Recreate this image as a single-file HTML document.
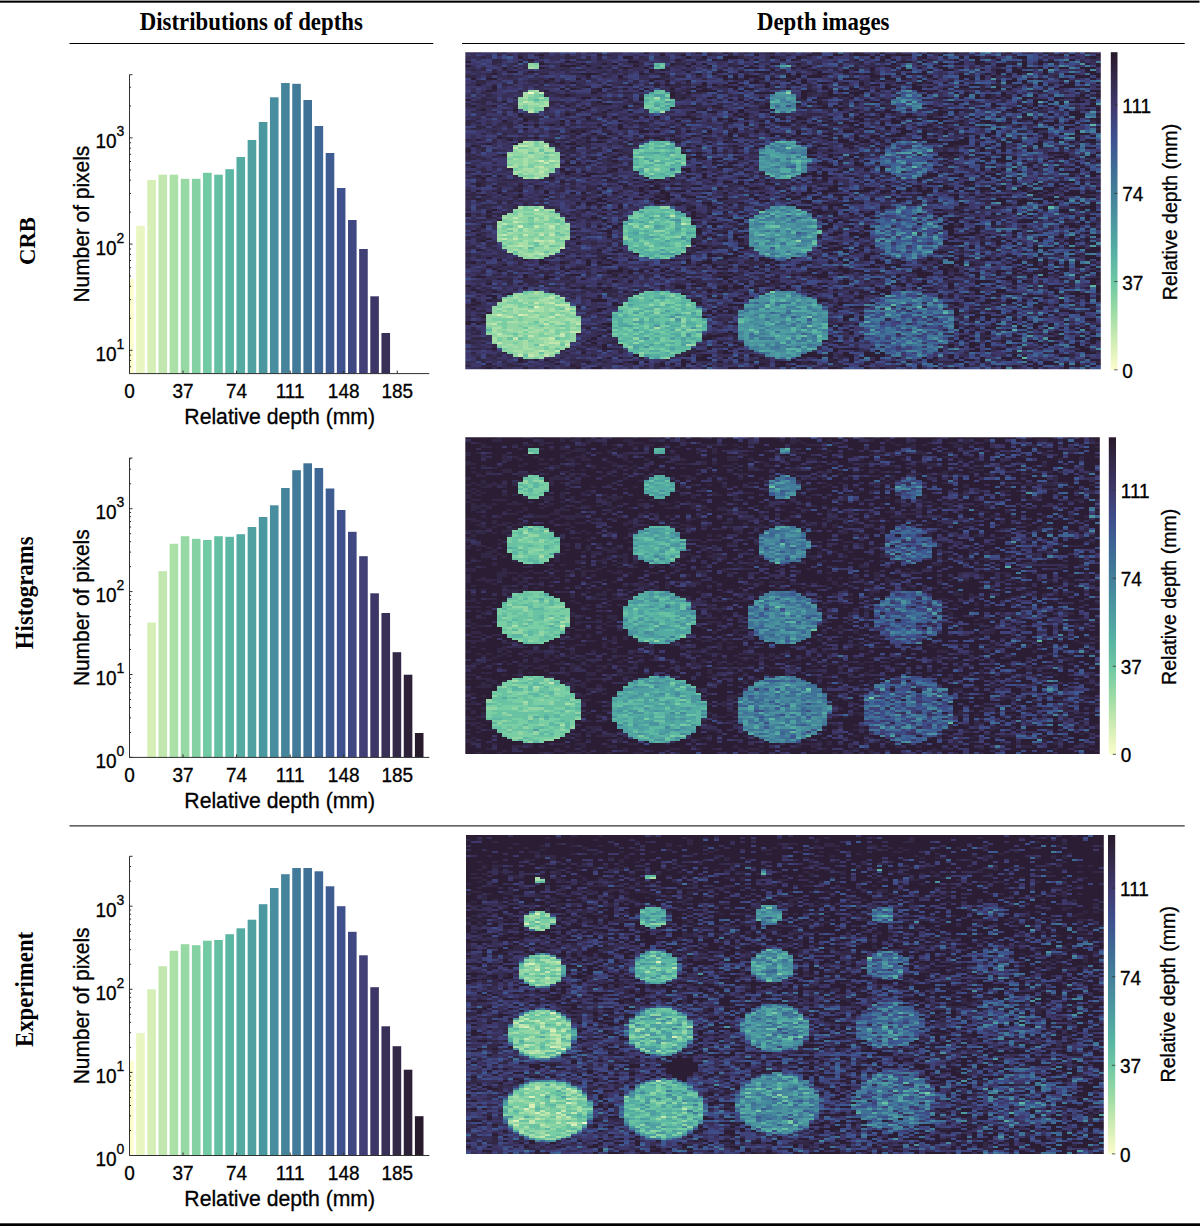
<!DOCTYPE html>
<html><head><meta charset="utf-8"><title>Depth figure</title>
<style>html,body{margin:0;padding:0;background:#fff}svg{display:block}text{fill:#000}.s{font-family:"Liberation Sans",sans-serif;stroke:#000;stroke-width:.3px}.b{font-family:"Liberation Serif",serif;font-weight:bold}</style></head>
<body>
<svg width="1200" height="1226" viewBox="0 0 1200 1226">
<rect width="1200" height="1226" fill="#fff"/>
<rect x="0" y="0.6" width="1199.5" height="2.1" fill="#000"/>
<rect x="0" y="1223.3" width="1200" height="2.7" fill="#000"/>
<rect x="69.5" y="43" width="363.8" height="1" fill="#000"/>
<rect x="462" y="43" width="722.7" height="1" fill="#000"/>
<rect x="69.5" y="825.4" width="1115.2" height="1" fill="#000"/>
<text class="b" transform="translate(251.30,30.20) scale(1,1.07)" text-anchor="middle" font-size="22.8">Distributions of depths</text>
<text class="b" transform="translate(823.20,30.20) scale(1,1.07)" text-anchor="middle" font-size="22.8">Depth images</text>
<text class="b" transform="translate(35.10,241.00) rotate(-90) scale(1,1.02)" text-anchor="middle" font-size="22.8">CRB</text>
<text class="b" transform="translate(33.30,592.80) rotate(-90) scale(1,1.07)" text-anchor="middle" font-size="22.8">Histograms</text>
<text class="b" transform="translate(33.30,989.40) rotate(-90) scale(1,1.07)" text-anchor="middle" font-size="22.8">Experiment</text>
<rect x="129.50" y="278.70" width="4.10" height="94.90" fill="#fdfdcc"/>
<rect x="136.15" y="225.80" width="8.60" height="147.80" fill="#e9f6c1"/>
<rect x="147.30" y="180.00" width="8.60" height="193.60" fill="#d5efb7"/>
<rect x="158.45" y="174.70" width="8.60" height="198.90" fill="#c1e7af"/>
<rect x="169.60" y="174.70" width="8.60" height="198.90" fill="#abe0a9"/>
<rect x="180.75" y="178.80" width="8.60" height="194.80" fill="#97d9a5"/>
<rect x="191.90" y="178.80" width="8.60" height="194.80" fill="#84d1a4"/>
<rect x="203.05" y="172.80" width="8.60" height="200.80" fill="#71caa3"/>
<rect x="214.20" y="174.70" width="8.60" height="198.90" fill="#65c0a3"/>
<rect x="225.35" y="169.20" width="8.60" height="204.40" fill="#5bb6a3"/>
<rect x="236.50" y="157.00" width="8.60" height="216.60" fill="#54aba2"/>
<rect x="247.65" y="140.00" width="8.60" height="233.60" fill="#4fa1a1"/>
<rect x="258.80" y="122.00" width="8.60" height="251.60" fill="#4b97a0"/>
<rect x="269.95" y="97.30" width="8.60" height="276.30" fill="#488e9e"/>
<rect x="281.10" y="83.00" width="8.60" height="290.60" fill="#45849b"/>
<rect x="292.25" y="83.80" width="8.60" height="289.80" fill="#427a99"/>
<rect x="303.40" y="100.00" width="8.60" height="273.60" fill="#3f7197"/>
<rect x="314.55" y="126.00" width="8.60" height="247.60" fill="#3e6795"/>
<rect x="325.70" y="153.00" width="8.60" height="220.60" fill="#3e5c92"/>
<rect x="336.85" y="188.00" width="8.60" height="185.60" fill="#3e518e"/>
<rect x="348.00" y="220.00" width="8.60" height="153.60" fill="#3f4882"/>
<rect x="359.15" y="249.00" width="8.60" height="124.60" fill="#403f76"/>
<rect x="370.30" y="296.30" width="8.60" height="77.30" fill="#3d3767"/>
<rect x="381.45" y="333.00" width="8.60" height="40.60" fill="#393057"/>
<path d="M129.5 74.7V373.6H429.3" fill="none" stroke="#303030" stroke-width="1"/>
<text class="s" transform="translate(129.50,398.20) scale(1,1.08)" text-anchor="middle" font-size="19">0</text>
<text class="s" transform="translate(183.05,398.20) scale(1,1.08)" text-anchor="middle" font-size="19">37</text>
<text class="s" transform="translate(236.60,398.20) scale(1,1.08)" text-anchor="middle" font-size="19">74</text>
<text class="s" transform="translate(290.15,398.20) scale(1,1.08)" text-anchor="middle" font-size="19">111</text>
<text class="s" transform="translate(343.70,398.20) scale(1,1.08)" text-anchor="middle" font-size="19">148</text>
<text class="s" transform="translate(397.25,398.20) scale(1,1.08)" text-anchor="middle" font-size="19">185</text>
<path d="M129.50 373.6v-3M183.05 373.6v-3M236.60 373.6v-3M290.15 373.6v-3M343.70 373.6v-3M397.25 373.6v-3M129.5 74.7h3M129.5 366.75h1.6M129.5 360.59h1.6M129.5 355.16h1.6M129.5 350.30h3M129.5 318.33h1.6M129.5 299.63h1.6M129.5 286.36h1.6M129.5 276.07h1.6M129.5 267.66h1.6M129.5 260.55h1.6M129.5 254.39h1.6M129.5 248.96h1.6M129.5 244.10h3M129.5 212.13h1.6M129.5 193.43h1.6M129.5 180.16h1.6M129.5 169.87h1.6M129.5 161.46h1.6M129.5 154.35h1.6M129.5 148.19h1.6M129.5 142.76h1.6M129.5 137.90h3M129.5 105.93h1.6M129.5 87.23h1.6" fill="none" stroke="#303030" stroke-width="1"/>
<text class="s" transform="translate(116.60,360.80) scale(1,1.08)" text-anchor="end" font-size="19">10</text>
<text class="s" transform="translate(116.60,348.70) scale(1,1.08)" font-size="14">1</text>
<text class="s" transform="translate(116.60,254.60) scale(1,1.08)" text-anchor="end" font-size="19">10</text>
<text class="s" transform="translate(116.60,242.50) scale(1,1.08)" font-size="14">2</text>
<text class="s" transform="translate(116.60,148.40) scale(1,1.08)" text-anchor="end" font-size="19">10</text>
<text class="s" transform="translate(116.60,136.30) scale(1,1.08)" font-size="14">3</text>
<text class="s" transform="translate(279.70,423.90) scale(1,1.08)" text-anchor="middle" font-size="21.2">Relative depth (mm)</text>
<text class="s" transform="translate(88.90,224.15) rotate(-90) scale(1,1.08)" text-anchor="middle" font-size="20.9">Number of pixels</text>
<rect x="147.30" y="622.50" width="8.60" height="134.90" fill="#d5efb7"/>
<rect x="158.45" y="571.20" width="8.60" height="186.20" fill="#c1e7af"/>
<rect x="169.60" y="543.80" width="8.60" height="213.60" fill="#abe0a9"/>
<rect x="180.75" y="536.20" width="8.60" height="221.20" fill="#97d9a5"/>
<rect x="191.90" y="538.80" width="8.60" height="218.60" fill="#84d1a4"/>
<rect x="203.05" y="540.00" width="8.60" height="217.40" fill="#71caa3"/>
<rect x="214.20" y="536.20" width="8.60" height="221.20" fill="#65c0a3"/>
<rect x="225.35" y="536.80" width="8.60" height="220.60" fill="#5bb6a3"/>
<rect x="236.50" y="534.20" width="8.60" height="223.20" fill="#54aba2"/>
<rect x="247.65" y="527.00" width="8.60" height="230.40" fill="#4fa1a1"/>
<rect x="258.80" y="517.00" width="8.60" height="240.40" fill="#4b97a0"/>
<rect x="269.95" y="505.30" width="8.60" height="252.10" fill="#488e9e"/>
<rect x="281.10" y="488.00" width="8.60" height="269.40" fill="#45849b"/>
<rect x="292.25" y="470.20" width="8.60" height="287.20" fill="#427a99"/>
<rect x="303.40" y="463.30" width="8.60" height="294.10" fill="#3f7197"/>
<rect x="314.55" y="468.00" width="8.60" height="289.40" fill="#3e6795"/>
<rect x="325.70" y="488.50" width="8.60" height="268.90" fill="#3e5c92"/>
<rect x="336.85" y="510.00" width="8.60" height="247.40" fill="#3e518e"/>
<rect x="348.00" y="531.80" width="8.60" height="225.60" fill="#3f4882"/>
<rect x="359.15" y="556.20" width="8.60" height="201.20" fill="#403f76"/>
<rect x="370.30" y="593.30" width="8.60" height="164.10" fill="#3d3767"/>
<rect x="381.45" y="613.00" width="8.60" height="144.40" fill="#393057"/>
<rect x="392.60" y="652.20" width="8.60" height="105.20" fill="#342848"/>
<rect x="403.75" y="674.70" width="8.60" height="82.70" fill="#2d213a"/>
<rect x="414.90" y="733.00" width="8.60" height="24.40" fill="#271a2c"/>
<path d="M129.5 458V757.4H429.3" fill="none" stroke="#303030" stroke-width="1"/>
<text class="s" transform="translate(129.50,782.00) scale(1,1.08)" text-anchor="middle" font-size="19">0</text>
<text class="s" transform="translate(183.05,782.00) scale(1,1.08)" text-anchor="middle" font-size="19">37</text>
<text class="s" transform="translate(236.60,782.00) scale(1,1.08)" text-anchor="middle" font-size="19">74</text>
<text class="s" transform="translate(290.15,782.00) scale(1,1.08)" text-anchor="middle" font-size="19">111</text>
<text class="s" transform="translate(343.70,782.00) scale(1,1.08)" text-anchor="middle" font-size="19">148</text>
<text class="s" transform="translate(397.25,782.00) scale(1,1.08)" text-anchor="middle" font-size="19">185</text>
<path d="M129.50 757.4v-3M183.05 757.4v-3M236.60 757.4v-3M290.15 757.4v-3M343.70 757.4v-3M397.25 757.4v-3M129.5 458h3M129.5 757.40h3M129.5 732.44h1.6M129.5 717.85h1.6M129.5 707.49h1.6M129.5 699.46h1.6M129.5 692.89h1.6M129.5 687.34h1.6M129.5 682.53h1.6M129.5 678.29h1.6M129.5 674.50h3M129.5 649.54h1.6M129.5 634.95h1.6M129.5 624.59h1.6M129.5 616.56h1.6M129.5 609.99h1.6M129.5 604.44h1.6M129.5 599.63h1.6M129.5 595.39h1.6M129.5 591.60h3M129.5 566.64h1.6M129.5 552.05h1.6M129.5 541.69h1.6M129.5 533.66h1.6M129.5 527.09h1.6M129.5 521.54h1.6M129.5 516.73h1.6M129.5 512.49h1.6M129.5 508.70h3M129.5 483.74h1.6M129.5 469.15h1.6M129.5 458.79h1.6" fill="none" stroke="#303030" stroke-width="1"/>
<text class="s" transform="translate(116.60,767.90) scale(1,1.08)" text-anchor="end" font-size="19">10</text>
<text class="s" transform="translate(116.60,755.80) scale(1,1.08)" font-size="14">0</text>
<text class="s" transform="translate(116.60,685.00) scale(1,1.08)" text-anchor="end" font-size="19">10</text>
<text class="s" transform="translate(116.60,672.90) scale(1,1.08)" font-size="14">1</text>
<text class="s" transform="translate(116.60,602.10) scale(1,1.08)" text-anchor="end" font-size="19">10</text>
<text class="s" transform="translate(116.60,590.00) scale(1,1.08)" font-size="14">2</text>
<text class="s" transform="translate(116.60,519.20) scale(1,1.08)" text-anchor="end" font-size="19">10</text>
<text class="s" transform="translate(116.60,507.10) scale(1,1.08)" font-size="14">3</text>
<text class="s" transform="translate(279.70,807.70) scale(1,1.08)" text-anchor="middle" font-size="21.2">Relative depth (mm)</text>
<text class="s" transform="translate(88.90,607.70) rotate(-90) scale(1,1.08)" text-anchor="middle" font-size="20.9">Number of pixels</text>
<rect x="129.50" y="1060.80" width="4.10" height="94.70" fill="#fdfdcc"/>
<rect x="136.15" y="1033.00" width="8.60" height="122.50" fill="#e9f6c1"/>
<rect x="147.30" y="989.20" width="8.60" height="166.30" fill="#d5efb7"/>
<rect x="158.45" y="966.20" width="8.60" height="189.30" fill="#c1e7af"/>
<rect x="169.60" y="950.80" width="8.60" height="204.70" fill="#abe0a9"/>
<rect x="180.75" y="944.20" width="8.60" height="211.30" fill="#97d9a5"/>
<rect x="191.90" y="945.20" width="8.60" height="210.30" fill="#84d1a4"/>
<rect x="203.05" y="940.70" width="8.60" height="214.80" fill="#71caa3"/>
<rect x="214.20" y="940.00" width="8.60" height="215.50" fill="#65c0a3"/>
<rect x="225.35" y="934.20" width="8.60" height="221.30" fill="#5bb6a3"/>
<rect x="236.50" y="928.30" width="8.60" height="227.20" fill="#54aba2"/>
<rect x="247.65" y="919.70" width="8.60" height="235.80" fill="#4fa1a1"/>
<rect x="258.80" y="904.20" width="8.60" height="251.30" fill="#4b97a0"/>
<rect x="269.95" y="888.00" width="8.60" height="267.50" fill="#488e9e"/>
<rect x="281.10" y="874.20" width="8.60" height="281.30" fill="#45849b"/>
<rect x="292.25" y="868.00" width="8.60" height="287.50" fill="#427a99"/>
<rect x="303.40" y="868.00" width="8.60" height="287.50" fill="#3f7197"/>
<rect x="314.55" y="871.30" width="8.60" height="284.20" fill="#3e6795"/>
<rect x="325.70" y="886.30" width="8.60" height="269.20" fill="#3e5c92"/>
<rect x="336.85" y="906.20" width="8.60" height="249.30" fill="#3e518e"/>
<rect x="348.00" y="931.80" width="8.60" height="223.70" fill="#3f4882"/>
<rect x="359.15" y="955.30" width="8.60" height="200.20" fill="#403f76"/>
<rect x="370.30" y="987.20" width="8.60" height="168.30" fill="#3d3767"/>
<rect x="381.45" y="1026.30" width="8.60" height="129.20" fill="#393057"/>
<rect x="392.60" y="1046.20" width="8.60" height="109.30" fill="#342848"/>
<rect x="403.75" y="1069.70" width="8.60" height="85.80" fill="#2d213a"/>
<rect x="414.90" y="1116.20" width="8.60" height="39.30" fill="#271a2c"/>
<path d="M129.5 856.3V1155.5H429.3" fill="none" stroke="#303030" stroke-width="1"/>
<text class="s" transform="translate(129.50,1180.10) scale(1,1.08)" text-anchor="middle" font-size="19">0</text>
<text class="s" transform="translate(183.05,1180.10) scale(1,1.08)" text-anchor="middle" font-size="19">37</text>
<text class="s" transform="translate(236.60,1180.10) scale(1,1.08)" text-anchor="middle" font-size="19">74</text>
<text class="s" transform="translate(290.15,1180.10) scale(1,1.08)" text-anchor="middle" font-size="19">111</text>
<text class="s" transform="translate(343.70,1180.10) scale(1,1.08)" text-anchor="middle" font-size="19">148</text>
<text class="s" transform="translate(397.25,1180.10) scale(1,1.08)" text-anchor="middle" font-size="19">185</text>
<path d="M129.50 1155.5v-3M183.05 1155.5v-3M236.60 1155.5v-3M290.15 1155.5v-3M343.70 1155.5v-3M397.25 1155.5v-3M129.5 856.3h3M129.5 1155.50h3M129.5 1130.48h1.6M129.5 1115.85h1.6M129.5 1105.47h1.6M129.5 1097.42h1.6M129.5 1090.84h1.6M129.5 1085.27h1.6M129.5 1080.45h1.6M129.5 1076.20h1.6M129.5 1072.40h3M129.5 1047.38h1.6M129.5 1032.75h1.6M129.5 1022.37h1.6M129.5 1014.32h1.6M129.5 1007.74h1.6M129.5 1002.17h1.6M129.5 997.35h1.6M129.5 993.10h1.6M129.5 989.30h3M129.5 964.28h1.6M129.5 949.65h1.6M129.5 939.27h1.6M129.5 931.22h1.6M129.5 924.64h1.6M129.5 919.07h1.6M129.5 914.25h1.6M129.5 910.00h1.6M129.5 906.20h3M129.5 881.18h1.6M129.5 866.55h1.6" fill="none" stroke="#303030" stroke-width="1"/>
<text class="s" transform="translate(116.60,1166.00) scale(1,1.08)" text-anchor="end" font-size="19">10</text>
<text class="s" transform="translate(116.60,1153.90) scale(1,1.08)" font-size="14">0</text>
<text class="s" transform="translate(116.60,1082.90) scale(1,1.08)" text-anchor="end" font-size="19">10</text>
<text class="s" transform="translate(116.60,1070.80) scale(1,1.08)" font-size="14">1</text>
<text class="s" transform="translate(116.60,999.80) scale(1,1.08)" text-anchor="end" font-size="19">10</text>
<text class="s" transform="translate(116.60,987.70) scale(1,1.08)" font-size="14">2</text>
<text class="s" transform="translate(116.60,916.70) scale(1,1.08)" text-anchor="end" font-size="19">10</text>
<text class="s" transform="translate(116.60,904.60) scale(1,1.08)" font-size="14">3</text>
<text class="s" transform="translate(279.70,1205.80) scale(1,1.08)" text-anchor="middle" font-size="21.2">Relative depth (mm)</text>
<text class="s" transform="translate(88.90,1005.90) rotate(-90) scale(1,1.08)" text-anchor="middle" font-size="20.9">Number of pixels</text>
<defs><filter id="soft" x="-2%" y="-2%" width="104%" height="104%" color-interpolation-filters="sRGB"><feGaussianBlur stdDeviation="0.25 0.55"/></filter></defs>
<clipPath id="cp1"><rect x="465.3" y="52.2" width="635.5" height="317.0"/></clipPath>
<g clip-path="url(#cp1)"><g filter="url(#soft)"><g transform="translate(465.3,52.2) scale(5.25207,2.11333) translate(0,.5)" shape-rendering="crispEdges" fill="none" stroke-width="1">
<rect x="-1" y="-1.5" width="123" height="152" fill="#382f56"/>
<path stroke="#f1f9c6" d="M12 19h1"/>
<path stroke="#daf0b9" d="M14 51h1m-2 23h1m-4 8h1m2 38h1m-8 4h1m3 0h1"/>
<path stroke="#c2e8b0" d="M14 19h1m-4 4h1m0 5h1m-2 14h1m-2 2h2m3 0h1m-7 1h1m6 6h1m-2 1h1m-8 2h1m5 0h1m-1 2h1m-2 3h1m25 18h1m-31 1h1m-1 2h1m-3 1h1m33 0h1m-29 1h1m2 0h1m-10 4h1m3 0h1m2 0h1m1 0h1m-10 2h1m1 0h1m3 1h2m1 0h1m-7 2h1m7 1h1m-5 3h1m1 21h1m-4 2h1m2 0h1m0 1h3m-1 2h1m-8 1h1m-2 2h1m5 0h1m-10 1h1m7 0h1m-12 3h1m9 0h1m5 0h1m-2 4h2m-16 1h1m11 0h1m-7 1h1m5 0h1m-10 1h1m6 0h1m-11 2h1m9 0h2m-4 1h1m4 0h1m-6 3h1m2 0h1m-8 2h1m1 0h1m2 0h1"/>
<path stroke="#a8dfa8" d="M12 7h1m0 11h1m-3 1h1m-1 1h1m-1 1h1m2 0h1m21 0h1m-25 2h1m2 0h1m-6 1h1m1 0h2m1 0h1m-2 1h2m-4 2h1m24 1h1m-26 14h1m1 0h1m-3 1h1m-1 1h1m0 1h1m1 0h1m-6 1h2m1 0h1m1 0h2m-6 1h1m2 0h1m-7 1h1m3 0h1m3 0h1m-5 1h1m-4 1h1m1 0h1m-1 1h1m1 0h1m3 0h1m-7 1h1m-3 1h1m1 0h1m5 0h1m-9 1h1m3 0h1m3 0h1m-7 1h2m1 0h2m-7 1h2m1 0h1m-4 1h1m1 0h1m1 0h2m-1 1h2m-5 1h1m-2 14h1m3 0h1m0 1h2m-7 2h1m2 0h2m-5 1h1m4 0h1m-9 1h1m5 0h1m1 0h1m1 0h1m-5 1h1m1 0h1m-10 1h1m3 0h1m4 1h1m1 0h1m1 0h1m-14 1h1m27 0h1m-27 1h2m1 0h1m4 0h1m2 0h1m-11 1h1m1 0h1m-4 1h1m5 0h1m1 0h1m-11 1h1m2 1h1m9 0h1m-14 1h1m6 0h1m4 0h2m-9 1h1m3 0h1m-6 1h2m2 0h1m1 0h1m-9 1h2m1 0h2m2 0h1m26 0h1m-32 1h1m3 0h1m-7 1h1m7 0h1m-10 1h1m1 0h1m2 0h1m-3 1h3m2 0h1m-5 1h1m0 1h1m-1 16h1m-4 1h1m2 0h1m-5 1h1m6 0h1m-8 1h1m5 0h1m2 0h1m-12 1h1m2 0h1m3 0h2m-5 1h1m3 0h1m-8 1h1m-2 1h3m4 0h1m4 0h1m-14 1h1m2 0h3m1 0h2m1 0h1m3 0h1m-14 1h1m1 0h1m3 0h2m1 0h1m1 0h2m-11 1h1m10 0h1m-16 1h1m1 0h1m5 0h1m4 0h1m-12 1h1m4 0h2m0 1h2m3 0h2m-15 1h1m1 0h2m1 0h1m2 0h1m1 0h2m2 0h2m-18 1h1m12 0h2m-14 2h2m5 0h1m2 0h1m2 0h1m1 0h1m15 0h1m-32 1h1m2 0h1m2 0h1m1 0h2m1 0h1m-12 1h1m4 0h1m1 0h2m2 0h1m-2 1h1m-10 1h3m1 0h1m6 0h1m-13 1h1m8 0h2m-11 1h1m5 0h1m3 0h3m1 0h1m-9 1h1m3 0h1m3 0h1m-12 1h1m2 0h1m3 0h1m1 0h1m24 0h1m-36 1h1m1 0h1m1 0h1m4 0h1m-6 1h2m-4 1h2m2 0h1m1 0h1m-6 1h1m1 0h2m1 0h2m-4 1h1m0 1h1"/>
<path stroke="#91d6a4" d="M12 5h1m-1 1h2m-1 1h1m-2 11h1m0 1h1m47 0h1m-50 1h1m-3 1h1m-1 1h2m26 0h1m-29 1h1m3 0h1m-4 1h1m2 0h1m-5 1h1m1 0h2m-4 1h1m1 0h1m1 1h1m-5 16h2m2 0h2m22 0h1m-30 1h1m4 0h1m-3 1h1m1 0h1m-6 1h1m2 0h1m-5 1h3m2 0h1m3 0h1m-9 1h3m1 0h3m1 0h1m21 0h1m-32 1h1m2 0h1m1 0h2m1 0h2m15 0h1m-24 1h1m1 0h2m2 0h2m-10 1h3m1 0h1m2 0h1m20 0h1m-29 1h3m1 0h1m1 0h1m2 0h1m23 0h1m-32 1h1m2 0h2m1 0h1m-6 1h1m3 0h2m-7 1h1m2 0h1m20 0h1m1 0h1m-26 1h1m1 0h1m1 0h2m-5 1h1m2 0h1m19 0h1m-23 1h1m-2 1h1m-1 14h1m24 0h2m-30 1h2m-1 1h6m-8 1h1m6 0h2m-10 1h3m1 0h2m1 0h1m1 0h2m18 0h1m-29 1h1m1 0h2m-4 1h4m2 0h1m3 0h1m-8 1h1m1 0h2m20 0h1m-30 1h1m1 0h2m6 0h1m14 0h1m10 0h1m-34 1h1m4 0h2m2 0h2m12 0h1m-27 1h1m5 0h2m1 0h1m2 0h1m-13 1h2m4 0h1m2 0h4m17 0h2m-32 1h1m2 0h5m1 0h1m2 0h2m-12 1h2m2 0h1m6 0h1m-14 1h1m4 0h1m1 0h1m1 0h4m11 0h1m9 0h1m-33 1h1m1 0h3m2 0h2m13 0h1m-25 1h1m1 0h2m2 0h1m50 0h1m-57 1h1m1 0h1m5 0h1m1 0h2m15 0h1m-17 1h1m16 0h1m-29 1h3m3 0h2m1 0h2m-10 1h1m1 0h2m1 0h4m-6 1h1m2 0h1m1 0h1m-7 1h1m4 0h1m-6 1h2m2 0h2m-5 1h2m1 16h1m-6 1h1m2 0h1m1 0h1m-5 1h5m2 0h1m21 0h1m-32 1h1m1 0h2m2 0h1m18 0h1m-26 1h1m2 0h3m2 0h2m-12 1h2m6 0h1m3 0h1m18 0h1m-32 1h2m1 0h1m2 0h2m1 0h2m18 0h1m1 0h1m4 0h1m-38 1h1m5 0h1m3 0h2m1 0h1m-14 1h1m1 0h1m4 0h1m2 0h1m16 0h1m3 0h1m-32 1h1m2 0h1m1 0h2m3 0h1m1 0h1m-13 1h2m1 0h1m1 0h3m1 0h2m1 0h1m1 0h1m16 0h1m5 0h1m-39 1h1m3 0h1m3 0h1m1 0h2m4 0h1m-17 1h3m2 0h1m1 0h1m3 0h1m2 0h2m-16 1h1m4 0h1m1 0h3m2 0h3m2 0h1m10 0h1m6 0h1m1 0h1m-38 1h2m4 0h1m1 0h1m5 0h1m22 0h1m-34 1h4m2 0h1m5 0h1m-17 1h3m1 0h2m1 0h3m1 0h2m3 0h1m20 0h1m2 0h1m-37 1h3m2 0h2m1 0h2m3 0h1m-16 1h2m1 0h2m1 0h1m7 0h2m18 0h1m1 0h2m-38 1h1m1 0h2m4 0h2m2 0h2m-16 1h2m1 0h1m2 0h4m2 0h1m3 0h1m-16 1h1m7 0h1m2 0h1m3 0h1m-14 1h1m4 0h2m6 0h1m11 0h1m-26 1h4m2 0h2m3 0h1m1 0h1m12 0h1m-29 1h1m1 0h2m1 0h1m1 0h3m17 0h1m-27 1h2m1 0h2m1 0h1m3 0h1m26 0h1m-36 1h1m1 0h1m1 0h3m2 0h3m11 0h1m-24 1h3m2 0h2m1 0h1m1 0h1m-12 1h2m2 0h2m3 0h1m-8 1h1m1 0h1m21 0h1m-25 1h1m4 0h1m1 0h1m-5 1h1m25 0h1"/>
<path stroke="#7acea4" d="M13 5h1m23 1h1m-25 14h1m24 0h1m-27 1h2m1 0h1m-4 1h1m1 0h2m20 0h1m-24 1h1m21 0h1m-25 2h1m22 0h2m-25 1h1m1 0h2m19 0h1m1 0h1m-26 1h1m1 0h1m-1 15h1m-1 1h1m21 0h1m-23 1h1m19 0h1m3 0h1m-28 1h2m4 0h1m18 0h1m4 0h1m20 0h1m-29 1h1m3 0h1m-22 1h1m15 0h1m-24 2h2m21 0h1m-25 1h1m5 0h2m22 0h1m-5 1h1m5 0h1m-28 1h1m2 0h1m17 0h2m2 0h2m-32 1h1m3 0h1m2 0h1m20 0h1m1 0h1m-29 1h1m1 0h1m19 0h1m-24 1h1m6 0h1m17 1h1m5 0h1m-31 1h1m-1 1h3m26 0h1m-26 1h1m-4 14h1m1 0h1m-3 1h2m1 0h1m-6 1h1m28 0h1m-30 1h1m1 0h2m4 0h1m14 0h1m6 0h1m-27 1h1m18 0h2m-20 1h1m1 0h1m1 0h1m12 0h2m8 0h1m-35 1h1m4 0h1m3 0h1m19 0h1m4 0h2m-36 1h2m3 0h1m2 0h2m1 0h1m19 0h2m1 0h1m-32 1h2m1 0h2m3 0h1m13 0h1m6 0h1m-33 1h1m3 0h2m4 0h1m17 0h1m3 0h1m-33 1h1m2 0h1m3 0h1m2 0h1m15 0h1m4 0h1m2 0h1m-32 1h1m2 0h2m4 0h1m10 0h1m-24 1h1m25 0h1m4 0h1m2 0h1m-32 1h1m2 0h1m1 0h1m1 0h1m17 0h1m1 0h1m3 0h1m-35 1h2m1 0h1m1 0h1m1 0h1m23 0h2m-26 1h1m2 0h1m13 0h1m4 0h1m1 0h1m-32 1h1m2 0h1m6 0h2m14 0h1m-26 1h1m3 0h1m27 0h1m-27 1h1m2 0h1m14 0h1m7 0h1m-31 1h1m26 0h1m-26 1h1m22 0h1m-24 1h1m4 0h1m21 0h1m1 0h1m-33 1h1m3 1h1m19 0h1m-20 1h1m23 0h1m-27 16h1m45 0h1m-48 1h1m3 0h1m17 0h1m3 0h1m1 0h1m-25 1h1m16 0h1m-26 1h1m4 0h2m26 0h1m-32 1h1m8 0h1m17 0h1m1 0h1m-31 1h3m1 0h1m4 0h1m1 0h1m10 0h1m7 0h2m-30 1h2m2 0h1m25 0h1m-35 1h1m3 0h1m6 0h1m2 0h1m9 0h1m8 0h1m-32 1h1m8 0h1m13 0h1m8 0h1m-35 1h1m13 0h1m10 0h1m2 0h1m1 0h1m7 0h1m-38 1h1m5 0h1m2 0h1m1 0h1m12 0h1m1 0h1m7 0h1m-33 1h1m6 0h1m2 0h1m9 0h1m2 0h1m-23 1h1m3 0h1m2 0h1m2 0h2m18 0h1m24 0h1m-61 1h4m1 0h1m23 0h1m8 0h1m-37 1h1m7 0h1m3 0h1m-14 1h2m4 0h2m2 0h1m2 0h1m12 0h1m-26 1h1m2 0h1m6 0h1m1 0h1m1 0h1m12 0h1m2 0h2m26 0h1m-62 1h1m2 0h1m11 0h1m10 0h1m1 0h1m1 0h1m-20 1h1m1 0h3m8 0h1m2 0h1m3 0h1m8 0h1m-41 1h1m2 0h1m3 0h1m5 0h1m15 0h1m3 0h1m3 0h1m-34 1h1m5 0h1m2 0h1m1 0h1m8 0h1m1 0h1m1 0h1m8 0h1m2 0h1m-36 1h1m1 0h1m2 0h2m3 0h1m14 0h1m6 0h1m2 0h1m-39 1h1m4 0h1m6 0h2m17 0h1m-32 1h1m5 0h1m24 0h1m1 0h1m-31 1h1m8 0h1m10 0h1m6 0h1m-7 1h1m7 0h1m-33 1h1m8 0h1m-9 1h1m7 0h1m19 0h1m1 0h1m0 1h1m-31 1h1m8 0h1m21 0h1m-7 1h1m-23 1h1m1 0h1m23 0h1"/>
<path stroke="#69c3a3" d="M37 5h1m-2 2h1m0 11h1m-2 1h2m-24 1h1m19 1h2m-1 1h1m3 0h1m-3 1h1m-4 1h2m2 0h1m-2 1h1m-3 1h1m0 1h2m-25 1h1m21 0h1m1 14h1m-3 2h2m-23 2h1m17 0h1m1 0h3m1 0h1m1 0h1m-29 1h1m2 0h1m24 0h1m-5 1h1m3 0h2m-27 1h1m18 0h4m1 0h3m-9 1h1m2 0h2m3 0h1m-9 1h1m7 0h1m21 0h1m-31 1h1m-1 1h1m3 0h1m3 0h1m-9 1h1m1 0h3m-3 1h1m1 0h2m-3 1h2m0 1h1m-5 1h1m26 0h1m-27 1h3m-5 15h4m2 0h1m-24 1h1m15 0h1m1 0h1m1 0h2m1 0h1m16 0h1m-24 1h1m1 1h1m2 0h1m-27 1h1m21 0h1m4 0h1m-23 1h1m15 0h1m4 0h1m-22 1h1m19 0h1m4 0h1m-31 1h1m20 0h1m1 0h1m1 0h1m-30 1h1m21 0h1m7 0h1m19 0h2m-30 1h1m3 0h2m3 0h1m3 0h1m-36 1h1m26 0h1m2 0h1m2 0h1m25 0h1m-51 1h1m12 0h1m5 0h1m30 0h1m-50 1h1m11 0h1m5 0h1m3 0h1m2 0h1m12 0h1m-20 1h1m4 0h1m-10 1h1m-3 1h1m2 0h1m2 0h1m3 0h1m-29 1h1m18 0h1m2 0h1m3 0h1m26 0h1m-60 1h1m5 0h1m2 0h1m17 0h1m6 0h1m-11 1h1m3 0h2m1 0h3m-9 1h1m1 0h1m1 0h1m1 0h1m1 0h2m-33 1h1m5 0h1m16 0h1m4 0h1m-2 2h2m-3 1h1m1 0h1m-27 16h1m22 0h2m1 0h1m-22 1h1m21 0h1m-4 1h1m2 0h1m2 0h1m-25 1h1m14 0h1m2 0h1m-3 1h1m5 0h2m-6 1h2m5 0h2m-14 1h1m2 0h2m1 0h1m20 0h1m-46 1h1m16 0h1m2 0h1m1 0h1m7 0h2m13 0h1m-40 1h1m10 0h2m2 0h1m3 0h2m3 0h1m-13 1h1m4 0h1m1 0h1m2 0h1m2 0h1m-16 1h1m1 0h1m8 0h1m4 0h1m-14 1h1m1 0h1m1 0h4m5 0h1m-12 1h2m2 0h1m3 0h1m-12 1h2m4 0h3m5 0h1m-32 1h1m14 0h1m1 0h2m5 0h1m6 0h2m6 0h1m-22 1h1m2 0h1m2 0h1m3 0h1m2 0h1m-31 1h1m3 0h1m9 0h1m4 0h1m-23 1h1m25 0h1m2 0h3m-13 1h1m5 0h1m1 0h1m15 0h1m-26 1h1m1 0h1m4 0h1m2 0h1m2 0h1m12 0h1m-47 1h1m19 0h1m5 0h1m1 0h2m-11 1h1m1 0h2m4 0h1m2 0h1m3 0h1m20 0h1m2 0h1m-60 1h1m1 0h1m6 0h1m11 0h1m5 0h1m2 0h1m-8 1h1m6 0h1m1 0h1m1 0h2m-14 1h1m9 0h1m2 0h1m-31 1h1m4 0h1m15 0h1m4 0h2m-11 1h1m4 0h1m-19 1h1m13 0h1m1 0h2m1 0h1m5 0h1m-9 1h1m2 0h1m2 0h1m-27 1h1m19 0h3m3 0h1m-30 1h1"/>
<path stroke="#5cb7a3" d="M36 5h1m24 1h1m-25 1h1m-2 11h1m-2 2h1m-23 2h1m23 0h1m-4 1h1m1 0h1m21 0h1m-22 1h1m1 1h1m-2 1h1m-4 1h1m83 7h1m-85 8h2m1 0h1m21 0h1m-27 1h1m1 0h1m2 0h1m-6 1h1m-1 1h1m4 1h1m-7 1h1m3 0h1m-6 1h1m1 0h2m1 0h1m0 1h1m-4 1h1m3 0h1m-8 1h1m4 0h3m22 0h1m-31 1h1m30 0h1m-30 1h1m5 0h1m-3 1h3m44 0h1m-54 1h1m7 0h1m22 0h1m-29 1h1m2 0h2m-7 1h2m1 0h1m2 0h1m17 0h1m-22 1h2m20 0h1m-24 15h2m74 0h1m-75 1h2m24 0h1m-29 1h1m-2 1h3m1 0h1m19 0h1m2 0h1m1 0h1m-33 1h1m8 0h1m-8 1h1m2 0h2m2 0h1m1 0h1m-11 1h1m1 0h2m1 0h1m16 0h1m11 0h1m-37 1h1m1 0h1m1 0h1m1 0h1m-1 1h1m1 0h1m-8 1h1m1 0h1m7 0h2m14 0h1m8 0h1m-36 1h2m4 0h1m4 0h1m18 0h1m-31 1h1m1 0h1m5 0h1m2 0h2m-10 1h2m1 0h1m2 0h1m21 0h1m22 0h1m-55 1h1m1 0h1m4 0h2m2 0h1m16 0h1m-28 1h2m9 0h1m21 0h1m-31 1h1m1 0h1m1 0h1m2 0h1m-8 1h2m2 0h2m25 0h1m-36 1h1m1 0h1m2 0h1m1 0h1m2 0h2m-12 1h1m1 0h1m2 0h2m1 0h1m19 0h1m-48 1h1m20 0h1m5 1h1m24 0h2m-33 1h1m1 0h1m4 0h1m-7 1h1m1 0h1m3 0h1m16 0h1m3 0h1m-24 1h2m79 14h1m-82 3h1m-5 1h3m3 0h1m-33 1h1m24 0h2m1 0h1m3 0h1m20 0h1m-31 1h1m2 0h1m3 0h2m-8 1h1m1 0h1m2 0h1m3 0h2m15 0h1m1 0h1m-30 1h4m5 0h1m-9 1h1m6 0h1m1 0h1m1 0h1m22 0h1m14 0h1m-51 1h1m1 0h1m1 0h1m1 0h2m1 0h2m44 0h1m-48 1h1m3 0h1m36 0h1m-49 1h1m6 0h1m1 0h2m19 0h1m-34 1h1m4 0h1m3 0h1m1 0h1m50 0h1m-50 1h1m-14 1h1m1 0h2m2 0h1m6 0h1m-15 1h1m13 0h1m9 0h1m8 0h1m-28 1h1m1 0h1m2 0h1m3 0h1m-16 1h1m6 0h1m3 0h2m4 0h1m12 0h1m9 0h1m-37 1h1m2 0h1m6 0h2m-15 1h1m1 0h1m1 0h1m5 0h1m4 0h2m16 0h1m5 0h1m-65 1h1m24 0h1m3 0h2m2 0h1m7 0h1m16 0h1m1 0h1m1 0h1m-39 1h1m1 0h1m1 0h1m2 0h1m2 0h1m1 0h1m2 0h1m22 0h1m-36 1h1m2 0h1m8 0h1m-15 1h1m3 0h1m1 0h1m1 0h2m20 0h1m-30 1h2m8 0h1m1 0h1m1 0h1m16 0h1m-32 1h1m1 0h1m1 0h3m30 0h1m-37 1h1m1 0h3m1 0h2m21 0h1m-30 1h1m4 0h1m-4 1h1m2 0h3m1 0h3m-5 1h1m1 0h2m19 0h2m2 0h1m-35 1h3m5 0h1m1 0h1m21 0h1m-32 1h1m4 0h1m-1 1h3m-5 1h1m70 0h1"/>
<path stroke="#54aba2" d="M36 6h1m24 12h1m-28 2h1m2 1h2m22 0h1m-28 1h1m24 0h1m-21 1h1m19 0h1m-24 1h1m2 0h1m-3 2h1m24 1h1m-4 1h1m-1 14h1m2 0h1m-26 1h1m0 1h2m22 0h1m-27 1h3m-5 2h2m2 0h1m-6 1h1m4 0h1m19 0h1m0 1h1m2 0h1m1 0h1m-33 1h1m31 1h1m-29 1h2m2 0h1m-9 1h1m2 0h1m3 0h1m18 0h1m4 0h1m-30 1h1m28 0h1m-4 1h2m-2 1h2m-25 1h1m25 0h1m-29 1h1m2 0h1m21 0h1m-1 1h2m-28 14h1m5 2h1m18 0h1m4 0h1m-28 1h1m3 0h1m-8 1h1m2 0h1m3 0h1m15 0h1m1 0h1m-4 1h1m7 1h1m-9 1h1m1 0h1m-25 1h1m5 0h1m-4 1h1m2 0h1m2 0h1m21 0h1m-30 1h1m17 0h1m-23 1h1m1 0h1m5 0h1m21 0h1m-32 1h1m7 0h1m3 0h1m11 0h1m1 0h1m8 0h1m-35 1h1m1 0h1m20 0h1m-25 1h1m2 0h1m1 0h1m-5 1h1m1 0h1m5 0h1m19 0h1m-31 1h1m1 0h1m22 0h1m1 0h1m2 0h1m1 0h1m-33 1h1m6 0h1m18 0h1m4 0h2m-25 1h1m19 0h1m-27 1h1m1 0h1m6 0h1m17 0h1m2 0h2m-33 1h1m1 0h1m21 0h1m-22 1h1m1 0h1m1 0h1m25 0h1m-32 1h1m1 0h1m-2 1h2m23 0h1m-24 17h1m20 1h1m-21 1h1m20 0h1m-23 1h1m4 0h1m-11 1h1m3 0h1m27 0h1m-23 1h1m16 0h1m3 0h1m-25 1h1m21 0h1m-25 1h1m23 0h1m2 0h2m-31 1h2m5 0h1m2 0h1m11 0h1m1 0h1m-26 1h1m25 0h1m3 0h2m-30 1h1m1 0h1m28 0h1m-39 1h1m1 0h1m3 0h1m4 0h1m1 0h1m1 0h1m12 0h1m-29 1h1m1 0h1m5 0h1m1 0h1m4 0h1m12 0h1m7 0h1m-36 1h1m3 0h1m1 0h1m17 0h1m9 0h1m2 0h1m-38 1h1m5 0h1m2 0h1m1 0h1m1 0h1m14 0h1m1 0h1m16 0h1m-48 1h2m2 0h1m2 0h1m5 0h2m13 0h1m-29 1h1m9 0h2m4 0h1m22 0h1m-41 1h1m6 0h1m2 0h1m2 1h1m62 0h1m-71 1h1m23 0h1m3 0h1m4 0h1m-35 1h1m2 0h1m2 0h2m17 0h1m-27 1h1m7 0h1m22 0h1m-31 1h1m2 0h1m6 0h1m19 0h1m3 0h1m-39 1h1m11 0h1m2 0h1m9 0h1m10 0h1m-27 1h1m1 0h1m-10 1h2m3 0h1m18 0h1m-18 1h1m24 0h1m-33 1h1m30 0h1m2 0h1m-32 1h2m19 0h1m-19 1h1m22 0h1m-27 1h2m24 1h1"/>
<path stroke="#4e9fa1" d="M60 6h1m-26 13h1m2 0h1m20 0h2m-25 1h2m24 1h1m-2 1h1m21 1h1m1 0h1m23 0h1m-26 1h1m35 0h1m-85 1h1m1 0h1m19 1h1m-21 1h1m-3 1h1m24 0h1m-1 14h1m-4 1h1m2 0h1m1 1h1m-31 1h1m5 0h1m17 1h2m29 0h1m-53 1h1m2 0h1m16 0h4m23 0h2m1 0h1m-28 1h2m1 0h2m-8 1h1m1 0h1m1 0h1m-27 1h1m5 0h1m19 0h1m2 0h1m-29 1h1m20 0h1m3 0h1m4 0h1m-9 1h1m1 0h1m2 0h1m20 0h1m-25 1h1m-4 1h2m-25 1h1m-1 1h1m24 1h1m3 0h1m-1 1h1m-4 1h1m0 14h1m-28 2h1m28 0h1m19 0h1m-43 1h1m19 0h1m3 0h1m-10 1h1m7 0h1m-29 1h1m2 0h1m26 0h1m-35 1h1m7 0h1m21 0h1m3 0h1m-35 1h1m1 0h1m6 0h1m16 0h1m2 0h1m-31 1h1m26 0h2m2 0h1m26 0h1m-53 1h1m3 1h1m15 0h3m1 0h1m2 0h1m23 0h1m-33 1h1m4 0h1m3 0h1m-33 1h1m9 0h1m15 0h1m1 0h1m-4 1h1m7 0h1m-31 1h1m5 0h1m15 0h1m6 0h1m19 0h1m4 0h1m-31 1h1m1 0h1m-24 1h1m3 0h1m13 0h1m2 1h1m-4 1h2m3 0h1m3 0h1m20 0h1m32 0h1m-63 1h1m6 0h2m-29 1h1m21 0h2m2 0h1m-4 1h1m1 0h1m25 0h1m-51 1h1m21 0h1m21 1h1m-47 1h1m78 8h1m-55 9h1m-6 1h1m23 0h1m-44 1h1m19 0h5m51 0h1m-60 1h1m4 0h1m5 0h2m22 0h1m-24 1h1m16 0h1m-53 1h1m21 0h2m3 0h1m2 0h2m2 0h1m-7 1h1m6 0h2m-4 1h1m-36 1h1m8 0h1m15 0h1m1 0h3m1 0h1m4 0h1m25 0h1m-60 1h1m10 0h1m10 0h1m10 0h1m2 0h1m-17 1h1m5 0h2m2 0h1m3 0h1m13 0h1m-37 1h1m8 0h1m7 0h1m-17 1h1m8 0h1m9 0h1m-33 1h2m19 0h1m8 0h1m1 0h1m-27 1h1m13 0h1m8 0h1m4 0h2m-38 1h2m22 0h1m2 0h1m5 0h1m2 0h1m-15 1h1m1 0h1m1 0h1m10 0h1m-36 1h1m6 0h1m12 0h2m1 0h1m1 0h1m1 0h2m16 0h1m8 0h1m-43 1h1m8 0h1m6 0h2m3 0h1m19 0h1m-33 1h1m1 0h1m3 0h1m6 0h2m-15 1h1m4 0h1m1 0h2m-23 1h1m1 0h1m11 0h1m1 0h1m3 0h2m7 0h1m-14 1h3m2 0h1m1 0h1m27 0h1m-49 1h1m19 0h1m1 0h1m-30 1h1m5 0h1m12 0h1m3 0h1m2 0h1m-30 1h1m6 1h1m17 1h2m2 0h1m43 0h1m-47 1h1m2 0h1m-29 1h1m24 0h1m2 0h1m-27 1h1"/>
<path stroke="#4a939f" d="M117 5h1m-34 1h1m26 2h1m-5 2h1m-8 2h1m-17 6h1m-26 2h3m22 0h1m-27 1h1m3 1h1m20 0h1m-46 1h1m23 0h1m51 0h1m-55 1h2m-4 1h1m1 0h1m-2 2h3m57 1h1m-13 1h1m9 8h1m-3 3h1m-31 2h1m-24 1h1m-6 1h1m1 0h1m-3 1h1m4 0h1m1 0h1m17 2h1m-22 1h1m18 0h1m-20 1h1m-6 1h1m1 0h1m3 0h1m-6 1h1m3 0h1m20 0h1m-27 1h1m1 0h1m5 0h1m-9 1h2m2 1h1m3 0h1m-9 1h1m1 0h2m-3 1h1m5 0h1m18 0h1m-24 1h1m25 1h1m-3 1h1m23 8h1m-7 4h1m-15 1h1m-30 1h1m24 0h1m-25 1h1m1 0h2m19 0h1m3 0h1m-30 1h2m1 0h1m1 1h1m-3 1h1m-2 1h1m1 0h1m23 0h1m-46 1h1m14 0h1m7 0h1m-10 1h1m8 0h2m1 0h1m-13 1h1m7 0h1m-7 1h1m3 0h3m1 0h1m24 0h1m-35 1h1m3 0h1m-6 1h1m3 0h1m4 0h1m1 0h1m-12 1h1m1 0h1m2 0h1m23 0h1m6 0h1m-33 1h1m1 0h1m5 0h1m15 0h1m2 0h1m-31 1h1m2 0h1m1 0h1m1 0h1m3 0h1m-26 1h1m12 0h3m22 0h1m9 0h1m-36 1h1m4 0h1m1 0h1m16 0h1m1 0h1m-27 1h1m8 0h1m1 0h1m-11 1h1m4 0h1m1 0h1m-7 1h1m3 0h2m24 0h1m-31 1h2m3 0h2m-7 1h1m2 0h1m3 0h1m23 0h1m-51 1h1m1 0h1m16 0h1m0 1h1m2 0h1m1 0h2m-3 1h1m23 0h1m29 1h1m-21 2h1m13 5h1m-1 5h1m-52 4h3m2 1h1m-8 1h1m5 0h2m1 0h1m-11 1h3m3 0h1m2 0h1m20 0h1m-22 1h1m-10 1h1m8 0h1m25 0h1m-38 1h2m3 0h1m19 0h1m1 0h1m9 0h1m-32 1h2m6 0h1m-16 1h1m2 0h1m-3 1h1m1 0h1m4 0h1m6 0h1m-28 1h1m12 0h2m9 0h1m3 0h1m-30 1h1m15 0h1m1 0h3m8 0h1m7 0h1m10 0h1m-48 1h1m15 0h1m1 0h3m6 0h1m-13 1h2m4 0h1m4 0h2m-15 1h2m1 0h1m6 0h1m-28 1h1m15 0h2m1 0h1m2 0h1m1 0h1m43 0h1m-62 1h1m9 0h1m1 0h1m2 0h2m1 0h1m1 0h1m47 0h1m-54 1h1m2 0h1m1 0h1m-10 1h1m2 0h1m6 0h1m-23 1h1m17 0h1m2 0h1m4 0h1m8 0h1m-36 1h1m9 0h1m3 0h2m4 0h1m5 0h1m38 0h1m-74 1h1m54 0h1m20 0h1m-58 1h1m4 0h2m-7 1h4m1 0h1m4 0h1m2 0h1m17 0h1m-30 1h1m6 0h1m-29 1h1m21 0h1m33 0h1m-34 1h1m0 2h1m1 0h1m-3 1h1m1 0h1m-2 1h1"/>
<path stroke="#46889c" d="M113 6h1m5 2h1m-6 5h1m-13 1h1m-3 2h1m-39 4h1m-4 1h2m21 0h1m-25 1h1m25 0h1m-25 1h1m20 0h1m-24 1h2m25 1h2m-27 1h3m23 0h1m18 4h1m12 0h1m-10 4h1m4 4h1m-12 1h1m2 1h1m7 0h1m-2 2h1m-54 1h1m0 1h1m23 0h1m20 0h1m-47 1h1m2 0h1m-8 1h1m4 0h1m1 0h1m21 0h1m-26 1h1m57 0h1m-62 1h1m14 0h1m14 0h1m-31 1h1m26 0h1m-28 1h1m6 0h2m-8 1h1m1 1h1m25 0h2m-28 1h1m49 0h1m-53 1h1m23 0h1m21 0h1m-48 1h1m4 0h1m1 0h1m15 0h1m1 0h2m-26 1h2m4 0h1m21 0h1m-26 1h1m-3 1h1m55 2h1m-14 2h1m1 2h1m7 4h1m2 2h1m-57 3h1m1 0h2m23 0h1m28 1h1m-53 1h1m22 0h1m-28 1h1m45 0h1m6 0h1m-57 1h1m5 0h1m1 0h1m-10 1h1m6 0h1m-5 1h3m20 0h1m-27 1h1m3 0h1m5 0h1m-7 1h2m2 0h2m1 0h1m-13 1h2m7 0h1m-2 1h1m2 0h2m-11 1h1m9 0h1m11 0h1m-18 1h1m3 0h1m13 0h1m2 0h1m-29 1h1m6 0h2m24 0h1m27 0h1m-62 1h1m4 0h1m1 0h1m19 0h1m-19 1h4m16 0h1m2 1h1m21 0h1m-51 1h1m5 0h1m25 0h1m29 0h1m-67 1h1m9 0h1m1 0h1m22 0h1m19 0h1m5 0h1m-61 1h1m27 1h1m2 0h1m-29 1h1m3 1h1m18 0h1m3 0h1m-28 1h1m2 0h1m23 0h1m11 1h1m11 1h1m8 1h1m-3 9h1m-58 5h4m20 0h1m2 1h1m-28 1h2m20 0h1m-18 1h1m21 0h1m17 0h1m-43 1h1m18 0h1m-26 1h1m31 0h1m-33 1h1m6 0h1m3 0h1m8 0h1m11 0h1m-34 1h1m5 1h2m3 0h1m20 0h1m-21 1h2m8 0h1m3 0h1m-26 1h2m4 0h3m18 0h1m23 0h1m1 0h1m-53 1h1m3 0h1m1 0h1m3 0h1m14 0h1m2 0h1m-32 1h1m12 0h1m22 0h1m-36 1h1m6 0h1m5 0h1m23 0h1m-39 1h1m3 0h1m32 0h1m-37 1h1m8 0h1m23 0h1m-30 1h1m4 0h1m2 0h1m9 0h1m14 0h1m-33 1h1m4 0h1m17 0h1m1 0h1m-21 1h1m1 0h1m49 0h1m-66 1h1m3 0h1m11 0h1m9 0h1m3 0h1m4 0h1m14 0h1m-51 1h1m4 0h1m3 0h1m14 0h1m6 0h1m6 0h1m10 0h1m-37 1h1m-14 1h1m12 0h1m18 1h1m1 0h1m-30 1h1m7 0h1m1 0h1m13 0h1m3 0h1m-33 1h1m9 0h2m2 0h1m15 0h1m22 0h1m-53 1h1m2 0h1m2 0h1m1 0h1m3 0h1m-12 1h2m3 0h1m3 0h1m28 0h1m26 0h1m-62 1h2m1 0h1m1 0h2m18 0h2m-23 1h1m-7 1h1m3 0h1m1 0h1m22 0h1m3 0h1m8 2h1m3 4h1"/>
<path stroke="#427c9a" d="M99 0h1m14 3h1m-26 1h1m30 0h1m-16 1h1m12 1h1m-35 1h1m30 0h1m-19 1h1m17 1h1m-23 5h1m-24 3h1m36 0h1m-25 1h1m-26 2h1m30 0h1m3 0h1m13 0h1m-48 2h1m31 0h1m-30 1h1m42 0h1m-45 1h1m23 0h1m-25 1h1m-4 1h1m23 0h1m1 0h1m-1 1h1m13 1h1m19 2h1m-36 2h1m14 2h1m0 2h1m18 1h1m-5 1h1m-25 1h1m28 0h1m-38 3h1m-25 1h1m-2 1h1m27 0h1m24 0h1m-53 1h1m21 0h1m5 0h1m-29 1h2m1 0h1m1 0h1m21 0h1m-26 1h1m1 0h2m20 1h1m32 0h1m-37 1h1m-24 1h1m33 0h1m-35 1h1m20 0h1m2 0h1m29 0h1m-53 1h1m23 0h1m19 0h1m-45 1h1m2 0h1m47 0h1m-74 2h1m47 0h1m15 0h1m-42 1h1m-3 1h1m25 0h1m18 0h1m-3 1h1m14 0h1m-34 1h1m19 0h1m3 2h1m-4 1h1m-27 6h1m36 1h1m-24 1h1m22 0h1m-18 1h1m6 0h1m10 0h1m1 0h1m-13 2h1m-52 1h2m1 0h1m24 0h1m-25 1h1m23 0h1m1 0h1m-32 1h1m22 0h1m27 0h1m-43 1h1m17 0h1m4 0h1m-32 1h2m1 0h1m3 0h1m-9 1h2m32 0h1m-30 1h2m25 0h1m24 0h1m-59 1h1m9 0h1m9 0h1m7 0h1m15 0h1m-22 1h1m1 0h1m3 0h1m-21 1h1m7 0h1m8 0h1m-21 1h1m18 0h1m20 0h1m5 0h1m-30 1h1m-15 1h1m15 0h1m-25 1h1m6 0h1m23 0h1m19 0h1m11 0h1m-63 1h1m4 0h1m15 0h1m2 0h1m25 0h1m-50 1h1m5 0h2m-11 1h1m1 0h1m26 0h1m-2 1h1m4 0h1m-16 1h1m6 0h1m8 0h1m-32 1h1m28 0h2m28 0h1m-61 1h1m22 0h1m-22 1h1m4 0h1m17 0h1m4 0h1m31 0h1m-61 2h1m53 1h1m-23 1h2m-21 1h1m39 1h1m-8 5h1m-25 2h1m-2 1h1m35 3h1m-33 1h1m28 0h1m-52 1h1m20 0h1m-27 1h1m4 0h1m24 0h1m15 0h1m-20 1h1m4 0h1m-10 1h1m1 0h2m2 0h1m-33 1h1m8 0h1m1 0h1m16 0h1m3 0h1m-1 1h1m15 0h1m12 0h1m-60 1h1m4 0h2m2 0h1m13 0h1m4 0h2m-33 1h2m2 0h1m5 0h1m1 0h1m16 0h1m1 0h1m1 0h1m3 0h1m8 0h1m-34 1h1m9 0h1m2 0h1m40 0h1m-69 1h1m6 0h1m20 0h1m6 0h1m1 0h1m2 0h1m-38 1h1m9 0h1m11 0h1m8 0h1m-27 1h1m2 0h1m2 0h1m12 0h1m1 0h1m10 0h1m2 0h1m-19 1h2m3 0h1m-23 1h1m4 0h1m2 0h1m15 0h1m12 0h1m4 0h1m-44 1h2m14 0h1m26 0h1m-47 1h1m4 0h1m14 0h1m14 0h1m-35 1h1m8 0h1m13 0h1m11 0h1m-37 1h1m11 0h1m16 0h1m1 0h1m-25 1h1m17 0h1m10 0h1m17 0h1m-55 1h1m5 0h1m2 0h1m20 0h1m26 0h1m-26 1h1m28 0h1m-64 1h1m2 0h1m4 0h1m3 0h1m14 0h1m1 0h1m1 0h1m2 0h1m-28 1h1m2 0h1m1 0h1m15 0h1m8 0h1m14 0h1m-48 1h1m1 0h1m29 0h1m-35 1h1m1 0h2m5 0h1m11 0h1m7 0h1m27 0h1m-60 1h1m2 0h1m6 0h1m22 0h1m-35 1h1m3 0h2m29 0h1m-35 1h1m12 1h1m13 0h1m3 0h1m-5 1h1m-7 1h1m7 0h1m21 2h1m6 1h1m1 0h1"/>
<path stroke="#407297" d="M92 1h1m8 0h1m16 0h1m-20 2h1m16 1h1m-33 1h1m26 0h1m2 1h1m-55 1h1m48 1h1m-22 1h1m7 0h1m21 1h1m-59 1h1m45 0h1m-21 2h1m21 0h1m7 0h1m3 0h1m-13 1h1m-39 1h1m47 0h1m-17 2h1m7 1h1m-29 1h1m2 0h1m0 1h1m9 0h1m15 0h1m-8 1h1m-24 1h1m2 0h1m-25 1h1m20 0h1m29 0h1m-36 1h1m3 0h1m3 0h1m26 0h1m-48 1h1m7 0h1m22 1h1m18 0h1m-56 2h1m22 0h1m17 0h1m7 1h1m5 1h1m-17 1h1m1 0h1m-14 1h1m-6 1h1m13 1h1m2 1h1m1 0h1m8 1h1m7 0h1m-59 1h1m32 0h1m17 0h1m-57 3h1m41 0h1m3 1h1m-16 1h1m22 1h1m6 0h1m-58 1h1m20 0h1m26 0h1m1 0h1m6 0h1m-73 1h1m12 0h1m40 0h1m8 0h1m5 0h1m-31 1h1m11 0h1m20 0h1m-38 1h1m27 0h1m-45 1h1m16 0h1m14 0h1m9 0h1m-61 1h1m16 0h1m15 0h1m23 0h1m13 0h1m-57 1h1m10 2h1m7 0h1m1 0h1m12 0h1m22 0h1m-57 1h1m23 0h1m1 0h1m31 0h1m-62 1h1m24 0h1m1 0h1m5 0h1m6 0h2m5 0h1m-29 1h1m5 0h1m-4 1h1m5 0h1m18 1h1m6 0h2m-29 1h1m3 0h1m15 0h1m-11 1h1m-9 1h1m19 2h1m-1 2h1m-35 2h1m40 3h1m-29 1h1m3 1h1m16 1h1m-10 1h1m6 0h1m5 0h1m-6 1h1m-28 1h2m35 0h1m-61 1h1m7 0h1m16 0h1m-25 1h1m28 1h2m20 0h2m6 0h1m-33 1h1m1 0h1m-7 1h1m1 0h1m2 0h1m2 0h1m18 0h1m-53 1h1m28 0h1m25 0h1m-25 1h2m-10 1h1m2 0h1m18 0h4m14 0h1m-63 1h1m1 0h1m22 0h1m-19 1h1m22 0h1m27 0h1m3 0h1m-57 1h1m25 0h1m12 0h1m-17 1h1m24 0h1m-54 1h1m21 0h1m3 0h1m5 0h1m-2 1h2m-31 1h1m18 0h2m2 0h1m28 0h1m-50 1h1m14 0h1m1 0h1m1 0h1m4 0h1m6 0h1m-13 1h2m-4 1h1m1 0h1m18 0h1m7 0h1m-49 1h1m9 0h1m11 0h1m1 0h1m23 0h1m-52 1h1m38 0h1m8 0h1m3 0h1m3 0h2m2 0h1m-55 1h1m22 0h1m-23 1h1m18 0h1m-13 1h1m18 0h1m14 1h1m10 0h1m-19 1h1m20 1h1m-39 1h1m34 0h1m-39 1h1m38 2h1m-48 1h1m26 0h1m-13 5h1m15 0h1m-49 1h1m52 0h1m10 1h1m-56 1h1m42 0h1m-7 2h1m7 0h1m-25 1h1m34 0h1m-63 1h1m1 0h1m1 0h1m-3 1h1m17 0h1m1 0h1m5 0h1m3 0h1m16 1h1m-52 1h1m22 0h1m37 0h1m-64 1h1m7 0h1m16 0h1m1 0h1m4 0h1m1 0h1m1 0h1m2 0h1m1 0h1m17 0h1m-32 1h1m8 0h1m-31 1h1m20 0h1m6 0h1m-37 1h1m27 0h1m10 0h1m11 0h1m-47 1h1m21 0h1m4 0h1m23 0h1m5 0h1m1 0h1m-54 1h1m14 0h1m7 0h2m-26 1h1m2 0h1m24 0h1m1 0h1m21 0h1m-53 1h1m12 0h1m2 0h1m3 0h3m21 0h1m3 0h1m-47 1h1m13 0h1m22 0h1m-22 1h2m6 0h2m3 0h1m16 0h1m-52 1h1m15 0h1m1 0h1m2 0h1m9 0h1m-37 1h1m23 0h1m1 0h1m3 0h2m-32 1h2m10 0h1m12 0h1m4 0h1m4 0h2m29 0h1m-65 1h1m1 0h1m5 0h1m41 0h1m-44 1h1m47 0h1m-29 1h1m2 0h1m16 0h1m-39 1h1m13 0h1m5 0h1m1 0h2m24 0h1m-55 1h1m1 0h1m18 0h1m8 0h1m29 0h1m-41 1h1m7 0h1m4 0h1m-14 1h1m6 0h1m1 0h1m18 0h1m-51 1h1m6 0h1m16 1h1m5 0h1m29 0h1m-58 1h1m7 0h1m14 2h1m28 0h1m-29 1h1m2 0h1m1 1h1m2 0h1m24 1h1"/>
<path stroke="#3e6694" d="M71 0h1m26 0h1m-13 1h1m4 0h1m6 0h1m15 0h1m-12 1h1m-8 1h1m5 0h1m10 0h1m-28 1h1m4 0h1m-32 1h1m26 0h1m-29 1h1m13 0h1m18 0h1m14 0h1m-36 1h1m2 1h1m19 0h1m-11 1h1m25 0h1m-17 1h1m6 0h1m10 0h1m-43 1h1m36 0h1m4 0h1m-35 1h1m2 0h1m24 1h1m1 0h1m9 0h1m-23 1h1m-39 2h1m23 0h1m9 0h1m17 1h1m5 0h1m-58 1h1m57 0h1m-27 1h1m4 0h1m-22 1h1m36 0h1m-31 1h1m12 0h1m22 0h1m-39 1h1m4 0h1m-11 2h1m18 0h1m15 0h1m2 0h1m-56 1h1m24 0h1m20 0h1m7 0h1m-35 1h1m2 0h1m19 0h1m-21 1h1m-25 1h1m29 0h1m-16 1h1m22 0h1m3 0h1m17 0h2m-71 1h1m45 0h1m3 0h1m-14 1h1m15 0h1m10 0h1m-47 1h1m33 0h1m11 0h1m4 0h1m-48 1h1m18 0h1m13 0h1m-51 1h1m38 0h1m4 0h1m10 1h2m2 0h1m-44 1h1m42 0h1m-47 1h1m9 0h1m8 0h1m17 0h1m13 0h1m-31 1h1m14 0h1m1 0h2m13 0h1m-49 1h1m-56 1h1m52 0h1m49 0h1m-39 2h1m1 0h1m18 0h1m-73 1h1m49 0h1m1 0h1m2 0h1m26 0h1m6 0h1m-44 1h1m12 0h1m24 0h1m-31 1h1m19 0h1m11 0h1m-42 1h1m3 0h1m6 0h1m-26 1h1m18 0h1m25 0h1m8 0h1m-61 1h1m31 0h1m31 0h1m-21 1h1m-21 1h1m4 0h1m4 0h1m12 0h1m3 0h1m1 0h1m-31 1h1m18 0h1m1 0h1m-24 1h1m1 0h1m1 1h2m2 0h1m17 0h1m1 0h1m-45 1h1m19 0h1m-9 1h1m7 0h1m24 0h1m3 0h1m2 0h1m6 1h1m-39 1h3m6 0h1m9 0h1m8 0h1m-29 1h1m28 1h1m-20 1h1m3 0h1m-10 1h1m30 1h1m-29 1h1m8 0h1m7 0h1m11 0h1m-73 1h1m14 0h1m20 0h1m12 0h1m12 0h1m-83 1h1m32 0h1m40 0h1m-49 2h1m34 0h1m15 1h1m11 0h1m-59 1h1m2 0h1m24 0h1m13 0h1m7 0h1m10 0h1m-73 1h1m42 0h1m4 0h1m-12 1h1m29 0h1m1 0h1m-35 1h1m-44 1h1m42 0h1m-28 1h1m27 0h1m19 0h1m7 0h1m6 0h1m-13 1h1m-60 1h1m37 0h1m15 0h1m-33 1h1m8 0h1m13 0h1m-42 1h1m11 0h1m20 0h1m5 0h1m-29 1h1m15 0h2m-1 1h1m10 0h1m27 0h1m-39 1h1m3 0h1m2 0h1m22 0h1m-44 1h1m9 0h1m1 0h1m10 0h1m19 0h1m-33 1h1m7 0h1m3 0h1m26 0h1m-34 1h1m1 0h1m7 0h1m17 0h1m1 0h1m4 0h1m-40 1h1m27 1h1m5 0h1m-32 1h1m4 0h1m16 0h1m-60 1h1m39 0h1m-6 1h1m5 0h1m31 0h1m-25 1h1m9 0h1m5 1h1m-33 1h1m23 0h1m-19 1h1m21 0h1m-16 1h1m-30 1h1m7 0h2m6 0h2m3 0h1m1 0h1m21 0h1m2 0h1m-58 1h1m26 0h1m2 0h1m5 0h1m1 0h1m3 0h1m11 0h1m-61 1h1m11 0h1m21 0h1m28 0h1m-32 1h1m3 0h1m10 1h1m19 0h1m-46 1h1m40 0h1m-39 1h1m34 1h1m-25 1h1m13 1h1m4 0h1m10 0h1m4 0h1m-20 1h1m13 0h1m-54 1h1m10 0h1m8 0h1m24 0h1m10 0h1m-42 1h1m9 0h1m11 0h1m-25 1h1m39 0h1m-42 1h1m33 1h1m11 1h1m-11 1h1m-33 1h1m7 0h1m9 0h1m2 0h1m10 0h1m-84 1h1m22 0h1m-3 1h1m16 0h1m18 0h1m-29 1h1m23 0h1m3 0h1m3 0h2m-2 1h1m2 0h1m-36 1h1m4 0h1m17 0h1m1 0h2m26 0h1m-27 1h1m8 0h1m13 0h1m7 0h1m6 0h1m-77 1h1m23 0h1m13 0h2m4 0h2m1 0h1m25 1h1m-32 1h1m1 0h1m1 0h1m-33 1h1m2 0h1m16 0h1m5 0h1m2 1h1m-17 1h1m10 0h1m6 0h1m18 0h1m11 0h1m-48 1h1m14 0h1m20 0h1m-33 1h1m5 0h1m8 0h1m15 0h1m-31 1h1m4 0h1m2 0h2m1 0h1m5 0h1m5 0h1m10 0h1m5 0h1m-49 1h1m14 0h1m-9 1h1m3 0h1m2 0h1m22 0h1m-29 1h1m-10 1h1m12 0h2m15 0h1m2 0h1m3 0h1m8 0h1m-53 1h1m14 0h1m1 0h1m6 0h1m17 0h1m13 0h1m-43 1h1m2 0h1m9 0h2m4 0h1m-22 1h1m2 0h1m6 0h1m3 0h1m17 0h1m-38 1h1m6 0h1m1 0h1m6 0h1m9 0h1m11 0h1m-22 1h3m3 0h1m-49 1h1m34 0h1m2 0h1m-22 1h1m14 0h1m4 0h1m2 0h1m18 0h1m8 0h1m-37 1h1m7 0h1m1 0h1m-8 1h1m1 0h1m5 0h1m20 0h2m-56 1h1m21 0h1m1 0h1m7 0h1m7 0h1m2 0h1m5 1h1m2 0h1m1 0h1m-31 1h1m20 0h1m12 0h1m-54 1h1m14 0h1m41 0h1m-64 1h1m44 0h1m4 0h1m11 0h1m-49 1h1m18 0h1m5 0h1m6 0h1m-14 1h1m29 0h1m-73 1h1m18 0h1"/>
<path stroke="#3e5891" d="M26 0h1m69 0h1m15 0h1m2 0h1m1 0h1m-13 1h1m1 0h1m-100 1h1m26 0h1m12 0h1m25 0h1m17 0h2m13 0h1m-62 1h1m11 0h1m16 0h1m22 0h1m4 0h1m1 0h1m6 0h1m-102 1h1m43 0h1m15 0h1m9 0h1m10 0h1m8 0h1m13 0h1m-106 1h1m58 0h2m-24 1h1m19 0h1m15 0h1m4 0h1m2 0h1m11 0h1m6 0h2m-30 1h1m5 0h1m27 0h1m-70 1h1m6 0h1m1 0h1m24 0h1m12 0h1m8 0h1m3 0h1m4 0h1m-69 1h1m1 0h1m28 0h1m40 0h1m-78 1h1m39 0h1m1 0h1m-36 1h1m3 0h1m21 0h1m11 0h1m1 0h1m5 0h2m16 0h1m4 0h1m-45 1h1m15 0h1m9 0h1m4 0h1m2 0h2m4 0h1m-69 1h1m38 0h1m10 0h1m8 0h1m-73 1h1m4 0h1m17 0h1m30 0h1m13 0h2m4 0h2m4 1h1m5 0h1m-43 1h1m21 0h2m10 0h1m-73 1h1m27 0h1m7 0h1m19 0h1m13 0h1m-64 1h1m11 0h1m41 0h1m-26 1h1m11 0h1m16 0h1m5 0h1m4 0h1m-60 1h1m29 0h1m1 0h1m-2 1h2m1 0h2m15 0h1m-40 1h1m4 0h1m26 0h2m5 0h1m-78 1h1m82 0h1m9 0h1m-78 1h1m29 0h1m4 0h1m3 0h1m4 0h1m3 0h1m7 0h1m2 0h1m-72 1h1m66 0h1m10 0h1m4 0h1m-23 1h1m21 0h1m-45 1h1m12 0h1m5 0h1m7 0h1m15 0h1m-65 1h1m35 0h1m1 0h1m4 0h1m18 0h1m-76 1h1m55 0h1m10 0h1m-89 1h1m42 0h1m49 0h1m2 0h1m-87 1h1m26 0h1m6 0h1m6 0h1m33 0h1m-40 1h1m27 0h1m-4 1h1m9 0h1m8 0h1m10 0h1m-75 1h1m25 0h1m13 0h1m35 0h1m-60 1h1m17 0h1m23 0h1m9 0h1m-65 1h1m16 0h1m34 0h1m5 0h2m-68 1h1m5 0h1m3 0h1m26 0h1m24 0h1m9 0h1m-48 1h1m8 0h1m6 0h1m20 0h1m6 0h1m3 0h1m-62 1h1m49 0h1m11 0h1m-28 1h1m12 0h1m4 0h1m-45 1h1m29 0h1m15 0h1m-68 1h1m2 0h1m56 0h2m10 0h1m-64 1h1m42 0h1m9 0h1m3 0h1m8 0h1m-61 1h1m9 0h2m22 0h1m-36 1h1m28 0h1m5 0h1m23 0h1m-71 1h1m35 0h1m4 0h1m22 0h1m-20 1h1m10 0h2m9 0h1m-67 1h1m6 0h1m26 0h1m11 0h1m-16 1h1m11 0h1m1 0h1m12 0h1m-53 1h1m16 0h1m12 0h1m2 0h3m1 0h1m10 0h1m7 0h1m-40 1h2m2 0h1m6 0h2m5 0h2m1 0h1m8 0h1m12 0h1m1 0h1m-47 1h1m10 0h1m4 0h1m6 0h1m7 0h1m2 0h2m2 0h1m-25 1h1m3 0h1m6 0h1m-46 1h1m16 0h1m15 0h1m9 0h1m4 0h1m25 0h1m-32 1h1m31 0h1m-49 1h1m12 0h1m17 0h1m7 0h1m-31 1h1m3 0h1m18 0h1m12 0h1m-42 1h1m2 0h1m17 0h1m1 0h1m-43 1h1m5 0h1m20 0h1m7 0h2m6 0h1m1 0h1m6 0h1m5 0h1m-95 1h1m32 0h1m21 0h1m24 0h1m1 0h1m1 0h1m10 1h1m-58 1h1m23 0h1m27 0h1m4 0h1m-43 1h1m4 0h1m4 0h1m12 0h1m-60 1h1m25 0h1m9 0h1m7 0h1m17 0h1m16 0h1m-29 1h1m2 0h1m1 0h1m25 0h1m-75 1h1m28 1h1m-25 1h1m13 0h1m3 0h1m16 0h1m7 0h1m-30 1h1m8 0h1m1 0h1m1 0h1m11 0h1m18 0h1m-76 1h1m9 0h1m21 0h2m4 0h1m8 0h1m10 0h1m10 0h1m-89 1h1m32 0h1m6 0h1m36 0h1m4 0h1m-71 1h1m2 0h1m41 0h1m8 0h1m9 0h1m15 0h1m-35 1h1m3 0h1m7 0h1m19 0h1m-34 1h1m1 0h1m9 0h1m24 0h1m2 0h1m-63 1h1m27 0h1m5 0h1m12 0h1m13 0h1m-32 1h2m2 0h1m23 0h1m-58 1h1m9 0h1m5 0h1m14 0h1m8 0h1m18 0h1m4 0h1m-90 1h1m25 0h1m26 0h1m3 0h1m2 0h1m8 0h1m17 0h1m1 0h1m-14 1h1m9 0h1m4 0h1m-65 1h1m21 0h1m2 0h1m1 0h1m1 0h1m1 0h1m9 0h1m4 0h1m1 0h1m-34 1h1m4 0h1m5 0h1m1 0h1m15 0h1m3 0h1m10 0h1m-67 1h1m36 0h1m34 0h1m-24 1h1m3 0h1m9 0h1m-58 1h2m23 0h1m5 0h1m19 0h1m-54 1h1m12 0h1m13 0h1m6 0h1m20 0h1m4 0h2m-64 1h1m29 0h1m4 0h2m5 0h1m18 0h2m-86 1h1m24 0h1m23 0h1m4 0h1m20 0h1m16 0h1m-31 1h1m-6 1h3m3 0h1m13 0h1m7 0h2m-63 1h1m28 0h1m3 0h1m2 0h1m3 0h1m9 0h1m10 0h1m-44 1h1m11 0h1m5 0h1m11 0h1m4 0h1m1 0h1m5 0h1m-89 1h1m35 0h1m22 0h1m3 0h1m20 0h1m-56 1h1m32 0h1m11 0h1m7 0h1m7 0h2m-28 1h1m12 0h1m12 0h1m1 0h1m-65 1h1m17 0h1m14 0h1m4 0h1m18 0h1m12 0h1m-53 1h1m14 0h1m5 0h1m8 0h1m15 0h1m-82 1h1m5 0h1m5 0h1m12 0h1m44 0h1m-71 1h2m24 0h2m13 0h1m-34 1h1m31 0h1m6 0h1m32 0h1m-57 1h1m2 0h1m7 0h1m38 0h1m-53 1h1m25 0h1m7 0h1m8 0h2m2 0h2m11 0h1m-52 1h1m19 0h1m11 0h1m5 0h1m4 0h1m-63 1h1m30 0h1m21 0h1m-33 1h1m-45 1h1m2 0h1m50 0h1m19 0h1m-20 1h3m-16 1h1m15 0h1m-1 1h1m7 0h1m6 0h1m5 0h1m3 0h1m-90 1h1m72 0h1m3 0h1m4 0h2m-86 1h1m19 0h1m28 0h1m8 0h1m24 0h1m3 0h1m-26 1h1m-45 1h1m81 0h2m1 0h1m1 0h1m-66 1h1m27 0h1m3 0h1m3 0h1m3 0h1m5 0h1m7 0h1m10 0h1m-41 1h1m1 0h1m3 0h1m-42 1h1m37 0h1m29 0h1m-33 1h1m1 0h1m2 0h1m16 0h1m2 0h1m8 0h1m-38 1h1m10 0h1m25 0h1m-36 1h1m4 0h2m4 0h1m5 0h1m7 0h1m2 0h1m11 0h1m-48 1h2m13 0h1m9 0h1m9 0h1m6 0h1m-93 1h1m24 0h1m53 0h1m2 0h1m9 0h1m-70 1h1m56 0h1m15 0h1m-36 1h1m-11 1h1m8 0h1m2 0h1m2 0h1m9 0h1m3 0h1m2 0h1m14 0h1m-45 1h1m29 0h1m2 0h1m1 0h1m3 0h1m-54 1h1m7 0h1m14 0h1m19 0h1m1 0h1m7 0h1m-70 1h1m18 0h1m10 0h1m4 0h1m1 0h1m2 0h1m3 0h2m11 0h1m-24 1h1m8 0h1m4 0h1m11 0h1m10 0h1m-42 1h2m2 0h1m10 0h1m6 0h1m-19 1h1m5 0h1m2 0h1m29 0h1m-44 1h1m2 0h1m18 0h1m15 0h1m-46 1h1m22 0h1m12 0h2m13 0h1m-42 1h1m9 0h1m1 0h1m22 0h1m-18 1h1m-27 1h1m31 0h1m2 0h1m-30 1h1m4 0h1m1 0h1m29 0h1m-69 1h1m30 0h1m1 0h1m3 0h1m1 0h1m13 0h1m3 0h1m11 0h1m1 0h1m-40 1h1m3 0h1m21 0h1m-55 1h1m29 0h1m1 0h1m11 0h1m-52 1h1m41 0h1m29 0h1m-39 1h1m7 0h1m13 0h1m3 0h1m-1 1h1m-23 1h1m2 0h1m7 0h1m15 0h2m4 0h1m2 0h1m-67 1h1m23 0h1m9 0h1m-24 1h1m16 0h1m5 0h2m-40 1h1m20 0h1m6 0h1m32 0h1m5 0h1m-41 1h1m12 0h1m7 0h1m13 0h1m5 0h1m-36 1h1m1 0h1m7 0h1m9 0h1m1 0h1m16 0h1m-68 1h1m32 0h1m12 0h1m11 0h2m-52 1h1m1 0h1m10 0h1m23 0h1m1 0h1m15 0h1m3 0h1"/>
<path stroke="#3e4c88" d="M18 0h1m1 0h1m24 0h1m17 0h1m4 0h1m16 0h1m15 0h1m2 0h1m-100 1h1m36 0h1m2 0h1m8 0h1m14 0h1m9 0h1m5 0h1m2 0h1m8 0h1m2 0h1m5 0h1m1 0h1m1 0h1m-106 1h1m1 0h1m59 0h1m17 0h1m4 0h1m4 0h1m12 0h1m-74 1h1m25 0h1m2 0h1m6 0h2m5 0h1m11 0h1m3 0h1m9 0h1m2 0h2m1 0h1m-88 1h1m26 0h1m1 0h1m12 0h1m36 0h1m4 0h1m-105 1h1m30 0h1m3 0h1m39 0h1m1 0h1m7 0h1m24 0h1m1 0h1m-109 1h1m45 0h1m16 0h1m28 0h1m5 0h1m2 0h1m-88 1h1m39 0h1m23 0h1m24 0h1m-107 1h1m40 0h1m7 0h1m7 0h1m23 0h2m2 0h1m16 0h1m-57 1h1m25 0h1m2 0h1m6 0h1m5 0h1m5 0h1m-19 1h1m2 0h1m13 0h1m10 0h1m-91 1h1m23 0h1m14 0h1m11 0h1m4 0h1m16 0h1m5 0h1m16 0h1m-112 1h1m15 0h1m37 0h1m37 0h1m22 0h1m-96 1h1m3 0h1m39 0h1m26 0h1m4 0h1m17 0h1m-110 1h1m30 0h1m20 0h2m8 0h1m6 0h1m12 0h1m1 0h1m2 0h1m14 0h1m5 0h1m1 0h1m-104 1h1m38 0h1m12 0h1m6 0h1m15 0h1m17 0h1m-77 1h1m21 0h1m7 0h1m8 0h1m7 0h1m4 0h1m21 0h1m2 0h1m-58 1h1m28 0h1m1 0h1m3 0h1m21 0h1m5 0h2m1 0h1m-85 1h1m13 0h1m28 0h1m7 0h1m7 0h2m10 0h1m-60 1h2m4 0h1m1 0h1m15 0h1m5 0h1m6 0h1m10 0h1m3 0h1m1 0h1m15 0h1m-116 1h1m25 0h1m1 0h1m2 0h1m15 0h1m30 0h1m1 0h1m6 0h1m17 0h1m3 0h1m-63 1h1m5 0h1m2 0h1m8 0h1m7 0h1m2 0h1m15 0h1m1 0h1m15 0h1m-57 1h2m12 0h1m1 0h1m2 0h1m16 0h1m2 0h1m12 0h1m3 0h1m8 0h1m-78 1h1m5 0h1m36 0h3m15 0h1m2 0h1m-57 1h1m1 0h1m10 0h1m4 0h2m12 0h1m10 0h1m6 0h1m-41 1h1m7 0h1m8 0h1m3 0h1m16 0h1m-48 1h1m23 0h1m10 0h1m6 0h1m6 0h1m4 0h1m6 0h1m-83 1h1m14 0h1m17 0h1m2 0h1m10 0h1m2 0h1m20 0h1m12 0h1m-110 1h1m3 0h1m6 0h1m27 0h1m16 0h1m21 0h1m12 0h1m2 0h1m5 0h1m1 0h1m-108 1h1m47 0h1m6 0h1m20 0h1m20 0h1m6 0h1m6 0h1m1 0h1m-77 1h1m17 0h1m4 0h1m9 0h1m8 0h1m10 0h1m1 0h1m3 0h1m4 0h1m7 0h1m2 0h1m-109 1h1m32 0h1m8 0h1m22 0h1m1 0h1m23 0h1m1 0h1m15 0h1m-89 1h1m15 0h1m14 0h1m1 0h1m27 0h1m3 0h1m10 0h1m1 0h1m5 0h1m6 0h1m-91 1h1m29 0h1m20 0h1m28 0h1m-82 1h1m16 0h2m6 0h2m21 0h1m5 0h1m5 0h1m13 0h1m13 0h1m5 0h1m-82 1h1m6 0h1m10 0h1m32 0h1m12 0h1m2 0h1m1 0h1m9 0h1m-104 1h1m36 0h1m7 0h2m17 0h1m4 0h1m11 0h1m5 0h1m15 0h1m-109 1h1m7 0h1m12 0h1m64 0h1m2 0h1m13 0h1m-108 1h1m19 0h1m15 0h2m23 0h1m4 0h1m19 0h1m11 0h1m2 0h1m-94 1h1m18 0h1m25 0h1m15 0h1m3 0h1m5 0h1m10 0h1m1 0h1m5 0h1m9 0h1m3 0h1m-34 1h1m8 0h1m7 0h1m5 0h1m2 0h1m1 0h1m4 0h2m-116 1h1m30 0h1m15 0h1m10 0h1m10 0h1m18 0h1m3 0h1m10 0h1m6 0h2m4 0h1m-64 1h2m4 0h1m2 0h1m29 0h1m10 0h1m-75 1h1m7 0h1m14 0h1m21 0h1m3 0h1m1 0h1m11 0h1m1 0h1m8 0h1m10 0h1m-74 1h2m24 0h1m15 0h1m10 0h1m2 0h1m3 0h1m13 0h1m-99 1h1m26 0h1m7 0h1m18 0h1m4 0h1m5 0h1m13 0h1m19 0h1m-117 1h1m22 0h1m18 0h1m6 0h1m21 0h1m18 0h1m6 0h1m1 0h1m8 0h1m3 0h1m1 0h1m-116 1h1m2 0h1m67 0h1m20 0h1m7 0h1m2 0h1m-82 1h1m22 0h1m35 0h1m20 0h1m1 0h1m-58 1h1m20 0h1m9 0h1m3 0h1m-65 1h1m7 0h1m16 0h1m3 0h1m17 0h1m7 0h2m9 0h2m26 0h1m-30 1h1m18 0h1m8 0h1m-115 1h1m19 0h1m23 0h1m25 0h1m13 0h1m4 0h1m24 0h1m2 0h1m-76 1h1m5 0h1m21 0h1m5 0h1m3 0h1m15 0h2m3 0h1m9 0h1m3 0h1m2 0h2m-97 1h1m23 0h1m39 0h1m8 0h1m14 0h1m4 0h1m-68 1h1m35 0h2m10 0h1m13 0h1m7 0h1m-53 1h1m9 0h2m1 0h1m8 0h1m3 0h3m10 0h1m1 0h1m-69 1h1m10 0h2m16 0h1m38 0h1m-104 1h1m49 0h1m27 0h2m10 0h1m8 0h1m-62 1h1m23 0h1m5 0h1m7 0h1m32 0h1m1 0h1m-116 1h1m24 0h1m7 0h1m7 0h1m10 0h1m8 0h1m1 0h1m9 0h1m2 0h1m2 0h2m28 0h1m1 0h1m-98 1h1m1 0h1m12 0h1m20 0h1m13 0h1m11 0h1m4 0h1m1 0h2m4 0h1m7 0h2m-74 1h1m44 0h1m4 0h1m24 0h1m11 0h1m-65 1h1m14 0h1m16 0h1m6 0h1m5 0h1m10 0h1m5 0h1m5 0h1m-47 1h1m1 0h1m-67 1h1m3 0h1m60 0h1m8 0h1m-61 1h1m4 0h1m18 0h1m13 0h1m7 0h1m9 0h1m19 0h1m2 0h1m5 0h1m-52 1h1m10 0h1m2 0h1m35 0h1m-90 1h1m27 0h2m13 0h1m8 0h1m3 0h1m2 0h2m5 0h1m1 0h1m5 0h1m15 0h1m-92 1h1m30 0h1m7 0h1m24 0h1m7 0h1m3 0h2m23 0h1m-38 1h1m4 0h1m33 0h1m-106 1h1m20 0h1m19 0h1m2 0h1m1 0h1m1 0h1m25 0h1m7 0h1m14 0h1m4 0h1m-81 1h1m15 0h1m4 0h1m2 0h2m15 0h1m1 0h1m10 0h1m19 0h1m3 0h2m-114 1h1m25 0h1m48 0h1m7 0h1m5 0h1m1 0h1m-40 1h1m26 0h2m5 0h1m7 0h1m6 0h1m2 0h1m14 0h1m-93 1h1m19 0h1m3 0h1m18 0h1m11 0h1m21 0h1m-58 1h1m5 0h1m16 0h1m11 0h1m4 0h1m21 0h1m8 0h2m-68 1h1m21 0h1m8 0h1m1 0h1m17 0h1m1 0h1m7 0h1m-87 1h1m19 0h1m5 0h1m21 0h1m3 0h1m1 0h1m13 0h1m8 0h1m1 0h1m11 0h1m-92 1h1m20 0h2m2 0h1m15 0h1m3 0h1m2 0h2m2 0h1m3 0h1m-40 1h1m21 0h1m3 0h1m15 0h1m10 0h1m4 0h1m12 0h1m-117 1h1m51 0h1m29 0h1m6 0h1m1 0h1m6 0h1m5 0h1m2 0h1m-81 1h1m20 0h1m21 0h1m11 0h1m2 0h2m12 0h1m4 0h1m3 0h1m-105 1h1m21 0h1m24 0h1m18 0h1m12 0h2m3 0h1m11 0h1m-51 1h1m23 0h1m10 0h1m2 0h2m26 0h2m-73 1h1m35 0h1m6 0h1m2 0h1m24 0h1m-89 1h1m21 0h1m17 0h1m8 0h1m1 0h1m1 0h1m23 0h1m-83 1h2m3 0h1m56 0h1m4 0h1m5 0h1m-29 1h1m13 0h1m2 0h1m2 0h1m2 0h1m19 0h1m4 0h1m-72 1h1m58 0h1m-55 1h1m21 0h1m1 0h1m11 0h2m29 0h1m-96 1h1m27 0h1m23 0h1m6 0h1m11 0h1m9 0h1m3 0h1m5 0h1m-91 1h1m27 0h2m15 0h1m3 0h1m14 0h2m8 0h1m-50 1h2m26 0h1m4 0h1m24 0h1m4 0h1m2 0h2m-115 1h1m45 0h1m22 0h1m10 0h1m15 0h1m4 0h1m1 0h1m12 0h1m-65 1h1m45 0h1m4 0h2m-63 1h1m1 0h1m6 0h1m3 0h1m14 0h1m33 0h1m-79 1h1m15 0h1m3 0h1m21 0h1m4 0h1m4 0h1m6 0h1m6 0h1m15 0h1m2 0h1m1 0h1m-79 1h1m7 0h1m2 0h1m17 0h1m4 0h1m-35 1h1m40 0h1m7 0h1m13 0h1m1 0h1m-78 1h1m26 0h1m9 0h1m3 0h1m3 0h1m4 0h1m9 0h1m20 0h1m9 0h1m3 0h1m-93 1h2m35 0h1m48 0h1m-82 1h1m6 0h1m1 0h1m15 0h1m17 0h1m3 0h1m3 0h1m3 0h1m23 0h1m-108 1h1m36 0h1m9 0h1m28 0h1m31 0h1m4 0h1m-109 1h1m7 0h1m1 0h1m23 0h1m25 0h1m10 0h1m-67 1h1m38 0h1m-18 1h1m5 0h1m27 0h1m12 0h1m5 0h1m11 0h2m5 0h1m4 0h1m1 0h1m-116 1h1m16 0h1m21 0h1m5 0h1m2 0h1m21 0h2m1 0h1m8 0h1m6 0h2m19 0h1m-73 1h1m26 0h2m23 0h1m17 0h1m1 0h1m7 0h1m-114 1h1m1 0h1m28 0h1m9 0h1m5 0h1m12 0h1m45 0h1m4 0h1m-64 1h1m8 0h1m5 0h1m1 0h2m7 0h1m1 0h1m2 0h1m2 0h1m3 0h1m13 0h1m-101 1h1m23 0h1m14 0h1m2 0h1m8 0h1m6 0h1m5 0h1m1 0h1m22 0h1m11 0h1m6 0h1m2 0h1m-105 1h1m1 0h1m21 0h1m22 0h1m3 0h1m39 0h1m9 0h1m-75 1h1m3 0h1m37 0h1m9 0h1m15 0h1m3 0h1m-58 1h2m15 0h1m10 0h1m1 0h1m4 0h1m9 0h1m-100 1h1m25 0h1m15 0h1m12 0h1m13 0h1m18 0h1m9 0h1m3 0h1m1 0h1m10 0h1m3 0h1m-71 1h1m16 0h1m11 0h1m2 0h1m27 0h1m-64 1h1m32 0h1m11 0h2m12 0h1m3 0h1m1 0h1m-64 1h1m4 0h1m41 0h1m21 0h1m-98 1h1m53 0h1m5 0h1m36 0h1m-23 1h1m7 0h1m3 0h1m2 0h1m-43 1h1m7 0h1m4 0h1m6 0h2m4 0h2m1 0h1m3 0h1m3 0h1m6 0h1m2 0h1m-45 1h2m29 0h2m2 0h1m-31 1h1m33 0h1m-33 1h2m3 0h2m4 0h1m1 0h1m4 0h1m19 0h1m-93 1h1m52 0h2m5 0h1m13 0h1m17 0h2m-91 1h1m46 0h1m23 0h1m1 0h1m9 0h1m6 0h1m-71 1h1m2 0h1m24 0h1m9 0h1m13 0h1m4 0h1m-23 1h1m14 0h1m7 0h1m1 0h1m8 0h1m-71 1h1m3 0h1m22 0h1m5 0h1m8 0h1m23 0h1m-89 1h1m46 0h1m10 0h1m3 0h3m2 0h1m2 0h1m7 0h3m7 0h1m3 0h1m3 0h1m-72 1h1m28 0h1m3 0h2m11 0h1m18 0h1m-70 1h1m25 0h1m4 0h1m9 0h1m10 0h1m6 0h1m10 0h1m1 0h1m-25 1h1m6 0h1m1 0h2m1 0h1m-80 1h1m43 0h1m6 0h1m2 0h1m4 0h1m1 0h1m13 0h1m6 0h2m4 0h1m4 0h1m-99 1h1m49 0h1m15 0h1m3 0h1m1 0h1m3 0h1m2 0h1m17 0h1m-46 1h1m1 0h1m5 0h1m6 0h1m3 0h1m1 0h1m-49 1h1m53 0h1m4 0h1m1 0h1m5 0h1m1 0h1m-89 1h1m45 0h1m15 0h1m8 0h1m1 0h3m7 0h1m1 0h1m4 0h1m-65 1h1m14 0h1m12 0h1m29 0h1m-106 1h1m42 0h1m19 0h1m10 0h2m23 0h1m7 0h1m-89 1h1m1 0h1m39 0h1m1 0h1m7 0h1m2 0h1m1 0h1m19 0h1m10 0h1m-88 1h1m4 0h1m35 0h1m5 0h2m12 0h1m2 0h1m6 0h1m-45 1h1m30 0h1m11 0h1m1 0h1m4 0h1m3 0h1m3 0h1m-87 1h1m2 0h1m14 0h1m2 0h1m46 0h1m2 0h2m9 0h1m4 0h2m2 0h1m-108 1h1m29 0h2m2 0h1m7 0h1m14 0h2m4 0h1m9 0h1m4 0h1m6 0h1m18 0h1m-112 1h1m15 0h1m14 0h1m17 0h1m16 0h1m9 0h2m22 0h2m14 0h1m-116 1h1m49 0h1m8 0h1m22 0h1m7 0h1m4 0h1m10 0h1m-82 1h1m13 0h1m2 0h1m17 0h2m19 0h1m8 0h2m18 0h1m6 0h1m-49 1h1m1 0h2m6 0h1m2 0h1m4 0h1m5 0h1m10 0h1m12 0h1"/>
<path stroke="#40427a" d="M16 0h1m2 0h1m2 0h1m7 0h1m1 0h1m9 0h1m8 0h1m7 0h1m9 0h1m17 0h1m17 0h1m-104 1h1m4 0h1m4 0h1m11 0h1m10 0h1m3 0h1m9 0h1m3 0h1m14 0h1m50 0h1m-108 1h1m9 0h1m3 0h1m2 0h1m9 0h1m22 0h1m13 0h1m1 0h1m3 0h1m19 0h1m6 0h1m4 0h1m-114 1h1m1 0h2m3 0h1m6 0h1m2 0h1m1 0h1m8 0h2m11 0h2m8 0h1m3 0h1m12 0h1m7 0h1m2 0h1m1 0h1m2 0h1m30 0h1m-115 1h1m1 0h1m3 0h1m4 0h1m1 0h1m1 0h1m10 0h1m10 0h1m5 0h1m15 0h1m14 0h1m16 0h1m19 0h1m-85 1h1m5 0h1m10 0h2m4 0h1m12 0h1m2 0h1m3 0h1m10 0h1m16 0h1m6 0h1m2 0h1m3 0h1m1 0h1m-115 1h1m1 0h1m4 0h1m6 0h1m13 0h1m25 0h1m1 0h1m3 0h1m5 0h2m2 0h1m22 0h1m1 0h1m6 0h1m7 0h1m2 0h1m3 0h1m-115 1h1m22 0h1m6 0h1m8 0h1m2 0h1m2 0h1m1 0h1m13 0h1m12 0h1m12 0h1m2 0h1m2 0h2m2 0h2m8 0h1m-100 1h1m35 0h2m4 0h1m1 0h1m1 0h1m9 0h1m9 0h1m10 0h1m5 0h1m2 0h1m-90 1h1m11 0h1m11 0h1m8 0h1m7 0h1m9 0h2m1 0h1m3 0h1m5 0h1m8 0h1m15 0h1m3 0h1m9 0h2m-108 1h1m1 0h2m2 0h1m12 0h1m5 0h1m9 0h1m3 0h1m2 0h1m2 0h1m2 0h1m2 0h1m3 0h1m7 0h2m20 0h1m11 0h1m-100 1h1m6 0h1m2 0h2m2 0h2m3 0h1m6 0h2m2 0h2m15 0h1m6 0h1m4 0h1m16 0h1m7 0h1m14 0h2m1 0h1m11 0h1m-120 1h1m9 0h1m9 0h1m4 0h1m6 0h1m7 0h3m5 0h1m14 0h1m1 0h3m23 0h1m1 0h1m9 0h1m-97 1h2m22 0h1m1 0h1m10 0h5m1 0h1m2 0h1m3 0h1m1 0h1m2 0h1m5 0h1m3 0h2m15 0h1m7 0h2m6 0h1m4 0h3m5 0h1m-93 1h1m16 0h1m2 0h1m2 0h1m2 0h1m5 0h1m4 0h1m2 0h1m7 0h1m4 0h1m9 0h1m10 0h1m13 0h1m4 0h1m-114 1h1m13 0h1m3 0h2m1 0h1m5 0h1m21 0h1m4 0h1m3 0h1m14 0h1m11 0h1m1 0h1m1 0h1m16 0h1m4 0h1m-112 1h1m11 0h1m5 0h1m4 0h1m4 0h2m7 0h1m2 0h1m13 0h1m2 0h1m3 0h1m4 0h1m16 0h1m9 0h1m3 0h1m7 0h2m-111 1h1m7 0h1m1 0h1m4 0h1m1 0h1m3 0h1m2 0h1m6 0h1m16 0h1m5 0h1m18 0h1m12 0h2m18 0h1m-109 1h1m6 0h3m10 0h4m2 0h1m2 0h1m20 0h1m2 0h1m4 0h2m2 0h2m3 0h1m2 0h1m9 0h1m9 0h1m15 0h1m4 0h2m1 0h2m-65 1h1m35 0h1m11 0h1m5 0h1m5 0h1m7 0h1m-75 1h2m2 0h1m4 0h1m37 0h1m5 0h1m5 0h1m4 0h1m4 0h2m2 0h1m-113 1h1m25 0h1m18 0h1m3 0h1m9 0h1m4 0h1m15 0h1m-81 1h1m1 0h1m9 0h1m1 0h1m2 0h3m6 0h1m11 0h1m2 0h1m1 0h1m3 0h1m21 0h1m2 0h1m14 0h1m1 0h1m5 0h1m-94 1h1m17 0h1m1 0h2m10 0h2m6 0h1m1 0h1m15 0h1m6 0h1m10 0h1m10 0h1m2 0h1m4 0h1m-97 1h1m15 0h1m21 0h1m1 0h1m40 0h1m3 0h1m10 0h1m11 0h1m1 0h2m-113 1h1m11 0h1m2 0h1m27 0h1m4 0h1m28 0h1m6 0h1m3 0h1m2 0h1m12 0h1m-104 1h1m43 0h1m22 0h1m9 0h1m8 0h1m9 0h1m4 0h1m2 0h1m7 0h1m-115 1h1m4 0h1m6 0h2m1 0h1m3 0h1m8 0h1m5 0h2m22 0h1m2 0h1m9 0h1m23 0h1m4 0h1m1 0h1m-100 1h1m5 0h1m17 0h2m6 0h1m3 0h1m25 0h1m23 0h1m3 0h1m15 0h1m2 0h2m-111 1h1m5 0h1m2 0h1m3 0h3m4 0h1m6 0h1m9 0h1m2 0h1m20 0h1m1 0h1m14 0h2m9 0h1m6 0h1m3 0h1m1 0h1m-108 1h1m16 0h1m12 0h1m13 0h1m18 0h2m2 0h1m2 0h1m7 0h1m18 0h1m3 0h1m-95 1h1m3 0h1m3 0h1m52 0h1m4 0h1m2 0h1m13 0h1m14 0h1m8 0h1m-99 1h1m1 0h1m6 0h1m3 0h1m1 0h1m6 0h1m2 0h1m2 0h1m6 0h1m5 0h1m4 0h1m7 0h1m18 0h1m4 0h1m13 0h1m2 0h1m-101 1h1m6 0h1m6 0h1m7 0h2m10 0h1m5 0h1m21 0h1m3 0h1m4 0h1m1 0h1m18 0h1m2 0h1m3 0h1m-104 1h1m8 0h1m17 0h1m20 0h1m3 0h1m13 0h1m4 0h1m2 0h1m25 0h1m1 0h1m2 0h1m1 0h1m-118 1h2m2 0h1m4 0h4m1 0h2m5 0h1m10 0h1m17 0h1m1 0h2m30 0h1m9 0h1m-88 1h1m9 0h2m15 0h1m1 0h1m4 0h1m1 0h1m10 0h1m3 0h1m6 0h1m15 0h1m12 0h1m2 0h1m5 0h2m10 0h1m-116 1h2m11 0h1m10 0h2m12 0h1m20 0h1m2 0h1m2 0h1m5 0h1m9 0h1m13 0h1m6 0h1m4 0h1m6 0h2m-94 1h1m6 0h1m1 0h2m2 0h1m1 0h1m11 0h1m6 0h1m5 0h1m2 0h1m4 0h2m6 0h1m5 0h1m4 0h1m8 0h1m20 0h1m-116 1h2m2 0h2m2 0h1m2 0h1m2 0h1m11 0h2m13 0h1m1 0h1m6 0h1m13 0h1m17 0h1m19 0h1m2 0h1m-92 1h1m9 0h1m28 0h2m7 0h1m16 0h1m12 0h1m10 0h1m-84 1h1m27 0h2m3 0h1m19 0h1m2 0h1m10 0h1m7 0h1m8 0h1m8 0h1m-109 1h1m9 0h1m7 0h1m2 0h1m3 0h1m6 0h1m1 0h2m1 0h1m1 0h1m3 0h1m1 0h1m15 0h1m9 0h1m5 0h1m11 0h1m7 0h1m1 0h1m1 0h1m-62 1h1m3 0h1m3 0h1m7 0h1m2 0h1m16 0h1m25 0h2m-110 1h2m1 0h1m34 0h1m32 0h1m14 0h1m5 0h2m3 0h1m17 0h1m1 0h1m-117 1h2m16 0h1m1 0h1m1 0h1m1 0h1m39 0h1m25 0h1m9 0h1m-60 1h1m2 0h1m32 0h1m13 0h1m18 0h1m4 0h1m-119 1h1m5 0h1m14 0h1m2 0h1m20 0h1m6 0h1m35 0h1m7 0h1m3 0h1m3 0h1m13 0h1m-117 1h1m14 0h1m1 0h1m3 0h1m20 0h1m5 0h1m27 0h1m2 0h2m25 0h1m-88 1h1m3 0h1m3 0h1m16 0h1m19 0h1m12 0h1m6 0h1m6 0h1m3 0h1m6 0h1m3 0h2m9 0h1m-116 1h1m19 0h1m5 0h1m11 0h1m7 0h1m17 0h1m1 0h1m6 0h1m2 0h1m7 0h1m1 0h1m2 0h1m1 0h1m9 0h1m-89 1h1m1 0h1m2 0h2m18 0h1m4 0h1m5 0h2m13 0h1m5 0h1m5 0h1m7 0h1m4 0h2m1 0h1m6 0h1m11 0h2m-115 1h2m20 0h1m4 0h1m12 0h1m9 0h1m12 0h1m6 0h1m19 0h2m11 0h1m2 0h2m-87 1h1m5 0h1m20 0h2m36 0h1m12 0h1m5 0h1m-68 1h1m23 0h1m17 0h1m13 0h1m5 0h1m4 0h1m-103 1h1m12 0h1m1 0h1m1 0h1m26 0h1m2 0h1m11 0h2m1 0h3m22 0h1m5 0h1m5 0h1m9 0h1m1 0h1m-116 1h1m14 0h1m3 0h1m19 0h1m7 0h1m2 0h1m2 0h1m13 0h1m14 0h1m32 0h2m-118 1h1m2 0h1m37 0h2m3 0h1m22 0h2m1 0h2m12 0h1m2 0h1m1 0h1m5 0h1m4 0h1m7 0h2m-105 1h1m15 0h1m1 0h2m1 0h2m13 0h1m1 0h1m2 0h2m2 0h1m17 0h1m24 0h1m10 0h2m3 0h1m-105 1h1m9 0h1m1 0h1m7 0h1m1 0h1m1 0h1m7 0h2m6 0h2m5 0h1m8 0h2m6 0h1m5 0h1m10 0h1m1 0h1m18 0h1m-111 1h1m3 0h1m14 0h1m2 0h1m20 0h1m7 0h1m21 0h1m5 0h1m3 0h1m3 0h1m12 0h1m6 0h1m1 0h1m4 0h1m-114 1h1m20 0h1m6 0h1m14 0h1m18 0h1m5 0h1m3 0h1m1 0h1m13 0h1m3 0h1m6 0h1m4 0h3m10 0h1m-114 1h1m10 0h1m2 0h1m11 0h1m8 0h1m3 0h1m3 0h1m4 0h1m2 0h1m21 0h1m6 0h1m6 0h2m3 0h1m5 0h1m-103 1h1m2 0h1m7 0h1m22 0h1m9 0h1m16 0h1m3 0h1m6 0h1m3 0h1m4 0h1m6 0h1m3 0h1m4 0h1m5 0h1m5 0h1m3 0h1m-112 1h2m20 0h1m1 0h1m12 0h1m2 0h2m7 0h1m5 0h1m4 0h1m3 0h1m21 0h1m3 0h1m1 0h1m7 0h1m11 0h2m2 0h1m-101 1h2m5 0h1m4 0h1m4 0h1m5 0h1m10 0h1m8 0h1m1 0h1m1 0h1m11 0h1m18 0h1m16 0h1m-112 1h1m12 0h1m2 0h1m3 0h1m3 0h1m4 0h1m50 0h1m1 0h1m3 0h1m4 0h2m5 0h2m14 0h1m-93 1h1m1 0h1m11 0h2m5 0h1m5 0h1m20 0h1m7 0h1m7 0h1m1 0h1m12 0h1m-103 1h1m15 0h1m10 0h1m10 0h1m7 0h1m1 0h1m23 0h1m4 0h1m11 0h1m4 0h1m5 0h1m2 0h1m-75 1h1m9 0h1m5 0h1m16 0h1m5 0h1m1 0h1m2 0h1m22 0h1m19 0h1m-118 1h1m2 0h1m28 0h1m3 0h1m3 0h1m11 0h1m8 0h2m4 0h1m7 0h1m19 0h1m13 0h1m1 0h1m7 0h1m-118 1h1m1 0h1m1 0h1m10 0h1m12 0h1m1 0h1m33 0h1m8 0h2m5 0h1m9 0h1m4 0h1m5 0h1m6 0h1m1 0h1m-113 1h1m16 0h1m3 0h1m9 0h1m11 0h1m10 0h1m7 0h3m17 0h1m4 0h1m3 0h2m6 0h1m16 0h1m-112 1h1m11 0h1m2 0h2m1 0h1m1 0h1m3 0h1m2 0h1m14 0h1m4 0h2m13 0h1m5 0h1m3 0h1m10 0h1m1 0h1m5 0h1m5 0h1m3 0h1m-107 1h1m1 0h1m3 0h1m11 0h2m33 0h1m9 0h2m5 0h1m1 0h1m14 0h1m-86 1h1m19 0h1m7 0h1m15 0h1m25 0h2m24 0h1m2 0h2m5 0h1m2 0h1m3 0h1m-93 1h1m2 0h1m23 0h1m22 0h1m3 0h1m13 0h1m2 0h1m3 0h1m11 0h1m1 0h1m-89 1h1m4 0h1m15 0h1m32 0h1m1 0h1m7 0h1m3 0h1m17 0h1m8 0h1m-121 1h1m1 0h2m62 0h1m14 0h1m21 0h1m-56 1h1m25 0h1m8 0h1m5 0h1m7 0h1m1 0h1m10 0h1m2 0h1m5 0h1m-116 1h1m14 0h1m8 0h1m56 0h1m6 0h1m-92 1h1m24 0h1m18 0h1m21 0h1m9 0h1m17 0h1m-92 1h1m15 0h1m3 0h1m19 0h1m29 0h1m20 0h2m15 0h1m-91 1h1m24 0h1m32 0h1m8 0h1m3 0h2m10 0h1m6 0h1m1 0h2m-116 1h1m4 0h1m14 0h1m1 0h2m4 0h1m17 0h1m22 0h1m6 0h1m2 0h1m1 0h1m5 0h1m3 0h1m6 0h1m12 0h1m1 0h1m6 0h1m-116 1h1m19 0h1m42 0h1m3 0h1m39 0h1m1 0h1m5 0h1m-121 1h1m71 0h1m15 0h1m2 0h1m9 0h1m1 0h1m3 0h1m3 0h2m4 0h1m-98 1h1m31 0h1m16 0h1m7 0h2m16 0h1m3 0h1m8 0h1m5 0h1m-93 1h1m2 0h1m24 0h1m18 0h1m34 0h3m-57 1h1m16 0h1m2 0h1m2 0h1m2 0h1m8 0h1m6 0h2m13 0h1m-105 1h1m2 0h1m21 0h1m22 0h1m45 0h1m5 0h1m3 0h1m1 0h1m4 0h1m1 0h1m-115 1h1m25 0h1m14 0h1m7 0h1m38 0h2m3 0h1m4 0h1m-98 1h1m15 0h1m7 0h1m48 0h1m7 0h1m10 0h1m2 0h1m3 0h1m-102 1h1m5 0h1m19 0h1m38 0h1m7 0h1m4 0h1m9 0h1m3 0h1m1 0h1m1 0h1m-72 1h1m17 0h1m3 0h2m15 0h1m7 0h1m2 0h1m5 0h1m20 0h1m6 0h1m2 0h1m2 0h1m-100 1h2m8 0h1m1 0h1m15 0h1m8 0h1m11 0h1m28 0h1m5 0h2m-83 1h1m2 0h2m30 0h1m17 0h1m4 0h1m1 0h1m5 0h1m4 0h1m3 0h1m1 0h1m3 0h1m5 0h1m12 0h1m-104 1h1m12 0h1m1 0h1m1 0h1m9 0h1m8 0h1m1 0h1m8 0h1m5 0h1m6 0h1m3 0h1m25 0h1m7 0h1m-114 1h1m2 0h1m1 0h1m8 0h2m3 0h1m7 0h2m4 0h1m7 0h1m11 0h1m6 0h3m2 0h2m14 0h1m1 0h1m16 0h1m1 0h1m7 0h1m1 0h1m4 0h1m-116 1h2m2 0h1m12 0h1m9 0h2m29 0h1m37 0h1m-89 1h1m22 0h4m6 0h1m13 0h1m2 0h1m8 0h1m1 0h1m1 0h2m6 0h1m1 0h2m6 0h1m-92 1h1m11 0h1m4 0h1m6 0h1m4 0h1m9 0h1m4 0h1m1 0h1m2 0h1m8 0h1m5 0h2m19 0h1m12 0h1m9 0h2m6 0h1m-107 1h1m2 0h1m1 0h1m18 0h1m23 0h4m10 0h1m1 0h3m16 0h1m3 0h1m3 0h1m-104 1h1m7 0h1m25 0h1m7 0h1m3 0h2m2 0h1m6 0h1m3 0h1m1 0h1m18 0h1m7 0h1m5 0h1m10 0h1m7 0h1m-112 1h1m2 0h1m3 0h1m20 0h1m9 0h1m11 0h3m24 0h1m7 0h2m4 0h1m3 0h1m11 0h1m3 0h2m-113 1h1m13 0h1m17 0h1m9 0h1m10 0h2m39 0h2m19 0h1m-110 1h1m10 0h1m3 0h1m7 0h1m10 0h1m9 0h1m2 0h1m2 0h1m2 0h1m9 0h1m1 0h2m11 0h1m2 0h1m4 0h1m17 0h1m-114 1h1m22 0h1m8 0h1m1 0h1m1 0h1m3 0h1m4 0h1m8 0h1m29 0h1m7 0h2m4 0h2m5 0h1m1 0h2m5 0h1m1 0h1m-109 1h2m40 0h1m2 0h1m2 0h1m4 0h1m4 0h1m2 0h1m12 0h1m18 0h1m9 0h1m4 0h1m-100 1h1m9 0h1m5 0h1m2 0h1m4 0h1m11 0h1m9 0h1m1 0h1m7 0h1m9 0h1m11 0h1m3 0h1m2 0h1m2 0h1m5 0h2m-91 1h1m2 0h1m1 0h1m3 0h1m13 0h2m12 0h1m12 0h1m4 0h1m6 0h1m2 0h1m4 0h1m1 0h1m3 0h1m2 0h1m11 0h1m1 0h1m-111 1h1m5 0h2m1 0h1m2 0h1m11 0h1m4 0h1m6 0h1m14 0h1m17 0h1m1 0h1m3 0h1m18 0h2m3 0h1m-96 1h1m10 0h1m16 0h1m1 0h1m15 0h1m19 0h1m7 0h1m2 0h1m2 0h1m2 0h2m10 0h2m3 0h1m-101 1h1m4 0h1m13 0h1m15 0h1m10 0h1m35 0h1m-88 1h1m44 0h2m12 0h1m3 0h1m5 0h1m12 0h2m2 0h1m16 0h2m1 0h1m-111 1h1m4 0h1m42 0h1m1 0h1m2 0h1m13 0h1m15 0h2m7 0h1m1 0h1m1 0h1m7 0h1m8 0h1m-111 1h1m1 0h1m12 0h1m1 0h1m4 0h2m17 0h1m23 0h1m23 0h1m4 0h1m-99 1h1m20 0h1m6 0h1m18 0h1m2 0h1m23 0h1m19 0h1m3 0h1m3 0h1m4 0h1m7 0h1m1 0h1m-114 1h1m15 0h2m5 0h1m23 0h2m15 0h1m20 0h1m21 0h1m8 0h1m-94 1h1m18 0h1m22 0h1m5 0h1m2 0h1m4 0h1m11 0h1m-19 1h1m35 0h1m6 0h1m-99 1h1m62 0h1m18 0h1m5 0h1m-83 1h1m16 0h1m1 0h1m1 0h1m32 0h1m24 0h1m1 0h3m-91 1h2m3 0h1m42 0h1m2 0h1m4 0h1m1 0h1m38 0h2m-74 1h1m24 0h1m2 0h1m15 0h1m1 0h1m2 0h1m4 0h2m11 0h1m5 0h1m-73 1h1m3 0h1m17 0h1m4 0h1m8 0h1m2 0h1m-86 1h1m20 0h2m27 0h1m19 0h1m15 0h1m5 0h1m1 0h1m6 0h1m4 0h1m3 0h1m8 0h1m-42 1h1m1 0h1m8 0h1m9 0h1m10 0h3m2 0h1m-116 1h1m20 0h1m1 0h1m22 0h1m33 0h1m3 0h1m10 0h1m2 0h1m3 0h1m6 0h1m-109 1h1m78 0h1m27 0h1m3 0h2m-69 1h1m3 0h1m18 0h1m2 0h1m16 0h2m18 0h1m9 0h1m-98 1h1m3 0h1m19 0h1m1 0h1m1 0h2m21 0h1m2 0h1m13 0h1m8 0h1m11 0h1m1 0h1m-91 1h1m27 0h1m22 0h1m13 0h1m6 0h1m12 0h1m9 0h1m-50 1h1m4 0h2m11 0h1m1 0h1m28 0h1m-116 1h1m70 0h1m1 0h1m6 0h1m12 0h1m18 0h1m-66 1h1m22 0h1m4 0h1m1 0h1m20 0h1m13 0h1m-69 1h1m4 0h1m17 0h1m18 0h1m6 0h1m15 0h1m-109 1h1m16 0h1m27 0h1m18 0h1m8 0h1m1 0h1m15 0h1m10 0h1m10 0h1m-118 1h1m19 0h1m48 0h2m4 0h3m30 0h1m-109 1h1m70 0h2m2 0h2m7 0h1m10 0h1m2 0h1m10 0h1m-87 1h1m6 0h1m13 0h1m2 0h1m4 0h2m14 0h1m14 0h2m9 0h2m2 0h1m5 0h1m5 0h2m-112 1h1m2 0h1m42 0h2m3 0h1m35 0h1m3 0h1m2 0h1m11 0h1m1 0h2m5 0h1m-95 1h1m29 0h1m3 0h1m19 0h1m9 0h1m5 0h1m1 0h1m4 0h1m17 0h1m-114 1h1m27 0h1m11 0h1m3 0h1m40 0h1m4 0h1m5 0h1m9 0h1m9 0h1m-117 1h1m17 0h1m1 0h1m8 0h1m1 0h1m6 0h2m7 0h1m2 0h1m20 0h1m8 0h1m4 0h1m11 0h1m9 0h1m6 0h1m-118 1h1m13 0h1m14 0h1m1 0h1m3 0h1m13 0h1m3 0h1m9 0h1m16 0h1m2 0h1m1 0h1m18 0h1m6 0h1m3 0h1m-110 1h1m5 0h1m22 0h1m2 0h2m3 0h1m23 0h1m3 0h1m3 0h1m10 0h1m10 0h1m6 0h1m8 0h1m-103 1h1m7 0h1m2 0h1m10 0h1m4 0h1m1 0h1m5 0h1m11 0h1m8 0h1m4 0h2m7 0h1m14 0h1m6 0h3m1 0h1m-85 1h2m4 0h1m2 0h1m10 0h1m9 0h1m4 0h1m7 0h1m6 0h2m2 0h1m9 0h1m3 0h1m14 0h1m-85 1h1m5 0h1m1 0h1m1 0h1m5 0h1m8 0h1m8 0h1m11 0h1m14 0h1m4 0h1m5 0h2m5 0h1m7 0h1m2 0h1m3 0h1"/>
<path stroke="#3e386a" d="M3 0h3m2 0h2m3 0h1m3 0h1m9 0h1m3 0h1m1 0h1m1 0h1m2 0h1m9 0h1m5 0h1m6 0h1m2 0h2m6 0h1m3 0h3m1 0h2m1 0h2m7 0h1m7 0h1m7 0h2m3 0h1m-114 1h1m2 0h1m5 0h1m6 0h1m1 0h1m1 0h1m1 0h2m5 0h3m1 0h2m1 0h1m1 0h1m4 0h2m6 0h1m4 0h1m2 0h2m1 0h2m8 0h1m4 0h1m17 0h1m3 0h1m3 0h1m12 0h2m-112 1h1m2 0h1m3 0h1m10 0h1m7 0h1m7 0h1m5 0h2m7 0h2m4 0h1m4 0h1m3 0h3m2 0h1m5 0h1m6 0h2m11 0h1m9 0h1m3 0h1m1 0h1m-109 1h2m3 0h1m9 0h1m2 0h2m7 0h1m2 0h1m10 0h2m2 0h1m4 0h1m5 0h2m1 0h1m1 0h1m13 0h1m2 0h1m3 0h1m3 0h1m4 0h1m17 0h1m-118 1h1m1 0h1m3 0h1m1 0h1m6 0h1m1 0h1m2 0h2m1 0h1m9 0h1m1 0h2m6 0h1m1 0h2m5 0h2m3 0h3m1 0h2m4 0h2m7 0h1m10 0h1m6 0h1m3 0h2m7 0h1m9 0h1m-119 1h3m1 0h1m2 0h1m11 0h1m22 0h1m1 0h1m4 0h1m4 0h1m1 0h2m15 0h1m2 0h1m2 0h1m5 0h1m3 0h1m2 0h1m2 0h2m-94 1h1m1 0h1m8 0h2m6 0h1m3 0h1m1 0h1m2 0h1m2 0h1m3 0h1m4 0h1m1 0h1m2 0h2m5 0h1m10 0h1m8 0h1m9 0h2m6 0h2m5 0h1m8 0h1m7 0h1m-116 1h1m1 0h1m1 0h1m3 0h1m5 0h1m3 0h1m1 0h1m16 0h1m1 0h1m6 0h1m7 0h1m14 0h1m6 0h1m1 0h1m6 0h1m1 0h1m7 0h1m22 0h1m-115 1h1m2 0h1m1 0h2m10 0h1m3 0h1m1 0h1m1 0h1m2 0h1m4 0h2m3 0h1m1 0h1m4 0h1m11 0h1m7 0h1m4 0h1m1 0h1m1 0h1m6 0h1m5 0h1m14 0h1m4 0h2m2 0h1m2 0h1m-121 1h1m2 0h2m2 0h1m8 0h1m1 0h1m1 0h2m2 0h1m7 0h1m4 0h3m1 0h1m3 0h1m23 0h2m2 0h1m6 0h1m3 0h1m4 0h1m1 0h1m1 0h1m1 0h1m1 0h1m10 0h2m7 0h1m2 0h1m-120 1h1m6 0h1m7 0h3m10 0h1m1 0h1m8 0h2m3 0h1m2 0h1m5 0h1m10 0h1m22 0h2m10 0h1m16 0h1m-115 1h1m7 0h1m2 0h1m2 0h1m7 0h1m2 0h1m1 0h1m8 0h1m3 0h1m1 0h1m1 0h1m22 0h1m4 0h2m5 0h1m2 0h1m13 0h1m9 0h1m-108 1h1m3 0h1m4 0h1m5 0h1m4 0h1m3 0h3m2 0h1m11 0h2m1 0h2m6 0h1m13 0h1m6 0h1m9 0h1m4 0h1m8 0h1m12 0h1m2 0h1m1 0h1m2 0h1m-121 1h2m3 0h1m4 0h1m6 0h1m2 0h1m4 0h2m1 0h1m5 0h1m1 0h2m1 0h2m22 0h1m1 0h1m3 0h1m1 0h1m2 0h1m8 0h1m1 0h1m2 0h1m1 0h2m8 0h1m-101 1h1m3 0h3m3 0h2m11 0h2m8 0h1m3 0h1m3 0h1m2 0h1m2 0h2m10 0h1m13 0h1m4 0h1m17 0h1m10 0h1m-104 1h1m4 0h2m2 0h1m2 0h3m4 0h1m8 0h1m13 0h1m4 0h1m1 0h1m2 0h1m12 0h1m3 0h1m7 0h1m1 0h1m3 0h2m3 0h1m1 0h1m4 0h1m2 0h1m3 0h1m6 0h1m6 0h1m-121 1h4m4 0h1m1 0h1m1 0h1m12 0h1m2 0h1m1 0h2m5 0h1m3 0h1m10 0h1m11 0h1m1 0h1m2 0h2m6 0h1m12 0h1m28 0h1m-120 1h1m2 0h1m2 0h1m1 0h2m5 0h2m5 0h1m4 0h1m3 0h1m3 0h1m4 0h1m6 0h1m9 0h1m4 0h1m4 0h1m9 0h1m26 0h2m8 0h1m4 0h2m-119 1h1m3 0h1m4 0h1m4 0h3m11 0h3m18 0h1m4 0h1m11 0h1m10 0h1m2 0h1m8 0h1m4 0h1m2 0h1m2 0h1m1 0h1m-105 1h1m1 0h1m2 0h3m10 0h1m2 0h3m3 0h1m5 0h2m6 0h1m8 0h1m2 0h1m8 0h2m7 0h1m6 0h1m1 0h1m5 0h1m2 0h1m1 0h1m11 0h1m4 0h1m6 0h1m-113 1h1m2 0h1m2 0h1m16 0h1m1 0h1m14 0h2m10 0h1m1 0h1m5 0h1m16 0h1m10 0h1m9 0h1m-102 1h1m1 0h1m5 0h1m7 0h2m1 0h2m3 0h1m19 0h2m4 0h1m2 0h1m22 0h1m3 0h1m28 0h2m-110 1h1m7 0h1m6 0h2m1 0h1m1 0h1m8 0h1m11 0h1m3 0h1m4 0h1m16 0h1m4 0h1m3 0h1m18 0h1m2 0h1m3 0h1m1 0h1m8 0h2m2 0h1m-119 1h1m3 0h1m14 0h1m2 0h2m9 0h1m8 0h1m1 0h2m1 0h1m4 0h1m1 0h1m9 0h2m3 0h2m8 0h1m9 0h1m9 0h2m17 0h1m-118 1h1m2 0h2m11 0h1m3 0h2m17 0h3m3 0h1m28 0h1m13 0h2m13 0h1m2 0h1m1 0h1m6 0h1m-94 1h1m4 0h1m21 0h1m1 0h2m1 0h1m8 0h1m1 0h1m4 0h1m3 0h1m17 0h1m8 0h1m1 0h1m7 0h1m4 0h1m-112 1h1m1 0h1m7 0h1m2 0h1m2 0h1m1 0h1m2 0h1m5 0h1m12 0h1m3 0h1m24 0h1m19 0h1m3 0h1m17 0h2m-119 1h2m4 0h1m9 0h1m2 0h1m6 0h1m3 0h1m1 0h1m8 0h3m6 0h2m1 0h1m3 0h1m15 0h1m5 0h1m18 0h1m12 0h1m7 0h1m-120 1h1m10 0h1m4 0h1m1 0h1m3 0h1m1 0h1m4 0h2m10 0h1m6 0h1m2 0h1m2 0h2m10 0h3m2 0h2m2 0h1m10 0h1m25 0h1m7 0h1m-121 1h1m3 0h3m2 0h1m17 0h1m3 0h1m5 0h1m1 0h3m4 0h1m3 0h1m4 0h1m1 0h1m5 0h1m6 0h1m3 0h1m1 0h1m3 0h1m2 0h1m10 0h2m3 0h1m-93 1h1m1 0h1m7 0h1m1 0h1m1 0h1m2 0h2m1 0h1m2 0h1m4 0h1m1 0h1m6 0h3m1 0h1m5 0h1m2 0h1m32 0h1m21 0h1m-113 1h1m2 0h2m2 0h1m7 0h3m4 0h1m3 0h1m2 0h3m1 0h3m1 0h1m2 0h1m4 0h1m5 0h1m9 0h2m2 0h1m14 0h1m3 0h1m9 0h1m9 0h1m6 0h1m3 0h1m2 0h1m-117 1h2m1 0h2m2 0h1m4 0h3m16 0h1m2 0h1m1 0h2m5 0h1m3 0h1m2 0h2m16 0h1m7 0h1m4 0h1m12 0h1m3 0h1m15 0h1m-114 1h1m1 0h1m3 0h1m1 0h2m6 0h1m3 0h2m4 0h1m8 0h1m8 0h1m3 0h2m2 0h1m9 0h2m8 0h1m12 0h1m-88 1h1m1 0h1m1 0h1m22 0h1m1 0h1m1 0h1m2 0h1m4 0h1m4 0h1m4 0h1m4 0h1m11 0h1m19 0h1m1 0h1m2 0h1m10 0h1m2 0h1m6 0h1m-107 1h1m8 0h1m1 0h1m1 0h1m1 0h1m1 0h1m2 0h1m2 0h2m11 0h3m2 0h1m2 0h1m3 0h1m4 0h2m2 0h1m5 0h1m1 0h1m3 0h1m1 0h2m1 0h2m2 0h1m9 0h2m19 0h2m1 0h1m-110 1h1m1 0h2m2 0h1m8 0h1m1 0h2m9 0h1m9 0h1m22 0h1m3 0h1m2 0h1m7 0h1m4 0h1m1 0h1m18 0h1m3 0h2m-116 1h2m8 0h1m2 0h1m12 0h2m2 0h1m4 0h1m3 0h1m5 0h2m3 0h1m5 0h1m1 0h1m7 0h1m5 0h1m7 0h1m2 0h1m11 0h1m-98 1h3m1 0h1m10 0h1m1 0h1m5 0h1m1 0h1m8 0h1m1 0h1m4 0h1m2 0h1m2 0h1m3 0h1m2 0h1m30 0h1m8 0h1m2 0h1m13 0h1m-112 1h1m1 0h2m6 0h1m8 0h1m1 0h2m4 0h1m12 0h3m3 0h1m8 0h2m4 0h1m11 0h1m2 0h1m13 0h1m1 0h1m7 0h1m7 0h1m2 0h2m4 0h1m-118 1h1m1 0h1m1 0h2m15 0h1m2 0h1m6 0h1m1 0h1m4 0h1m2 0h1m1 0h2m3 0h1m3 0h1m6 0h1m12 0h2m2 0h1m5 0h1m5 0h1m1 0h1m10 0h1m15 0h1m-112 1h1m5 0h1m1 0h1m5 0h1m6 0h3m1 0h1m6 0h1m3 0h3m3 0h1m5 0h3m7 0h2m1 0h1m15 0h1m13 0h1m2 0h1m-99 1h3m1 0h1m1 0h1m8 0h1m49 0h1m1 0h1m4 0h1m2 0h2m-79 1h1m5 0h2m16 0h3m17 0h2m1 0h1m2 0h2m3 0h1m15 0h1m3 0h1m13 0h1m9 0h1m4 0h1m11 0h1m-117 1h1m7 0h1m10 0h1m5 0h2m1 0h2m10 0h1m2 0h1m3 0h1m4 0h2m16 0h1m9 0h1m1 0h2m19 0h1m-103 1h1m4 0h2m11 0h1m9 0h1m2 0h1m13 0h1m2 0h1m17 0h1m2 0h2m4 0h1m1 0h1m5 0h1m12 0h1m-97 1h1m6 0h1m8 0h1m3 0h2m3 0h1m16 0h1m6 0h1m1 0h1m2 0h1m15 0h2m9 0h1m9 0h1m12 0h1m2 0h2m1 0h1m8 0h1m-117 1h2m20 0h1m1 0h1m38 0h1m2 0h4m11 0h1m2 0h1m13 0h1m1 0h1m10 0h1m1 0h1m-116 1h1m1 0h2m16 0h2m18 0h1m3 0h2m1 0h1m2 0h1m13 0h3m30 0h1m4 0h1m3 0h1m1 0h1m5 0h1m-113 1h1m24 0h1m18 0h1m4 0h1m1 0h1m14 0h1m7 0h1m4 0h1m23 0h1m3 0h1m4 0h1m-111 1h2m20 0h1m1 0h1m22 0h1m19 0h1m26 0h1m7 0h1m1 0h1m2 0h1m3 0h1m-117 1h2m2 0h3m14 0h1m19 0h1m2 0h2m3 0h1m22 0h1m18 0h2m13 0h1m4 0h1m6 0h1m-114 1h2m10 0h1m3 0h1m23 0h1m2 0h1m2 0h1m2 0h1m35 0h1m12 0h1m-103 1h6m21 0h1m13 0h1m1 0h2m8 0h1m16 0h2m3 0h1m6 0h1m2 0h1m7 0h1m18 0h1m-113 1h1m1 0h1m13 0h1m1 0h1m4 0h2m1 0h1m13 0h2m2 0h1m5 0h1m1 0h1m11 0h2m12 0h1m20 0h1m3 0h1m14 0h1m-121 1h2m2 0h1m12 0h1m8 0h1m2 0h1m13 0h1m10 0h1m20 0h1m1 0h1m11 0h1m4 0h1m12 0h1m6 0h1m-110 1h1m2 0h1m16 0h1m3 0h3m13 0h2m1 0h1m25 0h2m21 0h2m3 0h1m1 0h1m2 0h1m2 0h1m1 0h1m-111 1h2m2 0h2m8 0h2m4 0h1m4 0h1m3 0h2m11 0h1m1 0h1m6 0h1m13 0h1m4 0h1m3 0h1m1 0h1m16 0h2m12 0h1m8 0h1m-119 1h1m17 0h1m6 0h1m5 0h1m1 0h1m7 0h1m9 0h1m11 0h1m1 0h1m9 0h1m15 0h1m21 0h2m1 0h1m3 0h1m-117 1h1m12 0h1m4 0h2m9 0h1m4 0h1m5 0h1m2 0h1m2 0h1m3 0h1m3 0h1m10 0h3m4 0h1m13 0h1m6 0h1m9 0h2m8 0h4m-116 1h1m7 0h1m3 0h1m6 0h1m10 0h1m2 0h1m6 0h1m2 0h1m1 0h1m1 0h1m3 0h1m12 0h1m15 0h1m4 0h1m3 0h2m2 0h1m7 0h1m1 0h1m2 0h1m4 0h1m-117 1h1m10 0h2m1 0h1m6 0h1m1 0h1m1 0h1m6 0h1m10 0h1m2 0h1m1 0h1m4 0h1m4 0h1m2 0h1m9 0h1m7 0h1m1 0h1m12 0h1m2 0h1m21 0h1m-120 1h1m8 0h1m1 0h1m1 0h2m6 0h1m2 0h2m1 0h2m5 0h1m2 0h2m4 0h1m11 0h1m5 0h1m2 0h1m3 0h2m3 0h2m2 0h1m2 0h1m5 0h2m27 0h1m-116 1h1m14 0h3m3 0h2m3 0h1m2 0h1m2 0h2m4 0h1m7 0h3m5 0h1m2 0h1m18 0h1m1 0h1m8 0h1m15 0h1m14 0h1m1 0h1m-120 1h2m2 0h1m1 0h2m2 0h2m2 0h1m3 0h1m2 0h1m5 0h2m9 0h1m5 0h2m10 0h1m3 0h1m6 0h1m3 0h1m6 0h1m33 0h1m-113 1h1m1 0h1m8 0h1m1 0h1m1 0h1m4 0h1m6 0h1m1 0h1m4 0h1m11 0h1m1 0h1m1 0h1m3 0h1m2 0h2m3 0h1m53 0h1m-116 1h1m2 0h1m3 0h1m1 0h2m1 0h1m3 0h1m11 0h1m4 0h1m3 0h1m1 0h4m2 0h1m2 0h1m6 0h2m2 0h1m1 0h1m7 0h3m7 0h1m2 0h1m1 0h1m3 0h1m1 0h1m6 0h1m3 0h1m1 0h1m6 0h1m-107 1h1m4 0h1m1 0h1m1 0h1m2 0h1m2 0h1m8 0h3m1 0h1m8 0h1m7 0h1m4 0h1m1 0h1m1 0h1m2 0h1m1 0h1m1 0h1m8 0h1m5 0h1m7 0h1m3 0h1m2 0h2m12 0h1m1 0h1m-109 1h1m1 0h1m4 0h1m11 0h1m6 0h5m11 0h1m9 0h2m1 0h1m12 0h1m4 0h1m4 0h1m4 0h1m3 0h1m10 0h1m3 0h1m6 0h2m4 0h1m-113 1h1m1 0h2m1 0h1m7 0h1m1 0h1m2 0h1m1 0h1m1 0h1m3 0h1m4 0h2m15 0h1m12 0h1m18 0h2m5 0h2m2 0h1m-84 1h4m7 0h1m1 0h1m1 0h2m6 0h1m2 0h1m9 0h1m1 0h2m2 0h2m11 0h1m16 0h1m2 0h1m1 0h1m10 0h1m8 0h1m5 0h1m-119 1h1m2 0h1m4 0h2m6 0h1m2 0h1m1 0h1m2 0h2m3 0h1m1 0h1m2 0h1m7 0h2m2 0h1m12 0h1m1 0h2m2 0h1m11 0h1m17 0h1m11 0h1m-107 1h1m7 0h1m5 0h2m1 0h1m8 0h1m4 0h1m3 0h2m10 0h1m7 0h1m15 0h3m1 0h1m8 0h1m3 0h1m5 0h3m2 0h1m8 0h1m-106 1h1m13 0h1m8 0h1m11 0h2m2 0h2m4 0h2m5 0h1m8 0h1m3 0h1m4 0h1m12 0h1m7 0h1m7 0h1m15 0h1m-103 1h1m6 0h1m1 0h1m3 0h1m8 0h2m2 0h2m1 0h1m1 0h1m18 0h1m6 0h4m21 0h2m4 0h1m1 0h1m-109 1h3m2 0h2m10 0h3m6 0h1m15 0h1m2 0h1m8 0h2m32 0h3m10 0h1m8 0h1m-108 1h1m15 0h1m2 0h2m6 0h2m10 0h1m7 0h1m4 0h1m16 0h1m2 0h1m11 0h1m15 0h1m12 0h1m-116 1h1m3 0h1m12 0h1m3 0h2m4 0h1m23 0h1m19 0h1m4 0h1m2 0h1m6 0h1m8 0h1m1 0h1m9 0h1m3 0h2m-108 1h1m12 0h2m6 0h1m1 0h1m16 0h2m19 0h2m1 0h1m27 0h1m5 0h1m1 0h1m7 0h1m-110 1h1m16 0h1m20 0h3m29 0h1m15 0h1m2 0h1m3 0h1m1 0h1m3 0h1m-102 1h1m16 0h1m1 0h1m1 0h2m1 0h1m1 0h1m17 0h1m2 0h2m43 0h1m8 0h1m5 0h2m-110 1h1m18 0h2m1 0h1m3 0h1m20 0h1m20 0h3m1 0h1m1 0h1m19 0h1m8 0h2m1 0h2m3 0h1m-93 1h2m26 0h2m20 0h1m31 0h1m3 0h1m6 0h1m2 0h1m2 0h1m-120 1h1m21 0h1m1 0h1m20 0h1m1 0h1m4 0h1m15 0h1m3 0h1m1 0h1m32 0h1m1 0h1m2 0h1m-111 1h2m16 0h1m2 0h1m47 0h2m22 0h1m9 0h1m1 0h2m8 0h1m-118 1h1m22 0h1m1 0h1m1 0h2m16 0h2m21 0h1m23 0h2m4 0h2m2 0h1m-103 1h1m2 0h2m15 0h1m23 0h1m3 0h1m21 0h1m26 0h1m19 0h1m-115 1h2m16 0h1m3 0h1m2 0h1m16 0h1m6 0h1m14 0h1m1 0h1m1 0h1m7 0h1m1 0h1m8 0h2m9 0h2m2 0h1m-106 1h1m3 0h1m18 0h1m1 0h1m20 0h1m24 0h2m1 0h1m1 0h1m15 0h1m2 0h1m2 0h1m3 0h1m6 0h1m1 0h1m7 0h1m-121 1h2m2 0h1m14 0h1m5 0h3m1 0h1m17 0h1m21 0h1m1 0h2m2 0h1m3 0h1m14 0h2m1 0h1m8 0h1m6 0h1m-113 1h1m18 0h1m24 0h1m1 0h2m18 0h1m9 0h1m3 0h1m6 0h1m7 0h1m3 0h1m10 0h1m-109 1h1m1 0h2m14 0h1m1 0h1m1 0h2m3 0h1m39 0h1m2 0h1m10 0h1m33 0h1m-113 1h1m17 0h1m4 0h2m35 0h1m11 0h1m11 0h1m1 0h1m12 0h1m7 0h1m-110 1h1m15 0h1m1 0h2m2 0h1m1 0h1m1 0h1m16 0h1m6 0h1m12 0h1m5 0h1m3 0h2m23 0h1m2 0h1m-106 1h1m1 0h1m2 0h1m25 0h1m13 0h2m5 0h2m1 0h1m11 0h1m10 0h1m5 0h1m13 0h1m1 0h1m4 0h1m1 0h1m-105 1h3m14 0h1m2 0h1m4 0h1m1 0h1m18 0h1m5 0h1m19 0h1m13 0h1m1 0h1m1 0h1m-86 1h2m6 0h1m2 0h1m1 0h2m6 0h1m1 0h2m11 0h1m8 0h1m11 0h1m3 0h1m4 0h2m1 0h1m10 0h1m24 0h1m-113 1h1m3 0h1m2 0h1m10 0h1m9 0h1m10 0h2m21 0h1m3 0h1m4 0h2m4 0h1m4 0h1m3 0h1m2 0h1m9 0h1m15 0h1m-116 1h1m1 0h2m8 0h1m1 0h1m2 0h1m5 0h1m3 0h1m21 0h1m1 0h1m13 0h1m12 0h1m15 0h2m20 0h1m-109 1h1m1 0h1m1 0h1m6 0h1m1 0h1m1 0h1m4 0h1m3 0h1m1 0h1m3 0h2m2 0h1m8 0h1m8 0h1m1 0h1m3 0h2m2 0h1m4 0h1m7 0h1m18 0h1m7 0h1m8 0h1m-118 1h1m4 0h1m2 0h1m1 0h1m1 0h1m1 0h1m1 0h2m7 0h3m19 0h1m2 0h1m24 0h1m9 0h1m1 0h1m10 0h2m1 0h1m-104 1h1m1 0h1m6 0h1m5 0h2m5 0h1m8 0h3m2 0h1m1 0h2m1 0h2m14 0h1m3 0h1m2 0h1m3 0h1m2 0h1m1 0h1m4 0h1m5 0h1m8 0h1m2 0h1m3 0h1m2 0h1m1 0h1m-107 1h2m2 0h1m6 0h1m2 0h1m1 0h1m7 0h1m1 0h1m1 0h1m17 0h1m3 0h2m4 0h1m11 0h1m20 0h1m8 0h1m1 0h2m3 0h1m9 0h2m1 0h1m-118 1h2m2 0h1m7 0h1m4 0h1m1 0h1m1 0h1m1 0h2m10 0h1m1 0h1m1 0h1m2 0h1m4 0h1m4 0h1m1 0h1m8 0h1m16 0h1m6 0h1m5 0h1m2 0h1m2 0h1m2 0h1m2 0h1m-107 1h1m4 0h1m4 0h1m1 0h1m7 0h3m1 0h1m10 0h1m1 0h1m6 0h2m1 0h1m5 0h1m5 0h1m1 0h1m8 0h1m3 0h1m7 0h2m18 0h1m2 0h1m-105 1h1m1 0h1m3 0h1m2 0h1m5 0h1m9 0h1m2 0h1m3 0h1m4 0h2m5 0h1m14 0h1m11 0h2m4 0h1m2 0h1m2 0h1m10 0h1m12 0h1m-109 1h1m5 0h1m2 0h1m3 0h2m2 0h1m4 0h1m1 0h1m6 0h1m5 0h1m5 0h1m1 0h2m4 0h1m3 0h1m9 0h1m3 0h1m20 0h1m2 0h1m10 0h1m6 0h1m6 0h1m-117 1h1m6 0h1m6 0h1m4 0h1m1 0h1m1 0h1m1 0h2m1 0h1m7 0h1m1 0h1m6 0h1m2 0h1m2 0h1m6 0h1m2 0h1m2 0h1m16 0h1m3 0h2m3 0h1m4 0h1m13 0h2m-113 1h1m4 0h2m7 0h1m6 0h4m2 0h1m2 0h1m1 0h1m2 0h2m2 0h1m9 0h1m10 0h2m6 0h2m5 0h1m1 0h1m7 0h2m24 0h1m-112 1h2m1 0h1m5 0h1m1 0h1m5 0h1m6 0h1m4 0h1m2 0h1m5 0h1m4 0h1m3 0h1m13 0h1m7 0h1m5 0h1m2 0h1m12 0h1m2 0h1m7 0h1m5 0h1m8 0h1m-115 1h2m4 0h3m8 0h1m3 0h1m6 0h1m1 0h1m1 0h1m2 0h1m3 0h1m7 0h1m3 0h1m11 0h1m23 0h1m5 0h1m9 0h1m10 0h2m-117 1h1m5 0h1m1 0h1m3 0h1m1 0h1m19 0h1m16 0h1m4 0h1m3 0h1m4 0h1m2 0h1m3 0h1m4 0h1m2 0h3m6 0h1m11 0h1m8 0h1m-107 1h1m1 0h1m6 0h1m1 0h4m10 0h1m20 0h2m15 0h1m7 0h1m4 0h1m3 0h1m8 0h1m3 0h1m4 0h1m13 0h1m-118 1h1m5 0h1m1 0h1m13 0h1m9 0h1m6 0h1m10 0h1m5 0h1m5 0h1m2 0h1m2 0h1m2 0h1m1 0h1m21 0h1m2 0h1m4 0h3m3 0h1m6 0h1m-117 1h2m3 0h1m10 0h1m1 0h1m3 0h3m4 0h1m12 0h3m1 0h2m3 0h1m12 0h1m1 0h1m1 0h1m23 0h1m25 0h1m-117 1h1m14 0h1m2 0h1m1 0h2m4 0h1m13 0h1m1 0h1m4 0h1m15 0h2m3 0h3m3 0h1m11 0h1m6 0h1m14 0h1m-110 1h2m48 0h2m16 0h1m2 0h1m2 0h1m14 0h1m7 0h1m1 0h1m1 0h1m2 0h1m5 0h1m-110 1h1m16 0h1m2 0h1m3 0h1m2 0h1m14 0h1m2 0h2m3 0h1m16 0h1m1 0h1m3 0h1m1 0h1m14 0h1m3 0h1m12 0h1m1 0h1m-113 1h1m4 0h1m17 0h1m1 0h2m2 0h1m15 0h1m29 0h1m24 0h1m11 0h1m1 0h1m1 0h1m1 0h1m-115 1h2m17 0h1m24 0h1m35 0h1m11 0h1m2 0h1m-75 1h2m19 0h1m2 0h1m1 0h1m17 0h1m1 0h2m20 0h1m6 0h1m10 0h1m-110 1h1m1 0h1m18 0h1m3 0h1m18 0h1m4 0h1m21 0h1m3 0h1m14 0h1m7 0h1m2 0h1m16 0h1m-117 1h1m21 0h2m47 0h1m19 0h1m2 0h1m6 0h1m10 0h1m-116 1h1m1 0h1m21 0h1m45 0h1m2 0h1m11 0h1m12 0h2m5 0h1m1 0h1m4 0h2m-114 1h1m19 0h1m2 0h1m20 0h1m2 0h3m19 0h1m4 0h1m18 0h1m10 0h1m8 0h1m3 0h1m-8 1h2m5 0h2m-118 1h1m23 0h1m58 0h1m19 0h1m6 0h1m2 0h1m-94 1h2m1 0h2m19 0h1m1 0h1m2 0h1m19 0h1m2 0h1m7 0h1m5 0h1m16 0h1m14 0h1m-98 1h1m22 0h1m1 0h1m30 0h1m14 0h1m18 0h1m1 0h1m-116 1h2m1 0h1m45 0h1m1 0h1m20 0h1m1 0h1m15 0h1m6 0h2m3 0h1m4 0h1m9 0h1m-118 1h1m1 0h2m23 0h1m19 0h1m1 0h1m1 0h1m22 0h2m-73 1h1m21 0h1m21 0h1m23 0h1m2 0h2m8 0h1m11 0h1m3 0h1m7 0h1m6 0h1m-113 1h1m18 0h1m23 0h1m1 0h2m19 0h1m23 0h1m4 0h1m2 0h1m7 0h1m10 0h1m-121 1h1m2 0h1m19 0h1m3 0h1m17 0h1m24 0h1m23 0h2m14 0h1m3 0h1m1 0h1m-116 1h2m18 0h2m50 0h1m8 0h1m3 0h1m6 0h1m17 0h1m-112 1h1m24 0h1m22 0h2m45 0h1m9 0h1m1 0h1m1 0h1m-107 1h1m18 0h1m49 0h1m3 0h1m36 0h1m2 0h1m-97 1h1m2 0h1m1 0h1m18 0h2m1 0h1m2 0h1m21 0h1m1 0h2m4 0h1m6 0h1m5 0h1m4 0h1m2 0h1m16 0h1m1 0h1m-118 1h1m17 0h1m25 0h2m2 0h1m55 0h1m11 0h2m-120 1h1m2 0h1m17 0h1m4 0h3m14 0h2m24 0h1m2 0h1m8 0h1m4 0h1m3 0h1m1 0h1m3 0h1m4 0h1m1 0h1m7 0h1m7 0h1m-101 1h1m3 0h1m20 0h1m2 0h1m2 0h1m24 0h1m5 0h1m8 0h1m4 0h1m11 0h1m3 0h1m1 0h1m4 0h1m-119 1h2m1 0h1m1 0h1m12 0h1m1 0h1m6 0h1m21 0h1m17 0h1m2 0h3m24 0h1m2 0h1m12 0h1m-115 1h1m1 0h4m14 0h1m2 0h1m4 0h1m1 0h1m14 0h3m4 0h1m1 0h1m16 0h1m11 0h1m5 0h1m4 0h1m5 0h3m3 0h1m6 0h1m-114 1h1m6 0h1m9 0h1m7 0h3m1 0h2m43 0h1m8 0h1m5 0h1m11 0h1m10 0h1m3 0h1m1 0h1m1 0h1m-121 1h2m4 0h2m1 0h1m5 0h1m1 0h1m1 0h1m2 0h1m1 0h1m15 0h1m7 0h1m6 0h1m2 0h1m6 0h1m4 0h1m19 0h2m3 0h1m3 0h1m8 0h2m9 0h2m-120 1h1m6 0h1m9 0h1m5 0h1m3 0h1m1 0h1m5 0h2m12 0h1m7 0h1m1 0h1m3 0h2m8 0h1m4 0h1m1 0h1m8 0h3m4 0h1m7 0h1m1 0h1m2 0h1m5 0h1m-113 1h1m3 0h1m4 0h1m3 0h1m1 0h1m8 0h2m6 0h1m3 0h1m6 0h1m1 0h1m8 0h1m37 0h1m2 0h1m1 0h1m6 0h1m10 0h1m-119 1h2m2 0h2m3 0h1m2 0h2m10 0h1m8 0h2m6 0h1m1 0h1m6 0h2m2 0h1m5 0h1m12 0h2m1 0h3m37 0h1m-117 1h2m3 0h1m5 0h1m2 0h1m1 0h1m1 0h1m13 0h1m1 0h1m4 0h1m6 0h1m1 0h2m3 0h1m10 0h1m10 0h1m2 0h1m19 0h1m12 0h1m-113 1h1m8 0h2m3 0h1m2 0h1m5 0h1m2 0h1m2 0h1m5 0h1m1 0h1m5 0h2m3 0h2m7 0h1m48 0h1m4 0h1"/>
<path stroke="#322745" d="M7 0h1m7 0h1m21 0h1m8 0h1m3 0h1m2 0h1m1 0h1m1 0h1m12 0h1m4 0h1m6 0h1m6 0h1m5 0h1m1 0h1m9 0h1m3 0h1m-106 1h1m1 0h1m1 0h1m2 0h1m5 0h1m7 0h1m18 0h1m3 0h1m10 0h1m4 0h2m5 0h1m7 0h1m20 0h1m1 0h1m6 0h2m-110 1h1m10 0h1m4 0h2m2 0h1m1 0h1m7 0h1m18 0h1m6 0h1m4 0h1m14 0h1m6 0h1m4 0h1m7 0h1m18 0h1m1 0h1m-116 1h2m4 0h1m9 0h3m1 0h1m5 0h1m2 0h1m9 0h2m2 0h1m14 0h1m19 0h1m2 0h1m1 0h1m17 0h1m2 0h1m1 0h1m-107 1h2m5 0h1m1 0h1m5 0h1m19 0h1m29 0h1m1 0h1m2 0h1m2 0h2m2 0h1m7 0h1m12 0h2m5 0h1m1 0h1m1 0h1m2 0h1m-113 1h1m3 0h1m5 0h1m2 0h1m2 0h1m10 0h2m6 0h2m8 0h1m16 0h1m3 0h1m3 0h1m1 0h1m20 0h1m4 0h1m8 0h1m-92 1h1m13 0h1m3 0h1m10 0h2m2 0h1m2 0h1m5 0h1m7 0h1m2 0h1m1 0h1m1 0h1m2 0h2m15 0h1m-96 1h1m5 0h1m1 0h1m3 0h1m3 0h1m7 0h1m1 0h1m1 0h1m6 0h1m7 0h1m2 0h1m7 0h1m10 0h1m1 0h1m3 0h1m18 0h1m2 0h1m11 0h1m-108 1h1m1 0h1m1 0h1m1 0h1m8 0h1m1 0h1m2 0h2m5 0h1m1 0h1m7 0h1m2 0h1m6 0h1m11 0h1m4 0h1m4 0h1m29 0h1m-96 1h1m7 0h1m5 0h1m6 0h1m1 0h1m4 0h1m15 0h1m9 0h2m10 0h1m5 0h1m4 0h1m-79 1h1m6 0h1m2 0h2m4 0h2m3 0h1m4 0h1m3 0h1m1 0h1m14 0h1m1 0h1m3 0h1m8 0h1m2 0h1m2 0h2m1 0h1m9 0h1m-86 1h2m2 0h1m3 0h1m17 0h1m10 0h2m1 0h2m2 0h1m3 0h1m9 0h1m3 0h1m33 0h1m6 0h1m8 0h1m-99 1h1m8 0h1m5 0h2m4 0h1m1 0h1m7 0h1m4 0h1m1 0h1m2 0h1m4 0h2m2 0h1m5 0h1m6 0h2m5 0h1m25 0h1m-109 1h2m5 0h1m2 0h2m2 0h1m1 0h1m13 0h1m19 0h1m22 0h1m5 0h1m10 0h1m22 0h1m-114 1h2m5 0h1m3 0h1m1 0h1m1 0h1m7 0h1m1 0h1m4 0h1m3 0h1m1 0h1m1 0h1m1 0h1m13 0h1m12 0h1m1 0h1m13 0h1m1 0h1m13 0h1m-97 1h1m1 0h2m5 0h1m6 0h1m7 0h2m3 0h1m4 0h4m18 0h2m2 0h1m5 0h2m16 0h1m8 0h1m2 0h1m2 0h1m-92 1h1m5 0h1m2 0h1m13 0h1m2 0h2m4 0h1m2 0h2m15 0h1m7 0h1m2 0h1m15 0h1m5 0h1m11 0h1m5 0h2m-97 1h1m2 0h1m3 0h1m3 0h1m9 0h1m3 0h1m11 0h2m5 0h1m3 0h1m8 0h2m13 0h4m1 0h1m1 0h1m9 0h1m-106 1h1m4 0h1m8 0h1m4 0h1m2 0h1m11 0h1m1 0h2m23 0h1m7 0h1m13 0h1m9 0h1m8 0h2m-108 1h1m1 0h1m12 0h1m9 0h1m3 0h2m8 0h1m2 0h2m3 0h2m15 0h2m1 0h1m12 0h1m14 0h1m7 0h1m4 0h1m4 0h1m2 0h1m2 0h1m-117 1h1m10 0h1m1 0h2m1 0h1m12 0h1m6 0h3m7 0h1m1 0h1m12 0h1m2 0h1m2 0h1m22 0h1m5 0h1m2 0h1m7 0h1m7 0h1m-117 1h1m5 0h1m18 0h1m10 0h2m2 0h1m3 0h1m4 0h1m16 0h1m1 0h1m9 0h1m8 0h1m1 0h1m5 0h1m1 0h1m13 0h2m1 0h1m2 0h1m-118 1h3m20 0h1m1 0h2m1 0h1m8 0h1m2 0h1m4 0h1m5 0h1m8 0h2m2 0h1m4 0h1m7 0h1m6 0h2m13 0h1m-102 1h3m1 0h1m10 0h3m2 0h1m2 0h1m6 0h1m14 0h1m21 0h1m2 0h2m7 0h1m10 0h1m1 0h1m8 0h1m2 0h1m13 0h1m-120 1h1m2 0h1m4 0h1m7 0h1m1 0h1m1 0h1m3 0h2m7 0h1m10 0h1m3 0h1m6 0h1m10 0h1m1 0h1m5 0h1m22 0h2m6 0h2m-107 1h1m3 0h1m4 0h1m12 0h1m1 0h1m8 0h1m7 0h2m1 0h1m3 0h1m7 0h1m6 0h1m8 0h1m3 0h1m3 0h2m34 0h1m3 0h1m-118 1h1m5 0h1m5 0h1m5 0h1m9 0h2m7 0h2m2 0h2m1 0h1m17 0h2m2 0h2m1 0h1m8 0h1m18 0h1m-99 1h1m4 0h1m7 0h1m13 0h1m14 0h1m24 0h1m14 0h1m2 0h1m2 0h1m1 0h1m2 0h2m19 0h1m-116 1h1m3 0h1m3 0h1m9 0h1m1 0h1m17 0h1m2 0h1m26 0h1m4 0h1m1 0h2m1 0h1m9 0h1m5 0h2m5 0h1m2 0h1m3 0h2m-108 1h1m3 0h1m12 0h1m3 0h3m6 0h1m8 0h1m17 0h2m3 0h3m13 0h1m6 0h2m3 0h1m-90 1h1m5 0h5m1 0h1m5 0h1m8 0h1m7 0h2m2 0h1m9 0h1m1 0h1m4 0h1m3 0h2m12 0h1m3 0h1m3 0h1m7 0h1m11 0h2m1 0h1m10 0h1m-119 1h1m9 0h2m14 0h1m3 0h1m3 0h1m2 0h1m9 0h1m7 0h2m9 0h1m9 0h1m16 0h1m14 0h1m1 0h1m-113 1h2m11 0h1m9 0h2m10 0h1m1 0h1m5 0h1m2 0h1m1 0h1m23 0h1m4 0h1m1 0h1m23 0h1m2 0h1m2 0h1m9 0h1m-120 1h1m1 0h1m4 0h2m1 0h1m7 0h1m11 0h1m1 0h1m1 0h1m8 0h1m5 0h2m10 0h2m6 0h2m22 0h2m2 0h2m3 0h1m14 0h1m-118 1h1m3 0h1m1 0h1m1 0h1m6 0h1m4 0h1m10 0h1m1 0h2m4 0h1m9 0h1m7 0h1m5 0h1m5 0h1m1 0h1m11 0h1m1 0h1m4 0h2m10 0h1m4 0h1m-106 1h2m1 0h1m2 0h1m4 0h1m5 0h1m14 0h1m3 0h1m3 0h1m6 0h1m4 0h1m1 0h1m5 0h1m4 0h2m4 0h1m9 0h1m4 0h1m2 0h1m7 0h1m4 0h2m-105 1h2m18 0h4m1 0h1m3 0h1m1 0h2m6 0h1m4 0h1m3 0h1m3 0h1m2 0h2m4 0h1m6 0h1m2 0h3m12 0h1m2 0h1m29 0h1m-116 1h1m3 0h1m6 0h2m3 0h1m4 0h2m12 0h1m9 0h1m18 0h2m4 0h1m2 0h1m9 0h2m3 0h1m11 0h2m-104 1h1m3 0h1m2 0h1m2 0h1m4 0h2m8 0h1m1 0h1m9 0h1m5 0h1m1 0h1m3 0h2m6 0h1m13 0h2m3 0h1m13 0h1m2 0h1m12 0h1m-104 1h1m10 0h1m2 0h1m2 0h1m1 0h2m5 0h1m1 0h1m2 0h2m5 0h1m8 0h1m9 0h1m1 0h1m3 0h2m12 0h1m10 0h1m10 0h1m10 0h1m-110 1h2m1 0h3m7 0h1m1 0h1m4 0h1m7 0h1m1 0h1m2 0h1m5 0h1m2 0h3m1 0h3m6 0h1m6 0h1m1 0h1m3 0h1m2 0h1m24 0h1m5 0h1m-110 1h1m4 0h1m4 0h1m4 0h2m1 0h2m1 0h1m1 0h1m6 0h1m1 0h1m7 0h2m4 0h2m2 0h1m7 0h1m16 0h1m3 0h1m2 0h1m4 0h1m13 0h1m2 0h2m-101 1h1m9 0h1m4 0h1m3 0h1m1 0h1m2 0h1m15 0h1m4 0h1m2 0h1m1 0h2m8 0h1m7 0h1m7 0h1m9 0h1m5 0h1m3 0h1m10 0h1m5 0h1m-116 1h1m18 0h1m4 0h1m1 0h2m11 0h1m11 0h1m11 0h2m4 0h1m46 0h1m-118 1h1m14 0h1m5 0h1m6 0h3m17 0h1m22 0h1m1 0h2m16 0h1m3 0h1m6 0h1m8 0h1m-114 1h1m1 0h2m14 0h1m4 0h1m1 0h1m25 0h1m25 0h1m11 0h1m1 0h1m1 0h1m1 0h1m11 0h1m1 0h1m3 0h1m-111 1h1m1 0h1m13 0h2m3 0h2m3 0h1m17 0h1m1 0h1m1 0h1m14 0h1m24 0h1m8 0h1m3 0h1m8 0h1m-114 1h1m17 0h1m1 0h1m2 0h1m3 0h1m2 0h1m12 0h1m1 0h1m3 0h1m2 0h1m1 0h2m12 0h1m6 0h1m2 0h1m15 0h1m1 0h1m17 0h1m-114 1h1m4 0h1m12 0h1m11 0h1m12 0h1m25 0h1m2 0h1m4 0h1m7 0h1m4 0h1m9 0h1m9 0h1m1 0h1m3 0h1m-118 1h1m1 0h1m2 0h1m17 0h2m6 0h1m10 0h1m2 0h1m6 0h1m22 0h1m16 0h1m3 0h1m2 0h1m15 0h1m-116 1h2m1 0h1m23 0h1m16 0h1m10 0h1m16 0h1m19 0h1m2 0h1m-77 1h1m5 0h1m1 0h1m19 0h1m1 0h1m1 0h1m16 0h1m5 0h1m13 0h1m10 0h1m15 0h1m-111 1h1m22 0h2m1 0h1m39 0h1m3 0h1m14 0h1m11 0h1m4 0h1m5 0h1m5 0h1m-120 1h1m18 0h1m1 0h2m2 0h1m1 0h1m3 0h1m15 0h1m2 0h1m14 0h1m1 0h1m3 0h1m21 0h1m4 0h1m7 0h1m2 0h1m7 0h1m-113 1h1m23 0h2m20 0h1m3 0h1m19 0h1m1 0h1m12 0h1m7 0h1m8 0h1m2 0h1m1 0h1m1 0h1m-112 1h1m4 0h1m18 0h1m2 0h1m13 0h1m3 0h1m3 0h1m14 0h1m24 0h1m-93 1h2m1 0h2m13 0h1m9 0h1m3 0h1m11 0h1m2 0h1m3 0h1m2 0h1m15 0h1m2 0h1m5 0h1m3 0h1m8 0h1m-68 1h2m14 0h1m6 0h1m28 0h1m37 0h1m-115 1h1m7 0h1m10 0h1m7 0h1m3 0h1m10 0h1m10 0h1m17 0h1m4 0h2m2 0h1m5 0h1m14 0h1m2 0h1m3 0h1m-110 1h1m1 0h1m24 0h1m1 0h1m12 0h1m13 0h1m22 0h1m2 0h1m3 0h1m1 0h1m6 0h1m2 0h1m4 0h1m9 0h1m-111 1h1m3 0h3m4 0h3m1 0h1m4 0h1m4 0h1m8 0h1m1 0h1m1 0h1m2 0h1m15 0h2m8 0h1m7 0h1m18 0h1m6 0h1m14 0h2m-119 1h2m15 0h2m6 0h2m8 0h1m3 0h1m5 0h1m7 0h1m1 0h1m6 0h1m1 0h3m14 0h1m2 0h1m1 0h1m3 0h1m8 0h2m8 0h1m5 0h1m-117 1h1m1 0h1m2 0h2m2 0h1m1 0h1m5 0h1m1 0h1m1 0h1m7 0h1m1 0h1m2 0h2m9 0h1m2 0h1m1 0h1m8 0h1m5 0h1m3 0h1m4 0h1m3 0h1m2 0h1m1 0h1m9 0h1m1 0h1m17 0h1m-112 1h1m10 0h1m8 0h1m3 0h1m6 0h1m2 0h1m3 0h1m8 0h1m8 0h1m8 0h2m2 0h1m10 0h1m11 0h1m19 0h1m-110 1h1m2 0h2m2 0h1m4 0h1m1 0h1m2 0h2m5 0h2m24 0h1m3 0h1m29 0h1m6 0h1m9 0h1m4 0h1m1 0h1m-115 1h1m4 0h2m1 0h2m7 0h2m4 0h1m1 0h1m3 0h1m9 0h1m4 0h2m4 0h1m1 0h1m14 0h1m3 0h1m27 0h1m2 0h1m10 0h1m5 0h1m-119 1h1m50 0h2m6 0h1m14 0h1m4 0h1m7 0h1m9 0h1m12 0h1m8 0h1m-121 1h3m13 0h1m5 0h2m2 0h1m9 0h2m11 0h1m9 0h1m1 0h1m6 0h1m5 0h1m3 0h1m4 0h3m14 0h1m1 0h1m5 0h1m9 0h1m-118 1h1m2 0h1m4 0h1m4 0h1m4 0h1m1 0h2m14 0h1m3 0h1m4 0h1m2 0h1m4 0h1m7 0h1m8 0h1m13 0h1m11 0h1m11 0h2m2 0h1m3 0h1m-118 1h2m1 0h1m5 0h1m6 0h1m7 0h1m4 0h1m3 0h1m10 0h1m18 0h1m4 0h1m11 0h1m3 0h2m8 0h1m8 0h3m-104 1h2m2 0h1m1 0h1m1 0h1m3 0h1m23 0h1m9 0h1m12 0h1m8 0h1m3 0h1m2 0h1m5 0h1m14 0h2m16 0h1m-111 1h1m1 0h1m2 0h1m28 0h1m8 0h1m14 0h1m4 0h3m2 0h1m11 0h1m1 0h2m9 0h1m17 0h1m-115 1h3m3 0h1m1 0h1m1 0h1m1 0h1m5 0h1m4 0h1m4 0h1m7 0h1m2 0h1m5 0h1m3 0h2m7 0h1m5 0h1m16 0h2m25 0h1m-110 1h2m5 0h1m6 0h1m3 0h1m4 0h1m16 0h1m3 0h1m2 0h1m2 0h1m2 0h1m15 0h1m8 0h1m12 0h2m6 0h1m7 0h1m6 0h1m-117 1h1m3 0h1m17 0h1m23 0h1m4 0h2m3 0h1m12 0h1m9 0h1m14 0h1m2 0h1m-91 1h1m12 0h1m1 0h1m18 0h1m4 0h1m4 0h1m13 0h2m2 0h1m21 0h1m3 0h1m11 0h1m11 0h1m-118 1h1m1 0h4m10 0h1m2 0h1m3 0h1m2 0h2m14 0h1m4 0h1m3 0h1m12 0h1m1 0h2m23 0h1m15 0h1m8 0h1m-117 1h1m3 0h1m14 0h1m2 0h1m17 0h1m2 0h1m3 0h1m4 0h1m18 0h2m20 0h1m4 0h2m3 0h1m-102 1h2m16 0h1m2 0h1m4 0h1m40 0h1m1 0h1m1 0h1m2 0h1m10 0h1m10 0h1m19 0h1m-119 1h2m15 0h1m3 0h2m4 0h1m42 0h1m28 0h1m1 0h1m1 0h1m2 0h2m1 0h1m4 0h1m3 0h1m-120 1h1m24 0h1m17 0h1m4 0h1m24 0h1m27 0h1m-100 1h3m17 0h1m26 0h2m1 0h1m62 0h1m-94 1h1m21 0h1m5 0h3m18 0h1m20 0h1m4 0h1m1 0h3m16 0h1m-118 1h1m18 0h1m5 0h2m20 0h2m20 0h1m24 0h1m1 0h1m8 0h1m3 0h1m8 0h1m-119 1h1m22 0h1m22 0h2m21 0h1m3 0h1m19 0h1m14 0h1m-108 1h1m16 0h1m27 0h1m68 0h1m-95 1h1m3 0h1m16 0h1m22 0h1m36 0h1m-105 1h2m1 0h1m69 0h1m2 0h1m32 0h1m8 0h1m-119 1h1m1 0h2m25 0h1m13 0h1m1 0h1m3 0h1m21 0h1m22 0h1m3 0h1m2 0h1m15 0h1m-116 1h1m25 0h1m14 0h2m1 0h1m1 0h1m49 0h1m1 0h1m4 0h1m-102 1h2m18 0h1m2 0h1m1 0h1m22 0h1m20 0h1m2 0h1m25 0h1m10 0h1m4 0h1m-118 1h1m2 0h1m14 0h1m7 0h1m1 0h1m16 0h1m1 0h2m21 0h1m26 0h2m1 0h1m15 0h1m-118 1h2m3 0h1m20 0h1m1 0h1m13 0h2m4 0h2m4 0h1m14 0h1m5 0h1m33 0h1m4 0h1m-112 1h1m14 0h1m24 0h1m6 0h1m2 0h1m17 0h1m18 0h1m1 0h1m1 0h1m-75 1h1m2 0h1m1 0h1m3 0h1m12 0h2m6 0h1m17 0h1m8 0h1m16 0h1m1 0h1m4 0h1m9 0h1m8 0h1m-121 1h1m18 0h1m1 0h1m2 0h2m15 0h1m6 0h1m2 0h1m18 0h1m2 0h1m2 0h1m1 0h1m11 0h1m12 0h1m13 0h1m-118 1h1m1 0h1m2 0h1m11 0h1m7 0h2m1 0h1m1 0h1m9 0h1m7 0h1m17 0h1m5 0h1m6 0h1m13 0h1m12 0h1m5 0h1m-111 1h1m6 0h1m5 0h2m7 0h2m24 0h1m17 0h1m27 0h1m7 0h1m1 0h1m-98 1h1m16 0h1m5 0h1m7 0h1m7 0h2m4 0h1m6 0h1m7 0h1m5 0h1m5 0h1m4 0h1m2 0h2m9 0h1m2 0h1m-104 1h1m2 0h1m6 0h1m8 0h1m17 0h1m6 0h1m6 0h1m1 0h3m8 0h1m17 0h1m13 0h1m10 0h1m11 0h1m-110 1h1m3 0h1m1 0h1m8 0h1m8 0h1m7 0h1m5 0h2m4 0h1m1 0h1m7 0h1m32 0h2m21 0h1m-121 1h1m5 0h1m4 0h1m6 0h1m2 0h2m6 0h1m33 0h1m16 0h1m2 0h2m3 0h1m2 0h1m22 0h1m-107 1h1m13 0h2m6 0h1m2 0h2m2 0h1m2 0h1m4 0h1m20 0h1m2 0h1m3 0h1m14 0h1m3 0h1m4 0h1m-95 1h1m3 0h1m2 0h2m2 0h1m1 0h1m15 0h1m6 0h1m16 0h1m3 0h1m4 0h1m2 0h1m2 0h1m1 0h1m13 0h1m4 0h1m6 0h1m4 0h1m3 0h2m3 0h1m2 0h1m-114 1h1m4 0h1m4 0h4m6 0h1m2 0h1m1 0h2m3 0h1m4 0h2m1 0h1m7 0h1m2 0h1m11 0h1m8 0h1m1 0h1m1 0h1m1 0h1m4 0h2m7 0h1m13 0h1m9 0h1m-116 1h1m2 0h2m1 0h2m5 0h1m3 0h1m3 0h1m10 0h2m6 0h3m2 0h3m5 0h2m2 0h1m3 0h1m1 0h1m9 0h1m1 0h1m5 0h1m20 0h2m5 0h1m5 0h1m-117 1h1m17 0h1m7 0h2m5 0h1m4 0h1m1 0h1m5 0h1m5 0h1m2 0h1m1 0h1m7 0h1m13 0h1m3 0h1m10 0h1m4 0h1m11 0h1m3 0h1m3 0h1m-114 1h2m1 0h3m1 0h1m3 0h2m6 0h1m9 0h1m7 0h1m9 0h1m7 0h1m4 0h1m4 0h1m4 0h1m6 0h1m19 0h1m9 0h1m-111 1h1m3 0h1m2 0h3m6 0h1m23 0h1m3 0h1m3 0h2m1 0h2m2 0h1m11 0h1m4 0h1m5 0h1m1 0h1m7 0h2m6 0h1m6 0h1m1 0h1m5 0h1m4 0h1m-113 1h1m3 0h1m1 0h1m4 0h1m19 0h2m3 0h1m6 0h1m4 0h1m1 0h2m2 0h1m8 0h1m13 0h1m23 0h1m4 0h2m-114 1h1m10 0h1m1 0h3m1 0h1m2 0h1m22 0h1m2 0h1m8 0h1m1 0h1m20 0h1m22 0h1m11 0h1m-115 1h1m1 0h1m17 0h1m1 0h1m2 0h1m5 0h1m1 0h1m2 0h1m12 0h1m4 0h1m10 0h1m5 0h1m24 0h1m12 0h1m-109 1h1m1 0h2m3 0h1m3 0h1m9 0h2m2 0h2m4 0h1m3 0h1m5 0h1m1 0h1m1 0h1m3 0h1m3 0h1m1 0h1m4 0h1m11 0h2m4 0h1m-78 1h1m2 0h1m9 0h1m2 0h1m2 0h1m1 0h1m1 0h3m15 0h1m4 0h2m2 0h1m13 0h2m19 0h1m25 0h2m-109 1h1m10 0h1m1 0h1m6 0h1m14 0h1m13 0h1m16 0h1m1 0h2m13 0h1m1 0h1m8 0h1m3 0h1m-104 1h1m16 0h1m7 0h2m1 0h2m16 0h1m3 0h1m21 0h1m25 0h1m5 0h1m3 0h1m-91 1h1m1 0h2m1 0h1m18 0h1m1 0h2m19 0h1m3 0h1m18 0h1m1 0h1m1 0h1m16 0h1m3 0h1m1 0h1m-113 1h2m37 0h1m24 0h1m1 0h1m1 0h1m27 0h1m14 0h1m-116 1h1m44 0h2m21 0h1m3 0h1m17 0h1m10 0h1m2 0h1m-106 1h1m1 0h1m41 0h1m49 0h1m5 0h1m3 0h1m4 0h1m6 0h1m-117 1h1m22 0h1m24 0h1m3 0h1m23 0h1m10 0h1m4 0h1m1 0h1m1 0h1m1 0h2m5 0h1m2 0h1m-59 1h1m18 0h1m4 0h2m15 0h1m6 0h1m7 0h1m4 0h1m1 0h1m5 0h1m-118 1h2m20 0h1m26 0h1m44 0h1m2 0h1m18 0h1m-96 1h1m21 0h1m2 0h2m1 0h1m42 0h1m2 0h1m18 0h1m-115 1h2m21 0h2m-27 1h1m21 0h1m71 0h1m9 0h1m5 0h1m2 0h1m-66 1h1m1 0h1m29 0h1m13 0h1m-93 1h1m46 0h1m19 0h1m26 0h1m22 0h1m-71 1h2m19 0h1m1 0h1m20 0h1m-72 1h1m1 0h2m74 0h1m14 0h2m-116 1h1m46 0h1m48 0h1m20 0h1m-118 1h1m25 0h1m42 0h1m20 0h1m9 0h1m5 0h1m1 0h1m-108 1h1m22 0h2m78 0h2m12 0h1m-119 1h2m18 0h1m4 0h1m19 0h1m1 0h1m1 0h1m20 0h1m20 0h1m3 0h1m1 0h1m5 0h1m2 0h1m1 0h1m5 0h1m-89 1h1m17 0h1m3 0h1m1 0h1m46 0h1m13 0h1m-112 1h3m43 0h1m3 0h1m20 0h1m19 0h1m5 0h1m3 0h2m9 0h1m-114 1h1m27 0h1m19 0h2m19 0h1m30 0h2m12 0h1m3 0h1m-119 1h2m1 0h1m18 0h1m4 0h2m23 0h1m44 0h1m4 0h1m-98 1h1m16 0h3m19 0h1m23 0h1m2 0h2m36 0h1m-105 1h1m17 0h1m1 0h1m21 0h3m27 0h1m23 0h1m1 0h1m-103 1h2m1 0h1m16 0h2m5 0h2m13 0h1m27 0h1m18 0h1m9 0h1m6 0h1m1 0h1m5 0h1m-98 1h1m3 0h1m3 0h1m2 0h1m12 0h2m1 0h1m2 0h1m5 0h1m19 0h1m1 0h1m27 0h1m14 0h2m-120 1h1m5 0h1m11 0h1m9 0h1m11 0h3m4 0h1m46 0h1m7 0h3m4 0h1m-107 1h1m1 0h1m17 0h1m15 0h2m2 0h1m7 0h1m2 0h1m12 0h1m2 0h1m25 0h1m8 0h1m8 0h1m-114 1h1m2 0h1m12 0h1m12 0h1m32 0h1m6 0h1m32 0h1m-103 1h2m7 0h1m5 0h1m2 0h3m15 0h1m16 0h3m11 0h1m19 0h1m19 0h1m2 0h1m-110 1h1m3 0h1m3 0h1m4 0h1m4 0h2m3 0h1m3 0h1m6 0h1m12 0h1m1 0h1m3 0h2m6 0h1m1 0h1m3 0h1m5 0h1m13 0h3m23 0h1m3 0h1m-113 1h1m11 0h2m1 0h1m4 0h1m7 0h1m8 0h1m4 0h1m6 0h1m1 0h1m4 0h2m4 0h2m25 0h1m1 0h1m6 0h1m11 0h1m-119 1h1m2 0h3m2 0h3m10 0h1m3 0h1m8 0h1m1 0h1m11 0h1m7 0h2m3 0h1m6 0h1m2 0h1m10 0h1m22 0h1m2 0h1m6 0h1m1 0h1m-115 1h1m15 0h2m12 0h1m2 0h1m5 0h1m2 0h1m6 0h3m6 0h1m1 0h1m2 0h1m4 0h1m32 0h1m5 0h1m7 0h1"/>
<path stroke="#2b1e34" d="M34 0h1m9 0h1m4 0h1m8 0h1m7 0h2m6 0h1m4 0h1m8 0h1m2 0h1m1 0h1m9 0h1m6 0h1m7 0h1m-105 1h1m10 0h1m11 0h1m3 0h1m13 0h1m9 0h1m4 0h2m2 0h3m1 0h1m1 0h1m1 0h3m2 0h1m2 0h1m22 0h1m1 0h1m4 0h1m-111 1h1m19 0h2m10 0h1m2 0h1m3 0h3m6 0h1m4 0h1m5 0h1m7 0h1m2 0h1m6 0h1m6 0h1m1 0h2m2 0h1m4 0h2m12 0h1m-108 1h1m27 0h1m6 0h1m1 0h1m3 0h1m1 0h1m4 0h1m1 0h1m11 0h1m4 0h1m1 0h1m11 0h1m3 0h1m3 0h1m13 0h1m-116 1h1m9 0h1m8 0h1m11 0h2m50 0h2m2 0h1m6 0h1m2 0h2m7 0h1m2 0h1m1 0h1m-98 1h1m7 0h1m3 0h1m1 0h1m10 0h1m3 0h1m1 0h1m9 0h1m2 0h2m3 0h1m17 0h1m4 0h1m3 0h2m1 0h2m2 0h1m1 0h1m1 0h2m1 0h1m1 0h1m2 0h1m8 0h1m1 0h1m-121 1h1m17 0h3m2 0h1m8 0h1m9 0h1m3 0h1m5 0h1m12 0h1m14 0h1m8 0h1m11 0h2m3 0h1m13 0h1m-114 1h1m6 0h1m10 0h1m4 0h1m3 0h1m18 0h3m6 0h1m1 0h1m8 0h1m3 0h1m3 0h1m1 0h1m2 0h1m3 0h2m2 0h1m9 0h1m1 0h2m1 0h1m1 0h1m1 0h2m2 0h3m-85 1h1m1 0h1m20 0h1m7 0h1m5 0h1m1 0h1m2 0h1m5 0h2m3 0h1m2 0h2m5 0h1m2 0h2m1 0h2m4 0h1m7 0h1m-111 1h2m2 0h1m22 0h1m6 0h1m5 0h1m3 0h1m2 0h3m9 0h1m4 0h1m14 0h1m13 0h2m1 0h4m2 0h1m7 0h2m-115 1h1m16 0h3m8 0h1m3 0h1m6 0h1m2 0h1m13 0h1m1 0h1m3 0h2m5 0h1m1 0h2m4 0h1m1 0h1m1 0h2m6 0h1m4 0h1m1 0h1m1 0h1m1 0h1m4 0h1m3 0h2m3 0h2m-98 1h1m5 0h1m19 0h1m1 0h1m1 0h3m5 0h1m1 0h1m1 0h3m9 0h2m1 0h1m2 0h1m4 0h1m5 0h2m2 0h1m1 0h1m15 0h3m1 0h1m-120 1h1m2 0h2m10 0h1m4 0h1m14 0h1m12 0h1m1 0h1m1 0h1m2 0h1m1 0h2m2 0h1m9 0h3m5 0h2m1 0h1m2 0h1m2 0h1m4 0h1m1 0h1m1 0h1m5 0h1m2 0h1m1 0h1m3 0h2m4 0h1m-105 1h1m19 0h1m2 0h1m3 0h1m12 0h1m5 0h1m2 0h1m5 0h1m6 0h1m1 0h1m7 0h1m13 0h1m1 0h2m1 0h1m-89 1h1m1 0h1m24 0h1m4 0h2m2 0h2m1 0h1m4 0h1m1 0h1m2 0h2m3 0h1m2 0h1m6 0h2m2 0h1m1 0h1m2 0h1m2 0h1m8 0h1m2 0h1m2 0h1m3 0h1m1 0h1m1 0h1m2 0h1m-119 1h1m28 0h1m4 0h1m1 0h1m6 0h1m1 0h1m1 0h1m2 0h1m4 0h1m1 0h1m3 0h1m11 0h1m1 0h2m1 0h1m4 0h1m10 0h2m2 0h1m4 0h1m1 0h1m1 0h1m1 0h1m2 0h2m-111 1h1m17 0h1m2 0h2m16 0h1m5 0h2m5 0h1m10 0h1m11 0h2m3 0h2m1 0h1m5 0h2m5 0h1m2 0h1m8 0h3m2 0h1m1 0h1m-116 1h1m12 0h1m1 0h1m4 0h1m4 0h1m3 0h1m4 0h1m3 0h1m1 0h1m5 0h1m1 0h2m6 0h1m6 0h1m4 0h2m5 0h1m1 0h1m2 0h2m4 0h1m5 0h1m1 0h1m1 0h1m1 0h1m8 0h1m-109 1h1m10 0h1m9 0h1m7 0h1m10 0h4m4 0h1m11 0h2m3 0h1m1 0h2m2 0h2m1 0h1m7 0h2m1 0h1m10 0h1m8 0h1m6 0h1m2 0h2m-97 1h1m14 0h1m2 0h1m12 0h4m5 0h1m4 0h1m3 0h3m12 0h1m4 0h1m1 0h1m6 0h1m15 0h1m-100 1h1m19 0h1m24 0h1m4 0h2m1 0h1m1 0h1m2 0h1m9 0h1m7 0h1m1 0h1m1 0h1m2 0h1m2 0h1m2 0h1m8 0h1m2 0h1m-99 1h2m1 0h1m4 0h1m2 0h1m7 0h1m4 0h1m9 0h1m7 0h1m2 0h2m4 0h1m17 0h1m2 0h1m2 0h1m1 0h1m1 0h1m1 0h1m2 0h2m4 0h2m2 0h1m1 0h1m-119 1h1m32 0h1m16 0h1m1 0h1m13 0h1m9 0h1m2 0h1m26 0h1m1 0h3m1 0h1m3 0h1m2 0h1m-113 1h1m17 0h1m27 0h1m1 0h1m11 0h1m6 0h1m2 0h2m13 0h1m1 0h1m1 0h1m11 0h1m2 0h1m1 0h1m1 0h3m-92 1h2m4 0h1m24 0h1m5 0h1m1 0h1m1 0h1m3 0h1m21 0h1m6 0h1m7 0h1m1 0h1m2 0h1m5 0h1m-119 1h1m3 0h1m13 0h1m10 0h1m12 0h1m3 0h1m9 0h1m10 0h1m1 0h1m8 0h1m7 0h2m6 0h1m4 0h2m4 0h1m1 0h1m2 0h1m6 0h2m-97 1h1m6 0h1m8 0h1m8 0h1m4 0h1m2 0h2m6 0h1m2 0h2m2 0h1m17 0h2m7 0h1m5 0h2m1 0h1m1 0h1m2 0h1m7 0h1m-118 1h1m5 0h1m11 0h2m4 0h1m17 0h1m6 0h1m5 0h1m12 0h1m2 0h1m2 0h1m2 0h1m12 0h2m8 0h2m3 0h1m5 0h1m3 0h1m1 0h1m-95 1h1m4 0h1m11 0h1m2 0h2m2 0h1m1 0h1m3 0h2m15 0h1m4 0h1m1 0h2m8 0h2m1 0h1m10 0h1m10 0h2m-107 1h1m8 0h1m31 0h1m1 0h1m4 0h1m13 0h1m2 0h1m3 0h1m4 0h1m5 0h1m15 0h1m4 0h1m3 0h3m2 0h1m-98 1h1m2 0h1m1 0h1m3 0h1m1 0h1m1 0h1m4 0h2m9 0h1m6 0h1m3 0h1m5 0h1m2 0h1m1 0h1m1 0h2m1 0h1m3 0h3m2 0h1m3 0h1m3 0h1m1 0h1m2 0h1m12 0h1m1 0h2m-107 1h1m11 0h1m19 0h2m3 0h1m1 0h1m2 0h1m6 0h1m2 0h2m9 0h2m5 0h1m1 0h1m4 0h4m5 0h1m5 0h1m2 0h2m1 0h1m6 0h1m2 0h2m-114 1h1m3 0h1m6 0h1m1 0h1m8 0h1m10 0h1m9 0h2m4 0h1m1 0h1m3 0h1m3 0h1m2 0h1m5 0h1m5 0h2m2 0h2m3 0h1m3 0h1m3 0h2m5 0h1m2 0h1m3 0h1m2 0h1m4 0h1m-88 1h1m19 0h1m5 0h2m3 0h1m3 0h1m3 0h3m4 0h1m1 0h2m6 0h1m1 0h2m6 0h3m1 0h1m4 0h1m1 0h3m1 0h2m2 0h1m1 0h1m-110 1h1m1 0h1m2 0h1m1 0h1m6 0h1m3 0h1m11 0h1m11 0h1m2 0h1m3 0h2m3 0h2m3 0h1m2 0h1m1 0h1m3 0h1m8 0h1m5 0h1m1 0h1m4 0h1m3 0h1m5 0h1m4 0h1m-91 1h1m2 0h1m7 0h1m27 0h1m8 0h2m4 0h1m5 0h2m10 0h1m13 0h1m1 0h2m4 0h1m-110 1h1m17 0h1m9 0h1m11 0h1m15 0h2m7 0h2m2 0h1m1 0h2m5 0h1m2 0h1m2 0h1m5 0h1m6 0h3m3 0h1m-95 1h1m1 0h1m10 0h2m1 0h1m5 0h1m3 0h1m4 0h1m3 0h1m1 0h1m5 0h1m8 0h2m9 0h2m2 0h1m3 0h1m8 0h1m7 0h1m7 0h1m3 0h1m-100 1h1m2 0h1m2 0h1m17 0h1m4 0h1m7 0h2m3 0h1m4 0h2m12 0h2m2 0h2m3 0h1m3 0h1m3 0h2m9 0h1m2 0h1m2 0h3m-80 1h1m3 0h1m6 0h1m1 0h1m5 0h1m1 0h1m1 0h1m1 0h1m1 0h1m4 0h1m2 0h1m2 0h2m1 0h3m4 0h1m1 0h1m7 0h1m1 0h1m2 0h1m4 0h1m2 0h1m4 0h1m3 0h1m-114 1h1m6 0h1m9 0h1m1 0h2m2 0h1m4 0h1m1 0h1m5 0h1m2 0h1m15 0h1m3 0h1m2 0h1m5 0h1m2 0h1m9 0h1m7 0h1m1 0h1m2 0h1m9 0h1m1 0h1m3 0h1m-115 1h1m5 0h1m24 0h1m3 0h1m1 0h1m23 0h1m5 0h1m1 0h2m1 0h1m1 0h1m1 0h1m2 0h1m3 0h2m1 0h2m4 0h2m2 0h1m4 0h1m8 0h2m2 0h1m1 0h2m-110 1h1m5 0h1m6 0h1m1 0h1m5 0h1m8 0h1m8 0h1m1 0h1m19 0h2m2 0h2m2 0h1m8 0h3m1 0h4m6 0h1m1 0h2m3 0h1m5 0h1m1 0h1m1 0h1m-116 1h1m4 0h1m7 0h1m1 0h2m25 0h1m17 0h1m8 0h2m2 0h1m2 0h1m11 0h4m1 0h1m2 0h1m1 0h1m5 0h2m-109 1h1m19 0h1m22 0h1m6 0h1m4 0h1m10 0h2m3 0h1m5 0h1m12 0h2m6 0h1m2 0h1m6 0h1m6 0h1m-97 1h1m20 0h2m4 0h1m4 0h1m2 0h1m10 0h1m6 0h1m5 0h1m16 0h1m1 0h1m2 0h2m12 0h1m2 0h2m-120 1h1m27 0h1m36 0h1m3 0h1m28 0h1m3 0h1m4 0h1m-67 1h2m1 0h1m2 0h1m3 0h1m13 0h2m12 0h1m10 0h4m6 0h1m10 0h3m6 0h1m-114 1h1m18 0h1m2 0h1m39 0h1m1 0h1m2 0h2m14 0h1m1 0h1m4 0h2m3 0h1m11 0h1m4 0h1m-102 1h1m9 0h1m14 0h2m6 0h1m13 0h2m2 0h1m3 0h1m15 0h1m1 0h1m1 0h1m1 0h1m6 0h1m1 0h1m7 0h3m3 0h2m-100 1h1m3 0h1m17 0h1m2 0h1m1 0h2m3 0h1m17 0h1m3 0h1m23 0h2m1 0h2m1 0h1m6 0h1m2 0h1m1 0h1m-89 1h1m42 0h1m4 0h1m14 0h1m9 0h3m2 0h1m3 0h1m7 0h1m1 0h1m-102 1h1m1 0h1m1 0h1m23 0h2m1 0h2m2 0h1m12 0h2m5 0h1m3 0h1m13 0h1m4 0h2m9 0h1m3 0h1m3 0h1m-99 1h1m1 0h1m23 0h1m23 0h2m4 0h2m15 0h1m8 0h1m3 0h1m2 0h1m8 0h1m-116 1h1m46 0h3m2 0h1m15 0h2m8 0h1m9 0h1m5 0h1m17 0h1m1 0h1m1 0h1m-100 1h1m9 0h1m12 0h2m2 0h1m26 0h1m3 0h1m2 0h1m18 0h1m1 0h1m1 0h1m1 0h1m3 0h1m3 0h1m3 0h1m1 0h1m-100 1h2m1 0h1m4 0h1m14 0h1m10 0h1m12 0h1m1 0h1m2 0h1m18 0h1m10 0h1m3 0h1m7 0h4m2 0h1m-101 1h1m3 0h2m20 0h1m4 0h1m5 0h1m7 0h3m1 0h1m11 0h1m7 0h2m4 0h1m2 0h1m1 0h2m18 0h2m-119 1h1m1 0h1m1 0h1m15 0h2m18 0h1m2 0h1m1 0h1m16 0h1m1 0h4m3 0h1m14 0h2m2 0h3m3 0h1m1 0h2m13 0h1m1 0h1m1 0h1m-117 1h1m12 0h1m9 0h1m7 0h1m4 0h1m5 0h1m6 0h2m14 0h1m5 0h1m2 0h1m9 0h1m13 0h1m2 0h1m-78 1h1m4 0h1m3 0h1m10 0h1m7 0h1m1 0h1m5 0h1m2 0h1m1 0h1m17 0h1m6 0h1m5 0h1m17 0h1m-100 1h1m15 0h2m2 0h1m10 0h2m1 0h1m1 0h1m15 0h1m3 0h1m1 0h1m3 0h1m14 0h2m7 0h1m3 0h1m4 0h3m-114 1h1m26 0h1m22 0h1m4 0h2m3 0h1m25 0h3m4 0h1m8 0h1m4 0h1m2 0h1m4 0h1m1 0h1m-118 1h1m2 0h1m4 0h1m2 0h1m11 0h1m4 0h1m5 0h1m2 0h2m2 0h2m8 0h1m7 0h1m5 0h1m2 0h2m8 0h1m4 0h2m4 0h1m4 0h1m3 0h1m1 0h1m3 0h1m1 0h1m3 0h2m2 0h1m-91 1h1m6 0h1m1 0h2m11 0h1m5 0h2m3 0h1m5 0h1m3 0h2m5 0h2m3 0h1m2 0h1m1 0h1m1 0h1m2 0h2m1 0h1m3 0h2m1 0h2m2 0h2m3 0h2m8 0h1m-119 1h1m7 0h1m4 0h1m17 0h1m3 0h1m2 0h2m1 0h1m2 0h1m14 0h1m3 0h1m2 0h3m2 0h4m2 0h2m1 0h1m1 0h1m1 0h3m1 0h1m2 0h1m1 0h2m1 0h1m1 0h1m3 0h1m1 0h1m1 0h2m1 0h1m3 0h2m1 0h1m-113 1h1m8 0h1m4 0h1m1 0h1m2 0h1m2 0h1m5 0h1m2 0h2m10 0h1m6 0h1m5 0h1m1 0h3m1 0h1m10 0h1m2 0h1m4 0h1m19 0h2m1 0h1m3 0h3m1 0h2m-117 1h1m3 0h1m2 0h1m22 0h1m4 0h1m2 0h1m3 0h1m8 0h1m2 0h1m6 0h1m5 0h3m13 0h2m4 0h2m2 0h1m2 0h1m1 0h1m1 0h1m5 0h1m2 0h1m1 0h4m-108 1h1m4 0h1m10 0h1m3 0h1m5 0h1m1 0h2m2 0h2m11 0h1m5 0h1m1 0h1m2 0h2m13 0h1m7 0h1m3 0h1m4 0h1m9 0h1m2 0h1m6 0h2m-118 1h1m19 0h1m2 0h1m6 0h1m2 0h1m1 0h2m9 0h2m5 0h1m4 0h1m1 0h1m3 0h1m4 0h1m1 0h1m3 0h1m4 0h2m9 0h1m7 0h2m3 0h1m3 0h4m-89 1h2m9 0h1m19 0h2m6 0h2m16 0h1m3 0h1m2 0h1m10 0h3m2 0h5m1 0h1m2 0h1m-94 1h1m1 0h2m2 0h1m8 0h2m3 0h1m3 0h2m5 0h1m12 0h1m2 0h1m3 0h2m1 0h1m9 0h1m8 0h1m7 0h1m2 0h2m2 0h1m2 0h1m6 0h1m-97 1h1m1 0h1m3 0h1m10 0h1m5 0h1m3 0h1m11 0h1m3 0h1m2 0h3m22 0h2m6 0h2m1 0h1m6 0h1m2 0h2m2 0h1m-91 1h1m13 0h1m3 0h1m15 0h3m3 0h1m2 0h1m6 0h1m18 0h1m1 0h1m9 0h1m6 0h3m-115 1h1m11 0h1m5 0h1m2 0h1m1 0h1m13 0h1m23 0h2m21 0h2m2 0h1m10 0h1m5 0h1m2 0h2m2 0h1m1 0h1m-116 1h1m38 0h1m5 0h1m17 0h2m1 0h1m1 0h1m2 0h1m1 0h1m16 0h1m1 0h1m7 0h1m3 0h1m4 0h2m5 0h1m-121 1h1m25 0h1m16 0h1m2 0h1m5 0h1m14 0h1m2 0h1m2 0h1m2 0h2m8 0h1m2 0h3m8 0h1m1 0h1m3 0h1m8 0h1m-116 1h1m3 0h1m14 0h1m23 0h1m4 0h1m17 0h1m3 0h1m5 0h1m13 0h1m16 0h1m10 0h2m-96 1h1m18 0h2m5 0h1m2 0h1m23 0h1m14 0h3m2 0h1m1 0h1m16 0h1m1 0h1m-113 1h1m13 0h1m5 0h1m20 0h1m3 0h2m15 0h1m1 0h2m20 0h2m12 0h2m6 0h1m3 0h1m-76 1h1m8 0h1m15 0h1m1 0h1m1 0h2m17 0h1m1 0h1m2 0h2m2 0h1m4 0h3m4 0h1m4 0h1m-91 1h1m1 0h1m13 0h1m2 0h3m20 0h1m16 0h1m3 0h1m1 0h1m1 0h1m5 0h1m13 0h2m1 0h1m1 0h1m-117 1h1m21 0h1m2 0h1m18 0h1m20 0h2m3 0h1m2 0h1m14 0h2m1 0h1m2 0h1m8 0h1m6 0h1m1 0h2m-97 1h1m23 0h1m7 0h1m15 0h1m7 0h2m13 0h2m4 0h1m20 0h1m-118 1h1m24 0h2m16 0h1m2 0h1m44 0h1m4 0h1m6 0h2m9 0h1m-89 1h1m16 0h1m4 0h1m3 0h1m16 0h2m1 0h2m1 0h1m15 0h1m3 0h2m4 0h1m1 0h1m2 0h2m9 0h1m-117 1h1m43 0h1m4 0h2m16 0h2m2 0h4m15 0h5m2 0h1m13 0h1m2 0h1m2 0h2m-100 1h1m5 0h1m17 0h1m1 0h1m3 0h1m15 0h1m7 0h1m17 0h1m4 0h1m2 0h1m2 0h1m5 0h1m1 0h2m1 0h1m4 0h1m-117 1h1m15 0h1m30 0h2m21 0h1m17 0h1m2 0h1m4 0h1m1 0h1m6 0h1m5 0h1m2 0h1m-116 1h1m45 0h1m2 0h1m38 0h1m9 0h1m1 0h1m5 0h1m2 0h1m1 0h3m1 0h1m-98 1h1m21 0h1m25 0h2m20 0h4m3 0h1m2 0h1m2 0h1m10 0h1m3 0h1m-76 1h2m6 0h2m14 0h1m3 0h1m2 0h1m1 0h1m18 0h1m9 0h1m1 0h1m3 0h1m1 0h1m-70 1h1m1 0h1m5 0h1m13 0h1m2 0h2m2 0h1m2 0h1m16 0h1m1 0h1m2 0h2m3 0h1m3 0h1m1 0h2m3 0h3m1 0h2m-119 1h1m22 0h1m3 0h1m14 0h1m7 0h1m15 0h3m1 0h1m2 0h1m24 0h1m7 0h1m1 0h1m7 0h3m-93 1h1m22 0h1m20 0h1m1 0h1m14 0h3m14 0h1m8 0h1m2 0h2m-88 1h1m9 0h1m3 0h1m5 0h1m12 0h1m3 0h1m7 0h1m14 0h1m5 0h1m10 0h1m3 0h1m-96 1h1m8 0h1m18 0h2m1 0h3m24 0h1m17 0h1m8 0h2m4 0h1m5 0h2m1 0h2m-116 1h1m16 0h1m4 0h1m22 0h1m4 0h1m1 0h1m5 0h1m3 0h1m4 0h1m4 0h1m3 0h1m7 0h1m2 0h2m1 0h2m3 0h1m1 0h1m6 0h1m9 0h3m-115 1h1m4 0h1m2 0h1m8 0h1m3 0h1m3 0h1m7 0h1m2 0h1m3 0h1m9 0h3m12 0h1m1 0h1m2 0h1m1 0h1m3 0h1m5 0h1m3 0h1m1 0h1m3 0h2m1 0h1m3 0h1m1 0h2m1 0h1m7 0h1m1 0h1m-120 1h1m12 0h2m2 0h1m4 0h1m1 0h1m2 0h1m13 0h1m2 0h2m3 0h1m6 0h1m1 0h1m5 0h1m3 0h1m2 0h1m5 0h2m3 0h1m3 0h1m2 0h1m2 0h2m9 0h2m2 0h1m1 0h1m1 0h1m1 0h1m1 0h1m-110 1h1m15 0h1m2 0h2m13 0h1m2 0h1m2 0h1m10 0h1m4 0h1m13 0h1m2 0h3m6 0h1m1 0h2m1 0h1m1 0h1m3 0h1m2 0h1m2 0h1m1 0h1m1 0h1m1 0h1m1 0h1m1 0h3m-115 1h1m31 0h1m10 0h1m2 0h1m1 0h2m2 0h1m2 0h1m1 0h1m9 0h1m4 0h3m3 0h1m7 0h1m1 0h1m12 0h1m1 0h3m6 0h2m1 0h1m-115 1h1m7 0h1m4 0h1m1 0h2m7 0h1m8 0h1m4 0h1m4 0h2m3 0h1m1 0h1m2 0h1m6 0h1m1 0h1m3 0h2m7 0h1m5 0h1m3 0h2m1 0h1m10 0h1m1 0h1m3 0h1m1 0h3m5 0h1m-115 1h1m12 0h1m7 0h3m1 0h1m1 0h1m1 0h1m1 0h1m16 0h1m11 0h1m3 0h1m1 0h1m1 0h2m9 0h2m4 0h1m1 0h1m1 0h1m5 0h2m2 0h1m4 0h2m2 0h1m4 0h1m-95 1h1m1 0h1m3 0h1m14 0h1m1 0h1m1 0h1m6 0h1m7 0h1m2 0h1m3 0h1m3 0h1m1 0h1m7 0h3m2 0h1m4 0h2m3 0h1m2 0h1m1 0h1m1 0h3m1 0h1m5 0h1m1 0h1m-110 1h1m8 0h2m6 0h1m8 0h1m2 0h1m10 0h1m10 0h1m1 0h1m1 0h3m2 0h1m10 0h1m3 0h3m2 0h1m1 0h2m2 0h1m3 0h1m5 0h1m2 0h1m2 0h1m2 0h1m3 0h1m-119 1h2m7 0h1m3 0h2m13 0h1m7 0h1m9 0h3m8 0h1m7 0h2m13 0h1m3 0h2m4 0h1m4 0h1m5 0h1m3 0h1m1 0h2m-105 1h1m8 0h1m6 0h1m19 0h1m6 0h1m7 0h1m11 0h1m8 0h1m2 0h1m9 0h1m10 0h2m9 0h1m2 0h1m1 0h3m-93 1h1m2 0h1m11 0h1m6 0h1m7 0h1m13 0h1m14 0h1m9 0h3m4 0h1m1 0h1m12 0h1m-116 1h1m5 0h1m14 0h1m19 0h1m7 0h1m3 0h1m2 0h1m2 0h1m3 0h2m3 0h1m8 0h3m2 0h2m4 0h1m4 0h1m3 0h1m2 0h1m14 0h1m-120 1h1m36 0h1m2 0h2m1 0h2m4 0h1m1 0h2m2 0h2m4 0h1m3 0h1m8 0h1m2 0h1m5 0h1m2 0h1m5 0h1m5 0h1m1 0h1m10 0h3m6 0h1m-110 1h1m8 0h1m1 0h1m2 0h1m1 0h1m12 0h2m6 0h2m1 0h2m1 0h1m4 0h1m1 0h1m2 0h2m2 0h1m9 0h1m1 0h1m4 0h1m1 0h2m3 0h1m3 0h1m7 0h1m2 0h1m3 0h1m2 0h1m3 0h1m1 0h1m-120 1h1m24 0h1m8 0h1m10 0h1m2 0h1m8 0h1m1 0h1m5 0h2m2 0h1m7 0h2m3 0h1m12 0h2m3 0h2m8 0h2m7 0h1m-119 1h1m2 0h1m24 0h1m1 0h1m13 0h1m1 0h1m6 0h1m9 0h1m7 0h1m1 0h2m2 0h2m6 0h1m1 0h1m3 0h1m3 0h1m3 0h2m9 0h1m3 0h1m3 0h1m-113 1h1m32 0h1m11 0h1m12 0h1m3 0h1m6 0h2m1 0h1m14 0h1m1 0h2m1 0h1m2 0h2m7 0h1m2 0h4m-115 1h2m19 0h1m20 0h1m18 0h1m4 0h1m4 0h1m3 0h1m10 0h1m1 0h1m6 0h1m1 0h1m5 0h3m3 0h1m2 0h1m1 0h1m1 0h1m-116 1h1m42 0h1m2 0h1m2 0h1m19 0h2m19 0h1m1 0h1m12 0h1m7 0h1m1 0h1m-120 1h1m2 0h1m19 0h3m16 0h1m7 0h2m14 0h2m26 0h2m2 0h2m2 0h2m1 0h1m1 0h1m4 0h1m4 0h1m1 0h1m-119 1h1m25 0h1m15 0h1m26 0h2m4 0h1m14 0h2m4 0h2m3 0h1m5 0h1m3 0h1m1 0h1m-115 1h1m26 0h2m20 0h3m18 0h1m21 0h1m7 0h1m4 0h1m1 0h1m1 0h1m1 0h1m5 0h2m-99 1h1m48 0h1m2 0h3m21 0h1m11 0h1m8 0h1m-118 1h1m23 0h2m20 0h1m1 0h1m21 0h1m21 0h1m15 0h1m-85 1h1m20 0h1m1 0h1m1 0h1m19 0h1m22 0h1m3 0h1m2 0h2m2 0h1m8 0h3m3 0h1m-116 1h1m41 0h1m3 0h1m24 0h1m17 0h1m2 0h1m4 0h1m2 0h1m6 0h1m3 0h1m1 0h1m-71 1h1m25 0h1m19 0h1m3 0h3m3 0h1m6 0h1m1 0h1m4 0h1m2 0h1m-118 1h1m23 0h1m17 0h1m26 0h2m1 0h1m20 0h2m1 0h4m3 0h1m2 0h1m4 0h1m-43 1h1m2 0h1m20 0h1m2 0h1m4 0h1m1 0h1m11 0h2m-120 1h2m1 0h1m89 0h1m4 0h1m2 0h1m5 0h1m6 0h1m-115 1h1m1 0h1m23 0h2m23 0h1m19 0h1m2 0h1m25 0h1m3 0h1m3 0h2m1 0h1m-85 1h1m19 0h1m21 0h1m1 0h1m21 0h1m2 0h1m4 0h1m3 0h1m2 0h1m2 0h1m6 0h1m1 0h1m-98 1h1m2 0h1m43 0h1m2 0h1m19 0h1m1 0h1m3 0h2m4 0h2m1 0h1m1 0h1m2 0h1m1 0h1m1 0h1m-46 1h1m21 0h1m2 0h1m5 0h1m12 0h1m1 0h1m-92 1h1m22 0h1m22 0h1m20 0h1m1 0h1m2 0h1m12 0h2m-65 1h1m1 0h1m21 0h1m25 0h1m11 0h1m5 0h1m1 0h1m-95 1h1m20 0h3m20 0h1m5 0h1m18 0h2m8 0h2m7 0h1m4 0h1m-95 1h1m20 0h2m23 0h1m3 0h1m19 0h1m1 0h1m2 0h1m11 0h2m3 0h2m1 0h2m-98 1h1m44 0h1m5 0h1m18 0h1m1 0h1m6 0h1m1 0h2m1 0h2m10 0h1m-96 1h1m23 0h1m2 0h1m18 0h2m24 0h1m2 0h1m9 0h1m1 0h2m3 0h1m2 0h1m-94 1h1m2 0h1m19 0h1m2 0h1m39 0h1m3 0h2m1 0h1m3 0h1m1 0h1m5 0h1m3 0h2m1 0h1m-93 1h1m19 0h1m4 0h1m17 0h1m22 0h1m1 0h1m1 0h1m2 0h1m10 0h1m5 0h2m-113 1h1m13 0h1m6 0h2m18 0h1m3 0h1m19 0h1m1 0h3m22 0h1m3 0h2m3 0h1m10 0h2m-75 1h1m4 0h1m2 0h1m17 0h1m7 0h1m11 0h1m5 0h2m1 0h1m12 0h1m3 0h3m-97 1h1m26 0h2m14 0h2m2 0h1m2 0h1m3 0h2m1 0h1m32 0h1m5 0h2m-88 1h1m9 0h1m2 0h2m7 0h1m9 0h4m1 0h1m2 0h2m2 0h4m12 0h1m11 0h1m8 0h2m-88 1h1m1 0h1m3 0h1m10 0h2m3 0h1m1 0h1m4 0h1m6 0h1m3 0h1m1 0h1m3 0h1m1 0h1m2 0h1m3 0h1m4 0h1m1 0h1m2 0h1m1 0h1m3 0h1m3 0h2m1 0h1m12 0h1m-109 1h1m2 0h1m1 0h1m9 0h1m15 0h1m2 0h3m5 0h1m9 0h1m7 0h1m2 0h1m4 0h1m7 0h1m1 0h1m4 0h1m1 0h2m1 0h1m4 0h1m2 0h1m12 0h2m-111 1h1m12 0h1m7 0h2m1 0h1m6 0h2m5 0h1m5 0h1m4 0h5m1 0h1m3 0h1m3 0h1m3 0h1m3 0h1m2 0h1m3 0h1m4 0h2m3 0h1m8 0h1m2 0h2m-108 1h1m12 0h1m11 0h1m2 0h1m4 0h1m1 0h1m1 0h1m1 0h1m12 0h1m3 0h1m2 0h1m2 0h1m9 0h1m12 0h1m5 0h1m12 0h1m1 0h3m1 0h1m1 0h1m3 0h1m-101 1h1m16 0h1m3 0h1m4 0h1m8 0h1m3 0h2m1 0h1m9 0h1m2 0h1m7 0h1m2 0h1m8 0h1m4 0h1m1 0h1m1 0h1m2 0h1m1 0h1m4 0h1m1 0h1m2 0h1m-116 1h1m1 0h1m4 0h1m3 0h1m5 0h1m2 0h2m14 0h1m9 0h2m3 0h1m8 0h1m4 0h2m5 0h1m2 0h1m6 0h1m2 0h1m1 0h1m1 0h1m8 0h1m5 0h1m5 0h1"/>
</g></g></g>
<clipPath id="cp2"><rect x="465.3" y="437.3" width="634.5" height="316.6"/></clipPath>
<g clip-path="url(#cp2)"><g filter="url(#soft)"><g transform="translate(465.3,437.3) scale(5.24380,2.11067) translate(0,.5)" shape-rendering="crispEdges" fill="none" stroke-width="1">
<rect x="-1" y="-1.5" width="123" height="152" fill="#2b1e34"/>
<path stroke="#c2e8b0" d="M18 89h1m-3 27h1"/>
<path stroke="#a8dfa8" d="M15 44h1m-5 1h1m2 11h1m1 29h1m1 2h1m-10 2h1m-1 26h1m3 3h1m-3 7h1m7 1h1m-2 10h1"/>
<path stroke="#91d6a4" d="M12 7h1m-2 13h1m1 0h2m-4 1h1m0 21h1m-2 2h1m0 2h2m-3 1h1m-2 1h1m3 0h1m-3 1h1m1 0h1m-5 3h1m2 1h2m-3 1h1m-3 2h1m2 21h1m1 0h1m-8 2h1m0 1h3m4 0h3m-8 1h1m-1 1h1m-5 3h1m11 0h1m-8 1h1m2 0h1m3 0h1m-1 1h1m-9 1h1m4 0h1m-9 2h1m9 0h1m-9 1h1m-2 1h2m3 0h1m-4 1h1m2 0h1m-5 3h1m1 0h1m23 0h1m-25 18h1m2 0h1m-1 1h1m-2 1h1m-6 1h1m-3 1h1m2 0h2m1 1h1m3 0h1m-10 1h1m2 0h1m-2 1h1m6 0h1m-13 1h1m9 0h1m-12 2h1m9 0h1m5 0h1m-17 1h1m11 0h1m-6 1h1m4 0h1m3 0h1m-17 2h2m3 0h1m2 0h3m-4 1h1m3 0h1m3 0h1m-13 1h1m13 0h1m-14 1h1m3 1h1m-1 1h1m1 0h1m6 0h1m-15 1h1m-2 1h1m7 1h1m-4 1h1m8 0h1m-13 1h1m9 0h1m-9 1h1m2 0h1m-4 1h1m2 0h1m-5 2h2m6 0h1m-3 1h2m-5 1h1"/>
<path stroke="#7acea4" d="M12 18h1m0 1h1m-4 2h1m3 0h2m-4 1h1m2 0h1m-6 1h1m1 0h1m1 0h2m-5 1h1m1 0h3m-6 1h1m2 0h2m-5 1h2m1 0h1m0 1h1m-3 1h2m-4 15h2m1 0h1m-5 1h1m2 1h1m2 0h1m-7 1h1m-2 1h1m3 0h1m-5 1h1m2 0h2m2 0h1m1 0h1m-10 1h1m1 0h2m1 0h1m2 0h1m-4 1h3m-6 1h1m3 0h1m2 0h1m-6 1h3m2 0h1m-10 1h1m3 0h1m3 0h2m21 0h1m-32 1h1m1 0h1m2 0h1m1 0h2m-7 1h1m1 0h4m-7 1h1m1 0h1m4 0h1m-3 1h2m23 0h1m-30 1h1m3 0h2m-5 1h2m-1 14h3m-6 1h1m3 0h1m-4 1h1m1 0h3m-5 1h1m1 0h1m2 0h1m1 0h1m-10 1h2m1 0h2m4 0h1m-10 1h1m1 0h2m1 0h1m1 0h1m2 0h1m-6 1h2m2 0h2m-6 1h1m1 0h1m-10 1h1m1 0h3m4 0h3m1 0h1m12 0h1m-27 1h2m4 0h1m3 0h1m1 0h2m-14 1h1m1 0h1m1 0h1m1 0h1m2 0h5m-12 1h2m2 0h1m2 0h1m1 0h1m1 0h1m-12 1h1m6 0h1m2 0h1m-11 1h1m2 0h1m4 0h2m-12 1h2m1 0h1m3 0h3m-10 1h2m1 0h1m3 0h1m1 0h1m2 0h1m23 0h1m-37 1h2m4 0h3m2 0h1m18 0h1m-30 1h1m1 0h7m-8 1h1m2 0h1m2 0h1m3 0h1m-12 1h2m6 0h1m1 0h1m-5 1h1m2 0h1m-6 1h3m3 0h1m23 0h1m-33 1h2m1 0h2m-1 1h1m1 0h1m18 0h1m-21 1h1m-4 16h1m1 0h1m-5 1h1m1 0h1m4 0h1m-9 1h1m1 0h2m-5 1h2m3 0h1m2 0h1m23 0h1m-33 1h2m1 0h2m3 0h2m1 0h1m-13 1h1m7 0h1m1 0h3m22 0h1m-34 1h1m2 0h1m4 0h1m1 0h1m-14 1h1m3 0h2m1 0h2m3 0h3m-14 1h1m2 0h1m1 0h1m2 0h1m3 0h2m-12 1h2m2 0h1m4 0h2m-9 1h1m1 0h3m1 0h1m3 0h1m56 0h1m-70 1h3m2 0h1m1 0h3m23 0h1m-37 1h1m3 0h2m2 0h3m3 0h1m1 0h1m-16 1h1m6 0h3m24 0h1m-37 1h2m1 0h5m8 0h1m-15 1h3m2 0h1m5 0h2m-15 1h1m5 0h1m1 0h2m2 0h1m3 0h1m-17 1h2m11 0h1m1 0h1m-16 1h1m2 0h1m4 0h2m4 0h1m-15 1h1m16 0h1m-13 1h2m5 0h2m16 0h1m-30 1h2m1 0h1m1 0h2m2 0h3m3 0h1m-11 1h2m2 0h2m1 0h2m1 0h1m-16 1h6m1 0h2m1 0h1m4 0h1m20 0h1m-35 1h1m1 0h1m2 0h1m3 0h1m1 0h1m-5 1h2m1 0h1m1 0h1m-13 1h1m1 0h1m1 0h1m5 0h1m1 0h1m-13 1h3m1 0h2m2 0h1m1 0h2m-11 1h5m4 0h1m15 0h1m5 0h1m1 0h1m-29 1h4m-8 1h1m1 0h1m2 0h1m-1 1h1"/>
<path stroke="#69c3a3" d="M12 5h2m-1 1h1m-1 1h1m-1 11h1m-3 1h2m-1 1h1m22 0h1m2 0h1m-27 1h1m-2 1h1m2 0h1m19 0h1m23 1h1m-48 2h1m0 1h1m1 0h1m-4 1h3m-1 15h1m0 1h2m-6 1h1m2 0h1m-5 1h1m3 0h2m1 0h1m21 0h1m-29 1h2m2 0h3m-8 1h2m2 0h3m18 0h1m-26 1h1m3 0h1m2 0h1m17 0h2m3 0h1m1 0h1m-33 1h1m5 0h1m-8 1h5m3 0h2m19 0h2m21 0h1m-53 1h2m1 0h1m1 0h1m2 0h1m-6 1h1m4 0h1m19 0h1m2 0h1m-31 1h1m1 0h1m3 0h1m-2 1h1m2 0h1m20 0h3m-30 1h1m21 0h1m4 0h1m-27 1h2m1 0h1m24 0h1m-32 1h3m1 0h1m22 0h1m-26 1h1m2 1h1m-4 14h1m-2 1h3m1 0h1m-6 1h1m1 0h1m3 0h2m19 0h1m-29 1h2m3 0h1m2 0h1m20 0h1m-28 1h1m-2 1h1m2 0h1m1 0h1m2 0h1m21 0h1m-33 1h1m1 0h2m1 0h1m2 0h1m17 0h1m7 0h1m-35 1h2m5 0h1m26 0h1m17 0h1m-48 1h1m5 0h1m22 0h1m-34 1h3m2 0h3m1 0h1m-11 1h1m1 0h1m1 0h1m1 0h2m15 0h1m6 0h2m-33 1h1m3 0h2m1 0h1m19 0h1m4 0h2m-34 1h1m2 0h5m3 0h1m14 0h1m8 0h1m-36 1h2m2 0h1m2 0h2m3 0h1m-9 1h2m4 0h1m26 0h1m-36 1h1m1 0h1m1 0h1m1 0h1m2 0h1m1 0h1m12 0h1m4 0h1m-30 1h1m1 0h1m4 0h1m3 0h1m20 0h1m-25 1h1m24 0h1m-35 1h1m4 0h2m1 0h3m17 0h1m30 0h1m-56 1h1m1 0h1m2 0h1m-9 1h1m6 0h1m25 0h1m-34 1h1m5 0h1m1 0h1m15 0h1m-22 1h1m2 0h3m18 0h1m-25 1h1m2 0h1m-3 1h2m-2 16h1m1 0h1m-5 1h1m2 0h2m-3 1h3m1 0h2m-9 1h2m1 1h1m4 0h1m16 0h1m4 0h1m-32 1h1m10 0h1m15 0h1m7 0h1m-38 1h2m6 0h2m3 0h1m20 0h1m24 0h1m-60 1h2m7 0h1m-11 1h1m1 0h2m6 0h1m4 0h1m13 0h1m3 0h1m5 0h1m-39 1h2m2 0h2m2 0h1m1 0h1m2 0h2m20 0h1m-37 1h2m1 0h1m2 0h1m3 0h1m1 0h3m18 0h2m-35 1h3m3 0h2m5 0h1m2 0h1m11 0h1m1 0h1m1 0h1m2 0h1m-35 1h3m3 0h1m4 0h2m1 0h1m10 0h1m10 0h1m-38 1h1m1 0h4m1 0h1m4 0h2m11 0h1m6 0h1m-32 1h1m5 0h2m1 0h5m1 0h1m7 0h1m4 0h1m-25 1h1m4 0h2m3 0h1m17 0h1m-34 1h5m4 0h1m2 0h1m3 0h1m11 0h1m-28 1h1m1 0h9m1 0h1m1 0h1m15 0h1m3 0h1m-36 1h2m2 0h3m2 0h1m1 0h1m2 0h2m9 0h1m11 0h2m-39 1h7m2 0h1m1 0h1m1 0h3m15 0h2m-34 1h1m2 0h2m2 0h1m1 0h1m4 0h3m-12 1h1m3 0h1m3 0h1m1 0h1m16 0h2m4 0h1m-36 1h3m2 0h2m17 1h1m7 0h1m2 0h1m-38 1h2m1 0h1m1 0h1m2 0h1m1 0h1m1 0h1m-12 1h2m1 0h4m3 0h1m-11 1h1m1 0h1m3 0h1m1 0h1m1 0h1m1 0h1m13 0h1m-26 2h1m5 0h4m1 0h1m21 0h1m-33 1h1m3 0h1m21 0h1m3 0h1m-27 1h2m24 0h1m-28 1h1"/>
<path stroke="#5cb7a3" d="M36 5h2m23 0h1m-50 1h1m23 0h1m-23 13h1m21 0h1m-24 2h1m22 0h2m-28 1h1m2 0h1m24 0h1m-28 1h1m1 0h1m21 0h1m-26 1h1m1 0h1m21 0h1m4 0h1m-28 1h1m2 0h1m20 0h1m0 1h1m-3 1h1m-25 15h1m2 0h1m20 0h4m-1 1h1m-27 1h1m1 0h1m-5 1h1m23 0h1m1 1h1m-21 1h2m14 0h2m1 0h1m2 0h1m1 1h1m-24 1h1m18 0h2m3 1h1m-30 1h1m2 0h1m17 0h1m1 0h1m2 0h1m-30 1h1m5 0h1m16 0h1m8 0h1m-32 1h1m22 0h1m2 0h1m-28 1h1m1 0h1m21 0h2m-26 1h1m22 0h1m2 0h1m1 0h1m1 0h1m-6 1h1m3 0h1m-27 1h1m-1 1h2m22 0h1m2 0h1m-27 1h1m21 0h1m1 0h1m21 0h1m-24 14h1m-5 2h1m5 0h1m-28 1h1m21 0h1m4 0h1m2 0h1m-28 1h1m1 0h1m17 0h1m2 0h1m18 0h1m-50 1h1m8 0h1m21 0h1m2 0h1m-31 1h1m4 0h1m14 0h1m2 0h1m2 0h1m4 0h1m-31 1h1m-6 1h1m5 0h2m20 0h2m-7 1h1m1 0h1m1 0h1m-3 1h1m1 0h3m2 0h1m21 0h1m-55 1h1m6 0h1m1 0h1m1 0h1m11 0h1m1 0h1m2 0h1m1 0h1m2 0h1m1 0h1m-29 1h1m19 0h1m1 0h1m2 0h1m3 0h1m-35 1h1m21 0h2m1 0h1m1 0h2m1 0h2m-33 1h1m3 0h1m4 0h1m13 0h1m1 0h1m3 0h1m24 0h1m-28 1h1m-25 1h1m27 0h1m-23 1h1m17 0h1m-27 1h1m24 0h1m3 0h2m-28 1h1m5 0h1m-10 1h2m1 0h1m4 0h1m-9 1h2m4 0h1m24 0h1m-8 1h2m2 0h1m1 0h1m69 1h1m-99 1h1m23 16h1m3 1h1m-7 1h1m1 0h1m5 0h1m-31 1h1m1 0h1m3 0h1m15 0h1m-21 1h2m18 0h1m1 0h1m6 0h1m18 0h1m-53 1h1m2 0h1m2 0h1m14 0h1m-22 1h2m1 0h1m28 0h1m-28 1h1m1 0h1m14 0h1m4 0h1m22 0h1m-48 1h2m2 0h1m12 0h1m-17 1h1m20 0h1m3 0h1m-30 1h1m27 0h1m2 0h1m-22 1h1m11 0h2m9 0h1m-14 1h1m10 0h1m4 0h1m-42 1h1m16 0h1m6 0h2m1 0h3m7 0h2m-29 1h1m13 0h1m6 0h1m5 0h3m-25 1h1m1 0h1m10 0h2m11 0h1m-28 1h1m11 0h1m8 0h1m1 0h1m2 0h1m-14 1h1m2 0h1m2 0h1m6 0h1m-30 1h1m1 0h1m3 0h1m7 0h1m6 0h2m6 0h1m-28 1h1m11 0h3m8 0h1m3 0h1m-40 1h2m8 0h1m12 0h1m2 0h1m12 0h1m13 0h1m-47 1h1m5 0h1m11 0h2m12 0h1m-40 1h1m10 0h1m2 0h1m9 0h1m1 0h1m5 0h1m5 0h2m47 0h1m-82 1h1m4 0h2m1 0h1m14 0h1m-21 1h1m4 0h1m15 0h3m2 0h1m-9 1h1m2 0h1m-21 1h1m18 0h2m3 0h1m22 0h1m-49 1h1m1 0h1m18 0h2m2 0h2m-4 1h1m27 0h1m-55 1h1m21 0h1m-24 1h1m24 0h1m-23 1h1m22 0h1"/>
<path stroke="#54aba2" d="M37 6h1m-2 1h2m-2 11h2m-1 1h1m-4 2h1m3 0h1m-4 1h1m1 0h1m1 0h1m-4 1h3m-4 1h4m20 0h1m-25 1h1m2 0h1m-5 1h1m3 0h1m-1 1h1m-3 1h2m22 14h1m-49 1h1m21 0h1m4 0h1m19 0h1m-23 1h3m23 0h1m-7 1h1m-25 1h1m4 0h1m-2 1h1m2 0h1m-8 1h1m-2 1h4m3 0h2m-9 1h1m2 0h2m-3 1h1m1 0h1m25 0h1m-55 1h1m24 0h3m1 0h1m2 0h1m-7 1h2m2 0h1m1 0h1m-9 1h1m2 0h2m19 0h1m-41 1h1m23 0h1m-6 1h1m-2 1h2m2 0h1m-2 1h2m64 3h1m-70 12h1m2 0h1m-23 1h1m17 0h2m1 0h1m2 0h1m-7 1h2m2 0h1m-24 1h1m25 0h1m-10 1h1m7 0h1m-6 1h4m2 0h1m1 0h1m-11 1h1m2 0h1m3 0h1m-9 1h3m2 0h2m-8 1h1m2 0h2m3 0h2m-9 1h1m4 0h2m1 0h2m-10 1h1m-1 1h1m4 0h1m6 0h1m-13 1h1m5 0h2m-4 1h1m5 0h1m-4 1h2m1 0h1m19 0h1m-32 1h1m2 0h2m3 0h3m2 0h1m-28 1h1m14 0h2m2 0h1m6 0h1m-13 1h2m1 0h2m5 0h1m1 0h1m-10 1h1m3 0h1m3 0h1m-9 1h1m2 0h4m2 0h1m-11 1h1m4 0h4m-8 1h1m4 0h1m-3 1h1m25 0h1m-30 1h1m1 0h1m1 0h1m-1 1h1m-2 16h1m1 0h1m-1 1h1m-2 1h1m1 0h2m-10 1h1m8 0h1m-10 1h2m-2 1h1m6 0h2m-4 1h1m1 0h1m-9 1h1m1 0h1m2 0h1m1 0h1m3 0h3m-13 1h2m9 0h2m-14 1h1m4 0h1m3 0h1m2 0h1m47 0h1m-84 1h1m20 0h3m2 0h1m2 0h1m5 0h1m-14 1h1m8 0h2m-12 1h1m3 0h2m1 0h2m2 0h1m4 0h1m7 0h1m-17 1h1m2 0h1m3 0h1m-12 1h1m5 0h1m1 0h1m3 0h2m8 0h1m7 0h1m-35 1h1m2 0h1m3 0h3m2 0h1m2 0h2m9 0h1m-21 1h1m3 0h1m3 0h2m-16 1h1m6 0h1m2 0h1m3 0h2m12 0h1m5 0h1m5 0h1m-41 1h1m3 0h3m-22 1h1m1 0h1m16 0h1m1 0h1m6 0h2m2 0h1m-17 1h1m5 0h3m5 0h1m-16 1h2m3 0h1m6 0h1m2 0h1m21 0h1m-28 1h1m1 0h2m18 0h1m-31 1h1m2 0h1m3 0h2m1 0h1m3 0h1m16 0h1m-31 1h1m7 0h1m3 0h1m11 0h1m6 0h1m-32 1h1m2 0h1m1 0h1m-4 1h1m2 0h1m3 0h3m-12 1h1m6 0h1m15 0h1m4 0h1m-28 1h1m1 0h1m1 0h1m1 0h1m-7 1h1m3 0h1m2 0h1m23 0h1m-25 1h1m-3 1h1"/>
<path stroke="#4e9fa1" d="M60 6h1m-26 13h1m2 0h1m-5 1h1m1 0h2m-3 1h1m3 0h1m19 0h2m-25 1h1m-3 1h1m4 0h1m42 0h1m-49 2h1m4 0h1m-5 1h2m-1 1h1m24 1h1m-27 15h3m-3 1h2m-4 1h1m1 0h1m1 0h1m-6 1h1m1 0h2m1 0h1m1 0h1m-4 2h3m-1 1h1m-6 1h2m4 0h1m-3 1h1m3 0h1m18 0h1m4 0h1m-34 2h1m4 0h1m-4 2h1m1 0h1m22 0h1m-27 1h1m3 0h1m1 0h1m22 0h1m-4 1h1m-26 1h1m1 1h1m1 0h1m-4 14h1m-1 2h1m22 0h1m-27 1h1m1 0h3m24 0h1m-30 1h1m5 0h1m1 0h1m-10 1h1m1 0h1m21 0h1m2 0h1m6 0h1m-30 1h1m3 0h1m17 0h1m1 0h1m-31 1h1m3 0h1m4 0h2m15 0h1m3 0h1m-30 1h1m8 0h1m47 0h1m-56 1h1m1 0h1m2 0h1m4 0h1m20 0h1m-32 1h1m6 0h3m46 0h1m-56 1h1m28 0h1m-34 1h1m2 0h1m1 0h1m4 0h1m-3 1h1m3 0h1m14 0h1m9 0h1m-38 1h1m3 0h1m1 0h1m5 0h1m-12 1h1m2 1h1m3 0h1m2 0h1m-6 1h4m24 0h1m-34 1h2m7 0h1m1 0h1m14 0h1m2 0h1m-21 1h2m20 0h1m-30 1h2m1 0h1m-3 1h3m1 1h1m1 0h1m19 1h1m-25 1h1m1 0h1m23 0h1m-3 16h1m-27 1h4m-2 1h1m-3 1h1m3 0h1m2 0h1m14 0h2m-22 1h3m2 0h1m13 0h1m-19 1h1m2 0h1m1 0h1m16 0h2m-29 1h4m1 0h1m1 0h1m20 0h1m18 0h1m-51 1h1m3 0h2m3 0h2m21 0h1m2 0h2m-36 1h1m4 0h2m2 0h1m1 0h1m21 0h1m-33 1h1m1 0h1m3 0h1m-6 1h1m1 0h2m8 0h1m-17 1h1m1 0h1m3 0h1m-5 1h1m3 0h1m2 0h1m3 0h1m17 0h1m7 0h1m-34 1h2m2 0h1m5 0h1m17 0h1m-33 1h2m1 0h1m2 0h2m1 0h1m16 0h1m2 0h1m-31 1h2m8 0h1m1 0h1m18 0h1m8 0h1m-42 1h1m6 0h1m1 0h1m2 0h1m-12 1h2m14 0h1m17 0h1m-33 1h1m3 0h1m2 0h4m15 0h1m5 0h1m-31 1h1m1 0h1m2 0h2m3 0h1m10 0h1m6 0h1m2 0h1m-35 1h1m1 0h2m4 0h1m1 0h1m1 0h1m12 0h1m-24 1h1m1 0h2m2 0h2m1 0h1m11 0h1m8 0h1m-31 1h3m4 0h1m2 0h1m10 0h1m8 0h1m-10 1h1m1 0h1m10 0h1m-38 1h2m1 0h3m7 0h1m16 0h1m-47 1h1m16 0h1m2 0h1m3 0h2m2 0h3m19 0h1m3 0h1m-38 1h2m5 0h1m19 0h1m1 0h1m-28 1h1m1 0h1m7 0h1m-12 1h1m3 0h1m21 0h1m23 0h1m-47 1h1m1 0h1m3 0h1m-9 1h2m5 0h1m-6 1h1"/>
<path stroke="#4a939f" d="M61 6h1m-1 12h1m-1 2h1m-4 2h1m27 1h1m-50 2h1m21 0h1m1 1h2m44 0h1m-71 1h1m24 0h1m56 10h1m-61 5h1m1 0h1m1 1h1m-31 1h1m28 0h1m-27 1h1m2 0h2m18 1h1m1 0h2m-27 1h1m2 0h1m16 0h1m27 0h1m-53 1h1m24 0h1m5 0h2m0 1h1m38 0h1m-65 1h1m17 0h1m21 0h1m-49 1h1m6 0h2m-3 1h1m19 0h1m-18 1h1m17 0h1m-23 1h1m20 0h1m4 0h2m-2 1h1m17 0h1m2 0h1m-52 2h1m25 1h1m-25 16h1m1 0h2m0 1h1m19 0h1m-21 1h1m17 0h2m1 0h1m-28 1h1m1 0h1m5 0h1m13 0h1m6 0h1m20 0h1m-52 1h1m26 0h1m23 0h1m-29 1h2m2 0h1m3 0h1m2 0h1m-32 1h1m6 0h1m18 0h2m3 0h1m-30 1h1m21 0h1m3 0h1m-23 1h2m18 0h2m-9 1h1m3 0h1m1 0h1m3 0h1m-24 1h1m16 0h1m2 0h1m-20 1h1m15 0h1m1 0h3m3 0h1m-34 1h1m9 0h1m10 0h2m-24 1h1m2 0h1m4 0h1m18 0h1m4 0h1m-29 1h1m4 0h1m17 0h1m-30 1h1m2 0h1m3 0h1m19 0h2m3 0h5m-35 1h1m30 0h1m-28 1h1m19 0h1m-26 1h2m2 0h1m20 0h1m3 0h2m-27 1h1m23 0h1m4 0h1m-28 1h1m24 0h1m-24 2h1m17 0h1m-23 1h1m24 0h1m-2 17h1m1 0h1m-30 1h1m1 0h1m3 0h1m-7 1h1m4 0h1m17 0h1m4 0h1m-21 1h1m15 0h1m3 0h1m1 0h1m-30 1h2m27 0h1m-33 1h2m10 0h2m14 0h1m4 0h1m24 0h1m22 0h1m-72 1h1m14 0h1m-23 1h1m21 0h1m1 0h1m9 0h1m13 0h1m7 0h1m-61 1h1m2 0h1m3 0h1m3 0h1m2 0h2m22 0h1m10 0h1m-48 1h1m9 0h1m1 0h1m-8 1h1m6 0h2m8 0h1m3 0h1m1 0h1m3 0h1m12 0h1m-39 1h1m4 0h1m10 0h1m10 0h1m19 0h1m6 0h1m-48 1h1m14 0h1m-4 1h2m10 0h1m-36 1h1m7 0h1m9 0h2m8 0h1m-34 1h1m1 0h2m3 0h1m17 0h1m5 0h1m-29 1h2m18 0h1m5 0h2m1 0h1m4 0h1m-6 1h1m6 0h1m13 0h1m-55 1h1m23 0h2m8 0h1m3 0h1m1 0h1m-30 1h1m1 0h1m24 0h1m19 0h1m-32 1h1m2 0h1m5 0h1m2 0h1m-38 1h1m4 0h2m19 0h1m1 0h2m-28 1h1m2 0h2m6 0h1m23 0h1m-27 1h1m18 0h2m1 0h2m14 0h1m4 0h1m-46 1h1m13 0h1m3 0h1m7 0h1m-28 1h1m4 0h1m10 0h3m6 0h1m-31 1h1m3 0h1m20 0h1m4 0h1m24 0h2m-34 1h1m6 0h1m-28 2h2m19 0h1m2 0h1m1 0h1m46 0h1m-72 1h1m45 0h1"/>
<path stroke="#46889c" d="M60 5h1m-3 15h1m1 0h1m24 1h1m-25 2h1m1 0h1m-4 1h2m21 0h2m-27 1h1m2 18h1m-28 1h1m84 0h1m-59 1h1m1 0h1m-24 1h1m22 0h1m-5 1h1m1 0h1m-4 1h2m-19 1h1m14 0h3m3 0h1m-6 1h1m5 0h1m1 0h1m21 0h1m-29 1h1m-4 1h1m3 0h1m22 0h1m-28 1h1m6 0h1m21 1h1m-29 1h1m2 0h2m2 0h1m-29 1h1m21 0h1m4 0h1m-27 1h1m22 0h1m1 0h1m19 0h1m-48 1h1m22 0h1m25 0h1m-47 15h1m47 0h1m-47 2h1m15 0h1m43 0h1m-39 1h1m17 0h1m1 0h1m-47 1h1m22 0h2m3 0h1m-8 1h1m31 0h1m-52 1h1m40 0h1m10 0h1m-37 1h1m1 1h1m1 0h1m2 0h1m2 0h1m17 0h1m-27 1h1m2 0h1m23 0h1m-41 1h1m13 0h1m4 0h1m4 0h1m-13 1h1m28 0h1m-29 1h1m2 0h1m3 0h2m20 0h1m-56 1h1m25 0h1m2 0h2m2 0h1m2 0h1m-12 1h1m2 0h1m-4 1h1m1 0h2m1 0h1m1 0h1m1 0h1m-5 1h1m-7 1h1m3 0h2m5 1h1m19 0h1m-52 1h1m24 0h1m3 0h1m1 0h1m15 0h1m2 0h1m3 0h1m-58 1h1m30 0h1m2 0h1m47 0h1m-57 1h1m2 0h1m4 0h1m-8 1h1m1 0h1m2 0h1m-5 1h1m-1 1h1m26 0h1m30 4h1m-35 12h1m-51 1h1m23 0h2m21 1h1m30 0h1m-77 1h2m22 0h1m1 0h1m1 0h3m17 0h1m-21 1h2m-33 1h1m3 0h1m17 0h2m1 0h2m26 0h1m-32 1h1m35 0h2m-34 1h1m25 0h1m2 0h1m-51 1h1m2 0h1m13 0h1m3 0h1m1 0h2m26 0h1m-31 1h1m1 0h1m2 0h1m1 0h1m18 0h1m3 0h1m-36 1h1m1 0h1m4 0h3m-3 1h2m3 0h1m1 0h1m-7 1h1m1 0h2m1 0h1m-14 1h1m3 0h1m5 0h1m4 0h1m18 0h1m-23 1h4m9 0h1m-23 1h1m1 0h1m4 0h1m4 0h1m19 0h2m-45 1h1m13 0h1m8 0h1m21 0h1m-52 1h1m1 0h1m18 0h1m4 0h1m18 0h1m-40 1h1m12 0h1m6 0h1m19 0h1m6 0h1m19 0h1m-53 1h1m6 0h1m-15 1h1m3 0h1m2 0h1m3 0h1m2 0h1m-9 1h2m5 0h1m-2 1h3m-39 1h1m24 0h1m1 0h1m1 0h1m19 0h1m5 0h1m-47 1h1m15 0h1m10 0h2m14 0h1m1 0h1m-44 1h1m17 0h1m5 0h1m1 1h1m-26 1h1m23 0h2m-12 1h1m2 0h1m2 0h1m2 0h1m14 0h1m-40 1h1m17 0h1m0 1h1m-2 1h1m1 0h1m22 0h1"/>
<path stroke="#427c9a" d="M60 7h1m0 14h1m-3 1h1m1 0h2m-3 1h1m1 0h1m-1 1h1m19 0h1m-21 1h1m23 0h1m-28 1h1m1 1h1m24 0h1m-28 1h2m35 6h1m22 0h1m-60 9h1m1 0h1m-3 2h1m1 0h1m48 1h1m-55 1h2m1 0h1m1 0h1m-1 1h1m21 0h1m-26 1h1m1 0h1m19 0h2m-21 1h1m-7 1h2m22 0h1m6 0h2m-30 1h1m4 0h2m-6 1h2m-5 1h1m3 0h1m18 0h1m1 0h1m5 0h1m-33 1h1m1 0h1m-2 1h1m2 0h1m3 0h1m20 0h1m25 0h1m-49 2h1m21 1h1m19 5h1m-48 9h1m2 0h1m-5 1h2m4 0h1m-7 1h1m3 0h2m-7 1h1m8 0h1m21 0h1m-30 1h1m4 0h1m-2 1h1m17 0h1m3 0h1m-24 1h1m3 0h1m15 0h1m1 0h1m-46 1h1m24 0h1m-22 1h1m19 0h1m3 0h1m13 0h1m-26 1h1m7 0h1m1 0h2m11 0h1m9 0h1m-34 1h1m3 0h1m3 0h1m1 0h2m-8 1h1m19 0h1m10 0h1m-4 1h1m2 0h1m-33 1h1m6 0h1m-1 1h1m23 0h1m-25 1h1m-11 1h1m5 0h1m-2 1h1m5 0h1m21 0h1m25 0h1m-57 2h1m23 0h1m3 0h1m-26 1h1m1 0h1m19 0h1m-45 1h1m17 1h1m1 0h1m4 0h1m18 0h1m1 0h1m-48 1h1m19 0h1m3 0h2m40 0h1m1 2h1m12 5h1m0 4h1m-9 2h1m-54 4h1m1 0h1m-2 1h1m1 0h2m-8 1h1m6 0h1m-2 1h1m23 0h1m-29 1h2m18 0h2m-24 1h1m21 0h1m-17 1h1m4 0h1m-15 1h1m3 0h1m30 0h1m-36 1h1m2 0h1m7 0h1m-12 1h1m1 0h1m12 0h1m-12 1h2m4 0h2m1 0h1m-9 1h1m3 0h1m3 0h1m1 0h1m-16 1h1m2 0h2m2 0h1m21 0h1m1 0h1m4 0h1m-35 1h1m2 0h1m8 0h1m-4 1h1m12 0h1m-17 1h1m3 0h2m14 0h1m20 0h1m-51 1h2m4 0h1m3 0h1m3 0h2m1 0h1m12 0h1m1 0h1m28 0h1m-60 1h2m1 0h1m9 0h1m10 0h1m-27 1h3m26 0h1m-27 1h1m28 0h1m2 0h1m3 0h1m-38 1h1m4 0h1m2 0h1m5 0h1m13 0h1m6 0h1m-38 1h1m4 0h1m10 0h1m16 0h2m4 0h1m13 0h1m-52 1h1m8 0h2m3 0h1m-12 1h1m1 0h1m2 0h1m26 0h1m21 0h1m-59 1h1m2 0h1m1 0h1m8 0h1m23 0h1m-37 1h1m3 0h1m26 0h1m-29 1h1m5 0h1m-10 1h1m5 0h1m19 0h1m-23 1h1m-1 1h1m4 0h1m-7 1h1m23 0h1m-24 1h1m41 2h1"/>
<path stroke="#407297" d="M98 7h1m7 6h1m6 1h1m5 3h1m-60 1h1m49 0h1m-52 1h2m23 0h1m-23 1h1m29 0h1m-31 1h1m-3 1h1m22 0h1m-1 1h1m1 0h1m-28 1h1m4 0h1m53 2h1m-59 1h1m59 2h1m-1 4h1m-27 7h1m26 0h1m-59 2h1m-5 1h1m23 0h1m-25 1h1m1 0h2m22 0h1m1 0h1m-28 1h1m23 0h1m-27 1h1m2 0h1m3 0h1m-2 1h1m-3 1h1m1 1h2m-6 1h1m4 0h1m-7 1h1m2 0h1m1 0h1m18 0h1m-22 1h1m1 0h1m21 0h1m-29 1h2m3 0h1m18 0h1m2 0h1m27 0h1m-54 1h1m2 0h1m-1 1h1m23 0h1m-28 1h1m22 0h1m4 0h1m11 0h1m-40 2h3m53 6h1m-18 6h1m17 0h1m0 1h1m-60 2h2m22 0h1m-25 1h1m26 0h1m-27 1h1m3 0h1m22 0h1m-24 1h1m-4 1h1m18 0h1m3 0h1m4 0h1m-34 1h1m3 0h1m3 0h1m14 0h1m-18 1h1m17 0h1m-23 1h1m5 0h1m22 0h1m-34 1h2m9 0h1m17 0h1m-26 1h1m26 0h1m4 0h1m19 0h1m-25 1h2m-21 1h1m13 0h2m2 0h1m22 0h1m-55 1h1m2 0h1m9 0h1m11 0h1m23 0h1m-42 1h1m1 0h1m15 0h2m3 0h2m27 0h1m4 0h1m-66 1h1m1 0h2m2 0h1m17 0h1m-25 1h1m1 0h1m4 0h1m1 0h1m17 0h1m-28 1h1m4 0h1m22 0h1m1 0h1m-28 1h1m3 0h2m-8 1h1m3 0h1m3 0h2m15 0h1m2 0h1m4 0h1m-32 1h1m27 0h1m-31 1h3m2 0h1m20 0h1m-24 1h2m3 0h2m44 0h1m-28 1h1m-22 2h1m9 6h1m27 0h1m-63 10h1m24 0h1m21 0h1m-24 2h1m50 0h1m-55 1h1m28 0h1m5 0h1m-37 1h1m25 0h1m3 0h3m-29 1h1m1 0h4m12 0h1m31 0h1m-56 1h1m4 0h1m2 0h1m1 0h1m-13 1h1m1 0h1m3 0h1m5 0h1m23 0h1m22 0h1m-52 1h1m3 0h1m1 0h1m18 0h1m-32 1h2m1 0h1m2 0h1m1 0h1m1 0h1m-15 1h1m3 0h1m2 0h1m7 0h1m12 0h1m2 0h2m7 0h1m-41 1h1m2 0h1m21 0h2m2 0h1m2 0h1m6 0h1m-30 1h1m5 0h1m-17 1h1m3 0h1m4 0h1m2 0h1m1 0h1m14 0h1m2 0h1m5 0h1m-36 1h1m7 0h1m12 0h1m3 0h1m3 0h2m2 0h1m-32 1h1m9 0h1m8 0h1m2 0h1m-23 1h1m3 0h1m1 0h1m-11 1h1m10 0h1m15 0h1m8 0h1m-34 1h1m10 0h1m18 0h1m27 0h1m-58 1h3m3 0h1m13 0h2m7 0h1m2 0h2m-39 1h1m8 0h1m1 0h1m1 0h1m10 0h1m-23 1h1m6 0h1m1 0h1m18 0h1m9 0h1m-32 1h1m18 0h1m2 0h1m16 0h1m7 0h1m-49 1h1m4 0h1m2 0h1m8 0h1m1 0h1m6 0h1m26 0h1m-29 1h1m3 0h1m16 0h1m-53 1h1m1 0h1m3 0h2m15 0h2m1 0h1m1 0h1m4 0h1m-27 1h1m24 0h1m-30 1h1m4 0h1m-3 1h1m-5 1h2m2 0h2m23 0h1m-25 1h1m-1 1h2"/>
<path stroke="#3e6694" d="M115 1h1m-47 2h1m14 3h2m-25 1h1m52 0h1m-23 1h1m8 1h1m4 6h1m-20 3h1m20 0h1m-47 1h1m15 1h1m4 0h1m-26 1h1m4 1h1m49 0h1m-55 1h1m44 0h1m-44 2h1m20 0h1m-23 1h1m23 0h3m14 0h1m6 0h1m5 0h1m-55 1h1m47 0h1m9 0h1m-34 1h1m18 8h1m7 0h1m7 1h1m-37 3h1m26 0h1m-28 2h1m29 0h1m-30 1h1m-29 1h1m1 0h1m5 0h1m15 0h1m1 0h1m26 0h1m-53 1h1m5 0h1m17 0h1m1 0h2m28 0h1m-59 1h1m1 0h1m49 0h1m5 0h2m-33 1h1m3 0h2m-33 1h1m25 0h1m3 0h2m-32 2h1m4 0h1m21 0h1m2 0h1m2 0h1m-26 1h1m24 0h1m24 0h1m-51 2h1m18 2h1m-23 1h1m22 0h1m3 0h1m28 0h1m-60 1h1m22 0h1m1 0h1m-24 2h1m57 0h1m-12 2h1m-2 2h1m-2 3h1m14 0h1m-22 5h1m11 0h1m-18 1h1m-33 1h1m21 0h1m-25 1h2m19 0h1m-19 1h1m42 0h1m12 0h1m-57 1h1m14 0h1m2 0h1m1 0h3m2 0h1m-32 1h1m7 0h1m16 0h1m26 0h1m-49 1h1m1 0h1m23 0h1m-31 1h1m6 0h1m13 0h1m10 0h1m18 0h1m-52 1h1m7 0h1m17 0h1m30 0h1m-25 1h1m-37 1h1m2 0h1m22 0h1m3 0h1m0 1h1m10 0h1m8 0h1m-52 1h1m2 0h1m2 0h1m1 0h1m1 0h2m20 0h1m-5 1h3m-24 1h1m26 0h3m-25 1h1m12 0h1m4 0h2m1 0h1m-22 1h1m-11 1h1m21 0h1m2 0h1m11 0h1m-39 1h2m8 0h1m17 0h1m6 0h1m-33 1h1m2 0h2m1 1h1m18 0h1m5 0h1m-32 1h1m30 0h1m28 0h1m-63 1h1m4 0h1m25 0h1m28 0h1m-61 1h1m4 0h1m26 0h1m22 0h1m1 0h1m-30 2h1m13 2h1m13 0h1m1 0h1m3 0h1m-14 8h1m-6 4h1m-5 3h1m-37 1h1m3 0h1m18 0h1m2 0h1m-22 2h2m14 0h1m0 1h1m29 1h1m-51 1h2m3 0h1m14 0h1m2 0h1m25 0h1m-53 1h1m5 0h1m11 0h1m7 0h1m5 0h1m21 0h1m-53 1h1m14 0h2m1 0h1m1 0h2m2 0h1m5 0h1m8 0h2m6 0h1m-55 1h1m10 0h1m2 0h1m4 0h1m2 0h1m-23 1h1m1 0h1m7 0h1m14 0h1m25 0h1m-51 1h1m21 0h1m2 0h1m2 0h1m-30 1h1m22 0h1m2 0h1m4 0h1m2 0h1m24 0h1m-62 1h1m7 0h1m21 0h1m4 0h1m-33 1h1m8 0h1m18 0h1m8 0h1m-29 1h1m12 0h1m2 0h1m2 0h1m3 0h1m-12 1h1m34 0h1m-57 1h1m3 0h1m2 0h1m1 0h1m1 0h1m5 0h1m4 0h1m2 0h1m6 0h1m32 0h1m-45 1h1m5 0h1m2 0h1m-30 1h1m21 0h2m3 0h1m3 0h1m-32 1h1m31 0h1m1 0h1m20 0h1m-60 1h1m2 0h1m30 0h1m3 0h1m10 0h1m-39 1h1m18 0h1m32 0h1m-36 1h1m-19 1h1m18 0h1m6 0h1m1 0h1m24 0h1m2 0h1m-59 1h1m28 0h1m-34 1h1m3 0h1m3 0h1m22 0h1m-5 1h2m20 0h2m1 0h1m-27 1h2m3 0h1m-25 1h1m17 0h1m5 0h1m29 0h1m-10 1h1m-27 1h1m34 3h1"/>
<path stroke="#3e5891" d="M100 1h1m5 2h1m2 0h1m8 1h1m-54 1h1m42 0h1m-27 2h1m34 0h1m-16 1h1m1 0h1m-27 1h1m38 3h1m-53 2h1m4 0h1m49 0h1m-49 1h1m27 1h1m-8 2h1m-33 1h1m23 0h1m15 0h1m1 0h1m12 0h1m-58 1h1m24 0h1m24 0h2m-25 1h1m29 0h1m-32 1h2m27 0h1m-31 1h1m16 0h1m-16 1h1m-41 1h1m13 0h1m24 0h1m-28 1h1m21 0h1m32 0h1m-56 1h1m26 0h1m-13 1h1m9 0h1m11 0h1m-23 1h1m25 1h1m-20 1h1m20 0h2m10 3h1m2 2h1m-21 2h1m17 0h1m-15 2h1m-19 2h1m1 1h1m1 0h1m17 0h1m6 0h1m-17 1h1m2 0h1m-18 1h1m4 0h2m20 0h1m-29 1h1m2 0h1m1 0h1m27 0h1m4 0h1m-55 1h1m9 0h1m11 0h1m25 0h1m-53 1h1m44 0h1m-46 1h1m25 0h1m1 0h1m19 0h1m2 0h1m-31 1h1m2 0h1m3 0h1m23 0h1m-8 1h1m-49 1h1m4 0h1m21 0h1m25 0h1m-29 1h1m2 0h1m1 0h2m13 0h1m13 0h1m-57 1h1m22 0h1m2 0h2m29 0h1m-31 1h2m8 0h1m7 0h1m-20 1h1m9 0h1m22 0h1m-63 1h1m5 0h1m21 0h2m22 0h1m-16 2h1m9 0h1m-50 2h1m62 1h1m-45 1h1m19 4h1m11 0h1m3 1h1m3 4h1m-33 1h1m2 0h1m17 0h1m-42 1h1m12 0h1m8 0h1m-4 1h2m1 0h1m-26 1h1m50 0h1m-32 1h1m6 0h2m-6 2h1m1 0h2m19 0h1m-51 1h1m23 0h1m1 0h2m3 0h1m24 0h1m-27 1h1m29 0h1m-56 1h1m21 0h1m-27 1h1m21 0h1m5 0h1m12 0h1m-42 1h1m9 0h1m21 0h1m11 0h1m-46 1h1m18 0h1m6 0h1m4 0h1m-12 1h1m2 0h2m7 0h1m-25 1h1m17 0h1m4 0h1m13 0h1m8 0h1m-28 1h2m1 0h1m24 0h1m3 0h1m-30 1h1m1 0h1m14 0h1m-23 1h1m1 0h1m2 0h1m6 0h1m24 0h1m-37 1h2m1 0h1m12 0h1m-43 1h1m23 0h1m7 0h1m-6 1h1m1 0h2m-25 3h1m21 0h2m20 0h1m-48 2h1m18 0h1m34 0h1m-7 1h1m3 1h1m-10 1h1m13 0h1m-34 1h1m21 0h1m-44 1h1m50 0h1m3 0h1m-33 1h1m25 2h1m-10 1h1m0 1h1m-2 1h1m17 0h1m-27 1h1m9 0h1m13 0h1m-1 1h1m-35 1h1m-27 1h1m-6 1h1m28 0h1m4 0h2m7 0h1m-39 1h3m2 0h1m22 0h1m19 0h1m-36 1h1m9 0h1m7 0h2m19 0h1m-30 1h1m1 0h1m1 0h1m1 0h1m-7 1h1m8 0h1m-33 1h1m1 0h1m29 0h1m18 0h1m1 0h1m-34 1h1m2 0h1m2 0h1m32 0h2m-38 1h1m35 0h1m-63 1h1m25 0h1m6 0h1m-1 1h1m8 0h1m14 0h1m3 0h1m-29 1h2m-31 1h1m10 0h1m9 0h1m10 0h1m16 0h1m8 0h1m-58 1h1m18 0h1m3 0h1m28 0h1m-59 1h1m7 0h1m17 0h1m9 0h1m13 0h1m2 0h1m4 0h1m-53 1h1m26 0h1m3 0h1m0 1h1m3 0h1m15 0h2m-44 1h1m11 0h1m5 0h1m2 0h1m11 0h1m3 0h1m-23 1h1m5 0h1m-35 1h1m8 0h1m13 0h1m1 0h1m-5 1h1m2 0h2m8 0h1m6 0h1m1 0h1m-22 1h1m14 0h1m6 0h1m-25 1h1m2 0h1m2 0h1m6 0h1m19 0h1m-46 1h1m26 0h1m17 0h1m-53 1h1m56 0h1m-49 1h1m17 0h1m4 0h1m-12 1h1m9 0h1m-11 1h1m1 0h1m9 0h1m18 0h1m1 0h1m1 0h1m-52 1h1m22 0h1m2 0h1m-27 1h1m21 0h1m1 0h1m6 0h1m13 0h1m-25 1h2m1 0h1m-2 1h2m22 0h1m-35 2h1m35 2h1m-7 1h1"/>
<path stroke="#3e4c88" d="M51 0h1m14 0h1m4 0h1m34 0h1m6 0h1m-10 1h1m-1 1h1m8 0h1m4 0h1m-8 1h1m4 0h1m-33 2h1m12 0h1m10 1h1m9 0h1m-12 1h1m-28 1h1m7 2h1m1 0h1m16 0h1m-29 1h2m32 0h1m1 0h1m-62 1h1m44 1h1m1 1h1m10 0h1m-66 1h1m60 0h1m-7 1h1m-44 1h1m50 0h1m-31 1h1m-12 1h1m25 0h1m3 0h1m-14 1h1m-46 1h1m40 0h1m10 0h1m8 0h1m-23 2h1m8 0h1m23 0h1m6 0h1m-32 1h2m27 0h1m-49 1h1m38 0h2m-40 1h1m6 0h1m30 0h1m-27 1h1m9 0h1m-10 1h1m29 0h1m-30 1h1m20 0h1m-37 1h1m31 0h1m17 1h1m-9 2h1m-62 1h1m14 0h1m7 0h1m16 0h1m12 0h1m-34 1h1m-26 1h1m51 0h1m-5 1h1m16 0h1m-23 1h1m1 0h1m9 0h1m-29 1h1m5 0h1m29 0h1m-73 1h1m45 1h1m16 1h1m-36 1h1m22 0h1m21 0h1m3 0h1m4 0h1m-35 1h1m1 0h1m-7 2h1m2 0h1m-5 1h3m2 0h1m34 0h1m-40 1h1m6 0h1m7 0h1m12 0h1m-7 1h1m-19 1h1m11 0h1m20 0h1m-53 1h1m16 0h1m1 0h1m20 0h2m2 0h1m-29 1h1m5 0h1m12 0h1m18 0h1m-41 1h1m22 1h2m-20 1h1m4 0h1m25 0h1m-34 1h1m16 0h2m5 0h1m4 0h1m-52 1h1m46 0h1m-23 1h1m-26 1h1m18 0h1m2 0h2m-18 1h1m31 0h1m3 0h1m14 0h1m-31 1h1m7 0h1m-27 1h1m28 0h1m1 0h1m12 1h1m-42 1h1m7 0h1m30 0h1m4 0h1m1 0h1m-32 2h1m15 0h1m2 1h1m-31 1h1m21 0h1m-18 1h1m3 0h1m4 0h1m26 0h1m-40 2h1m-4 1h1m24 0h1m-30 2h1m12 0h1m1 0h1m28 0h1m-34 1h1m1 0h1m2 0h1m-40 1h1m58 0h1m3 0h1m-47 1h1m5 0h1m30 0h1m-14 1h1m4 0h1m4 0h1m9 0h1m-9 1h1m-27 1h1m27 0h1m3 0h1m4 0h1m-54 1h1m17 0h2m4 0h1m23 0h1m-39 1h1m8 0h1m6 0h1m2 0h1m17 0h1m1 0h1m-30 1h2m1 0h1m23 0h1m5 0h1m-40 1h1m3 0h1m1 0h1m8 0h1m-25 1h1m22 0h1m18 0h1m-31 1h1m5 0h2m6 0h1m12 0h1m6 0h1m-45 1h1m15 0h1m22 0h1m-29 1h3m3 0h1m5 0h1m21 0h1m-39 1h1m15 0h1m17 0h1m6 0h1m-7 1h1m-64 1h1m30 0h1m8 0h1m22 0h1m4 0h2m-23 1h1m-6 1h1m16 0h1m4 0h1m-30 1h1m2 0h3m21 0h1m-29 1h1m17 0h1m10 0h1m5 0h1m-35 1h1m7 0h1m5 0h2m-12 1h1m17 0h1m-28 1h1m14 0h1m0 1h2m11 1h1m7 0h1m-80 1h1m77 0h1m-34 1h1m37 1h1m-81 1h1m68 3h1m1 0h1m-63 1h1m69 0h1m-15 2h1m10 0h1m-17 1h1m-33 1h1m24 0h1m18 0h1m-25 1h1m-7 1h1m3 0h1m1 0h1m2 0h1m8 0h1m10 0h1m-22 1h2m19 0h1m-30 1h1m15 1h2m6 0h2m1 0h1m5 0h1m1 0h1m-27 1h1m19 0h1m3 0h1m4 0h1m-40 1h1m3 0h3m2 0h1m13 1h3m11 0h1m-37 1h1m3 0h1m2 0h1m6 0h1m2 0h1m9 0h1m1 0h1m1 0h1m-40 1h1m17 0h1m2 0h1m12 0h1m-25 1h1m3 0h1m2 0h4m1 0h1m22 0h1m-35 1h1m2 0h1m6 0h1m16 0h1m1 0h1m3 0h1m-38 1h1m9 0h1m30 0h1m-55 1h1m10 0h1m2 0h1m6 0h1m22 0h1m-24 1h1m4 0h2m8 0h1m7 0h2m4 0h1m-34 1h1m4 0h1m3 0h1m3 0h1m16 0h1m3 0h1m-62 1h2m8 0h1m13 0h1m1 0h1m6 0h1m3 0h1m12 0h1m14 0h1m-44 1h1m1 0h1m20 0h1m-41 1h1m15 0h1m2 0h1m19 0h1m2 0h1m4 0h2m-26 1h1m8 0h1m7 0h1m2 0h1m-16 1h1m3 0h1m2 0h1m12 0h1m2 0h1m6 0h1m-72 1h1m33 0h1m2 0h1m22 0h1m2 0h1m-54 1h1m19 0h1m6 0h1m2 0h2m2 0h1m11 0h1m-23 1h1m3 0h1m1 0h1m5 0h1m9 0h1m-14 1h1m7 0h2m2 1h1m7 0h1m-30 1h3m3 0h1m23 0h1m-29 1h1m24 0h1m5 0h1m-26 1h1m8 0h1m0 1h1m6 0h1m1 0h1m6 0h1m-26 1h1m10 0h2m11 0h1m-52 1h1m26 0h1m20 0h1m3 0h1m-82 1h1m53 0h1m-13 1h1m7 2h1m21 0h1m-63 1h1m35 0h1m6 0h1m14 0h1m14 0h1"/>
<path stroke="#40427a" d="M38 0h1m16 0h1m18 0h1m-8 1h1m-25 1h1m61 0h1m1 0h1m2 0h1m-35 1h1m27 1h1m-37 1h1m14 0h1m21 0h1m-28 1h1m4 0h1m6 0h1m13 0h2m-78 1h1m22 0h1m36 0h1m6 0h1m5 0h1m4 0h1m2 0h1m6 0h1m-72 1h1m10 0h1m5 0h1m35 0h1m6 0h1m1 0h1m-49 1h1m11 0h1m3 0h1m12 0h1m11 0h1m2 0h2m6 0h1m2 0h1m-56 1h1m24 0h1m2 0h1m12 0h1m16 1h1m-38 1h1m9 0h1m1 0h2m6 0h1m3 0h1m-68 1h1m21 0h1m11 0h1m31 0h1m5 0h1m6 0h1m3 0h1m-57 1h1m27 0h1m14 0h1m-34 1h1m26 0h1m3 0h1m6 0h1m1 0h1m-30 1h1m15 0h1m13 0h1m-14 1h1m11 0h1m-61 1h1m13 0h1m1 0h1m3 0h1m16 0h1m3 0h1m7 0h1m7 0h1m-19 1h1m6 0h1m3 0h1m15 0h1m-36 1h1m11 0h1m-33 1h1m54 0h1m-64 1h1m24 0h1m10 0h1m-52 1h1m12 0h1m31 0h1m18 0h1m1 0h1m-24 1h1m2 0h1m4 0h1m15 0h1m-37 1h1m6 0h1m3 0h1m21 0h1m-43 1h1m18 0h1m6 0h1m5 0h1m23 0h1m-96 1h1m58 0h1m7 0h1m6 0h1m2 0h1m-29 1h1m17 0h2m4 0h1m1 0h1m11 0h1m5 0h1m-62 1h1m45 0h1m-19 1h1m14 0h1m-36 1h1m41 0h1m-64 1h1m49 0h1m8 0h2m-27 1h1m2 0h1m18 0h1m16 0h1m-63 1h1m14 0h1m18 0h1m2 0h1m-71 1h1m65 0h1m17 0h1m12 0h1m-42 1h1m-45 1h1m7 0h1m2 0h1m17 0h1m12 0h1m36 0h1m-8 1h1m-49 1h1m28 0h1m5 0h1m1 0h1m20 0h1m-72 1h1m59 0h1m9 0h1m-30 1h1m11 0h1m1 0h1m17 0h1m-66 1h1m17 0h1m11 0h1m1 0h1m6 0h1m-50 1h1m39 0h1m5 0h1m6 0h1m-22 1h1m6 0h1m20 0h1m-9 1h1m2 0h1m5 0h1m13 0h2m-94 1h1m1 0h1m49 0h1m13 0h1m12 0h2m9 0h1m-67 1h1m25 0h1m17 0h1m9 0h2m3 0h1m6 0h1m-47 1h1m9 0h1m4 0h1m26 0h1m1 0h1m-9 1h1m-83 1h1m78 0h1m4 0h1m2 0h1m-17 1h1m12 0h1m-30 1h2m5 0h1m17 0h1m-63 1h1m40 0h1m2 0h1m19 0h1m2 0h1m7 0h1m-49 1h1m11 0h1m23 0h1m1 0h1m4 0h1m6 0h1m-71 1h1m43 0h1m12 0h1m6 1h2m-31 1h1m7 0h1m7 0h2m1 0h1m1 0h1m4 0h1m-21 1h1m2 0h1m25 0h1m-17 1h1m15 0h1m-90 1h1m48 0h1m3 0h1m11 0h1m9 0h1m-6 1h1m15 0h1m-44 2h1m33 0h2m-68 2h1m2 0h1m17 0h1m20 0h1m26 0h1m-26 1h1m7 0h1m6 0h1m9 0h1m-27 1h1m-46 1h1m2 0h1m9 0h1m30 0h1m-62 1h1m3 0h1m14 0h1m37 0h1m1 0h1m32 0h1m2 0h1m-77 1h1m19 0h1m16 1h1m3 0h1m5 0h1m17 0h1m6 0h1m-2 1h1m-93 1h1m60 0h1m10 0h1m-28 1h2m16 0h1m14 0h1m-30 1h1m5 0h1m4 0h1m-10 1h1m26 0h1m5 0h1m6 0h1m-31 1h1m3 0h1m2 0h1m1 0h1m5 0h1m2 0h1m-18 1h1m2 0h1m20 0h2m-57 1h1m34 0h1m14 0h1m-24 1h1m10 0h3m14 0h1m-57 1h1m6 0h1m12 0h1m15 0h2m22 0h2m2 0h1m5 0h1m-40 1h1m5 0h1m18 0h1m10 0h1m-36 1h1m5 0h1m20 0h1m8 0h1m-50 1h1m13 0h1m3 0h1m3 0h1m7 0h1m10 0h1m9 0h1m-52 1h2m37 0h2m-81 2h1m44 0h1m5 0h1m13 0h1m7 0h1m-9 1h2m6 0h1m6 0h1m8 0h1m-43 1h1m6 0h1m2 0h1m1 0h1m17 0h1m7 0h1m-34 1h1m7 0h1m11 0h1m-13 1h2m13 0h1m5 0h1m-31 1h1m11 0h1m1 0h1m7 0h2m2 0h2m4 0h1m-63 1h1m16 0h1m11 0h2m5 0h1m28 0h1m-74 1h1m40 0h1m15 0h1m12 0h1m-38 1h1m5 0h1m2 0h1m19 0h1m-23 1h1m7 0h1m2 0h1m-41 1h1m27 0h3m-2 1h1m20 0h1m10 0h1m-57 1h1m13 0h1m4 0h1m2 0h1m1 0h1m1 0h1m-52 1h1m49 0h1m2 0h1m25 0h1m1 1h1m5 0h1m-21 1h1m-29 1h1m36 0h1m-38 1h1m20 0h1m15 0h1m10 0h1m-84 1h1m30 0h1m9 0h1m8 0h1m7 0h1m12 0h1m4 0h1m6 0h1m-51 1h1m16 0h1m23 0h1m1 0h1m3 0h1m-59 1h1m5 0h1m17 0h1m11 0h1m2 0h1m5 0h1m13 0h1m-58 1h1m26 0h1m-33 1h1m6 0h1m32 0h1m-63 1h1m20 0h1m17 0h1m26 0h1m3 0h1m10 0h1m-75 1h1m42 0h1m22 0h1m-72 1h1m68 0h1m10 0h2m2 0h1m-51 1h1m15 0h1m17 0h1m2 0h1m3 0h1m6 0h1m-37 1h1m1 0h1m4 0h1m13 0h1m3 0h1m-60 1h1m45 0h1m1 0h1m5 0h1m7 0h1m-27 1h2m6 0h1m23 0h1m-71 1h1m25 0h1m3 0h1m22 0h1m5 0h1m4 0h1m6 0h1m-35 1h2m31 0h1m-62 1h1m18 0h1m1 0h1m3 0h1m37 0h1m-40 1h1m2 1h1m7 0h1m6 0h1m4 0h1m4 0h1m1 0h1m2 0h1m1 0h2m-41 1h1m17 0h1m-22 1h1m13 0h1m13 0h1m8 0h1m-24 1h1m2 0h1m11 0h1m12 0h1m2 0h1m2 0h1m-45 1h1m10 0h1m3 0h1m-9 1h1m5 0h1m1 0h1m-9 1h1m13 0h1m4 0h1m13 0h1m-40 1h2m5 0h2m20 0h1m-31 1h1m1 0h1m6 0h1m16 0h1m6 0h2m-26 1h1m6 0h1m6 0h1m14 0h1m-44 1h1m6 0h1m4 0h1m7 0h1m3 0h1m14 0h1m-23 1h1m17 0h1m-85 1h1m61 0h2m14 0h1m12 0h1m-34 1h1m2 0h1m5 0h1m5 0h1m6 0h1m6 0h1m-62 1h1m26 0h1m2 0h1m15 0h1m19 0h1m1 0h1m-41 1h1m6 0h1m6 0h1m19 0h1m-34 1h2m3 0h1m4 0h2m-18 1h1m7 0h1m3 0h1m10 0h1m8 0h1m5 0h1m7 0h1m-53 1h1m6 0h1m6 0h2m1 1h1m3 0h1m18 0h1m-37 1h1m1 0h1m8 0h1m6 0h1m-57 1h1m16 0h1m46 0h1m9 0h1m6 0h1m-36 1h1m40 0h1m-86 1h1m60 0h1m3 0h1m19 0h2m-35 1h1m9 0h1m-37 1h1m42 0h1m6 0h1m-51 2h1m48 0h1m-58 1h1m38 0h1m6 0h1m3 0h1"/>
<path stroke="#3e386a" d="M40 0h1m1 0h1m9 0h2m6 0h1m20 0h1m23 0h1m10 0h1m1 0h1m-79 1h1m7 0h1m3 0h1m2 0h1m16 0h1m17 0h1m3 0h1m8 0h1m14 0h1m-98 1h1m57 0h1m9 0h2m15 0h1m2 0h1m-81 1h1m27 0h1m10 0h1m32 0h1m13 0h1m-109 1h1m11 0h1m18 0h1m7 0h1m7 0h1m16 0h2m17 0h1m5 0h1m4 0h2m7 0h2m5 0h1m-94 1h1m9 0h1m24 0h1m29 0h1m4 0h1m3 0h1m14 0h2m-70 1h1m12 0h1m12 0h1m24 0h1m5 0h1m-100 1h1m46 0h1m34 0h1m6 0h1m27 0h1m-97 1h1m42 0h1m2 0h1m11 0h1m10 0h1m2 0h1m14 0h1m2 0h1m-83 1h1m19 0h1m15 0h1m7 0h1m7 0h1m2 0h1m1 0h1m8 0h1m-26 1h2m3 0h1m13 0h1m5 0h1m9 0h1m-54 1h1m4 0h1m4 0h2m1 0h1m16 0h1m1 0h1m6 0h1m1 0h1m-91 1h1m12 0h1m44 0h1m12 0h2m16 0h1m5 0h1m3 0h2m7 0h1m-92 1h1m30 0h1m22 0h1m17 0h1m4 0h1m-85 1h1m16 0h1m5 0h1m21 0h1m12 0h1m13 0h1m27 0h1m-72 1h1m48 0h1m7 0h1m12 0h1m1 0h1m2 0h1m-76 1h1m36 0h1m27 0h1m3 0h1m3 0h1m-101 1h1m13 0h1m33 0h1m22 0h1m7 0h1m18 0h1m-86 1h1m33 0h1m10 0h1m7 0h1m32 0h1m2 0h1m-73 1h1m25 0h1m8 0h1m33 0h1m-78 1h1m1 0h1m2 0h2m42 0h1m17 0h1m8 0h1m-40 1h1m5 0h1m3 0h1m4 0h1m-19 1h1m5 0h1m28 0h1m-89 1h1m87 0h1m7 0h1m-68 1h1m5 0h1m15 0h1m2 0h1m5 0h1m14 0h1m-25 1h1m10 0h1m12 0h1m2 0h1m20 0h1m-91 1h1m11 0h1m8 0h2m36 0h1m2 0h2m3 0h1m12 0h1m5 0h1m1 0h1m-73 1h1m3 0h1m31 0h1m17 0h1m11 0h1m-42 1h1m6 0h1m12 0h1m-73 1h1m26 0h1m27 0h1m15 0h1m3 0h1m3 0h1m10 0h1m3 0h1m-68 1h1m13 0h1m12 0h1m9 0h1m17 0h1m-61 1h1m8 0h1m2 0h1m21 0h1m1 0h1m8 0h1m26 0h1m1 0h1m-51 1h1m20 0h1m1 0h1m4 0h1m6 0h1m5 0h1m1 0h1m3 0h1m-81 1h1m18 0h1m2 0h1m13 0h1m25 0h1m19 0h1m1 0h1m-73 1h1m14 0h1m12 0h2m1 0h1m1 0h1m5 0h1m9 0h1m22 0h1m-93 1h1m4 0h1m26 0h1m21 0h1m3 0h1m10 0h1m21 0h1m-88 1h1m22 0h1m15 0h1m14 0h1m18 0h1m7 0h1m9 0h1m-97 1h1m6 0h1m9 0h1m7 0h1m3 0h1m20 0h1m12 0h1m19 0h1m-72 1h1m21 0h1m1 0h1m14 0h1m27 0h1m-92 1h1m43 0h1m8 0h1m19 0h2m12 0h1m5 0h1m-92 1h1m32 0h1m8 0h1m3 0h1m15 0h1m32 0h1m8 0h1m-92 1h1m-2 1h1m23 0h1m29 0h1m16 0h1m20 0h1m-45 1h2m22 0h1m19 0h1m-92 1h1m15 0h1m24 0h1m20 0h1m13 0h1m3 0h1m6 0h1m-9 1h1m10 0h1m-47 1h1m15 0h1m3 0h1m4 0h1m-5 1h1m3 0h2m9 0h1m7 0h1m-63 1h1m30 0h1m6 0h3m6 0h2m3 0h1m5 0h1m-110 1h1m75 0h1m2 0h1m3 0h2m1 0h1m1 0h1m2 0h1m6 0h1m10 0h1m1 0h1m-86 1h1m14 0h2m9 0h1m23 0h1m4 0h1m-9 1h1m11 0h1m6 0h1m4 0h1m12 0h1m-87 1h1m20 0h1m27 0h1m6 0h1m10 0h1m1 0h1m2 0h1m-50 1h1m2 0h1m2 0h1m13 0h1m38 0h1m2 0h1m7 0h2m-76 1h1m31 0h2m6 0h1m7 0h1m23 0h1m-37 1h1m39 0h1m-99 1h1m5 0h1m23 0h1m14 0h1m13 0h1m12 0h1m9 0h1m13 0h1m1 0h1m-73 1h1m38 0h1m18 0h1m6 0h1m4 0h1m-95 1h1m18 0h1m39 0h1m1 0h1m8 0h1m13 0h1m-87 1h1m24 0h1m2 0h1m30 0h1m15 0h1m2 0h1m19 0h1m-97 1h1m14 0h1m20 0h1m19 0h1m25 0h1m-64 1h1m2 0h1m15 0h1m3 0h1m6 0h1m18 0h1m13 0h1m-56 1h1m4 0h2m13 0h3m17 0h1m5 0h2m11 0h1m-74 1h1m8 0h1m1 0h1m7 0h1m5 0h1m4 0h1m2 0h1m11 0h1m7 0h1m-75 1h1m31 0h1m8 0h1m2 0h1m-41 1h1m9 0h1m3 0h1m41 0h1m2 0h1m4 0h1m10 0h1m1 0h1m11 0h1m2 0h1m7 0h1m-98 1h1m9 0h1m4 0h1m15 0h1m2 0h1m28 0h1m10 0h1m-69 1h1m32 0h1m49 0h1m4 0h1m1 0h1m-103 1h1m18 0h1m16 0h1m20 0h1m9 0h1m13 0h1m-64 1h1m3 0h1m24 0h1m7 0h1m28 0h1m1 0h1m-80 1h1m15 0h1m17 0h1m1 0h1m5 0h1m11 0h1m3 0h1m9 0h1m8 0h1m12 0h1m1 0h1m1 0h1m-65 1h1m19 0h1m28 0h1m15 0h1m-91 1h1m5 0h1m17 0h1m14 0h1m13 0h1m5 0h1m16 0h1m12 0h1m-118 1h1m1 0h1m46 0h1m57 0h1m-80 1h1m16 0h1m4 0h1m19 0h1m10 0h1m17 0h1m6 0h1m3 0h1m6 0h1m-111 1h1m14 0h1m30 0h1m15 0h2m4 0h1m9 0h1m21 0h1m6 0h1m4 0h1m-77 1h1m9 0h1m11 0h1m29 0h1m-55 1h1m24 0h1m1 0h1m1 0h1m4 0h1m28 0h3m-82 1h1m46 0h1m1 0h1m5 0h1m6 0h1m2 0h1m10 0h1m10 0h1m-69 1h1m31 0h1m9 0h1m11 0h1m-57 1h1m6 0h1m1 0h1m27 0h1m3 0h1m3 0h1m-84 1h1m61 0h1m13 0h1m7 0h1m3 0h1m25 0h1m-93 1h1m17 0h1m23 0h1m41 0h1m-67 1h1m53 0h1m1 0h1m1 0h1m13 0h1m-67 1h1m54 0h1m2 0h1m3 0h2m3 0h1m-96 1h1m48 0h1m2 0h1m4 0h1m11 0h1m13 0h1m5 0h1m5 0h1m-69 1h1m25 0h1m25 0h2m8 0h2m1 0h1m-63 1h1m28 0h1m5 0h1m3 0h1m11 0h2m7 0h1m-69 1h1m4 0h1m16 0h1m8 0h1m10 0h1m1 0h1m13 0h1m4 0h1m2 0h1m-89 1h1m5 0h1m19 0h1m30 0h1m20 0h1m7 0h1m2 0h1m6 0h1m-51 1h1m5 0h1m2 0h2m4 0h1m1 0h1m15 0h3m-32 1h1m4 0h2m7 0h1m17 0h1m6 0h1m4 0h1m-64 1h1m40 0h2m-43 1h1m21 0h1m17 0h1m14 0h1m-91 1h1m23 0h1m1 0h2m1 0h1m4 0h1m16 0h1m6 0h1m2 0h1m1 0h1m23 0h1m4 0h1m-106 1h1m19 0h1m24 0h2m16 0h1m16 0h1m12 0h1m10 0h1m-89 1h1m62 0h2m5 0h1m7 0h1m1 0h1m-48 1h2m8 0h1m2 0h1m9 0h1m25 0h1m3 0h1m-100 1h1m32 0h1m10 0h1m15 0h2m21 0h2m1 0h1m2 0h1m3 0h1m6 0h1m8 0h1m-72 1h1m7 0h1m8 0h1m18 0h1m2 0h1m8 0h1m17 0h1m-51 1h1m6 0h1m14 0h1m7 0h2m7 0h1m6 0h1m7 0h1m1 0h1m-83 1h1m16 0h1m10 0h1m28 0h2m6 0h1m13 0h1m-99 1h1m22 0h1m23 0h1m4 0h1m4 0h1m5 0h1m3 0h1m6 0h1m19 0h1m-88 1h1m16 0h1m6 0h1m17 0h1m2 0h1m3 0h2m5 0h1m16 0h1m4 0h1m-73 1h1m11 0h1m34 0h2m5 0h1m1 0h1m3 0h1m5 0h1m1 0h1m-98 1h1m69 0h1m13 0h1m1 0h1m-58 1h1m7 0h1m6 0h1m20 0h1m22 0h1m13 0h1m2 0h1m-102 1h1m12 0h1m22 0h1m13 0h1m3 0h1m30 0h1m1 0h1m5 0h1m-72 1h1m39 0h1m3 0h1m38 0h1m-84 1h1m14 0h1m5 0h1m4 0h1m5 0h1m13 0h1m5 0h1m3 0h1m1 0h1m12 0h1m13 0h1m-108 1h1m54 0h1m19 0h1m12 0h1m-59 1h2m12 0h1m11 0h1m16 0h1m19 0h1m1 0h1m14 0h1m-91 1h1m1 0h1m9 0h1m10 0h1m17 0h1m7 0h1m3 0h1m16 0h1m4 0h1m16 0h1m-79 1h1m13 0h1m-8 1h1m68 0h1m-26 1h1m7 0h1m1 0h1m1 0h1m-4 1h1m1 0h1m-56 1h1m63 0h1m8 0h1m-50 1h1m1 0h1m12 0h2m2 0h1m4 0h1m11 0h1m7 0h1m-63 1h1m15 0h3m25 0h1m1 0h1m1 0h1m1 0h1m12 0h2m-94 1h1m25 0h1m22 0h1m7 0h1m7 0h1m1 0h1m22 0h1m-68 1h1m24 0h1m3 0h1m1 0h1m5 0h1m-2 1h1m2 0h1m15 0h1m3 0h1m4 0h1m4 0h1m3 0h1m-120 1h1m76 0h2m2 0h1m22 0h1m-26 1h1m19 0h1m-75 1h1m20 0h1m3 0h1m29 0h1m4 0h1m9 0h1m21 0h1m-69 1h1m43 0h1m9 0h1m7 0h1m1 0h1m-68 1h1m25 0h1m1 0h1m5 0h1m8 0h1m14 0h1m6 0h2m-44 1h1m33 0h1m15 0h1m-97 1h1m48 0h1m12 0h1m-60 1h1m54 0h1m5 0h1m18 0h1m1 0h1m8 0h1m-49 1h1m18 0h1m16 0h1m6 0h1m-88 1h1m42 0h1m10 0h1m12 0h1m1 0h1m17 0h1m-88 1h1m19 0h1m46 0h1m7 0h1m8 0h1m4 0h1m-40 1h2m1 0h1m7 0h1m11 0h1m4 0h1m3 0h1m6 0h1m-45 1h1m13 0h1m9 0h1m8 0h1m1 0h1m11 0h1m-74 1h1m29 0h1m4 0h1m7 0h1m9 0h1m1 0h1m1 0h1m3 0h1m7 0h1m-63 1h1m43 0h1m18 0h1m3 0h1m-35 1h1m12 0h1m14 0h1m-69 1h1m6 0h1m17 0h2m12 0h2m8 0h1m2 0h1m1 0h1m4 0h1m1 0h1m9 0h1m-88 1h1m19 0h1m17 0h1m5 0h1m3 0h1m1 0h1m4 0h1m8 0h2m6 0h2m1 0h1m1 0h1m5 0h1m-108 1h1m101 0h1m12 0h1m-67 1h1m15 0h2m4 0h1m3 0h2m12 0h1m3 0h1m20 0h1m-115 1h1m44 0h1m15 0h1m5 0h1m5 0h1m6 0h1m6 0h1m5 0h1m-80 1h1m8 0h1m1 0h1m17 0h1m7 0h1m14 0h1m2 0h1m2 0h1m4 0h1m9 0h1m10 0h1m-62 1h1m1 0h1m29 0h1m4 0h1m19 0h1m10 0h1m2 0h1m-23 1h1m1 0h1m6 0h1m4 0h1m4 0h1m-68 1h1m26 0h2m22 0h2m7 0h1m-76 1h1m54 0h1m11 0h1m6 0h1m13 0h1m-80 1h1m1 0h1m21 0h1m2 0h1m19 0h2m2 0h1m3 0h1m2 0h1"/>
<path stroke="#382f56" d="M24 0h1m1 0h2m18 0h1m2 0h1m12 0h1m4 0h1m7 0h1m8 0h1m6 0h1m20 0h1m1 0h1m-115 1h1m12 0h1m11 0h2m10 0h1m1 0h1m14 0h1m20 0h2m7 0h2m10 0h1m-96 1h1m9 0h1m29 0h1m2 0h1m3 0h1m5 0h2m14 0h2m25 0h1m2 0h1m10 0h1m4 0h1m2 0h1m-99 1h2m18 0h1m6 0h1m12 0h1m38 0h1m1 0h1m1 0h1m2 0h1m2 0h1m6 0h1m-109 1h1m6 0h1m17 0h1m26 0h1m14 0h1m2 0h1m20 0h1m12 0h1m1 0h1m-114 1h1m29 0h1m9 0h1m1 0h1m18 0h1m9 0h1m2 0h1m2 0h1m11 0h1m23 0h2m-83 1h1m4 0h1m9 0h5m21 0h1m1 0h1m1 0h1m2 0h1m11 0h2m1 0h1m1 0h1m3 0h1m7 0h1m-108 1h1m3 0h1m14 0h1m7 0h4m29 0h1m15 0h2m2 0h1m30 0h1m-88 1h2m29 0h1m6 0h1m4 0h1m7 0h1m15 0h1m5 0h1m10 0h1m-109 1h1m3 0h1m20 0h1m3 0h1m3 0h1m2 0h1m22 0h1m10 0h1m18 0h1m26 0h1m-118 1h1m22 0h1m12 0h2m6 0h1m10 0h1m1 0h1m1 0h2m38 0h2m-97 1h1m27 0h1m2 0h1m5 0h1m25 0h1m10 0h1m28 0h1m-93 1h1m1 0h1m13 0h2m7 0h2m16 0h1m7 0h1m4 0h1m4 0h1m4 0h2m-57 1h1m4 0h1m17 0h1m26 0h1m2 0h1m7 0h1m6 0h1m3 0h1m2 0h1m12 0h1m-115 1h2m41 0h1m7 0h1m8 0h1m9 0h1m10 0h1m8 0h1m2 0h1m20 0h1m-88 1h1m19 0h1m4 0h1m2 0h1m5 0h2m3 0h1m1 0h1m13 0h1m6 0h1m-83 1h2m13 0h1m2 0h1m29 0h1m8 0h1m1 0h1m7 0h1m2 0h1m22 0h2m3 0h2m3 0h1m3 0h1m-114 1h3m2 0h1m4 0h1m5 0h1m1 0h1m4 0h1m2 0h1m2 0h1m1 0h1m8 0h1m6 0h1m8 0h1m7 0h1m31 0h1m5 0h1m-96 1h1m40 0h1m5 0h1m4 0h2m2 0h1m5 0h1m1 0h1m9 0h1m6 0h1m1 0h1m2 0h1m14 0h1m-94 1h1m1 0h1m3 0h1m13 0h1m6 0h1m17 0h1m1 0h1m5 0h1m6 0h1m8 0h2m1 0h1m6 0h1m7 0h1m4 0h1m6 0h2m-111 1h1m10 0h1m8 0h1m27 0h1m5 0h1m18 0h1m10 0h1m25 0h1m-113 1h1m11 0h1m8 0h1m20 0h1m5 0h1m7 0h1m3 0h1m7 0h1m2 0h1m5 0h1m19 0h2m4 0h1m1 0h2m-95 1h1m9 0h1m11 0h1m2 0h1m8 0h1m18 0h1m11 0h1m14 0h1m2 0h1m-97 1h1m13 0h1m5 0h2m23 0h1m2 0h1m15 0h1m1 0h1m5 0h1m24 0h1m11 0h1m-88 1h1m28 0h1m7 0h2m30 0h1m10 0h1m1 0h1m1 0h1m4 0h1m-111 1h1m16 0h1m19 0h2m6 0h1m25 0h1m13 0h1m5 0h1m19 0h1m-103 1h1m2 0h1m21 0h1m35 0h1m4 0h1m12 0h1m3 0h1m2 0h1m16 0h1m-97 1h1m4 0h1m2 0h1m12 0h1m6 0h1m4 0h1m10 0h1m1 0h1m25 0h1m7 0h1m2 0h1m9 0h1m-63 1h1m13 0h1m39 0h1m-84 1h1m25 0h2m9 0h1m7 0h2m4 0h2m5 0h1m2 0h1m5 0h1m4 0h1m16 0h1m5 0h1m-109 1h1m2 0h1m5 0h1m3 0h2m29 0h1m1 0h2m3 0h1m24 0h1m26 0h1m1 0h1m-104 1h1m11 0h1m3 0h1m3 0h1m7 0h1m15 0h2m3 0h1m7 0h1m12 0h1m6 0h2m1 0h3m2 0h1m5 0h1m5 0h1m-93 1h1m9 0h1m4 0h2m4 0h1m17 0h1m24 0h1m26 0h2m-90 1h1m11 0h1m24 0h1m3 0h1m6 0h1m8 0h1m6 0h1m3 0h1m4 0h1m11 0h1m5 0h1m6 0h1m-95 1h2m22 0h1m13 0h1m11 0h1m8 0h1m2 0h1m5 0h1m8 0h1m-101 1h1m19 0h1m27 0h3m3 0h1m15 0h1m3 0h1m8 0h1m11 0h1m-92 1h1m18 0h1m8 0h1m8 0h1m14 0h1m9 0h1m4 0h1m1 0h1m17 0h1m20 0h1m-111 1h1m5 0h2m20 0h1m2 0h1m16 0h2m2 0h1m4 0h1m6 0h2m17 0h3m7 0h1m-89 1h1m14 0h1m1 0h1m4 0h1m3 0h1m2 0h1m2 0h1m7 0h1m4 0h1m15 0h1m20 0h1m1 0h2m3 0h1m7 0h1m1 0h1m2 0h1m2 0h1m3 0h1m-97 1h1m4 0h1m3 0h1m21 0h1m5 0h2m7 0h1m2 0h1m1 0h1m2 0h1m4 0h1m7 0h3m1 0h1m2 0h1m20 0h1m-116 1h1m10 0h1m9 0h3m5 0h1m6 0h1m26 0h1m1 0h1m3 0h1m18 0h2m11 0h1m-88 1h1m7 0h1m7 0h1m11 0h1m13 0h2m4 0h1m2 0h1m7 0h2m23 0h1m-94 1h1m18 0h1m11 0h1m11 0h2m4 0h1m6 0h1m11 0h1m18 0h1m9 0h2m11 0h1m-77 1h1m2 0h1m1 0h1m3 0h2m2 0h1m16 0h1m2 0h1m2 0h2m7 0h1m2 0h1m3 0h1m8 0h1m-102 1h1m1 0h1m11 0h1m3 0h1m34 0h1m13 0h1m1 0h1m2 0h1m14 0h1m1 0h1m9 0h1m3 0h1m2 0h1m6 0h1m-116 1h1m19 0h1m4 0h1m1 0h1m4 0h1m21 0h1m24 0h1m12 0h2m13 0h1m3 0h1m3 0h1m-108 1h1m9 0h1m8 0h1m3 0h1m18 0h2m22 0h1m1 0h1m16 0h2m3 0h1m1 0h1m16 0h1m-100 1h1m5 0h1m3 0h1m20 0h1m4 0h1m20 0h1m14 0h1m11 0h1m4 0h1m-108 1h2m40 0h1m3 0h1m4 0h1m3 0h1m9 0h1m3 0h1m5 0h1m30 0h2m11 0h1m-118 1h1m4 0h1m43 0h1m3 0h1m11 0h1m15 0h1m9 0h2m23 0h1m-118 1h2m18 0h1m47 0h2m3 0h1m15 0h1m2 0h2m5 0h1m3 0h1m1 0h1m6 0h1m-93 1h1m7 0h1m14 0h1m2 0h1m2 0h2m15 0h1m1 0h1m2 0h1m11 0h1m5 0h1m5 0h1m12 0h1m-104 1h1m14 0h1m26 0h1m26 0h1m2 0h1m8 0h1m7 0h1m7 0h1m2 0h2m3 0h1m-67 1h1m1 0h1m29 0h1m1 0h1m10 0h1m7 0h1m5 0h1m-15 1h2m5 0h1m1 0h1m11 0h1m-95 1h1m7 0h1m22 0h1m3 0h3m14 0h1m1 0h1m5 0h1m18 0h1m10 0h3m1 0h1m3 0h1m-92 1h1m7 0h1m11 0h1m11 0h1m14 0h1m8 0h1m28 0h1m6 0h1m-112 1h1m21 0h1m4 0h1m10 0h1m7 0h1m36 0h1m1 0h1m5 0h1m5 0h1m4 0h1m-107 1h1m26 0h1m16 0h1m2 0h1m6 0h1m14 0h2m5 0h1m3 0h1m20 0h1m2 0h1m8 0h1m-91 1h1m1 0h1m13 0h1m4 0h1m6 0h2m4 0h1m5 0h1m2 0h1m5 0h1m2 0h1m12 0h1m5 0h1m11 0h1m-92 1h1m14 0h1m9 0h1m4 0h1m10 0h1m18 0h1m24 0h1m5 0h7m3 0h1m-116 1h1m28 0h1m3 0h1m33 0h1m10 0h1m14 0h1m18 0h1m2 0h1m-97 1h1m21 0h1m6 0h1m1 0h1m7 0h1m27 0h1m15 0h2m5 0h2m-98 1h1m3 0h1m14 0h1m5 0h1m18 0h2m2 0h1m12 0h1m2 0h1m7 0h2m8 0h1m-59 1h1m4 0h1m6 0h1m2 0h2m11 0h1m14 0h2m1 0h2m8 0h2m4 0h1m6 0h1m-64 1h1m4 0h1m3 0h1m3 0h3m13 0h1m15 0h1m1 0h1m1 0h1m1 0h1m4 0h1m1 0h1m-93 1h2m16 0h1m16 0h1m9 0h1m2 0h1m1 0h1m32 0h2m2 0h1m2 0h1m4 0h1m2 0h1m2 0h2m-95 1h1m14 0h1m10 0h2m28 0h1m2 0h1m3 0h1m20 0h1m5 0h1m6 0h1m-111 1h1m15 0h1m2 0h1m14 0h2m33 0h1m5 0h1m8 0h1m10 0h2m9 0h1m1 0h1m-103 1h1m1 0h1m15 0h1m1 0h1m9 0h2m4 0h1m4 0h1m1 0h1m10 0h1m9 0h2m21 0h1m8 0h1m-100 1h1m1 0h1m4 0h1m26 0h1m2 0h1m8 0h1m11 0h1m5 0h1m11 0h1m1 0h1m12 0h1m7 0h1m10 0h1m-101 1h1m1 0h1m1 0h1m9 0h1m26 0h1m8 0h1m21 0h1m6 0h1m1 0h1m4 0h1m14 0h1m-120 1h1m5 0h1m24 0h2m14 0h1m13 0h1m4 0h1m9 0h2m1 0h1m6 0h1m32 0h1m-112 1h1m7 0h1m13 0h1m33 0h1m5 0h2m14 0h1m24 0h1m1 0h2m-111 1h1m1 0h1m14 0h1m7 0h1m14 0h1m6 0h1m35 0h1m12 0h1m-57 1h1m2 0h1m3 0h1m14 0h1m29 0h1m7 0h1m4 0h1m-108 1h1m19 0h1m2 0h1m3 0h1m16 0h1m2 0h1m2 0h1m32 0h1m7 0h1m10 0h1m7 0h1m4 0h1m-75 1h1m2 0h1m22 0h1m21 0h1m1 0h2m6 0h1m14 0h1m2 0h1m-78 1h2m21 0h1m1 0h1m3 0h1m13 0h1m27 0h2m-91 1h1m17 0h2m2 0h1m6 0h1m21 0h1m11 0h1m15 0h1m13 0h1m-94 1h1m49 0h1m29 0h1m1 0h1m2 0h1m6 0h1m-96 1h1m22 0h1m1 0h1m1 0h1m19 0h1m4 0h1m2 0h1m14 0h1m4 0h1m11 0h1m2 0h1m-113 1h1m24 0h1m87 0h1m-110 1h1m46 0h1m22 0h1m1 0h1m13 0h1m13 0h1m1 0h1m5 0h1m1 0h1m-113 1h1m18 0h1m24 0h1m5 0h1m20 0h1m2 0h1m18 0h2m5 0h2m1 0h1m1 0h1m-55 1h1m24 0h1m20 0h1m11 0h1m1 0h1m-62 1h1m15 0h1m4 0h1m31 0h1m2 0h1m7 0h1m-112 1h1m19 0h1m26 0h1m15 0h1m3 0h1m17 0h2m20 0h1m6 0h1m-76 1h1m48 0h1m11 0h1m-106 1h1m3 0h1m39 0h1m3 0h1m3 0h1m26 0h1m12 0h1m5 0h2m4 0h1m2 0h1m8 0h1m-94 1h1m1 0h1m3 0h1m19 0h1m27 0h1m16 0h1m17 0h1m-65 1h1m19 0h1m3 0h1m21 0h1m4 0h1m19 0h1m-95 1h1m45 0h1m18 0h1m7 0h1m5 0h1m4 0h2m4 0h1m-116 1h1m41 0h2m51 0h1m8 0h1m7 0h1m-109 1h1m49 0h1m13 0h2m3 0h1m31 0h1m4 0h1m2 0h2m-112 1h1m14 0h1m28 0h1m1 0h1m4 0h1m19 0h1m4 0h1m7 0h1m8 0h1m5 0h1m2 0h2m12 0h1m-113 1h1m34 0h1m30 0h1m2 0h1m30 0h1m5 0h1m-105 1h1m8 0h1m9 0h1m11 0h1m34 0h1m1 0h1m11 0h1m11 0h1m17 0h1m-85 1h1m4 0h1m2 0h1m28 0h2m25 0h1m1 0h1m-94 1h1m1 0h1m2 0h1m2 0h1m1 0h1m15 0h1m6 0h3m2 0h1m15 0h2m6 0h1m2 0h1m29 0h2m14 0h1m-107 1h1m6 0h1m43 0h1m1 0h1m1 0h2m2 0h1m25 0h2m1 0h1m-87 1h2m14 0h1m1 0h1m1 0h1m6 0h1m2 0h1m7 0h1m12 0h1m10 0h1m9 0h1m11 0h1m18 0h1m-109 1h1m12 0h2m1 0h1m8 0h1m11 0h1m12 0h2m5 0h1m25 0h1m1 0h1m15 0h1m3 0h1m-98 1h1m2 0h1m6 0h1m7 0h1m7 0h1m2 0h1m15 0h1m1 0h1m3 0h1m12 0h1m7 0h1m5 0h1m13 0h1m2 0h1m-111 1h1m16 0h1m15 0h1m5 0h1m10 0h1m2 0h1m2 0h1m3 0h1m5 0h1m10 0h1m21 0h1m4 0h1m-108 1h1m2 0h1m7 0h1m11 0h3m1 0h1m5 0h1m2 0h1m1 0h2m26 0h1m23 0h1m5 0h1m1 0h1m1 0h1m13 0h1m-112 1h1m5 0h1m22 0h1m16 0h1m6 0h1m11 0h1m5 0h1m4 0h1m8 0h1m11 0h1m4 0h1m14 0h1m-99 1h1m59 0h1m17 0h1m14 0h1m-116 1h2m2 0h1m32 0h1m2 0h1m1 0h1m1 0h1m17 0h1m16 0h2m5 0h1m8 0h2m7 0h1m1 0h2m5 0h1m-96 1h1m2 0h1m9 0h2m6 0h2m3 0h1m3 0h1m2 0h1m1 0h1m7 0h1m9 0h1m1 0h1m1 0h1m5 0h1m6 0h1m2 0h1m2 0h1m10 0h1m1 0h1m1 0h3m4 0h1m-117 1h1m6 0h1m13 0h2m6 0h1m10 0h1m11 0h1m9 0h2m3 0h2m15 0h1m3 0h1m1 0h1m18 0h1m-94 1h3m15 0h1m9 0h1m3 0h2m11 0h1m2 0h1m6 0h2m13 0h1m9 0h1m6 0h1m14 0h2m-110 1h1m33 0h1m3 0h1m4 0h1m7 0h1m4 0h1m6 0h1m3 0h2m10 0h1m2 0h1m13 0h1m8 0h1m-114 1h1m13 0h1m10 0h1m11 0h1m3 0h1m14 0h1m10 0h1m4 0h1m7 0h1m5 0h1m6 0h1m4 0h1m4 0h1m2 0h1m1 0h1m-91 1h1m5 0h2m2 0h1m12 0h1m5 0h2m3 0h1m36 0h2m8 0h1m-81 1h1m28 0h1m4 0h1m11 0h1m7 0h1m5 0h2m10 0h1m10 0h1m4 0h1m9 0h1m-101 1h1m8 0h2m16 0h1m1 0h1m4 0h1m15 0h1m1 0h1m9 0h2m11 0h1m13 0h1m4 0h1m1 0h1m3 0h1m-114 1h1m12 0h1m30 0h1m34 0h1m4 0h1m10 0h1m5 0h2m-109 1h1m46 0h1m4 0h1m19 0h1m1 0h1m6 0h1m20 0h1m2 0h2m-82 1h1m19 0h1m26 0h1m2 0h1m26 0h1m3 0h1m7 0h1m-70 1h1m32 0h1m15 0h1m5 0h1m6 0h2m1 0h1m1 0h1m-92 1h1m1 0h1m22 0h1m5 0h1m18 0h1m23 0h1m2 0h1m5 0h1m-105 1h1m44 0h1m26 0h1m30 0h1m5 0h1m3 0h1m-19 1h1m2 0h1m5 0h1m1 0h1m3 0h1m3 0h1m3 0h1m-74 1h1m4 0h1m24 0h1m32 0h1m-5 1h1m10 0h1m-114 1h1m19 0h1m25 0h1m24 0h2m24 0h3m14 0h1m3 0h1m-99 1h1m3 0h1m68 0h1m12 0h1m-59 1h1m29 0h1m18 0h2m6 0h1m2 0h1m2 0h1m4 0h1m-97 1h1m47 0h1m18 0h1m6 0h1m1 0h1m1 0h1m14 0h2m-44 1h1m9 0h1m2 0h1m25 0h1m3 0h1m-70 1h1m21 0h1m3 0h1m14 0h1m22 0h1m-109 1h1m21 0h1m25 0h1m53 0h1m2 0h1m1 0h1m3 0h1m1 0h2m-73 1h1m45 0h1m6 0h1m7 0h1m2 0h1m-88 1h1m2 0h1m25 0h1m45 0h1m3 0h1m4 0h1m6 0h2m2 0h2m-70 1h2m18 0h2m36 0h1m7 0h1m-95 1h1m29 0h1m55 0h1m10 0h1m-74 1h3m3 0h1m19 0h1m14 0h1m10 0h1m6 0h1m12 0h1m-115 1h1m16 0h1m1 0h1m2 0h1m22 0h1m1 0h1m1 0h1m15 0h1m1 0h1m4 0h1m16 0h1m12 0h1m5 0h1m4 0h1m-91 1h1m21 0h1m26 0h1m1 0h1m12 0h1m4 0h1m6 0h1m4 0h2m9 0h1m-99 1h1m5 0h2m2 0h1m39 0h1m14 0h1m5 0h1m7 0h1m3 0h1m15 0h1m-97 1h1m4 0h1m1 0h1m11 0h1m8 0h1m30 0h1m9 0h1m17 0h1m3 0h1m-95 1h1m21 0h1m3 0h1m21 0h1m3 0h1m17 0h1m10 0h1m7 0h1m-108 1h1m25 0h1m14 0h1m7 0h2m40 0h1m11 0h1m7 0h1m-110 1h1m18 0h1m15 0h1m12 0h1m1 0h2m24 0h1m16 0h1m4 0h1m2 0h1m7 0h1m-113 1h2m13 0h1m9 0h1m18 0h1m8 0h1m5 0h1m6 0h1m3 0h1m1 0h1m2 0h1m31 0h1m8 0h1m1 0h1m-118 1h1m2 0h1m5 0h1m46 0h1m3 0h1m10 0h1m5 0h1m3 0h1m13 0h2m14 0h1m2 0h2m-113 1h1m3 0h1m11 0h1m26 0h1m18 0h1m24 0h1m8 0h2m12 0h1m-107 1h2m13 0h1m4 0h1m4 0h1m3 0h1m33 0h1m1 0h1m5 0h1m5 0h1m1 0h1m11 0h1m-86 1h1m32 0h2m4 0h2m2 0h1m1 0h1m11 0h2m1 0h1m2 0h1m4 0h1m28 0h1"/>
<path stroke="#322745" d="M6 0h1m4 0h2m5 0h2m1 0h1m10 0h1m3 0h1m8 0h1m2 0h1m5 0h1m4 0h1m18 0h1m11 0h1m16 0h1m7 0h1m-111 1h2m7 0h1m3 0h1m1 0h2m1 0h2m5 0h2m3 0h2m4 0h1m18 0h1m1 0h2m5 0h1m7 0h1m2 0h1m8 0h1m5 0h1m3 0h1m6 0h1m2 0h2m2 0h1m5 0h1m-118 1h1m11 0h3m5 0h2m2 0h1m4 0h3m8 0h1m19 0h1m1 0h1m3 0h1m12 0h1m2 0h1m3 0h1m3 0h2m1 0h1m2 0h1m21 0h1m-118 1h1m5 0h1m1 0h2m1 0h1m4 0h1m6 0h1m1 0h1m2 0h1m2 0h2m2 0h1m6 0h3m1 0h1m1 0h1m2 0h1m10 0h3m2 0h1m1 0h1m9 0h1m2 0h1m1 0h1m5 0h2m1 0h1m11 0h1m4 0h1m-111 1h2m13 0h1m10 0h1m2 0h1m4 0h1m2 0h1m11 0h1m15 0h1m15 0h2m7 0h2m3 0h1m7 0h1m1 0h1m11 0h1m-111 1h1m3 0h1m1 0h1m1 0h2m1 0h2m5 0h1m16 0h1m1 0h1m3 0h1m10 0h1m4 0h1m17 0h1m15 0h1m-82 1h3m4 0h1m16 0h1m2 0h1m6 0h1m2 0h1m4 0h1m6 0h1m16 0h1m22 0h1m4 0h3m-117 1h1m1 0h1m16 0h1m5 0h1m1 0h1m2 0h1m8 0h1m4 0h1m2 0h1m4 0h1m6 0h1m2 0h2m4 0h1m2 0h1m6 0h1m7 0h2m3 0h1m11 0h1m1 0h1m4 0h1m-111 1h1m2 0h1m3 0h1m3 0h1m6 0h1m3 0h1m7 0h1m1 0h1m3 0h1m3 0h1m11 0h2m23 0h2m2 0h1m1 0h1m3 0h1m22 0h1m-108 1h1m3 0h1m1 0h1m3 0h1m4 0h1m2 0h2m7 0h1m7 0h2m5 0h1m4 0h2m8 0h2m8 0h1m10 0h1m9 0h1m4 0h1m9 0h1m10 0h1m-111 1h2m1 0h1m3 0h1m1 0h1m2 0h2m1 0h2m6 0h1m3 0h1m6 0h1m8 0h2m2 0h1m10 0h2m8 0h1m3 0h1m3 0h1m5 0h1m4 0h1m2 0h1m15 0h1m3 0h1m-118 1h1m19 0h1m6 0h1m3 0h1m7 0h1m5 0h1m1 0h1m8 0h1m4 0h1m5 0h1m5 0h1m3 0h1m8 0h1m15 0h1m2 0h1m-106 1h2m9 0h1m2 0h2m5 0h1m1 0h1m4 0h1m11 0h3m2 0h1m1 0h1m3 0h1m5 0h1m1 0h1m5 0h1m4 0h1m4 0h2m10 0h3m9 0h1m10 0h1m-108 1h1m2 0h1m3 0h1m5 0h2m1 0h2m3 0h1m3 0h1m1 0h1m1 0h1m16 0h2m6 0h2m4 0h1m3 0h1m7 0h1m4 0h2m3 0h1m2 0h2m4 0h1m3 0h1m3 0h1m5 0h1m1 0h1m-110 1h1m3 0h1m9 0h1m1 0h1m6 0h1m1 0h1m2 0h1m1 0h1m2 0h1m2 0h1m3 0h1m9 0h1m3 0h1m6 0h1m3 0h1m15 0h1m19 0h1m3 0h1m7 0h1m-108 1h2m5 0h1m1 0h1m3 0h1m1 0h1m5 0h1m3 0h1m1 0h1m1 0h1m7 0h1m7 0h1m1 0h1m1 0h1m3 0h1m1 0h2m11 0h1m1 0h2m18 0h2m5 0h1m2 0h1m8 0h1m-116 1h1m2 0h1m2 0h2m4 0h1m4 0h2m7 0h1m4 0h1m3 0h2m9 0h1m2 0h1m10 0h1m6 0h1m5 0h1m4 0h1m1 0h1m9 0h1m4 0h1m9 0h1m4 0h1m7 0h1m-118 1h1m7 0h3m2 0h1m5 0h1m30 0h2m8 0h1m8 0h1m12 0h3m1 0h1m1 0h2m1 0h2m4 0h1m7 0h1m10 0h1m-117 1h2m6 0h1m6 0h1m1 0h2m1 0h2m2 0h1m1 0h1m3 0h1m1 0h2m5 0h2m4 0h1m29 0h2m2 0h1m6 0h1m11 0h1m8 0h1m-110 1h1m15 0h3m11 0h1m3 0h1m7 0h2m5 0h1m2 0h1m3 0h1m1 0h1m6 0h1m2 0h1m12 0h1m30 0h1m-110 1h1m3 0h1m2 0h1m5 0h1m4 0h1m11 0h1m14 0h1m31 0h1m21 0h1m9 0h1m-112 1h1m1 0h1m1 0h1m3 0h1m6 0h1m1 0h1m1 0h2m32 0h1m2 0h1m10 0h1m2 0h1m7 0h1m1 0h1m9 0h1m11 0h1m3 0h3m1 0h1m2 0h1m-115 1h1m1 0h1m1 0h4m1 0h1m6 0h1m10 0h1m15 0h1m2 0h1m2 0h1m14 0h2m3 0h1m7 0h2m8 0h1m1 0h1m5 0h1m10 0h2m2 0h3m6 0h1m-117 1h2m2 0h1m16 0h1m7 0h1m8 0h1m7 0h1m3 0h1m14 0h1m5 0h1m20 0h1m-95 1h1m17 0h1m10 0h1m11 0h1m2 0h1m34 0h1m25 0h1m4 0h1m-112 1h1m1 0h1m20 0h1m16 0h1m16 0h1m7 0h1m9 0h1m1 0h1m12 0h1m4 0h1m1 0h1m4 0h2m1 0h1m1 0h2m3 0h1m3 0h1m2 0h1m-119 1h1m1 0h1m3 0h1m10 0h1m3 0h1m1 0h1m22 0h1m2 0h1m2 0h2m8 0h1m10 0h1m-75 1h1m1 0h1m4 0h1m1 0h1m8 0h1m3 0h1m3 0h1m7 0h1m6 0h1m1 0h1m3 0h2m15 0h1m1 0h1m5 0h2m13 0h1m6 0h1m14 0h1m3 0h1m-114 1h1m10 0h1m2 0h3m1 0h1m1 0h1m4 0h1m1 0h3m13 0h1m7 0h1m10 0h1m2 0h1m6 0h1m7 0h1m6 0h1m9 0h1m4 0h1m3 0h1m2 0h1m-109 1h2m2 0h3m7 0h2m3 0h1m1 0h1m3 0h1m1 0h1m4 0h1m1 0h1m9 0h1m13 0h1m12 0h1m9 0h1m24 0h2m7 0h2m-118 1h1m8 0h1m8 0h1m1 0h1m6 0h1m9 0h1m2 0h1m1 0h1m6 0h1m3 0h1m8 0h1m2 0h1m9 0h1m6 0h1m3 0h2m3 0h1m1 0h1m26 0h1m-120 1h1m1 0h1m1 0h1m2 0h3m5 0h1m10 0h1m5 0h1m3 0h2m4 0h2m6 0h1m8 0h2m2 0h1m14 0h1m3 0h1m5 0h1m8 0h1m-98 1h4m10 0h1m4 0h1m1 0h2m1 0h1m1 0h1m5 0h1m9 0h1m1 0h1m9 0h1m1 0h1m8 0h1m1 0h1m8 0h1m6 0h1m2 0h1m4 0h1m4 0h1m1 0h1m20 0h1m-120 1h2m1 0h1m6 0h1m2 0h1m3 0h1m2 0h1m1 0h1m4 0h1m2 0h1m6 0h3m2 0h3m2 0h2m2 0h1m4 0h1m15 0h1m14 0h1m3 0h1m6 0h1m1 0h1m6 0h1m-108 1h1m1 0h1m4 0h1m2 0h1m5 0h3m26 0h1m1 0h2m10 0h1m4 0h1m3 0h1m11 0h1m4 0h1m10 0h1m14 0h1m-111 1h1m4 0h1m2 0h1m6 0h1m9 0h1m6 0h1m10 0h1m4 0h1m11 0h1m1 0h1m4 0h1m2 0h1m7 0h2m9 0h1m7 0h1m3 0h1m16 0h1m-113 1h2m2 0h1m3 0h2m3 0h1m2 0h1m8 0h1m2 0h1m5 0h1m6 0h2m1 0h2m2 0h1m6 0h1m6 0h1m2 0h1m9 0h4m1 0h1m2 0h1m5 0h1m15 0h1m-111 1h1m2 0h1m6 0h3m2 0h5m6 0h1m8 0h1m5 0h1m11 0h1m2 0h1m17 0h1m3 0h3m3 0h1m12 0h2m2 0h1m5 0h1m4 0h1m2 0h1m-119 1h2m15 0h1m1 0h2m3 0h1m3 0h1m14 0h1m4 0h1m3 0h3m6 0h1m6 0h3m1 0h1m3 0h1m2 0h1m4 0h1m-84 1h2m2 0h1m10 0h1m8 0h1m5 0h1m1 0h1m2 0h2m4 0h1m2 0h1m4 0h1m5 0h1m21 0h1m1 0h1m15 0h1m5 0h1m2 0h1m-101 1h1m1 0h2m1 0h2m4 0h1m2 0h1m1 0h2m7 0h2m8 0h1m8 0h2m2 0h1m4 0h1m5 0h2m8 0h1m13 0h1m6 0h2m5 0h1m3 0h1m3 0h1m5 0h1m-115 1h2m2 0h2m1 0h2m7 0h2m10 0h1m1 0h1m1 0h1m3 0h1m2 0h2m3 0h1m6 0h1m2 0h1m1 0h1m7 0h1m3 0h1m2 0h1m5 0h1m2 0h1m2 0h1m1 0h1m2 0h1m1 0h1m1 0h1m2 0h1m9 0h1m2 0h1m-108 1h1m1 0h1m14 0h1m11 0h1m7 0h1m1 0h2m1 0h1m4 0h1m3 0h3m11 0h1m1 0h1m6 0h1m31 0h1m1 0h1m-108 1h1m3 0h2m9 0h1m6 0h1m4 0h1m1 0h1m7 0h1m6 0h2m52 0h1m6 0h1m2 0h1m5 0h1m-119 1h2m1 0h1m3 0h2m13 0h1m9 0h1m10 0h1m7 0h2m11 0h1m1 0h1m5 0h1m6 0h1m29 0h1m1 0h1m5 0h2m-117 1h2m1 0h1m1 0h1m13 0h1m1 0h1m4 0h1m2 0h1m9 0h2m9 0h1m3 0h1m14 0h2m2 0h1m12 0h1m-88 1h1m44 0h1m1 0h1m39 0h1m8 0h1m5 0h1m15 0h1m-120 1h1m19 0h2m8 0h1m39 0h1m30 0h1m13 0h1m1 0h1m-112 1h1m16 0h1m19 0h2m2 0h2m4 0h1m17 0h1m17 0h1m18 0h1m-109 1h1m26 0h1m3 0h1m13 0h1m20 0h1m5 0h2m17 0h1m13 0h1m13 0h1m-114 1h1m11 0h2m5 0h1m24 0h2m3 0h1m19 0h1m3 0h1m19 0h1m7 0h1m-108 1h1m1 0h2m15 0h1m3 0h1m1 0h1m19 0h1m29 0h1m16 0h1m20 0h1m1 0h3m-118 1h1m3 0h1m18 0h1m2 0h1m1 0h2m1 0h1m13 0h1m1 0h1m19 0h1m4 0h1m4 0h1m31 0h1m-108 1h1m2 0h1m13 0h1m3 0h1m2 0h3m2 0h1m20 0h1m16 0h1m2 0h1m23 0h1m3 0h1m-97 1h2m16 0h1m1 0h2m1 0h2m17 0h1m6 0h1m11 0h1m1 0h1m2 0h1m2 0h1m22 0h1m12 0h2m-108 1h2m1 0h1m11 0h1m5 0h1m5 0h1m10 0h2m4 0h1m19 0h1m11 0h1m2 0h1m16 0h1m1 0h1m2 0h1m-102 1h3m1 0h1m9 0h1m9 0h1m1 0h2m10 0h1m1 0h1m2 0h4m5 0h1m9 0h2m5 0h1m6 0h1m10 0h1m1 0h1m10 0h1m4 0h1m-108 1h1m15 0h1m8 0h1m3 0h1m9 0h1m6 0h1m1 0h1m4 0h2m10 0h1m7 0h2m17 0h3m2 0h2m11 0h1m-110 1h1m6 0h1m7 0h1m3 0h2m2 0h2m3 0h1m1 0h1m9 0h1m9 0h1m11 0h1m3 0h1m10 0h1m2 0h1m8 0h1m5 0h1m1 0h1m17 0h2m-119 1h1m4 0h1m15 0h1m7 0h2m1 0h1m21 0h4m5 0h1m26 0h1m15 0h1m1 0h1m1 0h1m-106 1h1m6 0h1m2 0h1m2 0h1m9 0h1m6 0h2m14 0h1m2 0h1m7 0h1m12 0h1m13 0h2m6 0h2m15 0h1m-112 1h1m7 0h2m9 0h1m3 0h1m2 0h1m2 0h1m4 0h1m1 0h2m4 0h1m6 0h1m6 0h1m10 0h1m4 0h2m36 0h1m4 0h1m-119 1h2m5 0h1m8 0h1m8 0h1m14 0h2m7 0h1m3 0h2m10 0h1m16 0h1m1 0h1m2 0h1m12 0h1m7 0h1m4 0h1m2 0h1m-117 1h2m5 0h1m4 0h1m4 0h1m2 0h1m1 0h3m2 0h1m1 0h1m14 0h2m3 0h1m35 0h1m13 0h2m-95 1h4m1 0h1m1 0h2m5 0h1m1 0h1m5 0h2m1 0h1m3 0h2m8 0h1m4 0h1m12 0h1m5 0h1m8 0h1m5 0h1m9 0h1m2 0h1m4 0h2m14 0h1m-119 1h1m5 0h2m2 0h1m5 0h1m2 0h1m2 0h1m1 0h1m13 0h1m3 0h1m35 0h1m19 0h1m7 0h1m8 0h1m2 0h1m-119 1h1m2 0h1m2 0h1m2 0h1m4 0h2m1 0h1m23 0h1m10 0h1m16 0h1m1 0h1m1 0h2m3 0h1m1 0h1m37 0h1m-119 1h1m1 0h5m2 0h1m1 0h1m14 0h1m25 0h1m2 0h1m13 0h1m10 0h2m8 0h1m1 0h1m2 0h1m4 0h2m2 0h1m6 0h1m2 0h1m3 0h1m1 0h1m-121 1h1m3 0h1m5 0h2m2 0h1m1 0h1m2 0h1m4 0h1m3 0h1m4 0h1m1 0h1m2 0h1m4 0h2m2 0h1m8 0h1m1 0h3m1 0h1m7 0h1m2 0h1m2 0h1m3 0h1m13 0h1m10 0h2m12 0h1m-115 1h1m4 0h1m2 0h1m9 0h1m7 0h1m1 0h2m3 0h1m5 0h1m9 0h1m1 0h1m2 0h1m2 0h2m6 0h1m13 0h1m5 0h1m13 0h1m1 0h1m3 0h1m4 0h1m-115 1h1m5 0h2m5 0h1m6 0h1m8 0h1m1 0h5m1 0h1m3 0h1m5 0h1m16 0h1m2 0h1m2 0h1m8 0h2m2 0h1m27 0h2m-107 1h1m3 0h1m1 0h1m11 0h1m8 0h1m1 0h1m1 0h1m7 0h1m5 0h1m6 0h1m4 0h1m11 0h2m5 0h1m1 0h1m1 0h1m1 0h1m14 0h1m2 0h1m2 0h1m-111 1h1m2 0h1m4 0h4m15 0h1m2 0h1m5 0h1m4 0h1m8 0h1m21 0h1m8 0h1m1 0h1m16 0h1m1 0h1m3 0h1m-100 1h2m9 0h2m3 0h1m2 0h1m2 0h1m14 0h1m4 0h1m3 0h1m2 0h1m20 0h2m11 0h1m2 0h1m13 0h1m10 0h1m-118 1h1m18 0h1m4 0h2m1 0h1m24 0h2m1 0h1m7 0h1m5 0h1m2 0h1m3 0h1m15 0h2m1 0h1m9 0h1m1 0h1m1 0h1m1 0h1m1 0h1m-95 1h1m3 0h1m4 0h1m1 0h1m9 0h2m3 0h1m8 0h1m22 0h1m17 0h1m1 0h1m5 0h1m-104 1h1m2 0h2m18 0h2m2 0h2m1 0h1m10 0h1m29 0h2m1 0h1m1 0h1m12 0h2m11 0h1m-104 1h2m5 0h1m12 0h1m6 0h1m15 0h1m1 0h1m2 0h2m1 0h3m23 0h1m34 0h1m-111 1h1m2 0h1m15 0h1m23 0h1m23 0h1m1 0h1m4 0h1m20 0h1m6 0h1m3 0h2m10 0h1m-98 1h1m3 0h1m1 0h1m16 0h1m46 0h1m3 0h1m16 0h1m-115 1h3m1 0h1m17 0h1m3 0h1m19 0h2m1 0h1m18 0h1m3 0h1m12 0h1m8 0h1m4 0h1m-77 1h1m19 0h2m1 0h1m1 0h1m27 0h1m25 0h1m3 0h2m5 0h1m2 0h1m-115 1h1m1 0h1m21 0h1m21 0h1m18 0h1m6 0h1m1 0h1m14 0h1m4 0h1m11 0h1m5 0h1m-112 1h1m16 0h1m25 0h1m21 0h3m2 0h1m5 0h1m12 0h1m9 0h1m7 0h1m4 0h1m-96 1h1m1 0h1m2 0h1m1 0h2m15 0h1m4 0h1m42 0h1m11 0h1m-103 1h2m17 0h1m5 0h2m15 0h4m1 0h2m1 0h1m20 0h1m2 0h1m16 0h1m4 0h1m2 0h1m3 0h1m11 0h1m2 0h1m-121 1h1m24 0h1m2 0h1m68 0h1m2 0h1m16 0h2m-119 1h1m20 0h4m2 0h1m18 0h3m20 0h1m40 0h2m8 0h1m-120 1h1m19 0h1m4 0h1m19 0h1m1 0h1m24 0h1m12 0h1m1 0h1m8 0h2m2 0h1m11 0h1m2 0h1m-115 1h2m21 0h1m1 0h2m21 0h1m2 0h1m13 0h2m2 0h1m17 0h1m13 0h1m13 0h2m-118 1h1m17 0h2m24 0h1m7 0h1m17 0h1m4 0h1m23 0h1m4 0h2m3 0h1m5 0h1m1 0h1m-98 1h2m3 0h1m2 0h1m21 0h3m16 0h1m3 0h1m25 0h1m5 0h1m6 0h1m-113 1h2m16 0h1m27 0h1m3 0h1m16 0h1m5 0h1m24 0h2m-98 1h1m1 0h2m14 0h1m1 0h1m25 0h1m2 0h2m21 0h1m2 0h1m8 0h1m4 0h1m6 0h1m-99 1h2m15 0h1m2 0h1m1 0h1m2 0h1m1 0h1m1 0h1m35 0h1m4 0h1m6 0h1m9 0h1m8 0h1m5 0h1m11 0h1m2 0h3m-102 1h2m7 0h1m1 0h1m1 0h1m11 0h1m1 0h1m3 0h1m16 0h1m10 0h1m11 0h1m6 0h1m-98 1h4m19 0h2m2 0h2m16 0h2m2 0h1m3 0h1m13 0h1m1 0h2m35 0h1m1 0h1m7 0h1m3 0h1m-120 1h1m5 0h2m17 0h1m6 0h2m4 0h1m8 0h1m1 0h1m22 0h1m5 0h1m20 0h1m10 0h1m5 0h2m-109 1h1m5 0h1m4 0h2m3 0h1m12 0h1m1 0h1m6 0h1m19 0h1m5 0h1m6 0h1m6 0h1m5 0h1m12 0h1m-107 1h1m5 0h1m1 0h1m1 0h1m5 0h1m2 0h1m5 0h1m2 0h1m5 0h1m12 0h1m1 0h2m2 0h1m1 0h1m10 0h1m7 0h1m2 0h2m9 0h1m10 0h1m6 0h1m3 0h1m-109 1h1m2 0h2m8 0h1m2 0h1m7 0h2m6 0h1m5 0h1m3 0h2m1 0h1m1 0h1m3 0h1m20 0h1m24 0h1m-101 1h1m5 0h1m1 0h1m2 0h4m2 0h1m2 0h1m3 0h1m3 0h1m3 0h1m10 0h2m16 0h1m6 0h1m14 0h1m6 0h2m4 0h1m11 0h1m-107 1h1m1 0h1m2 0h1m4 0h1m2 0h2m3 0h1m10 0h1m10 0h1m3 0h1m1 0h1m3 0h5m1 0h1m10 0h1m6 0h1m17 0h1m8 0h1m15 0h1m-117 1h1m2 0h1m1 0h1m2 0h1m3 0h1m1 0h1m1 0h1m2 0h1m6 0h2m1 0h2m7 0h1m9 0h1m4 0h1m1 0h2m19 0h1m3 0h1m20 0h1m-100 1h1m7 0h1m1 0h1m1 0h1m4 0h1m2 0h1m2 0h1m20 0h1m2 0h1m1 0h1m2 0h1m2 0h1m3 0h1m1 0h1m4 0h1m2 0h1m2 0h1m4 0h1m6 0h2m1 0h1m3 0h1m6 0h1m8 0h1m1 0h2m-112 1h1m8 0h2m1 0h1m4 0h1m8 0h1m4 0h1m7 0h1m1 0h1m1 0h1m5 0h1m1 0h2m1 0h1m3 0h2m17 0h1m7 0h1m2 0h1m14 0h1m4 0h1m2 0h1m-114 1h1m4 0h1m3 0h1m1 0h1m4 0h1m3 0h1m1 0h1m4 0h1m3 0h1m6 0h1m2 0h1m1 0h1m2 0h1m2 0h1m9 0h1m9 0h1m1 0h1m2 0h2m2 0h1m3 0h1m9 0h1m-94 1h2m2 0h1m2 0h1m1 0h1m6 0h2m1 0h1m6 0h1m4 0h1m6 0h1m3 0h2m3 0h1m1 0h1m1 0h1m10 0h1m3 0h1m1 0h2m1 0h1m2 0h1m27 0h1m8 0h1m-103 1h3m1 0h2m4 0h2m1 0h1m1 0h2m2 0h2m1 0h1m10 0h1m1 0h1m8 0h1m1 0h2m8 0h1m4 0h1m5 0h1m15 0h2m15 0h1m1 0h1m6 0h1m-120 1h2m1 0h2m1 0h1m4 0h1m1 0h2m5 0h1m5 0h1m7 0h1m6 0h1m5 0h1m2 0h1m1 0h1m5 0h2m2 0h1m19 0h1m17 0h1m7 0h1m-99 1h1m4 0h1m2 0h1m1 0h1m4 0h1m5 0h1m6 0h1m7 0h1m3 0h1m5 0h1m8 0h2m4 0h1m2 0h1m2 0h1m2 0h1m17 0h1m8 0h1m-105 1h2m5 0h1m1 0h1m6 0h1m3 0h2m4 0h4m13 0h1m4 0h1m1 0h1m14 0h1m4 0h1m2 0h1m21 0h1m3 0h1m7 0h2m-112 1h2m5 0h1m1 0h1m9 0h1m3 0h2m2 0h1m1 0h1m17 0h1m2 0h1m6 0h1m12 0h1m5 0h1m17 0h1m9 0h1m2 0h2m3 0h1m6 0h1m-110 1h1m4 0h1m14 0h2m14 0h2m4 0h1m14 0h2m4 0h1m1 0h1m4 0h1m11 0h1m5 0h1m7 0h1m-107 1h1m1 0h3m18 0h3m6 0h1m22 0h1m8 0h1m2 0h1m3 0h1m6 0h1m19 0h1m5 0h1m4 0h2m6 0h1m1 0h1m-116 1h2m1 0h1m10 0h1m1 0h1m2 0h1m2 0h1m3 0h2m20 0h2m17 0h1m1 0h1m3 0h1m11 0h1m10 0h1m-98 1h1m1 0h1m14 0h1m1 0h1m7 0h1m16 0h1m19 0h1m9 0h1m40 0h1m1 0h1m-118 1h2m15 0h3m2 0h1m28 0h1m20 0h1m24 0h1m-99 1h3m15 0h1m1 0h1m2 0h1m20 0h1m22 0h1m7 0h1m18 0h2m2 0h1m-101 1h1m19 0h1m2 0h2m1 0h1m17 0h1m23 0h1m8 0h1m7 0h2m6 0h2m20 0h1m3 0h1m-95 1h1m67 0h1m12 0h1m-107 1h2m24 0h1m42 0h1m4 0h2m25 0h1m-99 1h1m17 0h2m5 0h1m21 0h2m18 0h1m41 0h1m2 0h1m1 0h2m-69 1h2m19 0h1m22 0h1m6 0h3m13 0h1m1 0h2m-121 1h1m21 0h2m46 0h1m1 0h1m29 0h1m1 0h1m7 0h2m2 0h1m-116 1h1m1 0h1m18 0h1m2 0h1m1 0h1m21 0h2m22 0h1m34 0h2m3 0h2m2 0h1m-118 1h2m25 0h1m18 0h1m2 0h1m19 0h1m35 0h1m13 0h1m-93 1h1m21 0h3m18 0h1m27 0h1m15 0h1m-115 1h1m2 0h1m67 0h1m2 0h1m33 0h1m2 0h1m2 0h1m-114 1h1m24 0h2m22 0h2m42 0h1m4 0h1m3 0h2m1 0h1m1 0h1m5 0h1m-114 1h1m1 0h1m19 0h1m22 0h1m4 0h1m22 0h2m18 0h2m5 0h1m15 0h1m1 0h1m-117 1h1m18 0h1m2 0h1m24 0h1m24 0h1m17 0h2m2 0h1m5 0h2m4 0h1m5 0h1m2 0h1m-119 1h1m1 0h1m44 0h3m20 0h1m1 0h1m29 0h1m-103 1h2m25 0h1m19 0h1m21 0h1m33 0h1m10 0h1m-111 1h1m18 0h1m2 0h1m18 0h1m2 0h1m1 0h1m61 0h1m-113 1h3m78 0h1m15 0h2m11 0h2m-111 1h1m1 0h1m42 0h1m23 0h2m2 0h1m17 0h1m2 0h1m1 0h1m10 0h1m7 0h2m2 0h1m-119 1h1m20 0h3m49 0h1m16 0h1m7 0h2m18 0h1m-121 1h1m3 0h2m18 0h1m21 0h2m26 0h1m1 0h1m14 0h1m1 0h1m1 0h1m4 0h1m5 0h1m-105 1h1m20 0h2m4 0h1m23 0h1m42 0h1m13 0h1m3 0h1m-115 1h1m20 0h1m1 0h1m4 0h1m42 0h1m45 0h1m-99 1h1m1 0h1m3 0h3m18 0h1m1 0h1m4 0h2m19 0h1m1 0h1m13 0h1m2 0h2m2 0h1m2 0h1m1 0h3m14 0h1m-119 1h1m3 0h1m13 0h1m9 0h1m15 0h1m19 0h1m11 0h1m10 0h1m7 0h1m16 0h2m-115 1h1m20 0h1m1 0h1m3 0h1m1 0h1m14 0h1m1 0h1m1 0h1m7 0h1m8 0h1m7 0h1m2 0h1m2 0h1m11 0h1m2 0h1m15 0h1m-111 1h2m27 0h1m13 0h1m23 0h1m1 0h1m6 0h1m1 0h1m14 0h1m2 0h1m13 0h1m1 0h1m-108 1h1m5 0h2m4 0h2m2 0h2m8 0h2m5 0h1m24 0h4m2 0h1m11 0h1m2 0h1m2 0h1m4 0h3m8 0h1m1 0h1m3 0h1m2 0h1m-104 1h2m1 0h1m1 0h1m4 0h1m2 0h1m4 0h2m14 0h1m7 0h1m4 0h1m6 0h1m2 0h2m14 0h1m3 0h1m19 0h2m10 0h1m-115 1h1m12 0h1m12 0h1m2 0h1m5 0h2m3 0h1m2 0h1m4 0h1m1 0h2m4 0h2m6 0h1m5 0h1m1 0h1m12 0h1m1 0h1m6 0h1m13 0h1m6 0h1m-113 1h1m9 0h2m3 0h1m7 0h1m4 0h1m16 0h2m2 0h1m9 0h1m6 0h1m3 0h1m11 0h2m29 0h1m-119 1h1m3 0h1m7 0h1m1 0h1m2 0h3m1 0h1m3 0h1m4 0h2m6 0h1m29 0h1m6 0h1m11 0h1m3 0h1m4 0h1m11 0h1"/>
</g></g></g>
<clipPath id="cp3"><rect x="466" y="835" width="637.8" height="318.9"/></clipPath>
<g clip-path="url(#cp3)"><g filter="url(#soft)"><g transform="translate(466,835) scale(5.27107,1.99312) translate(0,.5)" shape-rendering="crispEdges" fill="none" stroke-width="1">
<rect x="-1" y="-1.5" width="123" height="162" fill="#2b1e34"/>
<path stroke="#f1f9c6" d="M22 144h1"/>
<path stroke="#daf0b9" d="M13 39h1m-3 5h1m24 19h1m-25 1h1m0 3h1m2 22h1m-6 7h1m4 2h1m22 3h1m-24 5h1m1 1h1m-7 24h1m6 3h1m-8 1h1m-1 1h1m-2 1h1m1 2h1m3 0h1m-9 4h1m10 2h1"/>
<path stroke="#c2e8b0" d="M13 43h1m3 20h1m-7 1h1m27 2h1m-23 1h1m-3 1h1m-1 3h1m-4 2h1m4 18h1m-7 1h1m4 0h1m-7 1h1m2 0h1m-5 1h1m4 0h1m2 0h1m-8 1h1m-1 1h1m3 0h1m1 1h1m1 1h1m-3 2h2m-7 2h1m5 0h1m-1 1h1m-1 1h1m-7 1h1m5 1h1m-5 2h1m-2 1h1m4 0h1m18 14h1m-24 3h1m-3 1h1m1 0h1m5 0h1m0 1h1m-7 2h1m4 2h1m-4 1h1m-3 1h1m26 3h1m-28 1h1m3 0h1m-4 1h1m4 0h1m-7 1h1m3 0h1m-2 1h1m1 0h1m17 0h1m-28 1h1m2 0h1m-2 1h1m-1 1h1m4 0h1m1 0h2m-12 1h1m4 0h1m0 5h1m-2 1h1"/>
<path stroke="#a8dfa8" d="M13 21h1m21 0h1m-23 1h1m-2 18h1m2 0h1m0 3h1m-5 3h2m0 1h1m1 14h1m-3 1h2m-1 1h2m0 1h1m-7 1h1m1 0h1m-1 1h1m1 0h1m1 0h1m-7 1h1m4 0h1m17 1h1m-23 1h1m1 0h1m2 0h1m-7 2h1m3 1h1m-1 2h1m-3 1h1m0 14h1m-4 1h1m1 0h1m-4 1h1m1 2h1m23 1h1m1 0h1m-28 1h1m2 0h1m2 0h1m1 0h1m22 1h1m-31 1h1m2 0h1m2 0h1m13 0h2m-2 1h1m-24 1h1m3 0h1m2 0h1m2 1h1m14 0h1m-23 1h1m4 0h1m1 0h1m-4 1h1m-1 2h1m20 0h1m-26 1h1m2 0h1m1 0h1m1 0h1m-11 1h1m1 0h1m-2 1h1m0 1h2m2 0h2m19 0h1m-24 1h2m-1 2h2m0 14h1m0 1h1m-1 1h1m-7 2h1m3 0h1m4 0h1m-2 1h1m1 0h1m-13 1h1m10 1h1m-13 1h1m1 0h1m1 1h1m7 0h1m-12 2h1m7 0h2m2 0h1m-1 1h1m-11 1h2m8 0h1m-12 1h1m1 0h1m2 1h1m-2 2h1m2 0h1m1 0h1m-12 1h1m-1 1h1m2 2h1m3 0h1m-6 2h1m8 0h1m-10 1h1m3 0h1m-3 1h1m0 1h1m3 0h1"/>
<path stroke="#91d6a4" d="M14 22h1m-2 16h1m1 1h1m-5 1h1m1 0h1m-2 1h2m-2 1h1m3 0h1m-6 1h1m2 1h2m19 0h3m-25 1h1m1 0h1m-2 15h2m19 0h1m0 1h1m-26 1h2m-1 1h1m0 1h1m2 0h1m-5 2h1m22 0h1m-26 1h1m1 0h1m23 0h1m-27 1h2m-2 1h1m1 2h2m2 0h2m-7 1h2m1 0h1m2 0h1m20 0h1m-25 1h3m-1 1h1m-3 1h1m-2 13h1m1 0h1m0 2h1m18 0h2m-27 2h1m4 0h1m20 0h1m2 0h1m-31 1h1m5 0h1m2 0h1m-6 1h1m4 0h2m21 0h1m-33 1h1m-1 1h1m2 0h1m18 0h1m-18 1h1m4 0h1m15 0h1m-26 1h4m3 0h1m23 0h1m-34 1h1m2 0h2m28 0h1m-28 1h2m0 1h1m1 0h1m12 0h1m1 0h1m6 0h1m1 0h1m-34 1h1m2 0h4m3 0h1m20 0h1m-32 1h1m1 0h4m20 0h1m-27 1h1m3 0h1m4 0h2m12 0h1m-17 1h1m1 0h1m20 0h1m-30 1h1m2 0h1m-1 1h1m3 0h1m15 0h1m-20 1h1m19 0h1m-24 1h1m4 1h1m-4 14h1m23 0h1m-26 1h3m-1 1h3m1 0h1m-7 1h1m-1 1h1m1 0h1m3 0h2m16 0h1m-24 1h1m5 0h1m15 0h1m-27 1h1m49 0h1m-52 1h1m2 0h1m4 0h1m3 0h1m9 0h1m-22 1h2m2 0h1m2 0h1m4 0h2m-14 1h1m1 0h1m1 0h1m3 0h2m16 0h1m-28 1h1m2 0h1m24 0h2m1 0h1m1 0h1m-28 1h1m2 0h2m1 0h1m-7 1h1m-7 1h1m1 0h1m1 0h1m2 0h1m2 0h1m1 0h1m1 0h2m8 0h1m-25 1h1m2 1h1m2 0h1m7 0h1m18 0h1m-35 1h1m4 0h2m2 0h2m-9 1h2m2 0h1m1 0h1m2 0h1m20 0h1m-31 1h1m1 0h2m3 0h1m1 0h1m1 0h1m15 0h1m-20 1h1m23 0h1m-33 1h3m1 0h2m6 0h1m-7 1h2m1 0h1m14 0h1m7 0h1m-33 1h1m4 0h1m2 0h1m3 0h1m20 0h1m-33 1h2m4 0h1m-5 1h4m4 0h1m14 0h1m-25 1h1m1 0h1m4 0h1m21 0h1m-27 1h1m4 0h1m16 0h1m-25 1h1m22 0h1m-21 1h2"/>
<path stroke="#7acea4" d="M57 36h1m-44 2h1m18 0h1m-20 2h1m-4 1h1m-1 1h1m2 0h2m-2 1h2m17 0h1m-22 1h1m2 2h1m-3 1h1m21 11h1m-23 2h1m0 1h1m61 0h1m-61 1h1m-3 2h2m23 0h1m-28 1h1m3 0h1m-6 1h1m2 0h1m1 0h1m16 0h1m2 0h1m1 1h1m-27 1h2m3 0h1m20 0h1m-26 1h1m1 0h2m42 0h1m-50 1h3m2 0h1m21 0h1m1 0h1m-26 1h1m19 0h1m2 0h1m-22 1h1m16 0h1m1 0h1m-25 1h1m1 0h1m-2 1h1m1 0h1m0 1h1m21 12h1m-24 1h1m-3 1h2m1 0h1m23 0h1m18 0h1m-42 1h1m-6 1h1m1 0h3m16 0h1m4 0h1m1 0h1m-28 1h2m2 0h1m45 0h1m-53 1h1m2 0h1m1 0h1m22 0h1m-25 1h2m15 0h2m-22 1h2m17 0h1m2 0h1m6 0h1m-27 1h2m2 0h1m21 0h1m-34 1h1m1 0h2m25 0h1m-29 1h1m25 0h2m-27 1h1m4 0h1m1 0h2m17 0h1m2 0h1m-32 1h1m1 0h1m1 0h2m17 0h1m-23 1h1m1 0h1m3 0h1m16 0h1m4 0h1m25 0h1m-54 1h1m5 1h1m16 0h1m6 0h1m-26 1h1m18 0h1m3 0h1m-29 1h1m2 0h1m18 0h1m4 0h1m-26 1h1m2 0h1m2 0h1m18 0h1m-26 1h1m2 0h1m-6 1h1m27 0h2m-3 1h1m-26 1h3m-2 1h1m0 13h3m18 0h1m-18 1h1m17 0h1m2 0h1m-29 1h2m20 0h1m2 0h1m-27 1h1m3 0h3m3 0h1m15 0h1m18 0h1m3 0h1m-50 1h2m1 0h1m1 0h2m4 0h1m-13 1h1m2 0h1m1 0h1m22 0h1m15 0h1m33 0h1m-77 1h3m2 0h1m1 0h1m16 0h1m6 0h1m-33 1h1m2 0h2m2 0h1m14 0h1m7 0h1m19 0h1m-53 1h1m2 0h1m2 0h1m17 0h1m5 0h1m1 0h1m-29 1h1m1 0h1m5 0h1m1 0h1m7 0h1m2 0h1m3 0h1m-29 1h2m2 0h1m2 0h1m-9 1h4m1 0h1m5 0h1m2 0h1m13 0h1m-30 1h1m2 0h1m4 0h1m4 0h1m20 0h2m-34 1h1m6 0h2m1 0h1m11 0h1m12 0h1m-35 1h1m4 0h2m5 0h1m10 0h1m21 0h1m-48 1h1m7 0h1m1 0h2m19 0h1m-32 1h4m10 0h1m7 0h1m3 0h1m5 0h1m3 0h1m-31 1h1m17 0h1m-25 1h1m6 0h1m6 0h1m19 0h1m-30 1h2m1 0h1m1 0h1m1 0h1m40 0h1m-47 1h2m1 0h1m20 0h1m21 0h1m-52 1h2m5 0h1m3 0h1m15 0h1m-28 1h1m5 0h1m1 0h1m1 0h1m11 0h1m3 0h1m-28 1h1m2 0h1m1 0h1m3 0h1m2 0h1m15 0h1m2 0h2m-26 1h1m16 0h1m2 0h1m-21 1h2m16 0h1m-24 1h1m1 0h1m2 0h1m1 0h1m18 0h1m1 0h1m-22 1h1m18 0h1"/>
<path stroke="#69c3a3" d="M34 21h1m-22 2h1m-2 16h1m1 0h1m-1 2h2m19 1h1m-24 1h1m20 1h1m-23 1h2m1 0h1m19 0h1m-21 1h1m42 11h1m-21 2h1m-26 1h1m-1 1h1m2 0h1m18 0h1m24 0h1m-47 1h1m3 0h1m40 0h1m-48 1h1m1 0h2m20 0h1m-4 1h1m3 0h1m-27 1h1m3 0h2m1 0h1m17 0h1m19 0h1m-46 1h1m21 0h1m4 0h2m-25 1h2m18 0h1m4 0h1m-26 1h1m1 0h1m18 0h1m-1 1h1m-23 1h1m3 0h1m14 0h1m-23 1h1m25 0h1m1 0h1m-5 1h1m2 1h1m19 0h1m-45 1h1m22 13h1m1 0h1m-5 1h1m1 0h3m-3 1h1m-25 1h1m1 0h2m-5 1h1m1 0h1m18 0h1m6 0h1m1 0h1m-30 1h1m5 0h1m13 0h1m4 0h1m-21 1h1m15 0h1m7 0h1m-31 1h2m22 0h1m3 0h1m22 0h1m-47 1h1m1 0h1m-6 1h1m3 0h2m15 0h1m4 0h2m-28 1h1m3 0h1m20 0h1m2 0h1m15 0h2m-51 1h1m5 0h2m23 0h1m-21 1h1m20 0h1m-32 1h1m1 0h1m6 0h1m14 0h1m7 0h1m15 0h1m-50 1h1m1 0h1m2 0h1m21 0h2m24 0h1m-31 1h1m2 0h1m2 0h1m3 0h1m19 0h1m-47 1h1m2 0h1m15 0h1m6 0h1m-31 1h2m1 0h1m-1 1h1m19 0h1m3 0h1m-7 1h1m5 0h1m-25 1h1m1 0h1m20 0h1m-23 3h1m22 13h1m-27 1h1m5 0h1m19 0h1m-28 1h1m5 0h1m20 0h1m-2 1h1m1 0h1m-22 1h1m18 0h1m1 0h3m-33 1h1m27 0h1m-28 1h1m5 0h2m3 0h1m20 0h2m20 0h1m-55 1h1m4 0h1m4 0h1m11 0h1m1 0h1m4 0h1m3 0h1m-25 1h1m1 0h2m14 0h1m5 0h1m9 0h1m4 0h1m-47 1h1m2 0h1m1 0h2m14 0h1m1 0h1m-21 1h1m5 0h1m16 0h1m1 0h1m19 0h1m-46 1h1m1 0h2m2 0h2m12 0h1m8 0h1m34 0h1m-65 1h1m5 0h1m9 0h1m2 0h1m3 0h1m5 0h1m-34 1h1m1 0h1m2 0h1m2 0h1m10 0h1m4 0h2m1 0h1m-25 1h1m19 0h2m1 0h1m1 0h2m1 0h1m-30 1h1m3 0h1m1 0h2m11 0h1m3 0h1m6 0h1m-35 1h1m11 0h1m12 0h1m2 0h1m-18 1h1m12 0h1m3 0h1m4 0h1m-31 1h1m3 0h1m3 0h1m12 0h1m2 0h1m1 0h1m3 0h2m-23 1h1m13 0h1m1 0h1m1 0h2m-31 1h2m3 0h1m3 0h1m1 0h2m8 0h2m3 0h1m3 0h1m2 0h1m-13 1h1m5 0h2m1 0h1m-29 1h2m5 0h1m19 0h1m22 0h1m-51 1h2m5 0h1m14 0h1m-22 1h1m3 0h1m1 0h1m13 0h1m4 0h2m20 0h1m-50 1h1m5 0h2m19 0h1m-27 1h1m2 0h1m3 0h2m14 0h1m-19 1h1m-3 1h2m-3 1h1"/>
<path stroke="#5cb7a3" d="M78 17h1m-23 2h1m-23 1h2m-22 3h1m19 13h2m-1 1h2m-2 1h1m-2 1h1m0 1h3m41 0h1m-64 1h1m-4 1h1m19 0h1m21 0h1m2 0h1m-22 1h1m-25 1h1m20 0h1m1 1h1m-1 13h1m-2 1h1m24 0h1m-28 1h2m2 0h1m17 0h1m-43 1h1m43 0h1m-25 1h1m2 0h4m-7 1h2m2 0h2m15 0h1m-45 1h1m27 0h1m-6 1h2m3 0h1m20 0h1m-4 1h1m2 0h1m-27 1h1m3 0h1m17 0h1m-23 1h1m5 0h1m-29 1h1m22 0h1m1 0h1m2 0h1m15 0h2m-43 1h1m1 0h1m18 0h1m2 0h1m-26 2h1m23 0h1m19 0h1m-41 1h1m16 0h3m-25 2h1m22 12h1m3 1h1m-6 1h2m2 0h1m15 0h1m7 0h1m-24 1h1m17 0h1m-40 1h1m15 0h1m2 0h1m-7 2h1m2 0h2m2 0h1m-29 1h1m23 0h1m2 0h1m21 0h1m-45 1h1m21 0h1m21 1h1m2 0h1m16 0h1m-71 1h1m9 1h1m11 0h1m1 0h1m4 0h1m1 0h1m1 0h1m10 0h1m-40 1h1m16 0h1m10 0h1m-23 1h1m16 0h1m1 0h1m19 1h1m-42 1h1m13 0h1m9 0h1m17 0h1m20 0h1m-63 1h1m19 0h1m14 0h1m-45 1h1m20 0h1m3 0h1m3 0h1m-31 1h1m23 0h1m1 0h2m-23 1h1m4 0h1m16 0h1m3 0h1m-30 1h1m28 0h1m-24 1h2m-4 1h2m19 0h1m22 11h1m0 1h2m0 2h1m-46 1h1m16 0h1m1 0h1m18 0h1m3 0h1m23 0h1m-50 1h1m5 0h1m-22 1h1m14 0h2m4 0h2m-9 1h3m2 0h1m14 0h1m2 0h1m6 0h1m-32 1h1m1 0h2m5 0h1m15 0h1m23 0h1m-64 1h1m17 0h1m1 0h1m1 0h1m-24 1h1m15 0h1m2 0h2m3 0h1m15 0h1m-25 1h1m2 0h1m-7 1h2m5 0h1m-19 1h1m16 0h1m2 0h1m-8 1h2m8 0h2m15 0h1m45 0h1m-90 1h1m13 0h1m4 0h1m3 0h1m21 0h1m-54 1h1m13 0h2m7 0h3m9 0h2m-38 1h1m5 0h1m22 0h1m1 0h1m-30 1h1m13 0h1m15 0h1m1 0h1m-35 1h1m22 0h2m1 0h1m4 0h1m1 0h1m11 0h1m-34 1h1m12 0h1m8 0h1m23 0h1m-45 1h2m7 0h2m2 0h2m8 0h1m-13 1h1m0 1h3m1 0h2m3 0h1m-11 1h1m10 0h1m12 0h1m-49 1h1m22 0h2m5 0h1m4 0h1m-4 1h1m-26 1h1m4 0h1m21 0h1m15 0h1m-18 1h1m15 0h1m-20 1h1m1 1h1m-28 2h1"/>
<path stroke="#54aba2" d="M56 35h1m-21 1h1m-4 1h2m21 0h1m-23 1h1m2 0h1m-1 1h1m-4 1h1m24 0h1m-25 1h2m22 0h1m-24 2h1m-2 2h1m22 13h1m0 2h1m-25 1h1m2 0h2m20 0h1m20 0h1m-47 1h1m25 0h1m-30 1h1m6 0h1m14 1h1m2 0h1m-40 1h1m17 0h2m1 0h1m14 0h1m1 0h1m23 0h1m-63 1h1m15 0h1m-17 1h1m13 0h1m2 0h1m-18 1h1m13 0h1m3 0h1m23 0h1m21 0h1m-51 1h1m27 0h1m-27 1h1m46 0h1m-49 1h1m5 0h1m17 0h1m23 0h1m-46 1h1m-1 2h1m20 13h2m1 0h2m-5 1h1m-47 1h1m25 0h1m19 0h1m24 0h1m-49 1h1m3 0h1m1 2h2m18 0h1m1 0h1m-44 1h1m12 0h1m3 0h1m3 0h1m16 0h1m1 0h3m2 0h1m-25 1h1m-8 1h1m4 0h1m3 0h1m12 0h1m4 0h1m-29 1h2m1 0h1m1 0h1m25 0h2m-34 1h1m8 0h1m35 0h1m-57 1h1m13 0h1m28 0h1m16 0h1m-61 1h1m11 0h1m1 0h1m45 0h1m-49 1h1m3 0h1m3 0h1m40 0h1m-68 1h1m19 0h1m6 0h1m13 0h1m6 0h1m-55 1h1m29 0h1m-31 1h1m1 0h1m21 0h1m24 0h1m3 0h1m-22 1h1m15 0h1m1 0h1m-19 1h2m14 0h1m-23 1h1m21 0h1m-19 1h1m20 0h1m-27 1h1m3 0h1m-3 1h1m2 0h1m-28 1h1m0 1h1m67 10h1m-19 1h1m22 0h1m-47 1h1m0 1h1m21 0h1m-48 1h1m3 0h1m13 0h1m21 0h1m3 0h1m-1 1h1m-28 1h1m21 0h1m3 0h1m5 0h1m-48 1h1m21 0h1m2 0h1m35 0h1m4 0h1m1 0h1m-52 1h1m4 0h1m16 0h1m29 0h1m-65 1h1m17 0h1m21 0h1m20 0h1m-50 1h1m6 0h2m11 0h1m9 0h1m-24 1h1m2 0h1m10 0h1m-25 1h2m19 0h1m29 0h1m-60 1h1m6 0h2m8 0h1m20 0h1m2 0h1m-33 1h1m4 0h1m3 0h2m8 0h1m1 0h1m4 0h1m6 0h1m-36 2h1m12 0h1m8 0h2m-47 1h1m22 0h2m5 0h2m1 0h1m3 0h1m12 0h1m4 0h1m-40 1h1m8 0h1m3 0h1m5 0h1m1 0h1m9 0h1m19 0h1m2 0h1m25 0h1m-83 1h1m9 0h1m4 0h1m1 0h2m3 0h1m18 0h1m-52 1h1m19 1h1m6 0h1m2 0h1m2 0h1m20 0h1m-27 1h1m13 0h2m5 0h1m41 0h1m-70 1h1m1 0h2m4 0h1m21 0h1m-42 1h1m17 0h1m1 0h1m-10 1h1m4 0h2m15 0h1m-21 1h2m19 0h1m-48 1h1m22 0h1m1 0h1m2 0h1m2 0h1m18 0h1m-27 1h1m5 0h1m1 0h1m-6 2h1m1 0h1m-22 1h1m19 0h1"/>
<path stroke="#4e9fa1" d="M57 35h1m21 2h1m-44 1h1m20 0h1m-25 1h1m2 0h1m18 0h1m3 0h1m-27 1h1m22 0h3m19 0h1m1 0h1m-48 1h1m0 1h1m1 0h1m43 0h1m-47 1h1m23 0h1m-43 1h1m39 14h1m-43 1h1m19 0h1m1 0h1m22 0h1m18 0h1m-41 1h1m17 0h1m3 0h1m-24 1h1m17 0h1m-22 1h1m41 0h1m-21 1h1m1 0h1m-25 1h2m20 0h1m2 0h1m19 0h1m-48 1h1m22 1h1m4 0h1m-7 1h1m4 0h1m-23 1h1m21 0h1m1 0h1m-44 1h1m14 0h1m4 0h1m22 0h1m-29 1h1m26 1h1m-26 3h1m20 12h1m2 0h1m20 0h1m-25 1h1m-45 1h1m22 0h1m19 0h1m-39 1h1m15 0h1m6 0h1m18 0h1m-23 1h1m15 0h2m4 0h1m3 0h1m20 0h1m-32 1h1m5 0h1m3 0h1m-30 1h2m23 0h1m-7 1h1m8 0h1m-21 1h1m10 0h2m45 0h1m-66 1h2m2 0h1m12 0h1m4 0h1m5 0h1m41 0h1m-70 1h1m1 0h1m15 0h1m-21 1h1m1 0h1m16 0h1m1 0h1m23 0h1m-43 1h1m-3 1h1m1 0h2m14 0h2m1 0h1m-19 1h1m3 0h1m11 0h2m3 0h1m3 0h2m-27 1h1m17 0h1m-24 1h1m1 0h1m3 0h1m36 0h1m-46 1h1m4 0h3m21 0h1m-28 1h1m7 0h1m12 0h1m5 0h1m-1 1h2m-29 1h1m1 0h1m3 0h1m-5 1h2m21 0h1m-49 2h1m23 0h1m-18 1h1m19 0h1m-22 1h1m83 1h1m-23 8h1m-23 1h1m1 1h1m1 0h1m16 0h1m3 0h1m-66 1h1m20 0h1m23 0h1m14 0h1m-17 1h2m17 0h1m-45 1h1m1 0h1m3 0h1m11 0h1m4 0h1m1 0h1m-41 1h1m17 0h1m3 0h1m14 0h1m29 0h1m10 1h1m-66 1h1m6 0h1m21 0h1m-31 1h1m19 0h1m4 0h1m4 0h1m2 0h1m0 1h1m20 0h1m-73 1h1m2 0h1m16 0h1m2 0h1m16 0h1m7 0h1m1 0h1m16 0h1m-49 1h1m7 0h2m34 0h1m3 0h1m-49 1h1m7 0h1m1 0h1m10 0h1m31 0h1m-81 1h1m30 0h1m13 0h1m-46 1h1m15 0h1m16 0h1m19 0h1m2 0h2m8 0h1m5 0h1m-43 1h1m1 0h2m12 0h1m2 0h1m-24 1h1m42 0h1m-43 1h2m17 0h1m9 0h1m-29 1h1m17 0h1m7 0h1m32 0h1m-60 1h1m18 0h1m4 0h1m60 0h1m-98 1h1m16 0h1m11 0h2m27 0h1m-49 1h2m19 0h1m9 0h1m19 0h1m-55 1h1m26 0h1m6 0h1m-23 1h1m16 0h2m-27 1h3m20 0h1m18 0h1m3 0h1m-46 1h1m-2 1h1m22 0h1m1 0h1m2 0h1m-24 1h1m21 0h1m-28 2h2m2 0h1m0 1h1m76 7h1"/>
<path stroke="#4a939f" d="M56 18h1m32 5h1m-53 14h1m17 0h1m-1 1h1m-21 1h1m21 0h2m-4 2h1m-19 1h1m19 0h1m20 0h1m6 1h1m-51 3h1m71 1h1m-49 10h1m-26 1h1m25 0h1m19 0h1m29 0h1m-73 1h1m-3 1h1m24 0h1m-30 2h1m24 0h1m1 0h1m1 1h1m17 0h1m-47 1h1m3 0h1m23 1h1m14 0h1m24 0h1m-48 1h1m3 0h1m20 0h1m-24 1h1m4 0h1m20 0h1m-29 1h2m-19 1h1m6 0h1m-9 1h1m19 0h1m1 0h2m20 0h1m-46 1h1m20 0h1m44 0h1m-43 1h1m36 6h1m10 5h1m-27 1h1m-5 1h1m-20 1h1m20 1h1m-64 1h1m43 0h1m-5 1h1m-24 1h1m6 0h1m17 0h1m21 0h1m34 0h1m-60 1h1m3 0h1m21 0h1m22 0h1m-97 1h1m23 0h1m19 0h1m3 0h1m3 0h1m19 0h1m-40 1h1m15 0h1m4 0h1m-9 1h2m28 0h1m16 0h1m-73 1h1m23 0h1m1 0h1m7 0h1m-57 1h1m40 0h1m3 0h1m6 0h1m22 0h1m24 0h1m-55 1h1m1 0h1m4 0h1m2 0h1m17 0h1m-28 1h1m2 0h1m1 0h1m15 0h1m-44 1h1m21 0h1m1 0h1m6 0h1m17 0h1m-48 1h1m41 0h1m1 0h1m-26 1h1m25 0h1m-45 1h1m17 0h1m3 0h2m19 0h1m5 0h1m-30 1h1m6 0h1m15 0h1m-44 1h1m22 0h1m1 0h2m14 1h1m1 0h1m-39 1h1m13 0h1m1 0h1m-49 1h1m9 0h1m14 0h1m4 0h1m16 0h1m-18 2h1m50 0h1m-33 10h1m-2 2h1m1 0h1m2 0h1m-26 1h1m17 0h2m-3 1h1m39 0h1m-56 1h1m14 0h1m2 0h1m5 0h1m14 0h1m1 0h1m-27 1h1m8 0h1m15 0h1m1 0h1m3 0h1m1 0h1m21 0h1m-100 1h1m44 0h1m4 0h1m2 0h2m10 0h1m-11 1h1m18 0h1m-31 1h2m2 0h1m6 0h1m34 0h1m-70 1h1m22 0h1m6 0h1m-10 1h1m8 0h1m2 0h1m23 0h1m-58 1h1m7 0h1m19 0h1m6 0h1m19 0h1m-48 1h1m12 0h1m7 0h1m1 0h1m1 0h1m1 0h1m36 0h1m-97 1h1m46 0h1m1 0h1m4 0h1m13 0h1m7 0h1m-50 1h1m20 0h1m6 0h1m15 0h1m5 0h1m23 0h1m-76 1h1m53 0h1m21 0h1m-76 1h1m25 0h1m19 0h1m-26 1h1m4 0h1m1 0h2m14 0h1m1 0h1m6 0h1m-36 1h1m1 0h1m3 0h3m13 0h1m-19 1h1m3 0h1m1 0h1m1 0h1m14 0h1m4 0h1m-25 1h1m3 0h1m15 0h2m27 0h1m-103 1h2m32 0h1m19 0h1m14 0h1m5 0h1m-53 1h1m12 0h1m9 0h1m9 0h1m14 0h1m1 0h1m-23 1h1m4 0h1m-30 1h1m9 0h1m9 0h2m8 0h1m19 0h1m-31 1h3m7 0h1m12 0h1m25 0h1m-82 1h1m8 0h1m5 0h1m20 0h2m2 0h1m15 0h1m-18 1h1m-41 1h1m14 1h2m20 0h1m1 0h1m-28 1h1m-15 1h1m14 0h1m5 0h1m60 0h1m-21 1h1m-66 1h1m68 2h1"/>
<path stroke="#46889c" d="M58 35h1m-2 2h1m19 0h1m2 0h1m-23 1h2m39 0h1m-44 1h1m-2 1h1m21 0h1m-44 1h1m23 0h1m0 1h1m17 0h1m-43 1h1m21 0h1m48 2h1m5 10h1m-55 2h1m-22 1h1m19 0h1m21 0h1m-24 1h1m24 0h1m-66 1h1m40 0h2m19 0h1m36 0h1m-105 1h1m21 0h1m27 0h1m-7 2h1m3 0h1m-5 1h1m4 0h2m15 0h1m-21 1h1m2 0h1m18 0h1m-23 1h1m3 0h1m-2 1h1m40 0h1m-24 1h1m-21 1h1m-41 1h1m39 1h1m20 0h1m-22 1h1m-1 1h2m-49 1h1m25 0h1m76 1h1m-102 1h1m94 6h1m6 0h1m-58 3h1m22 0h1m-48 2h1m43 0h1m-23 1h1m1 0h2m2 0h1m16 0h1m3 1h1m32 0h1m-76 1h1m13 0h2m-22 1h2m18 0h1m2 0h1m3 0h1m16 0h1m-42 1h1m15 0h1m1 0h1m21 0h2m-43 1h1m17 0h2m48 0h1m-75 1h1m20 0h1m5 0h1m5 0h1m9 0h1m3 0h1m-47 1h1m7 0h1m20 0h1m17 0h1m1 0h1m16 0h1m-38 1h1m19 0h1m-62 1h1m21 0h1m9 0h1m21 0h1m-45 1h1m21 0h1m3 0h2m6 0h1m-4 1h1m-9 1h1m6 0h1m19 0h1m1 0h1m-63 1h1m37 0h1m-39 1h1m34 0h2m44 0h1m-47 1h1m2 0h1m3 0h1m0 1h1m19 0h1m-30 1h1m2 0h1m1 0h1m2 0h1m19 0h1m-25 1h1m1 0h2m16 0h1m1 0h1m-19 1h1m3 0h1m-32 1h1m-18 1h1m19 1h1m-26 2h1m43 5h1m1 2h1m20 1h1m-23 1h1m19 0h1m0 1h2m20 0h1m-88 1h2m19 0h1m19 0h4m5 0h1m50 0h1m-60 1h1m1 0h1m5 0h1m11 0h1m-30 1h1m9 0h1m3 0h2m23 0h1m-55 1h1m25 0h1m2 0h1m18 0h1m4 0h1m-26 1h1m24 0h1m17 0h1m-52 1h2m2 0h1m2 0h2m23 0h1m-52 1h1m7 0h1m18 0h1m2 0h1m35 0h1m-92 1h1m22 0h1m6 0h1m14 0h2m5 0h1m4 0h1m15 0h2m2 0h1m-30 1h1m5 0h1m11 0h1m2 0h1m21 0h1m-64 1h1m17 0h1m4 0h1m1 0h1m37 0h1m-59 1h1m1 0h1m9 0h1m3 0h1m15 0h2m4 0h1m19 0h1m-47 1h1m2 0h2m8 0h1m-15 1h1m3 0h1m2 0h1m14 0h1m3 0h1m6 0h1m19 0h1m-55 1h1m3 0h1m2 0h2m4 0h1m42 0h1m-50 1h2m1 0h1m2 0h3m16 0h1m-39 1h1m10 0h1m9 0h1m13 0h1m27 0h1m1 0h1m-54 1h2m24 0h1m4 0h1m-66 1h1m34 0h1m0 1h1m4 0h1m12 0h1m6 0h1m16 0h1m-43 1h1m2 0h1m12 0h1m34 0h1m-67 1h1m14 0h1m28 0h1m5 0h1m22 0h1m-88 1h1m22 0h1m3 0h1m20 0h1m6 0h1m18 0h1m-47 1h1m1 0h1m2 0h1m17 0h1m-41 1h1m18 0h2m20 0h1m-51 1h1m21 0h1m8 0h1m17 0h1m-26 1h1m3 0h1m53 1h1m-105 1h1m30 0h1m-30 2h1m0 1h1m1 0h1m51 0h1m23 1h1m-66 3h1m87 2h1"/>
<path stroke="#427c9a" d="M111 8h1m-13 7h1m-9 6h1m12 13h1m-49 2h1m1 0h1m-1 1h1m41 0h1m-45 1h1m21 1h1m-42 2h1m18 0h1m22 0h1m-24 1h1m-1 2h1m57 3h1m3 7h1m-19 3h1m-42 1h1m-27 1h1m23 0h2m42 1h1m-70 1h1m23 0h1m22 0h1m-31 1h1m4 0h2m23 0h1m-20 1h1m17 0h1m2 0h2m0 1h1m18 0h1m-82 1h1m36 0h1m7 0h1m15 0h1m-8 1h1m4 0h1m-24 1h1m18 0h1m4 0h1m-6 1h1m2 0h2m15 0h1m-43 1h1m2 0h1m19 0h1m-23 1h1m1 0h1m2 0h1m17 0h2m-48 1h1m66 1h1m-66 2h1m72 2h1m2 2h1m2 1h1m-12 3h1m13 0h1m-57 1h1m21 1h1m15 1h1m3 0h1m-72 1h1m25 0h1m2 0h1m-47 1h1m44 0h1m41 0h1m-41 1h1m3 0h1m15 0h1m14 0h1m-42 1h1m49 0h1m-96 1h1m50 0h1m15 0h1m24 0h1m-25 1h1m-48 1h1m67 0h1m-46 1h1m26 0h1m-21 1h1m13 0h1m-17 1h1m17 0h1m2 0h1m2 0h2m14 0h1m-45 1h2m1 0h1m34 0h1m4 0h1m-60 1h1m22 0h2m8 0h1m-19 1h1m7 0h1m16 0h1m2 0h2m21 0h1m-48 1h1m3 0h1m13 0h1m25 0h1m-47 1h1m4 0h1m14 0h1m1 0h1m5 0h1m17 0h1m8 0h1m-59 1h1m3 0h1m17 0h1m25 0h1m-49 1h1m9 0h1m20 0h1m-43 2h1m12 0h1m23 0h1m-22 1h1m4 0h1m27 0h1m13 0h1m13 0h1m-12 1h1m-64 1h1m11 0h1m2 0h1m-21 1h1m17 0h2m-24 2h1m-22 2h1m95 0h1m3 0h1m-71 1h1m41 0h1m10 1h1m13 2h1m-83 1h1m74 0h1m-23 2h1m30 0h1m5 0h1m-65 1h1m1 0h1m20 0h1m23 0h1m-65 2h1m14 0h1m4 0h1m49 0h1m6 0h1m-104 1h1m45 0h1m17 0h1m6 0h1m-44 1h1m35 0h1m25 0h1m2 0h1m1 0h1m-99 1h1m65 0h1m-23 1h1m1 0h1m21 0h1m-27 1h1m22 0h1m-38 1h1m22 0h1m1 0h2m1 0h1m7 0h2m-21 1h1m3 0h1m14 0h2m2 0h2m20 0h1m-45 1h1m1 0h1m19 0h1m5 0h1m-41 1h1m12 0h1m45 0h1m-51 1h1m2 0h2m5 0h1m16 0h2m35 0h1m-95 1h1m34 0h2m4 0h1m1 0h1m14 0h1m3 0h2m1 0h1m-26 1h1m16 0h1m6 0h1m25 0h1m-71 1h1m11 0h1m1 0h1m8 0h1m14 0h1m29 0h1m-58 1h1m6 0h3m2 0h1m15 0h2m3 0h1m-34 1h1m19 0h2m5 0h1m-40 1h1m5 0h1m2 0h1m9 0h1m24 0h1m-62 1h1m17 0h1m11 0h1m7 0h1m14 0h1m1 0h2m-29 1h1m1 0h1m1 0h1m5 0h1m24 0h1m1 0h1m8 0h1m-71 1h1m24 0h1m2 0h1m4 0h1m2 0h1m17 0h1m23 0h1m-101 1h1m15 0h1m28 0h1m3 0h1m1 0h1m22 0h1m3 0h1m33 0h1m-64 1h1m24 0h1m1 0h2m8 0h1m-36 1h1m18 0h1m4 0h1m3 0h1m20 0h1m-33 1h1m-68 1h1m34 0h1m10 0h1m2 0h1m6 0h1m16 0h1m16 0h1m-68 1h1m50 0h1m5 0h1m-9 1h1m6 0h1m-56 1h1m26 0h1m1 0h1m13 1h1m41 0h1m-107 1h1m26 1h1m81 2h1m-3 1h1m-19 1h1m-53 1h1m14 1h1m34 1h1m1 0h1"/>
<path stroke="#407297" d="M109 5h1m-57 11h1m-13 8h1m15 7h1m49 1h1m-74 2h1m38 1h1m5 1h1m16 1h1m-85 1h1m65 0h1m-12 1h1m11 0h1m17 0h1m-20 2h1m0 2h1m11 0h1m-35 1h1m54 0h1m-57 2h1m57 0h1m-65 1h1m49 0h1m-5 2h1m3 0h1m-53 2h1m61 3h1m6 0h1m-51 2h1m34 1h1m-4 1h1m-87 1h1m1 0h1m26 0h1m12 0h1m54 0h1m-30 1h1m-24 1h1m18 0h2m1 0h1m2 0h1m31 0h1m-60 1h1m3 0h1m22 0h1m8 0h1m-17 1h1m3 0h1m-41 1h1m17 0h1m17 0h1m41 1h1m-79 1h1m35 0h2m22 0h2m-71 1h1m24 1h1m41 0h1m-17 1h1m21 0h2m-51 2h1m35 0h1m10 0h1m-79 1h1m31 0h1m25 0h1m-45 1h1m9 1h1m47 1h1m11 0h1m-95 1h1m9 1h1m75 0h2m-22 1h1m36 0h1m-61 1h1m4 0h1m-42 1h1m21 0h1m29 0h1m-21 3h1m24 1h1m1 0h1m18 0h2m-44 1h1m-22 1h1m24 0h1m28 0h1m7 0h1m-44 1h1m20 0h1m27 0h1m11 0h1m-84 1h1m27 1h1m15 0h2m1 0h2m2 0h1m3 0h1m14 0h1m-72 1h1m27 0h1m17 0h1m20 0h1m-46 1h1m2 0h1m3 0h1m21 0h1m17 0h1m5 0h1m-89 1h1m38 0h1m18 0h1m4 0h1m-13 1h1m4 0h1m8 0h2m14 0h1m-41 1h1m18 0h1m24 0h1m4 0h1m6 0h1m-109 1h1m37 0h1m6 0h1m4 0h1m3 0h1m22 0h1m-29 1h1m17 1h1m2 0h1m5 0h2m-61 1h1m35 0h1m13 0h1m1 0h2m25 0h1m-46 1h1m3 0h1m6 0h1m3 0h2m2 0h1m4 0h2m20 0h1m-76 1h1m37 0h1m14 0h1m-24 1h1m16 0h1m1 0h1m1 0h1m6 0h1m16 0h1m-49 1h1m6 0h1m10 0h1m2 0h1m4 0h1m-42 1h1m16 0h1m8 0h1m7 0h2m10 0h1m2 0h1m11 0h1m-96 1h1m48 0h1m36 0h1m8 0h1m15 0h1m-47 1h1m9 0h1m-35 1h1m12 0h1m51 0h1m-58 2h1m24 0h1m18 0h1m-80 2h1m75 0h1m-46 1h1m22 0h1m-68 1h1m4 0h1m22 0h1m51 0h1m23 1h1m2 0h1m-40 2h1m18 1h1m5 1h1m3 0h1m4 0h1m-32 1h1m-68 1h1m34 0h1m33 0h1m1 0h1m9 0h1m-34 1h1m13 0h1m1 0h1m29 0h1m-31 1h1m5 0h1m18 0h1m2 0h1m1 0h1m-51 1h1m3 0h1m22 0h1m1 0h1m-27 1h1m2 0h1m14 0h1m1 0h2m-71 1h1m7 0h1m55 0h1m9 0h2m6 0h1m-62 1h1m23 0h1m8 0h1m12 0h1m3 0h1m25 0h1m-56 1h1m8 0h1m13 0h1m2 0h1m10 0h1m18 0h1m-101 1h1m11 0h1m20 0h1m7 0h1m10 0h1m14 0h3m2 0h1m4 0h1m1 0h1m20 0h2m-80 1h1m11 0h1m35 0h1m23 0h1m3 0h1m1 0h1m-52 1h1m18 0h1m2 0h1m2 0h2m3 0h1m-59 1h1m20 0h1m3 0h1m7 0h1m10 0h1m14 0h1m23 0h1m-53 1h1m16 0h1m1 0h2m3 0h1m15 0h1m-51 1h1m13 0h1m13 0h1m5 0h1m4 0h2m8 0h1m4 0h1m5 0h1m-61 1h1m13 0h1m1 0h1m10 0h1m5 0h1m21 0h1m3 0h1m9 0h1m-70 1h1m2 0h1m3 0h1m6 0h1m9 0h1m5 0h1m1 0h1m1 0h1m33 0h1m-66 1h1m28 0h1m-55 1h1m27 0h1m18 0h1m1 0h1m7 0h1m-30 1h1m19 0h1m1 0h1m25 0h2m-42 1h1m9 0h2m2 0h1m2 0h1m1 0h1m-56 1h1m29 0h1m6 0h1m8 0h2m-25 1h1m3 0h1m19 0h2m1 0h1m2 0h1m2 0h1m10 0h1m10 0h1m4 0h1m-64 1h1m6 0h1m1 0h1m4 0h1m11 0h1m-16 1h1m15 0h1m24 0h1m-52 1h1m11 0h1m26 0h2m12 0h1m-25 1h1m7 0h1m23 0h1m-82 1h1m22 0h1m7 0h1m-6 1h1m20 0h1m6 0h1m-10 1h1m9 0h1m-44 1h1m12 0h1m6 0h1m34 0h1m9 0h1m-3 1h1m5 0h1m-55 1h1m4 0h1m38 0h1m3 0h1m-36 1h1m4 0h1m10 0h1m8 0h1m-60 1h1m6 0h1m14 0h1m-6 1h1m41 0h1m-13 2h1m28 0h1m-92 1h1m20 0h1m4 0h1m21 0h1m13 0h1m21 0h1m-95 2h1m14 0h1m13 0h1m68 1h2"/>
<path stroke="#3e6694" d="M91 6h1m4 0h1m10 5h1m-17 1h1m23 0h1m-38 3h1m-23 2h1m16 0h1m35 3h1m-41 2h1m42 1h1m-32 5h1m25 0h1m-48 1h1m21 5h1m-5 2h1m1 0h1m13 0h1m-36 1h1m17 1h1m2 0h1m-4 1h1m21 0h1m1 0h1m-39 2h1m16 0h1m-43 1h1m10 0h1m6 1h1m4 0h1m-4 1h1m37 0h1m14 0h1m-28 2h1m13 0h1m21 0h1m-109 1h1m25 0h1m24 0h1m55 0h1m-70 1h1m64 0h1m-22 1h1m-6 1h1m-19 1h1m-17 1h1m17 1h1m11 0h1m31 0h1m-79 1h1m43 0h1m32 0h1m-27 1h1m25 0h1m-38 1h1m10 0h1m-13 2h1m17 0h1m23 0h1m-44 2h1m2 0h1m18 0h1m-46 1h1m27 0h1m-2 1h1m15 0h1m2 0h1m5 0h1m13 0h1m-111 1h1m46 0h1m50 0h1m-8 1h1m-24 1h1m18 0h1m-67 1h1m16 0h1m2 0h1m26 0h1m-59 1h1m19 0h1m17 0h1m54 0h1m5 0h1m-96 1h2m31 0h2m22 0h1m-6 1h1m4 0h1m3 0h1m-25 1h1m15 0h1m21 0h1m4 0h1m-46 1h1m39 0h1m-80 1h1m70 0h1m-50 1h1m22 0h1m-22 1h1m75 0h1m-18 1h2m1 0h1m-92 1h1m68 1h1m19 0h1m-66 1h1m9 0h1m31 0h1m3 0h1m-26 1h1m5 0h1m32 0h1m11 0h1m-74 1h1m29 0h1m3 1h1m30 0h1m12 0h1m-71 1h1m44 0h1m14 0h1m-6 1h1m2 0h1m14 0h1m-73 1h1m31 0h1m-24 1h1m2 0h2m24 0h1m14 0h1m3 0h1m9 0h1m-113 1h1m22 0h1m11 0h2m39 0h1m3 0h2m13 0h1m4 0h2m12 0h1m-69 1h1m5 0h1m7 0h1m5 0h2m10 0h3m8 0h1m-10 1h3m18 0h1m-72 1h1m27 0h1m24 0h1m5 0h1m2 0h1m4 0h1m-82 1h1m43 0h1m12 0h2m9 0h1m-7 1h1m3 0h2m10 0h2m8 0h1m8 0h1m-61 1h1m24 0h1m3 0h3m10 0h1m6 0h1m15 0h1m-76 1h1m28 0h1m1 0h2m1 0h2m1 0h1m11 0h1m-38 1h1m5 0h1m13 0h1m6 0h1m21 0h1m4 0h1m-60 2h1m21 0h2m2 0h1m7 0h1m10 0h1m14 0h1m-53 1h1m16 0h1m2 0h2m15 0h1m16 0h1m-56 1h1m21 0h1m4 0h1m19 0h1m-77 1h1m70 0h1m-95 1h1m50 0h1m7 0h1m7 0h1m18 0h1m9 0h1m3 0h1m1 0h1m-83 1h1m22 0h1m23 0h1m1 0h1m7 0h1m-3 1h1m17 0h1m-53 1h1m35 0h1m-55 1h1m19 0h1m19 0h1m4 0h1m1 0h2m-48 1h1m23 0h1m22 0h1m1 0h2m21 0h1m-101 1h1m43 0h1m25 0h1m23 0h1m22 0h1m-89 1h1m83 0h1m-97 1h1m66 0h1m18 0h1m-104 1h1m38 0h1m3 0h1m-37 1h1m74 0h1m2 0h1m28 0h1m-101 1h1m2 0h1m70 0h1m2 0h1m-83 1h1m48 0h1m8 0h1m2 0h1m42 0h1m-106 1h1m15 0h1m74 0h1m-82 1h1m38 0h1m41 0h1m6 0h2m-15 1h1m2 0h1m-30 1h1m19 0h1m25 0h1m-66 1h1m15 0h1m2 0h1m23 0h1m8 0h2m-72 1h1m47 0h1m7 0h1m5 0h1m5 0h1m2 0h2m10 0h1m2 0h1m-109 1h1m66 0h1m2 0h1m3 0h1m3 0h1m17 0h1m-51 1h1m2 0h1m23 0h1m17 0h1m2 0h1m-25 1h1m2 0h1m27 0h1m-105 1h1m2 0h1m71 0h1m11 0h1m2 0h1m16 0h1m-104 1h1m34 0h1m35 0h1m1 0h2m12 0h1m-67 1h1m10 0h1m7 0h1m43 0h1m2 0h1m1 0h1m18 0h1m-79 1h1m21 0h1m15 0h1m10 0h1m6 0h1m11 0h2m-60 1h1m16 0h1m12 0h2m7 0h1m10 0h1m2 0h1m6 0h1m6 0h1m-63 1h1m4 0h1m16 0h2m1 0h1m17 0h1m5 0h1m-30 1h1m4 0h1m10 0h1m5 0h1m1 0h1m11 0h1m-92 1h1m50 0h1m18 0h1m2 0h1m6 0h1m4 0h1m-18 1h1m15 0h1m7 0h1m3 0h1m-67 1h1m20 0h1m9 0h1m6 0h1m6 0h1m4 0h1m7 0h1m-104 1h1m59 0h1m7 0h3m34 0h1m-88 1h1m36 0h1m-3 1h1m15 0h1m5 0h1m20 0h1m5 0h1m10 0h1m-76 1h1m16 0h1m17 0h1m3 0h1m1 0h1m13 0h1m3 0h1m1 0h2m-63 1h1m1 0h1m4 0h1m12 0h1m7 0h1m7 0h1m26 0h1m-64 1h1m5 0h1m15 0h1m2 0h1m2 0h1m19 0h1m8 0h1m-74 1h1m48 0h1m4 0h1m1 0h1m15 0h1m3 0h1m6 0h1m-66 1h2m16 0h1m33 0h1m-55 1h1m29 0h1m2 0h1m7 0h1m17 0h1m-55 1h1m9 0h1m5 0h1m1 0h1m3 0h1m7 0h1m4 0h1m1 0h1m29 0h1m-63 1h1m1 0h1m21 0h1m3 0h1m2 0h1m5 0h2m15 0h1m7 0h1m-111 1h1m18 0h1m20 0h1m4 0h1m2 0h1m21 0h2m3 0h1m2 0h1m20 0h1m2 0h1m1 0h2m-106 1h1m54 0h1m20 0h1m12 0h1m12 0h1m-62 1h1m21 0h1m7 0h2m3 0h2m14 0h1m-21 1h1m23 0h1m-79 1h1m57 0h1m14 0h2m-71 1h1m41 0h1m-15 1h1m50 0h1m3 0h1m7 0h1m-121 1h1m111 0h1m-62 1h1m4 0h1m46 0h1m-95 1h1m24 0h2m32 0h1m32 0h1m-88 1h1m59 0h1m37 0h1m-80 2h1m72 0h1m-55 1h1m8 0h1m17 0h1m8 0h1m-27 1h1m9 0h1m13 0h1m9 0h1m14 0h1m-71 1h1m56 0h1m-82 1h1m61 0h1m21 0h1m2 0h1m6 0h1"/>
<path stroke="#3e5891" d="M118 0h1m-74 2h1m28 1h1m36 2h1m-13 3h2m11 0h1m-52 2h1m22 2h1m0 3h1m28 5h1m-72 1h1m39 0h1m-40 1h1m36 0h1m23 0h1m-38 1h1m41 0h1m-36 1h1m-49 1h1m51 0h1m17 0h1m-62 3h1m25 0h1m3 0h1m9 0h1m8 0h1m-41 1h1m25 0h1m-62 4h1m12 0h1m78 0h1m2 0h1m5 0h1m-87 2h1m20 0h1m21 0h1m17 0h1m12 1h1m-35 1h1m17 0h1m17 0h1m-26 2h1m3 0h1m28 0h1m-72 1h1m18 1h1m6 0h1m8 0h1m3 0h1m20 0h1m8 0h1m-60 1h1m31 1h1m1 0h1m26 0h1m-79 1h1m14 0h1m22 0h1m-27 3h1m52 0h1m-42 1h1m26 0h1m16 0h1m7 0h1m-9 1h1m9 1h1m1 0h1m-91 1h1m10 1h1m11 0h1m24 0h1m4 0h2m36 1h1m-101 1h1m25 0h1m17 0h1m12 0h1m15 0h1m6 0h1m6 0h1m9 0h1m-37 1h1m26 0h1m14 0h1m-58 1h1m-24 1h1m4 0h1m25 0h1m6 0h1m24 0h1m-95 1h1m70 0h1m22 0h1m2 0h1m9 0h2m-36 1h1m1 0h1m12 0h1m8 0h2m17 0h1m-73 1h1m30 0h1m2 0h1m13 0h1m1 0h1m-35 1h1m-38 1h1m52 0h1m1 0h1m15 0h1m-72 1h1m42 0h1m6 0h1m22 0h1m2 0h1m-26 1h1m1 0h2m-53 1h1m10 0h1m8 0h1m1 0h1m10 0h1m18 0h1m17 0h1m-73 1h1m34 0h1m18 0h2m13 0h2m-49 1h1m27 0h2m18 0h2m4 0h1m-73 1h1m52 0h1m32 0h2m-40 1h2m20 0h1m14 0h1m-47 1h1m17 0h1m17 1h1m1 0h1m-99 1h1m42 0h1m1 0h1m15 0h1m8 0h1m30 0h1m4 0h1m-61 1h1m19 1h1m15 0h1m10 0h1m-54 1h1m13 0h1m24 0h1m-69 1h1m40 0h1m13 0h1m7 0h1m-9 1h1m2 0h1m9 0h1m7 0h1m5 0h1m12 0h1m-97 1h1m90 0h1m-109 1h1m3 0h1m12 0h1m81 0h1m-64 1h1m5 0h1m9 0h1m22 0h2m6 0h1m10 0h1m5 0h1m9 0h1m-33 1h1m8 0h1m13 0h1m1 0h1m-75 1h1m7 0h1m17 0h1m41 0h1m12 0h1m-64 1h1m17 0h1m29 0h1m6 0h1m-68 1h1m44 0h1m14 0h1m2 0h1m-92 1h1m29 0h1m1 0h1m58 0h1m10 0h1m-46 1h1m2 0h1m6 0h1m1 0h1m1 0h1m2 0h1m-72 1h1m29 0h1m26 0h1m12 0h2m21 0h1m4 0h1m-82 1h1m35 0h1m27 0h1m4 0h1m7 0h1m9 0h1m-108 1h1m30 0h1m7 0h1m1 0h1m24 0h1m34 0h1m-90 1h1m3 0h1m23 0h1m21 0h1m8 0h1m3 0h1m14 0h1m3 0h1m2 0h1m6 0h1m-40 1h1m5 0h1m9 0h1m1 0h1m8 0h1m5 0h1m-65 1h1m7 0h1m11 0h1m6 0h1m11 0h1m9 0h1m7 0h1m-74 1h1m23 0h1m25 0h1m9 0h1m2 0h1m17 0h1m8 0h1m-97 1h1m25 0h1m32 0h2m3 0h1m7 0h1m6 0h1m6 0h1m-87 1h1m1 0h1m18 0h1m7 0h1m15 0h1m14 0h1m3 0h1m15 0h1m16 0h1m-75 1h1m30 0h2m10 0h1m3 0h1m18 0h1m2 0h1m3 0h1m-32 1h1m2 0h1m16 0h1m-79 1h1m16 0h1m37 0h1m10 0h1m4 0h1m6 0h1m-80 1h1m23 0h1m19 0h1m6 0h1m30 0h1m-49 1h1m4 0h1m7 0h1m9 0h1m19 0h1m12 0h1m-98 1h1m29 0h1m38 0h1m-29 1h1m3 0h1m10 0h1m28 0h1m-87 1h1m59 0h4m14 0h1m11 0h1m7 0h1m-99 1h1m60 0h2m4 0h1m-80 1h1m67 0h1m32 0h1m7 0h1m-98 1h1m7 0h1m58 0h1m1 0h3m1 0h1m1 0h2m8 0h1m-58 1h1m12 0h1m2 0h1m27 0h1m14 0h1m6 0h1m-108 1h1m13 0h1m23 0h1m10 0h1m10 0h1m12 0h1m16 0h1m16 0h1m-96 1h1m4 0h1m24 0h1m20 0h1m3 0h2m8 0h1m26 0h1m6 0h1m-98 1h1m13 0h1m33 0h1m3 0h1m2 0h1m15 0h1m3 0h1m21 0h1m-111 1h1m25 0h1m21 0h1m49 0h1m-101 1h1m53 0h1m2 0h1m15 0h1m8 0h1m2 0h1m12 0h1m-96 1h1m4 0h1m38 0h1m6 0h1m-12 1h1m4 0h1m8 0h1m6 0h1m2 0h1m3 0h1m-77 1h1m31 0h1m2 0h1m33 0h1m4 0h1m4 0h1m24 0h1m-89 1h1m3 0h1m28 0h1m33 0h1m22 0h1m-80 1h1m34 0h1m12 0h1m6 0h1m30 0h1m3 0h1m-103 1h1m53 0h2m7 0h1m29 0h1m-107 1h1m47 0h1m9 0h1m8 0h1m-53 1h1m3 0h1m30 0h1m8 0h1m10 0h1m26 0h1m5 0h1m6 0h1m5 0h1m-118 1h1m12 0h1m39 0h1m7 0h1m3 0h1m2 0h1m4 0h1m6 0h1m23 0h1m4 0h1m-69 1h1m19 0h1m11 0h1m2 0h1m25 0h1m2 0h2m-92 1h2m13 0h1m1 0h1m38 0h1m17 0h2m3 0h1m12 0h1m7 0h1m-96 1h1m30 0h1m37 0h1m18 0h1m1 0h1m-19 1h1m-74 1h2m7 0h1m18 0h1m27 0h1m23 0h1m5 0h1m2 0h1m2 0h2m-86 1h2m52 0h1m3 0h1m25 0h1m-90 1h1m51 0h1m18 0h1m9 0h1m4 0h1m-109 1h1m2 0h1m76 0h1m30 0h1m1 0h1m2 0h1m-50 1h1m6 0h1m31 0h1m-103 1h1m44 0h1m35 0h1m4 0h1m-66 1h1m17 0h1m2 0h1m9 0h1m24 0h2m1 0h1m1 0h1m6 0h1m-69 1h1m20 0h1m1 0h1m12 0h1m28 0h1m22 0h1m2 0h1m-45 1h1m13 0h2m10 0h1m3 0h1m6 0h1m4 0h1m-89 1h1m19 0h1m18 0h1m3 0h2m2 0h2m5 0h1m14 0h1m10 0h1m-107 1h2m63 0h1m9 0h1m16 0h1m6 0h1m4 0h1m12 0h1m-93 1h1m1 0h1m26 0h1m11 0h1m13 0h1m1 0h1m-21 1h1m31 0h1m7 0h1m-60 1h1m51 0h1m2 0h1m3 0h1m-76 1h1m19 0h1m11 0h1m4 0h1m25 0h1m-38 1h1m17 0h2m3 0h1m21 0h1m-33 1h2m7 0h1m21 0h1m3 0h1m2 0h1m8 0h1m-71 1h2m23 0h1m1 0h1m14 0h1m19 0h2m1 0h1m8 0h1m-97 1h1m52 0h1m11 0h2m11 0h1m11 0h1m-55 1h1m12 0h1m45 0h1m-56 1h1m16 0h1m28 0h1m2 0h1m-108 1h1m2 0h1m13 0h1m3 0h1m16 0h1m34 0h1m38 0h1m-117 1h1m21 0h1m57 0h1m22 0h1m14 0h1m-111 1h1m11 0h1m8 0h1m11 0h1m8 0h1m23 0h1m1 0h1m1 0h2m4 0h1m13 0h1m16 0h1m-57 1h1m12 0h1m8 0h1m14 0h1m17 0h1m-110 1h1m37 0h1m16 0h1m3 0h1m3 0h1m2 0h1m10 0h1m33 0h1m2 0h1m-110 1h1m27 0h1m37 0h1m2 0h1m26 0h1m6 0h1m1 0h1m-80 1h1m3 0h1m33 0h1m2 0h1m5 0h1m-82 1h1m26 0h1m2 0h1m3 0h1m13 0h1m7 0h1m50 0h1m-82 1h1m7 0h1m8 0h1m27 0h1m1 0h1m10 0h1m2 0h1m-46 1h1m12 0h1m1 0h1m49 0h1m-104 1h1m16 0h1m8 0h1m5 0h1m3 0h1m1 0h1m6 0h1m35 0h1m6 0h1m6 0h1m17 0h1m-107 1h1m24 0h1m26 0h1m10 0h1m15 0h1m6 0h1m18 0h1m-111 1h1m6 0h1m67 0h1m8 0h1m23 0h1"/>
<path stroke="#3e4c88" d="M111 1h1m5 0h1m-11 2h1m-36 1h1m33 0h1m-43 1h1m-19 1h1m-10 1h1m56 0h1m-31 2h1m-50 2h1m66 3h1m-32 1h1m28 0h1m23 0h1m-62 1h1m41 0h1m-56 1h1m71 0h1m1 0h1m2 0h1m1 0h1m-35 1h1m2 0h1m-26 1h1m-8 1h1m40 0h1m7 0h1m-2 1h1m-55 1h1m4 0h1m7 0h1m4 1h1m22 0h1m-31 1h1m29 0h1m25 0h1m-10 2h1m6 0h1m-23 1h1m-21 1h1m6 0h1m17 0h1m-63 1h1m16 0h1m15 0h1m40 0h1m8 0h1m-32 1h1m4 0h1m3 0h1m12 0h1m-88 2h1m57 0h1m17 0h1m11 0h1m-64 1h1m14 0h1m-17 1h1m0 1h1m5 0h1m26 0h2m2 0h1m4 0h1m16 0h1m7 0h1m-54 1h1m45 0h1m1 0h1m-41 1h1m6 0h1m3 0h1m6 0h1m3 0h1m2 0h1m12 0h1m3 0h1m-78 1h1m53 0h1m2 0h1m3 0h1m4 0h1m5 0h1m-33 1h1m-50 1h1m11 0h1m1 0h1m1 0h1m58 0h1m7 0h1m1 0h1m2 0h1m-74 1h2m8 0h1m19 0h1m24 0h1m-43 1h1m34 0h1m8 0h1m4 0h1m6 0h1m4 0h1m-60 1h1m6 0h1m24 0h1m2 0h1m-52 1h1m13 0h1m21 0h1m9 0h2m37 0h1m2 0h1m-48 1h1m8 0h1m3 0h1m23 0h1m8 0h1m-113 1h1m33 1h1m1 0h1m9 0h1m18 0h1m40 0h1m-22 1h1m-64 1h1m1 0h1m16 0h1m2 0h1m18 0h1m18 0h2m4 0h1m-89 1h1m14 0h1m2 0h1m14 0h1m-14 1h1m1 0h1m28 0h1m6 0h1m1 0h1m17 0h1m18 0h1m13 0h1m-93 1h1m16 0h1m17 0h1m21 0h1m14 0h1m4 0h1m1 0h1m2 0h1m1 0h1m-72 1h1m1 0h1m28 0h1m21 0h1m16 0h1m2 0h1m8 0h1m-96 1h1m27 0h1m-42 1h1m11 0h1m1 0h1m9 0h1m63 0h1m-93 1h1m10 0h1m3 0h1m6 0h1m5 0h1m15 0h1m48 0h1m17 0h1m-115 1h1m31 0h2m80 0h1m-92 1h1m26 0h1m26 0h1m2 0h1m15 0h1m1 0h2m-53 1h1m28 0h1m8 0h1m7 0h2m14 0h1m-110 1h1m1 0h1m58 0h1m6 0h1m14 0h1m22 0h1m-94 1h1m31 0h1m22 0h1m14 0h1m5 0h1m8 0h1m2 0h1m10 0h1m-113 1h1m35 0h1m55 0h1m6 0h1m-30 1h1m8 0h1m15 0h1m13 0h1m-94 1h1m5 0h1m22 0h1m2 0h1m46 0h1m7 0h1m-105 1h1m60 0h1m20 0h1m12 0h1m5 0h1m-96 1h1m33 0h1m1 0h1m21 0h1m4 0h1m10 0h1m-62 1h1m5 0h1m14 0h1m9 0h1m14 0h1m10 0h1m3 0h1m25 0h1m10 0h1m-76 1h2m38 0h1m21 0h1m-84 1h2m24 0h1m11 0h1m15 0h1m10 0h1m4 0h1m8 0h1m-57 1h1m20 0h1m13 0h1m9 0h2m-68 1h1m20 0h1m32 0h1m-63 1h1m2 0h1m5 0h1m35 0h1m25 0h1m19 0h1m-106 1h1m15 0h1m22 0h1m7 0h1m12 0h1m3 0h1m6 0h1m22 0h1m2 0h1m7 0h2m7 0h1m-109 1h1m36 0h1m33 0h1m4 0h1m6 0h1m10 0h1m10 0h1m-100 1h1m73 0h1m-90 1h1m9 0h1m8 0h1m9 0h1m20 0h1m59 0h1m-100 1h1m8 0h1m10 0h1m16 0h1m45 0h1m19 0h1m-106 1h1m16 0h1m49 0h2m10 0h2m13 0h1m-105 1h1m35 0h1m5 0h1m1 0h1m2 0h1m21 0h1m7 0h1m1 0h1m1 0h2m11 0h1m-67 1h1m19 0h1m4 0h2m3 0h2m4 0h1m-60 1h1m2 0h1m10 0h1m25 0h1m42 0h1m7 0h2m9 0h1m12 0h1m-107 1h1m13 0h1m18 0h1m9 0h1m1 0h1m14 0h1m2 0h1m1 0h2m22 0h1m-98 1h1m13 0h1m18 0h1m11 0h1m18 0h1m4 0h1m5 0h1m11 0h1m5 0h1m3 0h1m14 0h1m-110 1h1m8 0h1m7 0h2m7 0h1m54 0h1m17 0h1m7 0h1m-117 1h1m5 0h1m5 0h1m2 0h1m20 0h1m14 0h2m14 0h1m11 0h2m6 0h1m15 0h1m2 0h1m3 0h1m-106 1h1m21 0h1m27 0h1m13 0h1m17 0h1m1 0h1m9 0h1m12 0h1m-103 1h1m4 0h1m17 0h1m5 0h2m1 0h1m1 0h1m7 0h1m-53 1h1m4 0h1m5 0h1m38 0h1m3 0h1m22 0h1m17 0h1m9 0h1m13 0h2m-93 1h1m2 0h1m15 0h1m5 0h1m13 0h1m4 0h1m6 0h1m17 0h1m3 0h1m-99 1h1m38 0h1m39 0h1m20 0h1m14 0h1m-90 1h1m46 0h2m26 0h1m15 0h1m-116 1h1m19 0h1m2 0h2m35 0h1m9 0h2m15 0h1m21 0h1m-72 1h1m5 0h1m1 0h1m21 0h1m9 0h1m14 0h1m2 0h2m3 0h1m-61 1h1m29 0h1m16 0h1m3 0h1m9 0h1m-43 1h1m8 0h2m20 0h1m3 0h1m3 0h1m-105 1h1m19 0h1m1 0h1m5 0h1m1 0h1m35 0h1m5 0h1m9 0h1m1 0h2m13 0h2m4 0h1m-82 1h1m3 0h1m1 0h1m28 0h1m5 0h1m2 0h1m14 0h1m9 0h1m2 0h1m2 0h1m2 0h3m4 0h1m7 0h1m-116 1h1m45 0h1m20 0h1m15 0h1m1 0h1m9 0h1m5 0h1m13 0h1m-94 1h1m26 0h1m8 0h1m8 0h1m3 0h1m7 0h1m3 0h1m11 0h2m8 0h2m-109 1h1m28 0h1m13 0h1m8 0h1m39 0h1m22 0h1m-112 1h1m19 0h1m39 0h1m17 0h1m14 0h1m5 0h1m5 0h1m-67 1h1m30 0h1m13 0h1m10 0h1m16 0h1m-91 1h1m26 0h1m15 0h2m1 0h1m44 0h1m-118 1h1m3 0h1m20 0h1m18 0h1m8 0h1m13 0h1m12 0h1m20 0h1m14 0h1m-68 1h1m60 0h1m-105 1h2m16 0h1m49 0h1m2 0h1m6 0h1m14 0h1m-75 1h1m4 0h2m21 0h2m10 0h1m3 0h1m3 0h1m12 0h1m-84 1h1m4 0h1m15 0h1m5 0h1m41 0h1m6 0h1m6 0h1m3 0h2m17 0h1m6 0h1m-117 1h1m5 0h1m18 0h2m14 0h1m5 0h1m3 0h1m24 0h2m4 0h1m3 0h1m1 0h1m-33 1h1m7 0h1m3 0h1m1 0h3m1 0h1m30 0h2m5 0h1m-110 1h1m20 0h1m3 0h1m6 0h2m22 0h1m18 0h1m18 0h1m-97 1h1m2 0h1m12 0h1m3 0h1m47 0h1m28 0h1m8 0h1m4 0h1m-107 1h1m3 0h1m1 0h1m2 0h1m7 0h1m14 0h1m10 0h1m2 0h1m1 0h1m3 0h1m26 0h1m2 0h1m6 0h1m7 0h1m5 0h1m9 0h2m-116 1h1m3 0h1m35 0h2m8 0h1m12 0h1m10 0h1m24 0h1m-101 1h1m21 0h1m2 0h1m14 0h2m3 0h1m7 0h1m10 0h1m4 0h1m8 0h1m10 0h1m7 0h1m-96 1h1m8 0h1m46 0h1m3 0h1m2 0h1m8 0h1m25 0h1m-83 1h1m1 0h2m72 0h1m8 0h2m7 0h1m-106 1h1m14 0h1m7 0h1m1 0h1m8 0h1m6 0h2m6 0h2m1 0h1m1 0h1m10 0h1m5 0h1m2 0h1m11 0h1m1 0h1m6 0h1m-102 1h1m2 0h1m10 0h1m7 0h1m6 0h1m11 0h1m21 0h1m4 0h1m1 0h1m3 0h1m17 0h1m2 0h1m-101 1h1m16 0h1m2 0h1m42 0h1m6 0h1m14 0h1m12 0h1m5 0h1m13 0h1m-98 1h1m4 0h1m3 0h1m16 0h1m17 0h1m13 0h1m16 0h1m11 0h1m-109 1h1m2 0h2m1 0h1m5 0h1m5 0h1m7 0h1m2 0h1m6 0h1m9 0h1m5 0h1m12 0h1m1 0h1m1 0h2m5 0h1m5 0h1m4 0h1m14 0h1m-81 1h1m4 0h1m12 0h1m9 0h1m2 0h1m11 0h1m1 0h1m14 0h1m17 0h3m3 0h1m9 0h1m-75 1h1m6 0h1m31 0h2m1 0h1m10 0h1m15 0h1m3 0h1m-94 1h1m7 0h1m12 0h1m4 0h1m20 0h1m1 0h1m3 0h1m17 0h1m26 0h1m-37 1h1m1 0h1m1 0h1m7 0h1m18 0h1m4 0h1m-78 1h2m22 0h1m29 0h1m3 0h1m5 0h1m-104 1h1m20 0h1m4 0h1m55 0h2m16 0h1m-105 1h1m2 0h1m4 0h1m16 0h1m42 0h1m20 0h1m7 0h1m14 0h1m7 0h1m-97 1h1m3 0h1m18 0h1m2 0h1m24 0h1m3 0h1m12 0h1m17 0h1m-87 1h1m3 0h1m39 0h1m10 0h1m4 0h1m3 0h1m9 0h1m5 0h1m2 0h1m3 0h1m-107 1h1m18 0h1m1 0h1m2 0h1m20 0h1m20 0h1m1 0h1m13 0h1m5 0h1m8 0h1m7 0h1m-62 1h1m18 0h1m8 0h1m2 0h1m16 0h1m3 0h1m12 0h1m-112 1h1m65 0h1m26 0h1m9 0h2m7 0h1m-110 1h1m17 0h1m4 0h1m40 0h1m6 0h1m13 0h2m5 0h1m3 0h1m-98 1h1m40 0h1m27 0h2m12 0h2m1 0h1m7 0h1m2 0h1m6 0h1m10 0h1m-96 1h1m43 0h1m1 0h1m14 0h1m13 0h1m-77 1h1m2 0h1m42 0h1m6 0h1m31 0h1m4 0h1m1 0h1m-114 1h1m22 0h1m19 0h1m2 0h3m33 0h3m7 0h1m6 0h1m2 0h2m1 0h1m-104 1h1m21 0h1m18 0h2m3 0h1m22 0h1m12 0h1m14 0h1m3 0h1m9 0h1m-117 1h2m45 0h1m31 0h1m6 0h1m9 0h1m19 0h1m-117 1h1m65 0h1m33 0h1m10 0h1m-89 1h1m24 0h1m2 0h1m13 0h1m31 0h1m18 0h1m-116 1h2m1 0h1m76 0h1m8 0h1m2 0h1m9 0h1m-79 1h2m58 0h1m3 0h1m15 0h2m8 0h1m-113 1h1m2 0h1m22 0h1m15 0h1m6 0h1m34 0h1m3 0h1m9 0h1m6 0h1m1 0h1m-108 1h1m24 0h1m19 0h1m4 0h1m1 0h1m8 0h1m6 0h2m3 0h1m9 0h1m7 0h1m6 0h2m-101 1h1m21 0h1m6 0h1m14 0h2m10 0h1m20 0h1m4 0h1m3 0h1m28 0h1m-91 1h1m18 0h3m23 0h1m9 0h2m9 0h1m7 0h1m8 0h1m-109 1h1m1 0h1m3 0h1m11 0h1m1 0h1m7 0h1m1 0h1m10 0h1m10 0h1m4 0h1m7 0h2m3 0h1m3 0h1m7 0h1m7 0h1m15 0h1m1 0h1m-87 1h1m3 0h1m14 0h1m18 0h1m1 0h1m8 0h1m23 0h1m9 0h1m-88 1h1m35 0h1m12 0h1m18 0h1m3 0h1m11 0h1m7 0h1m5 0h1m-117 1h1m17 0h1m9 0h1m9 0h1m18 0h1m13 0h1m19 0h1m3 0h1m10 0h1m4 0h1m-108 1h1m14 0h1m25 0h1m28 0h1m9 0h1m24 0h1m-69 1h1m4 0h1m45 0h1m24 0h1m-118 1h1m4 0h2m10 0h1m12 0h1m22 0h1m14 0h1m4 0h1m-74 1h1m15 0h1m8 0h1m6 0h1m11 0h1m11 0h1m4 0h1m3 0h1m6 0h2m8 0h1m-77 1h2m2 0h1m4 0h1m10 0h1m5 0h1m12 0h1m3 0h2m7 0h1m3 0h1m7 0h1m16 0h1m14 0h1m2 0h1m2 0h3m4 0h1m-118 1h1m6 0h1m3 0h1m31 0h1m17 0h1m12 0h1m6 0h1m1 0h1m18 0h1"/>
<path stroke="#40427a" d="M17 0h1m60 1h1m-32 1h1m69 0h1m-46 1h1m16 0h1m8 0h1m-45 2h1m1 1h1m4 0h1m26 0h1m24 0h1m-73 1h1m63 0h1m-35 1h1m15 0h1m4 0h1m-21 2h1m17 0h1m23 0h1m-96 2h1m92 0h1m3 0h1m-101 1h1m21 0h1m4 0h1m9 0h1m25 0h1m9 0h1m10 0h1m1 0h1m4 0h1m-49 1h1m1 0h1m14 0h1m12 0h1m2 0h1m18 0h1m-75 1h1m21 0h1m22 0h1m-70 1h1m11 0h1m-4 1h1m37 0h1m1 0h1m-39 1h1m3 0h1m13 0h1m2 0h1m46 0h1m20 0h1m-101 1h1m6 0h1m3 0h1m22 0h2m8 0h1m15 0h1m6 0h1m20 0h1m1 0h1m-88 1h1m1 0h1m7 0h1m-22 2h1m23 0h1m4 0h1m48 0h1m18 0h1m-56 1h1m23 0h1m11 0h1m3 0h1m8 0h1m14 0h1m-103 1h1m58 0h1m43 0h1m5 0h1m-84 1h1m30 0h1m-48 1h1m2 0h1m15 0h2m22 0h1m40 0h1m-104 1h1m8 0h1m22 0h1m2 0h1m53 0h1m5 0h1m15 0h1m-100 1h1m27 0h1m16 0h1m1 0h1m24 0h1m7 0h1m11 0h1m4 0h1m-59 1h1m32 0h1m19 0h1m9 0h1m-76 1h1m6 0h1m3 0h1m6 0h2m14 0h1m3 0h1m-49 1h1m10 0h1m27 0h1m-33 1h1m19 0h1m25 0h1m-80 1h1m20 0h1m23 0h1m3 0h1m10 0h1m15 0h1m3 0h1m-39 1h1m14 0h1m37 0h2m15 0h1m-103 1h1m5 0h1m43 0h1m24 0h1m6 0h1m4 0h1m-92 1h1m8 0h1m4 0h1m5 0h2m11 0h1m8 0h1m17 0h1m20 0h1m2 0h1m-65 1h1m39 0h1m-63 1h1m38 0h1m28 0h1m13 0h1m-70 1h1m22 0h1m27 0h1m9 0h1m1 0h1m4 0h1m9 0h1m3 0h1m1 0h1m9 0h1m-62 1h1m28 0h1m2 0h1m9 0h1m16 0h1m-107 1h1m38 0h1m28 0h1m-71 1h1m20 0h1m25 0h1m2 0h1m5 0h1m1 0h1m4 0h1m40 0h1m3 0h1m-68 1h1m4 0h1m25 0h1m28 0h1m-102 1h1m23 0h1m42 0h1m30 0h1m10 0h1m-92 1h1m7 0h1m10 0h1m14 0h1m5 0h1m2 0h1m9 0h1m21 0h1m-44 1h1m25 0h1m1 0h1m-77 1h1m13 0h1m6 0h2m2 0h1m5 0h1m7 0h1m-42 1h1m27 0h1m25 0h1m42 0h1m-64 1h1m26 0h1m1 0h1m6 0h1m8 0h1m7 0h1m14 0h1m-82 1h1m6 0h1m13 0h1m5 0h1m3 0h1m16 0h1m12 0h1m17 0h1m1 0h1m-78 1h2m22 0h1m7 0h1m7 0h1m3 0h1m1 0h1m31 0h1m6 0h1m-102 1h1m6 0h1m26 0h1m5 0h2m2 0h1m53 0h1m-105 1h1m1 0h1m5 0h1m7 0h3m3 0h1m19 0h1m15 0h1m1 0h1m7 0h1m7 0h1m3 0h1m16 0h1m3 0h1m-102 1h1m2 0h1m10 0h1m5 0h1m5 0h1m7 0h1m7 0h1m12 0h1m9 0h1m-30 1h1m36 0h1m8 0h1m11 0h1m4 0h1m-66 1h1m17 0h1m47 0h1m4 0h1m4 0h1m-106 1h1m7 0h1m1 0h1m5 0h1m2 0h1m24 0h1m36 0h1m26 0h1m-120 1h2m14 0h1m1 0h1m23 0h1m20 0h1m4 0h1m3 0h1m8 0h1m10 0h1m-51 1h1m43 0h1m7 0h1m7 0h1m4 0h1m-81 1h2m2 0h1m14 0h1m15 0h1m4 0h2m24 0h2m4 0h1m15 0h1m-114 1h2m1 0h1m3 0h1m18 0h1m10 0h1m10 0h1m13 0h1m18 0h1m1 0h1m9 0h1m3 0h2m6 0h1m-106 1h1m1 0h1m4 0h1m11 0h1m2 0h1m5 0h1m14 0h1m15 0h2m2 0h1m10 0h2m8 0h1m3 0h1m9 0h1m-98 1h1m19 0h1m27 0h2m39 0h1m1 0h3m6 0h1m15 0h1m-98 1h1m6 0h1m19 0h1m46 0h1m16 0h1m-84 1h1m9 0h1m2 0h1m7 0h1m10 0h1m5 0h1m7 0h1m22 0h1m1 0h1m-102 1h1m4 0h1m22 0h1m19 0h2m2 0h1m16 0h1m14 0h1m7 0h1m1 0h1m2 0h1m-96 1h1m3 0h1m66 0h1m25 0h1m1 0h1m1 0h1m12 0h1m-114 1h1m35 0h2m24 0h1m4 0h1m1 0h2m2 0h1m5 0h1m15 0h2m-81 1h1m19 0h1m5 0h1m46 0h1m3 0h1m2 0h1m1 0h1m11 0h1m3 0h1m1 0h1m-96 1h2m27 0h1m20 0h1m41 0h1m1 0h1m-111 1h1m9 0h1m4 0h2m14 0h1m4 0h1m2 0h1m13 0h1m3 0h1m3 0h1m26 0h2m13 0h1m2 0h1m4 0h1m-121 1h1m18 0h1m9 0h1m9 0h1m6 0h1m5 0h1m8 0h1m7 0h2m2 0h1m10 0h1m2 0h1m2 0h1m2 0h1m20 0h1m-96 1h1m13 0h1m35 0h1m3 0h2m13 0h2m9 0h1m3 0h1m3 0h1m3 0h1m8 0h1m-113 1h1m23 0h2m27 0h1m40 0h1m3 0h1m-105 1h1m1 0h1m3 0h1m11 0h1m1 0h1m15 0h1m9 0h2m45 0h1m1 0h1m12 0h1m5 0h1m-117 1h1m1 0h1m7 0h1m29 0h1m11 0h1m5 0h1m20 0h2m36 0h1m-112 1h1m3 0h1m14 0h1m20 0h1m60 0h1m-108 1h1m6 0h3m11 0h2m1 0h2m11 0h1m13 0h1m20 0h1m2 0h1m6 0h2m15 0h1m13 0h1m-113 1h1m14 0h1m12 0h1m11 0h1m1 0h1m29 0h1m11 0h1m7 0h1m23 0h1m-106 1h1m14 0h1m33 0h1m22 0h1m21 0h1m1 0h1m7 0h1m-96 1h1m8 0h1m4 0h1m7 0h1m8 0h1m14 0h1m14 0h1m10 0h1m11 0h1m13 0h1m-116 1h1m21 0h2m26 0h1m12 0h1m1 0h1m5 0h1m5 0h1m23 0h1m-74 1h1m3 0h1m17 0h2m6 0h1m15 0h1m1 0h1m1 0h1m17 0h1m10 0h2m-113 1h1m4 0h1m1 0h1m2 0h1m12 0h1m1 0h1m2 0h1m7 0h1m6 0h1m1 0h1m28 0h2m35 0h1m-104 1h1m5 0h1m13 0h1m1 0h1m-31 1h1m7 0h2m4 0h1m1 0h1m4 0h1m1 0h1m2 0h1m6 0h1m1 0h1m3 0h1m1 0h1m3 0h1m2 0h1m15 0h1m44 0h1m10 0h1m-110 1h1m17 0h1m17 0h1m16 0h1m12 0h1m15 0h1m5 0h1m7 0h1m9 0h1m-109 1h1m21 0h2m10 0h1m3 0h2m3 0h1m22 0h1m2 0h1m1 0h1m4 0h1m1 0h1m3 0h1m6 0h1m1 0h2m2 0h1m5 0h1m3 0h1m-110 1h1m36 0h1m20 0h1m4 0h1m31 0h1m9 0h1m-102 1h1m33 0h1m1 0h1m19 0h1m2 0h2m9 0h1m3 0h1m10 0h1m3 0h1m2 0h1m11 0h1m-107 1h1m14 0h1m25 0h1m15 0h1m7 0h1m1 0h1m12 0h1m10 0h1m17 0h1m-117 1h1m5 0h2m14 0h1m28 0h1m14 0h1m7 0h1m21 0h1m5 0h2m2 0h1m2 0h1m-107 1h1m3 0h1m14 0h2m23 0h1m23 0h1m14 0h1m12 0h1m-76 1h1m19 0h1m38 0h1m8 0h1m25 0h1m-119 1h1m19 0h1m57 0h1m12 0h2m2 0h1m12 0h1m-105 1h2m67 0h1m17 0h1m2 0h1m8 0h2m10 0h1m-116 1h1m22 0h1m2 0h2m16 0h1m55 0h2m6 0h1m-109 1h1m3 0h1m18 0h1m50 0h1m33 0h1m-105 1h1m17 0h1m22 0h2m39 0h1m5 0h1m10 0h1m2 0h1m10 0h1m2 0h1m-95 1h1m23 0h1m36 0h1m10 0h3m3 0h1m-103 1h1m3 0h1m15 0h1m2 0h1m2 0h1m38 0h2m16 0h1m12 0h1m14 0h1m3 0h1m-118 1h1m5 0h2m19 0h1m52 0h1m11 0h1m17 0h1m-84 1h1m24 0h1m18 0h1m21 0h1m10 0h1m6 0h1m1 0h1m-107 1h1m38 0h2m18 0h1m32 0h1m2 0h1m4 0h1m3 0h1m-109 1h1m17 0h1m2 0h1m3 0h1m14 0h1m3 0h1m3 0h1m16 0h1m16 0h1m6 0h1m2 0h1m20 0h1m1 0h1m-92 1h1m14 0h1m3 0h1m6 0h1m5 0h1m7 0h1m36 0h1m4 0h1m-110 1h2m21 0h1m5 0h1m19 0h2m40 0h1m6 0h1m9 0h1m10 0h1m-101 1h1m5 0h1m17 0h1m9 0h1m1 0h1m-55 1h2m1 0h1m3 0h1m11 0h1m11 0h1m19 0h1m14 0h2m2 0h1m1 0h1m9 0h1m10 0h1m12 0h1m-108 1h3m20 0h1m9 0h1m19 0h1m7 0h3m2 0h2m40 0h1m2 0h1m-112 1h1m10 0h1m11 0h1m2 0h1m2 0h1m1 0h1m1 0h1m11 0h1m5 0h1m14 0h1m6 0h2m11 0h2m4 0h1m5 0h1m1 0h1m10 0h1m7 0h2m-116 1h1m1 0h1m8 0h1m1 0h1m5 0h1m1 0h1m22 0h2m5 0h1m23 0h1m18 0h1m2 0h2m1 0h1m8 0h1m-115 1h1m2 0h2m11 0h2m1 0h1m1 0h1m8 0h1m2 0h1m12 0h1m1 0h1m2 0h1m5 0h1m3 0h2m3 0h1m2 0h1m1 0h1m1 0h1m5 0h1m9 0h2m6 0h1m8 0h1m-107 1h1m3 0h1m3 0h1m10 0h1m2 0h1m1 0h1m9 0h2m21 0h1m6 0h1m15 0h2m5 0h2m14 0h1m8 0h1m4 0h1m-112 1h1m1 0h1m5 0h1m6 0h2m1 0h1m3 0h1m1 0h1m17 0h1m5 0h1m21 0h1m6 0h1m4 0h1m1 0h1m4 0h1m-96 1h1m1 0h1m1 0h1m4 0h3m6 0h2m6 0h1m2 0h1m16 0h1m14 0h1m2 0h1m7 0h1m9 0h1m5 0h1m29 0h1m-118 1h1m1 0h2m9 0h1m4 0h1m6 0h1m8 0h1m1 0h1m7 0h3m10 0h1m1 0h1m8 0h1m1 0h1m7 0h2m1 0h1m5 0h1m21 0h1m8 0h1m-117 1h1m1 0h2m2 0h1m3 0h2m10 0h1m25 0h1m10 0h1m5 0h1m6 0h1m1 0h1m5 0h1m2 0h1m16 0h1m3 0h1m4 0h1m-113 1h2m5 0h1m7 0h1m2 0h1m3 0h1m1 0h1m4 0h2m5 0h1m13 0h1m1 0h1m7 0h1m8 0h1m10 0h1m20 0h1m7 0h2m6 0h2m-117 1h3m1 0h1m2 0h2m3 0h1m8 0h1m1 0h1m11 0h1m28 0h1m5 0h1m8 0h2m8 0h1m-87 1h1m13 0h1m4 0h1m4 0h1m4 0h1m1 0h1m6 0h2m5 0h1m22 0h1m11 0h1m1 0h1m2 0h1m1 0h1m10 0h2m8 0h1m-109 1h1m9 0h2m3 0h1m1 0h1m7 0h1m1 0h1m2 0h1m2 0h1m3 0h1m7 0h1m17 0h1m31 0h1m4 0h1m11 0h1m-95 1h1m18 0h1m1 0h3m4 0h1m16 0h1m34 0h1m-79 1h2m16 0h1m2 0h1m21 0h3m2 0h1m24 0h1m3 0h1m-100 1h1m1 0h1m18 0h1m19 0h1m7 0h1m20 0h2m21 0h1m18 0h1m-116 1h1m1 0h1m6 0h1m36 0h1m18 0h1m15 0h1m15 0h2m1 0h1m3 0h1m1 0h1m-106 1h1m23 0h1m19 0h1m1 0h1m18 0h1m35 0h1m8 0h2m2 0h1m-109 1h1m14 0h1m21 0h2m5 0h1m20 0h1m7 0h1m7 0h1m23 0h1m1 0h1m-114 1h1m2 0h1m25 0h1m20 0h1m14 0h1m4 0h1m4 0h1m8 0h1m17 0h1m-103 1h1m66 0h1m3 0h1m4 0h1m2 0h1m5 0h1m6 0h1m4 0h1m6 0h1m14 0h1m-114 1h1m21 0h1m16 0h1m25 0h1m3 0h1m12 0h1m18 0h1m3 0h1m6 0h2m-121 1h1m27 0h1m39 0h1m29 0h1m10 0h1m-82 1h1m41 0h1m1 0h1m21 0h1m3 0h1m4 0h1m3 0h2m2 0h1m7 0h1m-120 1h3m2 0h1m18 0h1m1 0h1m2 0h1m15 0h1m22 0h1m2 0h1m5 0h1m20 0h2m2 0h1m-102 1h1m99 0h1m8 0h1m-111 1h1m78 0h1m5 0h1m4 0h1m4 0h1m4 0h1m11 0h1m5 0h1m-117 1h1m44 0h1m24 0h1m15 0h1m8 0h1m13 0h1m2 0h1m2 0h1m-114 1h2m41 0h1m24 0h1m14 0h1m4 0h1m18 0h1m3 0h1m-115 1h1m22 0h1m42 0h1m1 0h1m22 0h1m17 0h2m1 0h1m1 0h1m-115 1h1m22 0h1m59 0h1m12 0h1m7 0h1m-104 1h1m21 0h1m26 0h1m39 0h1m14 0h1m2 0h1m5 0h1m-90 1h1m24 0h1m9 0h1m8 0h2m15 0h2m13 0h1m2 0h1m2 0h1m7 0h1m3 0h1m-118 1h1m45 0h1m17 0h1m5 0h1m17 0h1m6 0h2m14 0h1m-50 1h1m14 0h1m19 0h1m1 0h1m5 0h1m-64 1h1m1 0h1m1 0h1m2 0h1m29 0h1m9 0h1m1 0h1m7 0h1m1 0h1m3 0h1m-107 1h1m4 0h1m17 0h1m2 0h1m1 0h1m35 0h1m1 0h1m3 0h1m3 0h1m9 0h1m3 0h1m24 0h1m-115 1h1m4 0h1m17 0h1m21 0h1m33 0h1m3 0h1m2 0h1m22 0h1m2 0h1m5 0h1m-116 1h1m3 0h1m13 0h1m28 0h1m11 0h1m1 0h1m2 0h1m13 0h1m19 0h1m17 0h1m-98 1h1m4 0h2m15 0h1m6 0h3m9 0h1m4 0h1m18 0h1m3 0h1m4 0h1m21 0h1m-117 1h1m3 0h1m13 0h1m2 0h1m1 0h1m25 0h2m9 0h1m13 0h1m12 0h2m10 0h1m-94 1h1m12 0h1m3 0h1m2 0h3m1 0h1m12 0h1m1 0h1m4 0h3m31 0h1m12 0h1m15 0h1m-111 1h2m10 0h1m7 0h1m3 0h1m2 0h1m6 0h1m1 0h1m5 0h1m1 0h1m2 0h2m10 0h1m8 0h1m3 0h1m3 0h1m4 0h1m12 0h1m1 0h1m-84 1h1m5 0h1m3 0h1m1 0h1m6 0h2m6 0h1m4 0h1m4 0h2m2 0h2m6 0h2m6 0h1m2 0h1m2 0h1m2 0h1m21 0h1m-108 1h2m5 0h1m3 0h1m3 0h1m2 0h1m5 0h1m1 0h2m11 0h1m5 0h1m14 0h1m6 0h1m6 0h1m2 0h1m6 0h1m10 0h1m4 0h1m15 0h1m-116 1h1m1 0h2m1 0h1m19 0h1m3 0h1m5 0h1m2 0h1m19 0h1m13 0h1m12 0h1m2 0h1m1 0h1m9 0h1m-99 1h1m6 0h1m11 0h1m3 0h1m10 0h2m4 0h1m4 0h1m4 0h2m1 0h1m2 0h1m11 0h1m14 0h2m8 0h1m-88 1h2m9 0h1m23 0h1m2 0h1m23 0h1m1 0h1m11 0h1m11 0h1m16 0h1m-115 1h1m6 0h1m2 0h1m5 0h1m5 0h3m24 0h1m9 0h1m2 0h1m31 0h2m5 0h1m-97 1h1m14 0h2m3 0h1m5 0h1m12 0h1m2 0h1m1 0h2m9 0h1m3 0h1m12 0h1m21 0h1m16 0h1"/>
<path stroke="#3e386a" d="M34 0h1m1 0h1m22 0h1m14 0h1m27 0h1m-49 1h1m10 0h1m26 1h1m12 0h1m-105 1h2m73 0h1m11 0h1m-61 1h1m70 0h1m-5 1h1m8 0h1m-40 1h1m10 0h1m20 0h1m-65 1h1m85 0h1m-115 1h1m46 0h1m1 0h1m7 0h1m-42 1h1m5 0h2m4 0h1m31 0h1m21 0h1m8 0h1m-97 1h1m8 0h1m31 0h1m18 0h1m47 0h1m-73 1h1m15 0h1m26 0h1m2 0h1m14 0h1m-76 1h2m1 0h1m13 0h1m6 0h1m7 0h1m5 0h2m2 0h1m4 0h1m6 0h1m6 0h1m18 0h1m-92 1h1m25 0h1m18 0h1m9 0h1m4 0h1m14 0h1m4 0h1m4 0h1m-81 1h1m6 0h1m10 0h1m27 0h1m10 0h1m22 0h1m-90 1h1m2 0h1m46 0h1m13 0h1m14 0h1m-42 1h1m19 0h1m1 0h2m7 0h1m16 0h1m5 0h1m20 0h1m-87 1h1m6 0h1m12 0h1m21 0h1m-63 1h1m16 0h1m25 0h2m10 0h1m12 0h1m7 0h1m-47 1h1m4 0h1m57 0h1m-81 1h1m1 0h1m3 0h1m13 0h1m18 0h1m9 0h1m1 0h1m7 0h1m5 0h3m12 0h2m-101 1h1m21 0h1m7 0h1m2 0h1m3 0h1m15 0h1m11 0h1m12 0h1m13 0h1m-93 1h1m11 0h1m10 0h1m10 0h1m7 0h1m5 0h2m15 0h1m5 0h1m14 0h1m12 0h1m8 0h1m-112 1h1m4 0h1m15 0h1m9 0h1m6 0h1m13 0h1m1 0h1m16 0h1m5 0h1m11 0h1m9 0h1m2 0h1m7 0h1m-103 1h1m9 0h1m29 0h1m1 0h1m1 0h1m2 0h1m6 0h1m6 0h1m8 0h1m6 0h1m2 0h1m5 0h1m5 0h1m-95 1h2m21 0h1m10 0h1m14 0h1m6 0h1m14 0h1m22 0h1m8 0h1m-94 1h1m31 0h1m15 0h1m12 0h1m33 0h1m-102 1h1m40 0h1m2 0h1m12 0h1m39 0h1m-107 1h1m4 0h1m2 0h3m29 0h1m2 0h1m17 0h1m22 0h1m7 0h1m12 0h1m-101 1h1m9 0h1m35 0h1m11 0h1m8 0h1m-64 1h1m9 0h2m2 0h1m7 0h1m2 0h1m10 0h1m3 0h1m8 0h1m7 0h1m11 0h1m7 0h1m13 0h1m3 0h2m-90 1h1m44 0h1m24 0h1m10 0h1m2 0h2m-99 1h1m9 0h1m8 0h1m25 0h1m25 0h1m5 0h2m25 0h1m-110 1h2m1 0h1m18 0h1m22 0h1m21 0h1m1 0h2m2 0h2m34 0h1m-95 1h1m4 0h1m3 0h1m3 0h1m21 0h1m9 0h1m11 0h1m13 0h1m1 0h1m7 0h1m2 0h1m9 0h2m-104 1h1m4 0h1m4 0h1m13 0h1m1 0h1m21 0h1m21 0h2m2 0h1m3 0h1m4 0h1m4 0h1m8 0h1m7 0h1m-111 1h1m30 0h3m7 0h1m1 0h1m17 0h1m8 0h1m12 0h1m5 0h1m5 0h1m7 0h1m-110 1h1m4 0h1m15 0h1m6 0h1m14 0h1m1 0h1m45 0h1m-82 1h1m87 0h1m1 0h1m-93 1h1m2 0h1m4 0h2m10 0h2m14 0h1m5 0h1m19 0h1m1 0h1m22 0h1m9 0h1m-101 1h1m3 0h1m32 0h1m1 0h1m1 0h1m17 0h1m16 0h1m4 0h1m24 0h1m2 0h1m-77 1h1m32 0h1m15 0h1m11 0h2m-91 1h1m9 0h1m44 0h1m3 0h1m1 0h1m10 0h2m1 0h1m32 0h1m-101 1h1m35 0h1m17 0h1m-66 1h1m1 0h1m9 0h1m2 0h1m4 0h1m11 0h1m9 0h1m35 0h1m-80 1h1m10 0h1m5 0h1m2 0h1m4 0h1m22 0h1m11 0h1m3 0h1m18 0h1m6 0h1m2 0h2m2 0h1m9 0h1m-111 1h2m1 0h1m18 0h2m11 0h1m1 0h1m7 0h1m14 0h1m1 0h1m5 0h1m5 0h1m3 0h1m4 0h1m12 0h1m8 0h1m1 0h1m-107 1h2m5 0h1m23 0h1m10 0h1m1 0h1m24 0h1m2 0h1m10 0h1m20 0h1m-104 1h1m2 0h2m7 0h1m1 0h1m2 0h1m21 0h1m36 0h1m4 0h1m18 0h1m-100 1h1m4 0h1m7 0h1m1 0h1m2 0h1m5 0h2m3 0h1m22 0h1m5 0h1m4 0h1m14 0h1m1 0h1m31 0h1m-118 1h1m12 0h1m6 0h2m6 0h1m14 0h1m15 0h1m2 0h1m7 0h1m5 0h1m3 0h1m5 0h1m-88 1h1m14 0h1m1 0h1m14 0h1m11 0h1m10 0h1m14 0h1m1 0h1m12 0h1m23 0h1m-99 1h2m3 0h1m2 0h1m3 0h1m4 0h1m13 0h1m8 0h1m10 0h1m10 0h1m3 0h1m8 0h1m4 0h1m1 0h1m22 0h1m-105 1h1m4 0h1m4 0h1m8 0h1m4 0h1m5 0h1m4 0h1m3 0h1m2 0h1m17 0h1m6 0h1m18 0h1m-98 1h1m1 0h1m2 0h1m7 0h1m15 0h1m5 0h1m8 0h1m7 0h1m1 0h1m3 0h1m7 0h1m3 0h1m7 0h2m3 0h1m8 0h1m9 0h1m-102 1h1m1 0h1m14 0h1m2 0h1m8 0h1m1 0h1m2 0h2m4 0h1m14 0h2m2 0h1m3 0h1m6 0h1m19 0h1m4 0h1m7 0h1m-104 1h2m8 0h1m17 0h1m1 0h1m5 0h1m5 0h1m3 0h1m8 0h1m4 0h1m8 0h1m14 0h1m1 0h1m2 0h2m2 0h1m6 0h1m12 0h1m-111 1h1m10 0h2m16 0h1m6 0h1m22 0h2m21 0h2m10 0h1m7 0h1m-99 1h2m15 0h1m5 0h1m13 0h1m20 0h1m8 0h1m-77 1h2m2 0h1m3 0h1m18 0h2m3 0h1m43 0h1m13 0h1m5 0h1m18 0h1m-107 1h2m30 0h1m8 0h1m1 0h1m13 0h2m8 0h1m7 0h1m1 0h1m2 0h1m7 0h1m4 0h1m4 0h1m11 0h1m-111 1h1m9 0h1m8 0h1m12 0h1m3 0h1m25 0h1m1 0h1m17 0h1m6 0h1m10 0h1m-110 1h2m6 0h1m9 0h1m1 0h1m9 0h1m36 0h1m7 0h1m13 0h1m12 0h1m-103 1h1m1 0h1m3 0h1m24 0h1m16 0h1m17 0h1m8 0h1m9 0h1m8 0h1m-92 1h1m3 0h3m8 0h1m3 0h1m8 0h1m10 0h1m4 0h2m2 0h1m10 0h1m1 0h1m1 0h1m5 0h1m1 0h2m8 0h1m3 0h1m-89 1h1m5 0h1m18 0h2m19 0h1m23 0h1m16 0h1m-86 1h1m4 0h1m16 0h1m61 0h1m21 0h1m-104 1h1m2 0h2m17 0h1m2 0h1m33 0h1m7 0h2m6 0h1m10 0h1m-87 1h1m2 0h1m11 0h1m6 0h2m19 0h1m52 0h2m10 0h1m-110 1h1m4 0h1m16 0h1m3 0h1m12 0h1m7 0h2m13 0h1m21 0h1m19 0h1m-109 1h1m26 0h1m1 0h1m1 0h1m14 0h1m29 0h1m13 0h1m4 0h1m5 0h2m5 0h1m3 0h1m1 0h1m-73 1h1m6 0h1m2 0h2m23 0h2m3 0h1m5 0h1m1 0h1m3 0h3m-72 1h1m4 0h2m8 0h2m12 0h1m5 0h1m5 0h1m12 0h1m12 0h1m7 0h1m4 0h1m14 0h1m-114 1h1m1 0h1m13 0h1m3 0h1m17 0h1m1 0h1m5 0h1m1 0h1m4 0h1m2 0h1m2 0h1m18 0h1m9 0h1m10 0h1m-105 1h1m3 0h1m12 0h1m2 0h1m37 0h1m4 0h1m8 0h1m10 0h1m8 0h1m5 0h1m12 0h1m-114 1h1m2 0h1m2 0h1m2 0h1m13 0h2m15 0h2m20 0h1m5 0h1m3 0h1m3 0h2m1 0h1m1 0h1m10 0h1m22 0h1m4 0h1m-115 1h1m1 0h1m13 0h1m2 0h1m5 0h1m23 0h1m4 0h1m6 0h2m4 0h1m3 0h1m32 0h1m-111 1h1m1 0h2m4 0h1m2 0h1m2 0h2m1 0h1m1 0h1m8 0h1m5 0h1m7 0h1m8 0h1m7 0h1m2 0h1m17 0h2m14 0h1m20 0h1m1 0h1m-118 1h1m1 0h1m9 0h1m11 0h1m7 0h3m9 0h1m5 0h1m3 0h2m6 0h1m22 0h1m12 0h1m1 0h1m11 0h1m-96 1h1m2 0h1m27 0h1m4 0h1m8 0h1m7 0h1m3 0h1m9 0h1m1 0h1m9 0h1m9 0h1m-109 1h2m2 0h1m2 0h3m1 0h1m2 0h1m7 0h2m2 0h1m4 0h1m3 0h2m3 0h1m9 0h1m15 0h1m5 0h1m10 0h1m18 0h1m-94 1h1m3 0h1m20 0h1m5 0h2m2 0h1m3 0h1m2 0h1m2 0h1m7 0h1m7 0h1m7 0h1m12 0h1m21 0h1m-113 1h1m4 0h1m11 0h1m3 0h2m1 0h1m7 0h1m5 0h1m26 0h1m47 0h1m5 0h1m-114 1h3m2 0h1m2 0h1m1 0h1m4 0h1m4 0h1m15 0h1m2 0h2m4 0h1m8 0h1m4 0h1m10 0h1m1 0h1m8 0h1m24 0h1m-110 1h1m6 0h1m10 0h1m10 0h1m12 0h1m16 0h1m20 0h1m1 0h1m2 0h1m27 0h1m-113 1h1m1 0h1m8 0h1m8 0h1m3 0h1m7 0h1m6 0h1m21 0h1m3 0h1m4 0h2m1 0h1m11 0h1m5 0h2m-97 1h1m9 0h1m1 0h1m15 0h1m4 0h1m12 0h1m18 0h1m1 0h1m3 0h1m3 0h1m34 0h1m-108 1h1m2 0h1m8 0h2m5 0h1m4 0h1m34 0h1m22 0h1m1 0h1m6 0h1m16 0h1m-112 1h1m6 0h1m9 0h1m6 0h1m2 0h1m11 0h2m2 0h1m27 0h2m38 0h1m-109 1h1m2 0h2m20 0h1m40 0h2m3 0h1m22 0h1m3 0h1m-101 1h1m1 0h1m14 0h1m3 0h1m23 0h1m39 0h1m7 0h1m14 0h1m1 0h1m7 0h1m-120 1h1m6 0h1m35 0h1m6 0h1m15 0h1m32 0h1m9 0h2m2 0h1m4 0h1m-118 1h2m38 0h2m1 0h1m2 0h1m21 0h1m1 0h1m18 0h1m3 0h1m4 0h1m6 0h1m3 0h2m-69 1h1m5 0h1m15 0h1m5 0h1m23 0h1m6 0h1m4 0h1m11 0h1m-120 1h1m3 0h1m14 0h1m2 0h1m4 0h1m14 0h1m6 0h1m15 0h2m12 0h1m6 0h1m8 0h1m1 0h2m12 0h2m-111 1h3m15 0h1m4 0h1m18 0h1m22 0h1m1 0h1m18 0h1m19 0h1m-109 1h1m1 0h1m19 0h1m5 0h1m18 0h1m1 0h2m28 0h1m6 0h1m1 0h1m19 0h1m-108 1h2m21 0h1m17 0h1m26 0h1m24 0h1m2 0h1m6 0h2m-101 1h1m15 0h1m5 0h1m20 0h1m15 0h2m4 0h1m22 0h1m3 0h1m12 0h1m-109 1h1m1 0h2m40 0h1m1 0h1m27 0h1m17 0h1m3 0h1m16 0h1m2 0h1m-69 1h1m13 0h1m4 0h2m14 0h1m14 0h1m15 0h1m-117 1h1m1 0h1m3 0h1m22 0h1m13 0h1m1 0h1m1 0h1m17 0h1m2 0h1m8 0h1m4 0h1m3 0h1m-83 1h1m16 0h1m3 0h1m1 0h1m16 0h2m2 0h1m2 0h1m20 0h1m16 0h1m2 0h2m1 0h1m11 0h1m4 0h1m1 0h1m2 0h1m-95 1h2m2 0h1m1 0h1m14 0h1m3 0h1m14 0h1m13 0h1m7 0h1m18 0h1m1 0h1m1 0h1m10 0h1m-120 1h2m3 0h1m15 0h2m21 0h1m30 0h1m12 0h1m2 0h1m4 0h2m11 0h1m-104 1h1m14 0h1m3 0h1m3 0h1m11 0h1m2 0h1m2 0h1m1 0h1m21 0h1m23 0h1m3 0h2m12 0h2m-116 1h1m1 0h1m18 0h1m9 0h1m47 0h1m1 0h1m1 0h1m8 0h1m10 0h1m11 0h2m2 0h1m-100 1h1m23 0h1m2 0h1m24 0h1m1 0h1m2 0h1m4 0h1m18 0h2m8 0h2m2 0h1m-90 1h1m2 0h1m18 0h1m5 0h1m5 0h1m8 0h1m4 0h1m6 0h1m3 0h1m8 0h1m8 0h1m4 0h1m11 0h1m-93 1h1m2 0h1m27 0h2m5 0h1m2 0h1m11 0h1m9 0h1m7 0h1m17 0h1m-115 1h1m3 0h1m1 0h1m15 0h1m5 0h2m11 0h1m6 0h1m2 0h1m3 0h1m22 0h1m11 0h1m8 0h1m7 0h1m2 0h1m-112 1h1m3 0h1m3 0h1m8 0h1m7 0h1m2 0h1m8 0h1m1 0h1m1 0h2m1 0h1m1 0h1m1 0h1m6 0h1m12 0h1m4 0h1m1 0h1m1 0h2m2 0h1m9 0h1m7 0h1m11 0h2m2 0h1m-107 1h1m17 0h1m3 0h1m1 0h1m7 0h1m2 0h2m20 0h1m6 0h1m6 0h1m2 0h2m5 0h1m13 0h1m2 0h2m-106 1h1m7 0h1m4 0h1m24 0h2m10 0h1m3 0h1m18 0h1m1 0h1m12 0h1m13 0h1m6 0h1m2 0h2m-117 1h1m9 0h1m5 0h1m6 0h2m39 0h1m4 0h1m11 0h2m1 0h1m2 0h1m7 0h1m1 0h1m5 0h1m-103 1h1m3 0h1m1 0h1m10 0h1m14 0h1m10 0h1m3 0h1m1 0h1m14 0h1m11 0h1m9 0h1m2 0h1m7 0h1m2 0h1m7 0h1m2 0h1m-114 1h1m3 0h1m1 0h1m12 0h1m3 0h2m7 0h1m1 0h1m8 0h1m6 0h1m2 0h2m2 0h1m17 0h1m24 0h1m6 0h3m-111 1h1m10 0h2m2 0h1m16 0h1m1 0h1m1 0h1m7 0h1m4 0h2m2 0h1m12 0h1m5 0h2m7 0h1m5 0h1m3 0h1m3 0h2m2 0h1m9 0h1m-110 1h1m7 0h1m1 0h1m7 0h1m2 0h1m5 0h1m4 0h1m11 0h1m1 0h1m1 0h1m6 0h1m8 0h1m1 0h1m17 0h1m33 0h1m-103 1h2m15 0h1m3 0h1m11 0h1m3 0h1m8 0h1m23 0h1m1 0h1m16 0h1m2 0h1m-102 1h1m19 0h1m2 0h1m1 0h1m2 0h1m7 0h1m1 0h1m4 0h1m39 0h1m5 0h1m2 0h1m9 0h1m-106 1h1m1 0h1m1 0h4m5 0h1m7 0h1m1 0h2m2 0h3m17 0h3m20 0h1m14 0h1m20 0h1m4 0h2m2 0h1m-118 1h1m10 0h2m6 0h1m11 0h1m10 0h1m4 0h1m21 0h1m21 0h1m12 0h1m11 0h1m-119 1h1m5 0h1m1 0h1m2 0h1m7 0h1m1 0h1m6 0h2m13 0h1m4 0h1m3 0h1m22 0h1m3 0h1m8 0h1m15 0h2m1 0h1m-105 1h1m3 0h2m15 0h1m4 0h1m1 0h1m13 0h1m1 0h1m3 0h1m13 0h1m5 0h1m15 0h1m12 0h1m3 0h2m8 0h1m3 0h1m-118 1h1m18 0h2m5 0h1m3 0h1m17 0h2m21 0h1m11 0h1m3 0h2m2 0h1m6 0h2m13 0h1m-88 1h1m15 0h1m4 0h1m17 0h1m3 0h1m21 0h1m10 0h1m7 0h1m4 0h1m-114 1h1m3 0h1m14 0h1m3 0h2m3 0h1m38 0h1m2 0h2m15 0h2m2 0h1m-95 1h1m27 0h1m19 0h1m18 0h2m1 0h1m19 0h1m7 0h1m17 0h1m-111 1h1m20 0h2m15 0h1m36 0h1m8 0h1m17 0h2m9 0h1m-117 1h1m23 0h1m16 0h1m25 0h1m30 0h1m2 0h1m6 0h2m-112 1h3m19 0h1m3 0h1m20 0h2m17 0h1m1 0h1m5 0h1m19 0h1m10 0h1m7 0h1m-113 1h1m20 0h1m23 0h1m41 0h1m6 0h1m7 0h1m9 0h1m3 0h1m-117 1h5m38 0h2m22 0h1m23 0h1m6 0h1m1 0h1m2 0h1m6 0h2m3 0h1m-114 1h1m1 0h1m21 0h1m38 0h1m22 0h2m2 0h1m6 0h1m-99 1h1m65 0h1m18 0h3m5 0h1m6 0h1m16 0h1m-120 1h1m2 0h1m1 0h1m41 0h1m19 0h1m1 0h1m13 0h1m12 0h1m6 0h1m6 0h1m-107 1h1m18 0h1m60 0h1m10 0h1m18 0h1m2 0h1m-117 1h2m22 0h1m22 0h1m19 0h1m1 0h1m9 0h1m17 0h1m2 0h1m17 0h1m-121 1h1m1 0h1m2 0h2m65 0h1m9 0h1m13 0h1m4 0h1m15 0h1m-118 1h1m1 0h1m25 0h1m72 0h1m8 0h1m4 0h1m-113 1h1m1 0h1m20 0h1m19 0h1m24 0h1m18 0h1m11 0h1m1 0h2m-59 1h2m45 0h1m1 0h1m7 0h1m8 0h1m-109 1h2m62 0h1m6 0h1m9 0h1m18 0h1m7 0h1m-114 1h1m23 0h2m2 0h1m18 0h1m18 0h1m2 0h1m22 0h1m5 0h2m6 0h1m-103 1h1m22 0h1m40 0h1m5 0h1m15 0h1m23 0h1m-111 1h1m41 0h3m2 0h1m13 0h1m8 0h1m14 0h1m2 0h2m3 0h1m16 0h1m-113 1h1m1 0h1m2 0h1m15 0h1m6 0h1m16 0h1m18 0h1m10 0h1m19 0h1m8 0h1m1 0h1m5 0h1m-110 1h1m21 0h2m1 0h1m14 0h1m2 0h1m4 0h1m19 0h1m1 0h1m7 0h1m12 0h1m17 0h1m1 0h1m-117 1h2m1 0h2m1 0h1m18 0h1m30 0h1m5 0h1m5 0h1m4 0h1m15 0h1m14 0h1m4 0h1m-101 1h1m13 0h1m4 0h1m2 0h1m14 0h2m23 0h1m15 0h1m7 0h1m8 0h1m2 0h1m-108 1h1m7 0h1m12 0h1m1 0h1m1 0h1m15 0h1m3 0h1m3 0h1m8 0h1m1 0h1m2 0h1m7 0h1m6 0h1m3 0h1m7 0h1m7 0h1m6 0h1m4 0h1m-109 1h1m5 0h1m13 0h3m2 0h1m18 0h2m9 0h1m4 0h1m3 0h1m4 0h1m1 0h1m1 0h1m35 0h1m3 0h1m-110 1h1m1 0h1m9 0h1m3 0h1m5 0h1m5 0h2m11 0h1m24 0h1m7 0h2m1 0h1m12 0h1m2 0h1m1 0h1m2 0h1m-97 1h1m5 0h1m4 0h1m3 0h1m10 0h1m3 0h1m2 0h1m11 0h1m12 0h1m3 0h1m19 0h1m13 0h1m3 0h2m5 0h1m-107 1h2m3 0h1m2 0h1m3 0h1m5 0h1m3 0h1m2 0h1m3 0h1m8 0h1m3 0h1m1 0h1m1 0h3m5 0h1m7 0h1m6 0h1m2 0h1m20 0h1m1 0h1m4 0h1m-109 1h1m3 0h2m6 0h1m1 0h1m4 0h1m4 0h1m2 0h3m2 0h2m5 0h1m22 0h1m2 0h1m9 0h1m7 0h1m4 0h1m1 0h1m1 0h1m5 0h1m-97 1h2m1 0h1m10 0h1m1 0h1m2 0h2m5 0h2m18 0h1m4 0h1m22 0h1m5 0h1m3 0h1m1 0h1m3 0h1m11 0h2m8 0h3m1 0h1m-119 1h2m2 0h1m9 0h1m2 0h1m2 0h1m9 0h1m16 0h1m7 0h1m1 0h1m10 0h1m10 0h1m2 0h1m2 0h1m3 0h3m25 0h1m-117 1h1m15 0h2m3 0h1m2 0h1m3 0h1m7 0h1m12 0h1m7 0h1m22 0h1m3 0h1m31 0h1"/>
<path stroke="#382f56" d="M8 0h1m52 0h1m45 0h1m4 0h1m-111 1h1m1 0h1m42 0h1m4 0h1m6 0h1m16 0h1m32 0h1m-79 1h1m79 0h1m1 0h1m-87 1h1m7 0h1m14 0h1m1 0h1m1 0h1m16 0h1m7 0h1m22 0h1m-88 1h1m2 0h1m13 0h1m17 0h1m9 0h1m34 0h1m-96 1h1m14 0h1m5 0h1m11 0h1m14 0h1m30 0h1m10 0h1m7 0h1m20 0h1m-91 1h1m1 0h1m17 0h1m10 0h1m6 0h1m9 0h1m11 0h1m18 0h1m-109 1h1m2 0h1m19 0h2m20 0h1m6 0h1m11 0h1m13 0h1m19 0h1m4 0h2m-95 1h1m14 0h1m13 0h1m32 0h1m3 0h1m9 0h1m15 0h1m-96 1h1m14 0h1m8 0h1m11 0h1m28 0h1m-72 1h1m11 0h1m28 0h1m5 0h1m17 0h1m32 0h1m6 0h2m-61 1h1m12 0h1m-54 1h1m19 0h1m5 0h1m1 0h1m9 0h1m24 0h1m1 0h1m21 0h1m3 0h1m-89 1h1m6 0h1m23 0h2m1 0h1m12 0h1m7 0h1m9 0h1m4 0h1m-69 1h1m2 0h1m2 0h1m1 0h1m1 0h1m3 0h1m1 0h1m8 0h1m1 0h1m9 0h1m1 0h1m4 0h1m6 0h1m3 0h1m10 0h1m8 0h1m22 0h1m-103 1h1m14 0h1m8 0h2m6 0h1m24 0h2m3 0h1m3 0h1m8 0h1m3 0h2m6 0h1m4 0h1m7 0h2m2 0h1m-99 1h1m4 0h1m10 0h1m3 0h1m2 0h1m1 0h1m10 0h1m3 0h1m9 0h1m33 0h1m6 0h1m-101 1h1m1 0h1m10 0h1m8 0h2m21 0h1m6 0h1m19 0h1m4 0h2m29 0h1m-110 1h2m1 0h2m1 0h1m5 0h1m2 0h1m6 0h2m6 0h1m1 0h1m12 0h1m20 0h1m23 0h3m6 0h1m-99 1h1m4 0h3m21 0h1m16 0h1m25 0h1m-74 1h1m3 0h1m1 0h1m45 0h1m3 0h1m2 0h1m9 0h1m10 0h1m4 0h1m8 0h2m-86 1h1m1 0h1m27 0h1m24 0h1m1 0h1m12 0h1m18 0h1m9 0h1m-89 1h1m13 0h1m15 0h1m7 0h2m-61 1h1m12 0h1m1 0h2m2 0h3m1 0h1m12 0h1m14 0h1m9 0h1m32 0h1m1 0h1m12 0h1m-110 1h1m2 0h1m2 0h1m9 0h1m5 0h1m3 0h1m1 0h1m2 0h1m20 0h1m35 0h1m2 0h1m6 0h1m17 0h1m-118 1h1m6 0h1m4 0h1m2 0h2m8 0h2m6 0h1m6 0h1m2 0h1m2 0h2m11 0h1m7 0h1m3 0h1m18 0h1m5 0h1m7 0h1m-102 1h1m1 0h1m2 0h1m3 0h1m2 0h1m12 0h1m5 0h1m4 0h2m3 0h2m25 0h1m14 0h2m1 0h1m1 0h1m9 0h1m-88 1h1m3 0h1m7 0h1m10 0h1m3 0h1m1 0h1m1 0h1m3 0h1m1 0h1m20 0h1m31 0h1m6 0h1m-95 1h1m1 0h1m1 0h1m1 0h1m2 0h1m35 0h1m12 0h1m10 0h1m23 0h1m-111 1h1m8 0h1m4 0h2m1 0h1m2 0h1m12 0h1m3 0h1m6 0h1m6 0h1m21 0h1m4 0h1m6 0h1m1 0h1m3 0h2m-94 1h1m6 0h1m1 0h2m6 0h1m2 0h1m22 0h1m7 0h1m6 0h2m20 0h1m2 0h1m2 0h2m18 0h1m-107 1h1m4 0h1m7 0h1m5 0h1m3 0h1m4 0h1m11 0h1m6 0h1m2 0h1m10 0h1m10 0h1m2 0h1m3 0h1m4 0h2m2 0h1m3 0h1m7 0h1m2 0h1m-92 1h1m7 0h2m1 0h1m3 0h2m6 0h1m20 0h1m5 0h1m7 0h1m11 0h1m12 0h1m21 0h1m-105 1h1m12 0h1m2 0h1m8 0h1m18 0h1m20 0h2m12 0h1m2 0h1m16 0h1m5 0h1m-118 1h3m2 0h3m9 0h2m1 0h1m2 0h1m3 0h1m2 0h1m8 0h1m1 0h1m1 0h1m8 0h1m9 0h1m2 0h1m1 0h1m8 0h1m14 0h1m11 0h1m5 0h1m-113 1h1m4 0h3m2 0h1m1 0h1m13 0h1m1 0h1m5 0h1m10 0h1m8 0h2m5 0h1m3 0h1m3 0h1m4 0h1m1 0h3m5 0h1m11 0h1m1 0h1m-98 1h1m1 0h2m7 0h1m11 0h1m3 0h1m16 0h1m9 0h1m4 0h1m11 0h1m1 0h1m2 0h1m3 0h1m2 0h2m1 0h1m22 0h1m8 0h1m-118 1h3m10 0h1m3 0h1m3 0h2m1 0h1m13 0h2m2 0h1m8 0h1m41 0h1m1 0h1m1 0h1m-96 1h1m14 0h2m2 0h1m4 0h1m16 0h1m1 0h1m25 0h1m22 0h1m4 0h1m6 0h1m-106 1h1m1 0h1m1 0h1m10 0h1m5 0h1m5 0h1m1 0h1m5 0h1m2 0h1m3 0h1m5 0h1m8 0h1m3 0h1m1 0h1m24 0h1m8 0h1m5 0h1m-105 1h1m1 0h1m5 0h1m9 0h2m4 0h1m27 0h1m13 0h1m3 0h1m10 0h2m20 0h1m-106 1h1m9 0h1m6 0h1m1 0h1m2 0h1m6 0h1m13 0h1m2 0h1m20 0h1m7 0h1m12 0h2m4 0h1m8 0h1m-99 1h1m11 0h1m12 0h2m42 0h1m9 0h1m2 0h1m2 0h1m5 0h2m1 0h1m11 0h1m-106 1h1m3 0h1m8 0h2m1 0h2m1 0h1m1 0h1m14 0h1m9 0h1m13 0h1m10 0h1m10 0h2m13 0h1m4 0h1m2 0h1m4 0h1m2 0h1m-120 1h1m5 0h1m1 0h1m16 0h1m12 0h1m20 0h1m3 0h1m3 0h1m12 0h1m3 0h1m8 0h1m11 0h1m2 0h1m10 0h1m-119 1h1m1 0h1m20 0h1m14 0h1m2 0h1m4 0h2m2 0h1m8 0h2m11 0h1m8 0h1m21 0h1m2 0h1m-107 1h2m6 0h1m1 0h1m4 0h3m5 0h1m2 0h1m3 0h1m11 0h2m4 0h2m44 0h1m20 0h1m-109 1h1m12 0h1m1 0h1m5 0h1m4 0h1m1 0h1m7 0h1m9 0h1m7 0h1m17 0h1m8 0h1m5 0h1m8 0h1m11 0h2m-117 1h1m14 0h1m3 0h1m3 0h1m8 0h1m1 0h2m1 0h1m10 0h1m3 0h1m9 0h1m11 0h2m3 0h1m19 0h1m8 0h1m1 0h1m6 0h1m1 0h1m-121 1h1m2 0h1m13 0h1m7 0h2m16 0h1m11 0h2m4 0h1m10 0h1m8 0h1m15 0h1m6 0h1m-105 1h1m1 0h1m9 0h1m2 0h1m2 0h1m11 0h1m12 0h1m4 0h1m1 0h1m54 0h1m-104 1h1m1 0h1m3 0h1m2 0h1m1 0h1m22 0h2m2 0h1m9 0h1m1 0h1m21 0h1m5 0h1m7 0h1m1 0h2m6 0h2m3 0h1m6 0h1m-110 1h1m1 0h1m1 0h1m8 0h1m12 0h1m2 0h1m9 0h1m8 0h1m15 0h1m4 0h1m9 0h1m11 0h1m17 0h1m6 0h1m-113 1h1m5 0h1m1 0h2m6 0h1m4 0h1m50 0h1m3 0h2m5 0h1m3 0h1m3 0h1m3 0h1m19 0h1m-116 1h1m2 0h1m6 0h1m1 0h1m1 0h1m2 0h2m4 0h1m15 0h1m15 0h1m9 0h1m2 0h2m16 0h1m2 0h1m2 0h1m-97 1h1m3 0h2m8 0h2m1 0h1m2 0h1m6 0h3m1 0h1m12 0h1m4 0h2m4 0h1m3 0h1m2 0h1m22 0h1m1 0h1m14 0h1m14 0h2m-119 1h1m11 0h2m4 0h2m7 0h1m36 0h2m17 0h2m12 0h1m2 0h1m1 0h1m1 0h1m2 0h1m4 0h1m-112 1h1m12 0h1m9 0h1m6 0h2m15 0h1m19 0h1m8 0h1m1 0h3m2 0h1m4 0h1m1 0h1m1 0h1m16 0h1m-104 1h1m4 0h1m2 0h1m4 0h1m8 0h1m8 0h1m7 0h2m2 0h1m14 0h1m3 0h1m14 0h1m22 0h1m4 0h1m-112 1h1m8 0h1m4 0h1m2 0h1m1 0h1m2 0h1m14 0h2m3 0h2m2 0h1m3 0h2m7 0h1m1 0h3m4 0h1m40 0h2m6 0h1m-119 1h2m8 0h1m7 0h1m1 0h2m1 0h1m6 0h1m11 0h1m9 0h1m17 0h1m37 0h1m7 0h1m-117 1h2m19 0h3m18 0h2m3 0h1m50 0h1m3 0h1m-98 1h1m2 0h1m16 0h1m2 0h1m13 0h1m3 0h1m17 0h1m3 0h1m1 0h2m13 0h1m27 0h1m-114 1h1m3 0h1m3 0h1m9 0h1m1 0h1m3 0h1m3 0h1m42 0h1m17 0h2m9 0h2m2 0h1m4 0h1m1 0h1m-94 1h1m1 0h1m5 0h1m40 0h1m1 0h1m27 0h1m5 0h1m6 0h1m-111 1h1m3 0h1m22 0h1m1 0h1m22 0h1m13 0h2m2 0h1m2 0h1m14 0h2m4 0h2m8 0h1m14 0h1m-99 1h1m3 0h1m14 0h1m4 0h2m16 0h1m9 0h1m12 0h1m22 0h2m3 0h1m1 0h1m-118 1h3m3 0h1m12 0h1m6 0h1m19 0h1m5 0h1m9 0h1m6 0h1m16 0h1m9 0h1m13 0h1m3 0h2m-116 1h1m1 0h2m2 0h2m13 0h1m21 0h2m23 0h2m25 0h1m1 0h1m6 0h1m-99 1h1m15 0h1m8 0h1m10 0h1m5 0h1m24 0h1m9 0h1m15 0h1m-98 1h2m2 0h1m2 0h1m9 0h1m3 0h2m17 0h2m9 0h1m10 0h1m7 0h1m18 0h1m13 0h1m1 0h1m3 0h1m6 0h1m-118 1h2m3 0h1m11 0h1m22 0h1m1 0h2m18 0h1m3 0h2m2 0h1m20 0h1m7 0h1m2 0h1m1 0h1m1 0h1m9 0h1m-111 1h2m14 0h1m18 0h1m1 0h1m6 0h1m20 0h1m23 0h1m4 0h1m10 0h1m-111 1h1m5 0h1m9 0h1m2 0h1m2 0h3m3 0h1m8 0h1m1 0h1m4 0h1m29 0h2m5 0h2m2 0h1m2 0h1m1 0h1m19 0h1m4 0h1m-117 1h1m23 0h1m4 0h2m7 0h1m3 0h1m2 0h1m11 0h1m7 0h1m2 0h1m17 0h1m13 0h1m6 0h2m6 0h1m-116 1h1m5 0h1m10 0h2m7 0h1m3 0h1m2 0h1m1 0h1m10 0h1m4 0h1m3 0h1m3 0h1m5 0h2m51 0h1m-117 1h1m1 0h1m6 0h1m14 0h1m1 0h1m9 0h1m2 0h2m1 0h1m2 0h1m4 0h1m10 0h1m18 0h1m18 0h1m5 0h1m5 0h1m1 0h1m-112 1h1m3 0h1m3 0h1m6 0h1m1 0h1m6 0h1m7 0h1m5 0h1m1 0h1m6 0h1m4 0h1m12 0h1m1 0h1m4 0h1m16 0h1m4 0h1m6 0h1m13 0h1m-120 1h1m3 0h1m6 0h1m2 0h1m3 0h1m3 0h1m4 0h2m2 0h1m10 0h1m11 0h1m2 0h1m6 0h1m1 0h1m1 0h2m17 0h1m4 0h1m3 0h1m5 0h1m1 0h2m2 0h1m10 0h1m-116 1h2m1 0h1m3 0h1m4 0h1m3 0h1m6 0h1m8 0h1m1 0h2m10 0h1m1 0h1m2 0h1m1 0h1m2 0h1m16 0h1m1 0h1m15 0h1m3 0h1m2 0h1m6 0h1m7 0h1m-117 1h1m3 0h1m3 0h1m2 0h1m1 0h1m2 0h3m13 0h1m2 0h1m13 0h1m8 0h1m4 0h1m4 0h2m5 0h1m3 0h1m10 0h1m18 0h1m6 0h1m-118 1h3m3 0h1m2 0h1m1 0h1m5 0h1m5 0h3m2 0h1m1 0h1m5 0h3m6 0h1m8 0h1m2 0h1m7 0h1m6 0h1m2 0h2m1 0h2m18 0h1m-100 1h1m2 0h1m1 0h1m5 0h2m7 0h1m15 0h1m4 0h1m10 0h1m3 0h1m5 0h2m4 0h1m7 0h1m10 0h2m15 0h1m5 0h1m-106 1h1m5 0h1m2 0h1m6 0h1m4 0h1m31 0h1m5 0h1m2 0h1m8 0h1m7 0h2m11 0h1m4 0h1m3 0h1m13 0h1m-119 1h2m4 0h1m5 0h1m1 0h1m2 0h1m4 0h1m12 0h1m1 0h1m1 0h1m2 0h1m11 0h2m6 0h3m6 0h1m2 0h1m11 0h1m7 0h1m6 0h1m2 0h1m3 0h1m1 0h1m-111 1h2m17 0h1m2 0h1m1 0h2m4 0h1m5 0h1m2 0h1m3 0h3m5 0h1m9 0h1m18 0h1m1 0h1m3 0h1m16 0h1m2 0h1m-103 1h2m4 0h1m4 0h3m2 0h1m1 0h1m7 0h1m9 0h1m3 0h1m3 0h1m2 0h1m11 0h1m5 0h1m1 0h2m16 0h1m2 0h1m5 0h1m5 0h2m5 0h1m1 0h1m2 0h1m-119 1h1m5 0h1m2 0h1m12 0h1m2 0h1m6 0h1m38 0h2m1 0h1m14 0h2m3 0h1m1 0h1m5 0h1m2 0h1m4 0h1m-108 1h1m2 0h1m13 0h2m4 0h1m36 0h2m4 0h1m1 0h1m4 0h1m9 0h1m6 0h1m22 0h1m-114 1h1m5 0h1m8 0h1m3 0h1m2 0h1m4 0h1m13 0h1m1 0h1m1 0h1m24 0h1m12 0h1m3 0h1m2 0h1m1 0h2m10 0h1m-88 1h2m7 0h1m16 0h1m1 0h2m17 0h1m2 0h1m3 0h1m15 0h1m5 0h2m7 0h1m5 0h1m-112 1h1m8 0h1m9 0h1m3 0h1m1 0h1m1 0h2m2 0h1m57 0h1m5 0h1m17 0h1m-113 1h1m18 0h1m2 0h1m45 0h1m3 0h1m16 0h1m14 0h1m2 0h1m-107 1h1m3 0h1m1 0h1m17 0h2m2 0h1m15 0h1m20 0h1m21 0h1m2 0h1m22 0h1m-116 1h1m1 0h2m2 0h1m1 0h1m21 0h1m20 0h1m16 0h1m4 0h1m15 0h3m22 0h1m5 0h1m-119 1h1m3 0h2m17 0h1m3 0h1m39 0h1m2 0h1m15 0h1m1 0h1m23 0h2m-114 1h1m3 0h2m13 0h1m2 0h1m1 0h2m16 0h1m25 0h1m19 0h1m4 0h1m10 0h1m13 0h1m-120 1h1m3 0h2m22 0h1m21 0h1m36 0h1m23 0h1m5 0h3m-118 1h1m1 0h1m1 0h1m35 0h1m24 0h1m22 0h1m1 0h1m5 0h1m1 0h1m11 0h1m1 0h1m-116 1h1m20 0h1m1 0h1m1 0h1m3 0h1m13 0h1m6 0h1m14 0h2m21 0h1m4 0h1m6 0h1m8 0h1m1 0h1m1 0h1m-110 1h3m14 0h1m1 0h1m1 0h1m22 0h2m41 0h1m18 0h1m-106 1h1m17 0h1m23 0h1m1 0h1m2 0h1m19 0h1m20 0h1m6 0h1m1 0h1m7 0h1m3 0h1m4 0h2m-120 1h2m1 0h1m45 0h1m16 0h1m4 0h1m25 0h1m5 0h2m11 0h1m-117 1h1m4 0h1m16 0h1m5 0h1m20 0h1m22 0h1m16 0h1m5 0h1m2 0h1m1 0h2m3 0h1m1 0h1m3 0h1m3 0h1m-114 1h1m1 0h1m18 0h1m1 0h4m34 0h2m2 0h2m3 0h1m14 0h1m4 0h1m2 0h1m3 0h1m5 0h1m1 0h1m3 0h1m2 0h1m-115 1h2m20 0h1m1 0h1m3 0h1m22 0h2m15 0h2m13 0h1m14 0h1m12 0h1m-112 1h1m21 0h1m1 0h1m19 0h1m8 0h1m30 0h1m8 0h1m5 0h1m1 0h1m4 0h1m9 0h1m-112 1h1m14 0h1m2 0h1m16 0h1m9 0h1m11 0h1m4 0h1m2 0h1m6 0h1m5 0h1m4 0h1m5 0h1m4 0h1m5 0h1m3 0h1m-111 1h1m3 0h1m1 0h1m2 0h1m12 0h1m5 0h1m3 0h1m9 0h1m6 0h1m11 0h2m2 0h1m2 0h1m2 0h1m24 0h1m14 0h1m6 0h1m-112 1h1m1 0h1m13 0h1m6 0h1m9 0h1m4 0h1m2 0h1m9 0h1m2 0h1m23 0h1m3 0h1m2 0h2m1 0h3m10 0h1m7 0h1m-112 1h2m1 0h1m11 0h1m5 0h1m3 0h1m8 0h1m5 0h1m11 0h1m1 0h1m5 0h1m17 0h2m18 0h2m4 0h1m-109 1h1m2 0h2m1 0h1m10 0h1m2 0h1m3 0h1m11 0h1m14 0h1m1 0h2m2 0h1m1 0h1m2 0h1m3 0h1m4 0h1m9 0h1m1 0h1m3 0h1m6 0h1m6 0h2m11 0h2m1 0h1m-116 1h1m6 0h1m8 0h2m4 0h1m1 0h2m3 0h1m18 0h2m2 0h1m6 0h1m4 0h1m51 0h1m-119 1h2m5 0h1m15 0h1m1 0h1m2 0h1m5 0h1m1 0h1m9 0h1m2 0h1m12 0h3m2 0h1m1 0h1m3 0h1m16 0h1m9 0h1m2 0h1m6 0h1m-109 1h1m7 0h1m1 0h1m9 0h1m3 0h1m4 0h2m2 0h1m10 0h1m24 0h1m2 0h1m14 0h1m1 0h1m18 0h1m1 0h2m-115 1h1m1 0h1m7 0h2m6 0h2m27 0h1m7 0h2m3 0h3m9 0h1m1 0h1m9 0h1m30 0h1m2 0h1m-111 1h1m14 0h1m4 0h1m5 0h1m12 0h1m4 0h1m4 0h1m2 0h1m7 0h1m31 0h1m13 0h1m2 0h1m-116 1h1m3 0h1m1 0h3m9 0h2m1 0h1m7 0h1m1 0h1m14 0h1m5 0h1m4 0h1m4 0h1m12 0h1m22 0h1m-99 1h1m4 0h1m7 0h1m1 0h1m1 0h1m2 0h1m1 0h1m4 0h1m17 0h1m2 0h1m45 0h1m11 0h1m8 0h1m-116 1h1m1 0h1m7 0h1m1 0h1m5 0h1m7 0h1m6 0h1m7 0h1m1 0h1m25 0h2m4 0h1m13 0h1m4 0h1m2 0h1m4 0h1m1 0h1m6 0h1m-113 1h1m10 0h1m16 0h1m3 0h1m4 0h1m9 0h2m1 0h1m3 0h1m8 0h1m11 0h1m6 0h1m2 0h1m1 0h1m6 0h1m5 0h1m10 0h1m4 0h1m-118 1h1m2 0h1m3 0h1m10 0h1m1 0h1m2 0h1m14 0h1m3 0h1m25 0h2m6 0h1m43 0h1m-114 1h1m9 0h1m1 0h1m3 0h1m1 0h1m21 0h2m25 0h1m28 0h1m6 0h2m2 0h1m5 0h1m-119 1h4m3 0h1m15 0h1m4 0h1m2 0h1m36 0h1m16 0h1m1 0h1m22 0h1m-109 1h1m15 0h1m27 0h1m18 0h1m41 0h1m3 0h1m-114 1h1m3 0h1m2 0h1m1 0h1m13 0h1m2 0h1m1 0h1m48 0h1m5 0h1m-79 1h1m1 0h2m14 0h1m1 0h1m3 0h1m15 0h1m22 0h1m4 0h2m24 0h1m-98 1h1m5 0h1m37 0h1m46 0h1m2 0h1m7 0h2m8 0h1m5 0h1m-113 1h1m14 0h1m67 0h1m2 0h1m7 0h1m12 0h1m3 0h1m-94 1h1m2 0h1m17 0h2m1 0h1m43 0h1m1 0h1m1 0h1m-97 1h1m2 0h1m1 0h1m15 0h1m2 0h1m22 0h1m47 0h1m9 0h1m-104 1h1m42 0h1m48 0h1m18 0h1m-115 1h1m1 0h1m2 0h1m42 0h1m22 0h1m1 0h1m17 0h1m8 0h1m5 0h1m7 0h1m-92 1h1m4 0h1m60 0h1m13 0h1m-78 1h1m42 0h1m1 0h1m13 0h1m-87 1h1m25 0h1m20 0h1m47 0h1m20 0h1m-91 1h1m1 0h1m21 0h1m42 0h1m2 0h1m8 0h1m7 0h1m-110 1h1m1 0h1m21 0h1m69 0h1m4 0h2m3 0h2m10 0h1m-121 1h1m24 0h1m2 0h1m17 0h1m20 0h1m20 0h2m1 0h1m8 0h1m2 0h1m2 0h1m6 0h1m4 0h1m-91 1h1m39 0h1m1 0h1m18 0h2m7 0h1m10 0h1m9 0h1m-95 1h2m21 0h1m23 0h2m9 0h1m29 0h2m-109 1h1m18 0h1m43 0h2m22 0h1m5 0h1m13 0h1m-112 1h2m1 0h2m60 0h1m23 0h1m26 0h1m-115 1h1m22 0h1m1 0h1m44 0h1m5 0h1m11 0h1m3 0h1m3 0h1m3 0h1m15 0h1m-118 1h1m1 0h2m20 0h1m1 0h1m15 0h2m25 0h1m22 0h1m9 0h1m-106 1h2m4 0h2m15 0h1m20 0h1m1 0h1m24 0h1m19 0h1m5 0h1m2 0h1m-101 1h1m48 0h1m17 0h1m15 0h1m18 0h1m2 0h1m7 0h1m3 0h1m-91 1h1m22 0h2m21 0h2m21 0h1m7 0h2m-103 1h1m2 0h1m19 0h1m49 0h1m12 0h1m5 0h1m4 0h1m2 0h1m5 0h1m2 0h1m-111 1h1m5 0h1m13 0h1m3 0h1m17 0h1m20 0h1m4 0h1m3 0h1m11 0h1m3 0h1m3 0h2m2 0h1m7 0h1m10 0h1m-112 1h1m18 0h1m3 0h1m12 0h1m1 0h2m9 0h2m1 0h1m2 0h1m2 0h1m1 0h1m2 0h1m4 0h1m4 0h1m8 0h1m17 0h1m2 0h1m-107 1h2m5 0h1m9 0h1m6 0h1m19 0h1m4 0h1m15 0h1m10 0h1m5 0h1m5 0h2m11 0h1m14 0h1m-120 1h2m1 0h2m16 0h1m10 0h1m8 0h1m3 0h1m5 0h1m8 0h1m49 0h1m8 0h1m-119 1h1m2 0h1m5 0h2m11 0h1m9 0h1m29 0h1m30 0h1m5 0h1m10 0h1m2 0h1m4 0h1m-111 1h1m3 0h1m3 0h1m13 0h1m3 0h2m5 0h3m4 0h1m2 0h1m3 0h1m12 0h1m3 0h1m5 0h1m1 0h1m10 0h1m9 0h1m2 0h1m-106 1h1m4 0h1m1 0h2m3 0h2m2 0h1m2 0h2m1 0h2m4 0h1m6 0h1m4 0h1m3 0h1m9 0h1m5 0h2m4 0h1m13 0h1m1 0h1m9 0h1m3 0h1m2 0h1m5 0h1m-94 1h1m3 0h1m14 0h1m4 0h1m2 0h1m6 0h1m10 0h1m7 0h1m7 0h1m40 0h1m-115 1h2m3 0h1m2 0h1m2 0h1m1 0h4m4 0h1m9 0h1m5 0h1m2 0h1m9 0h1m5 0h2m6 0h1m14 0h2m1 0h1m7 0h1m-85 1h1m12 0h2m6 0h1m9 0h2m4 0h3m4 0h1m3 0h2m9 0h1m2 0h1m2 0h1m1 0h1m2 0h1m10 0h2m8 0h1m8 0h1m13 0h1m-120 1h1m1 0h1m2 0h1m3 0h1m1 0h1m9 0h1m9 0h1m2 0h2m3 0h2m3 0h2m1 0h1m4 0h1m21 0h1m15 0h1m4 0h1"/>
<path stroke="#322745" d="M20 0h1m4 0h1m9 0h1m11 0h1m62 0h1m4 0h1m-101 1h1m1 0h1m23 0h1m3 0h1m22 0h1m8 0h1m6 0h1m12 0h1m7 0h1m2 0h1m-109 1h1m1 0h1m21 0h1m17 0h1m11 0h1m11 0h1m17 0h1m-80 1h1m26 0h1m1 0h1m7 0h1m23 0h1m16 0h2m23 0h1m4 0h1m-105 1h1m7 0h1m20 0h1m3 0h1m16 0h1m1 0h2m5 0h2m43 0h1m-100 1h1m5 0h1m4 0h1m2 0h1m9 0h1m1 0h1m4 0h1m14 0h1m5 0h1m1 0h3m5 0h2m34 0h1m7 0h1m-113 1h1m2 0h1m10 0h1m10 0h1m24 0h1m7 0h1m13 0h1m1 0h1m10 0h1m4 0h1m8 0h1m-94 1h1m17 0h1m5 0h1m8 0h1m8 0h2m12 0h1m8 0h1m3 0h1m4 0h1m-77 1h2m15 0h1m5 0h1m10 0h1m16 0h1m3 0h1m13 0h2m21 0h1m-92 1h1m6 0h1m3 0h1m20 0h1m11 0h1m16 0h1m14 0h1m11 0h1m12 0h1m-111 1h1m9 0h3m13 0h1m16 0h1m19 0h1m1 0h1m15 0h1m10 0h1m1 0h1m12 0h1m1 0h1m-101 1h1m2 0h1m1 0h1m8 0h1m2 0h1m18 0h1m14 0h1m21 0h1m2 0h2m7 0h2m8 0h1m2 0h1m1 0h1m-103 1h2m3 0h1m12 0h1m19 0h1m3 0h1m8 0h1m2 0h1m13 0h1m13 0h1m1 0h1m8 0h1m-103 1h1m2 0h1m13 0h1m3 0h1m5 0h1m2 0h1m6 0h1m29 0h1m43 0h1m-70 1h1m3 0h1m1 0h1m1 0h1m7 0h1m5 0h1m8 0h1m3 0h1m32 0h1m-110 1h1m1 0h2m7 0h1m6 0h2m3 0h1m2 0h1m11 0h1m8 0h1m2 0h1m56 0h1m5 0h1m1 0h1m-116 1h1m1 0h1m9 0h2m7 0h1m1 0h1m1 0h1m27 0h1m17 0h1m9 0h1m1 0h1m4 0h1m8 0h1m2 0h2m-103 1h1m14 0h1m3 0h1m2 0h1m4 0h1m2 0h2m4 0h1m4 0h1m3 0h1m1 0h1m16 0h1m1 0h2m27 0h1m2 0h1m7 0h1m-103 1h1m10 0h1m22 0h1m10 0h2m6 0h1m4 0h1m6 0h1m8 0h2m6 0h1m2 0h1m5 0h1m12 0h1m5 0h1m2 0h2m-120 1h1m1 0h1m3 0h1m6 0h1m1 0h2m10 0h1m2 0h1m3 0h2m5 0h1m9 0h1m2 0h1m9 0h1m5 0h1m10 0h2m2 0h1m2 0h1m5 0h1m3 0h1m2 0h1m-94 1h1m11 0h1m16 0h1m2 0h1m3 0h1m7 0h1m11 0h1m22 0h1m2 0h1m18 0h2m-111 1h2m6 0h2m6 0h1m4 0h1m2 0h1m1 0h1m3 0h2m16 0h2m1 0h1m4 0h1m19 0h1m1 0h1m10 0h1m14 0h1m10 0h2m-115 1h1m13 0h2m3 0h1m3 0h1m1 0h1m14 0h1m8 0h1m6 0h2m21 0h1m1 0h2m7 0h1m-92 1h1m12 0h1m2 0h1m2 0h1m6 0h1m3 0h3m4 0h1m5 0h1m21 0h1m2 0h1m4 0h1m2 0h1m18 0h1m3 0h1m6 0h1m-109 1h1m7 0h1m13 0h1m2 0h1m1 0h1m1 0h1m10 0h1m1 0h2m14 0h1m27 0h1m4 0h1m21 0h1m-110 1h2m11 0h1m5 0h4m4 0h3m18 0h1m3 0h1m1 0h1m5 0h2m11 0h1m20 0h1m17 0h1m-115 1h1m7 0h1m19 0h1m5 0h1m4 0h1m7 0h1m7 0h1m12 0h2m25 0h1m4 0h1m4 0h1m3 0h3m1 0h1m-108 1h1m9 0h1m4 0h1m3 0h2m4 0h1m2 0h1m8 0h1m20 0h1m11 0h2m1 0h2m2 0h1m-85 1h2m4 0h2m8 0h1m3 0h1m1 0h1m3 0h1m2 0h1m1 0h3m3 0h1m3 0h2m17 0h1m6 0h1m4 0h1m1 0h1m1 0h1m1 0h1m11 0h1m11 0h1m-104 1h1m3 0h1m2 0h2m4 0h1m10 0h1m5 0h1m4 0h1m6 0h1m7 0h1m29 0h1m4 0h1m13 0h1m1 0h1m8 0h1m1 0h2m2 0h1m-114 1h1m6 0h1m2 0h2m3 0h1m8 0h1m8 0h1m1 0h1m2 0h1m17 0h1m9 0h1m9 0h1m11 0h1m11 0h1m9 0h1m-111 1h1m5 0h1m3 0h1m2 0h1m10 0h1m6 0h1m3 0h1m7 0h1m9 0h1m5 0h1m9 0h2m4 0h2m-77 1h1m1 0h1m2 0h1m7 0h2m2 0h1m3 0h1m1 0h1m4 0h1m9 0h2m2 0h1m15 0h2m5 0h1m6 0h1m23 0h1m9 0h1m5 0h1m-115 1h1m4 0h1m2 0h1m6 0h1m5 0h1m6 0h1m2 0h1m6 0h1m1 0h1m13 0h1m5 0h1m4 0h1m17 0h1m6 0h1m11 0h1m11 0h1m-116 1h1m5 0h1m5 0h1m2 0h1m1 0h2m8 0h1m13 0h1m6 0h2m9 0h1m1 0h2m4 0h1m4 0h1m1 0h1m2 0h1m6 0h1m24 0h1m9 0h1m-119 1h2m1 0h1m9 0h1m2 0h1m2 0h1m3 0h1m2 0h1m4 0h1m14 0h1m12 0h1m5 0h1m35 0h2m15 0h1m-113 1h1m2 0h1m4 0h1m1 0h1m15 0h1m6 0h1m13 0h1m4 0h1m37 0h1m7 0h1m2 0h1m4 0h2m-114 1h1m4 0h1m4 0h1m5 0h1m2 0h1m1 0h1m27 0h1m13 0h1m5 0h1m5 0h1m4 0h1m2 0h1m25 0h1m2 0h1m6 0h1m-106 1h1m5 0h2m7 0h1m7 0h1m3 0h1m11 0h1m11 0h1m1 0h1m1 0h1m5 0h1m29 0h1m10 0h1m1 0h1m-118 1h1m7 0h1m11 0h1m2 0h1m22 0h1m3 0h2m8 0h1m11 0h2m40 0h1m-116 1h1m1 0h1m4 0h1m57 0h1m6 0h2m1 0h1m11 0h1m3 0h1m7 0h1m5 0h1m8 0h1m-114 1h1m2 0h1m2 0h1m9 0h1m2 0h1m3 0h2m13 0h1m12 0h2m26 0h2m8 0h1m12 0h1m4 0h2m-110 1h1m1 0h1m2 0h2m1 0h1m9 0h1m2 0h2m4 0h2m2 0h1m8 0h2m10 0h1m9 0h1m11 0h2m9 0h1m11 0h1m3 0h1m1 0h1m1 0h1m9 0h2m-118 1h1m1 0h1m1 0h2m22 0h2m8 0h1m5 0h1m3 0h1m15 0h1m3 0h1m14 0h1m13 0h1m-96 1h1m15 0h1m2 0h1m19 0h1m1 0h1m8 0h3m6 0h1m2 0h2m15 0h1m8 0h1m6 0h1m2 0h1m8 0h1m6 0h1m-107 1h1m8 0h1m13 0h1m3 0h1m7 0h1m3 0h2m2 0h1m5 0h1m7 0h1m6 0h1m3 0h1m7 0h1m6 0h1m16 0h1m9 0h1m-88 1h1m11 0h2m11 0h1m16 0h1m7 0h1m1 0h1m2 0h1m22 0h1m7 0h1m-119 1h2m4 0h1m1 0h1m7 0h1m4 0h1m9 0h1m16 0h1m5 0h1m1 0h3m17 0h1m7 0h1m-80 1h2m2 0h1m1 0h1m12 0h1m1 0h2m12 0h1m1 0h1m2 0h1m4 0h1m5 0h1m3 0h2m1 0h1m1 0h1m5 0h1m5 0h1m4 0h1m7 0h1m4 0h1m-95 1h1m1 0h1m2 0h1m1 0h1m18 0h1m12 0h2m4 0h2m1 0h2m1 0h1m5 0h1m2 0h1m14 0h2m11 0h1m14 0h1m3 0h1m6 0h2m-112 1h1m19 0h1m9 0h2m3 0h2m2 0h1m5 0h1m7 0h1m1 0h1m2 0h2m6 0h1m2 0h1m4 0h1m1 0h3m10 0h1m11 0h1m4 0h1m1 0h1m-114 1h1m1 0h1m1 0h1m3 0h1m2 0h1m5 0h1m4 0h1m17 0h1m3 0h1m11 0h1m9 0h1m9 0h1m8 0h1m6 0h1m12 0h1m10 0h2m1 0h1m-119 1h1m1 0h1m5 0h1m4 0h1m1 0h2m2 0h2m10 0h1m5 0h1m23 0h1m12 0h1m5 0h1m1 0h1m4 0h2m6 0h1m22 0h1m-115 1h1m1 0h1m1 0h1m16 0h1m10 0h1m5 0h1m3 0h1m6 0h2m4 0h1m1 0h1m7 0h1m33 0h2m11 0h1m-119 1h1m3 0h1m6 0h1m4 0h1m1 0h1m1 0h1m4 0h2m2 0h1m10 0h1m10 0h1m9 0h1m1 0h1m2 0h1m19 0h1m2 0h2m9 0h2m3 0h1m8 0h1m-115 1h1m2 0h1m5 0h2m2 0h1m6 0h1m6 0h1m12 0h1m7 0h1m3 0h1m1 0h1m22 0h1m4 0h2m3 0h1m14 0h1m1 0h1m8 0h1m-114 1h1m4 0h1m3 0h2m5 0h2m3 0h1m1 0h1m2 0h2m3 0h1m10 0h1m17 0h1m7 0h2m7 0h1m11 0h1m6 0h1m12 0h1m-102 1h4m2 0h1m3 0h2m1 0h1m4 0h2m11 0h1m2 0h1m2 0h1m6 0h1m10 0h1m8 0h1m2 0h1m7 0h1m2 0h1m10 0h1m3 0h1m12 0h1m-115 1h1m2 0h1m3 0h1m4 0h1m2 0h1m4 0h1m4 0h1m15 0h2m1 0h1m8 0h1m1 0h1m7 0h1m7 0h2m4 0h1m13 0h2m26 0h1m-114 1h1m3 0h1m6 0h1m11 0h1m11 0h1m5 0h1m6 0h1m7 0h1m8 0h3m31 0h1m-101 1h1m1 0h2m35 0h3m28 0h1m14 0h1m1 0h1m13 0h1m1 0h1m3 0h1m-113 1h1m4 0h1m1 0h2m9 0h1m1 0h1m4 0h1m1 0h1m14 0h1m3 0h2m4 0h2m14 0h1m43 0h1m4 0h1m2 0h1m-119 1h1m20 0h1m17 0h1m2 0h1m7 0h1m58 0h1m5 0h1m-100 1h1m4 0h1m6 0h1m10 0h1m22 0h1m8 0h1m14 0h1m3 0h1m5 0h1m10 0h1m7 0h1m1 0h1m-115 1h1m18 0h1m3 0h1m12 0h1m27 0h1m16 0h1m5 0h2m15 0h1m3 0h1m-110 1h1m17 0h1m4 0h1m17 0h1m2 0h1m1 0h1m32 0h1m2 0h1m4 0h1m15 0h1m2 0h1m5 0h2m-118 1h1m2 0h2m14 0h2m9 0h1m11 0h1m1 0h1m24 0h1m3 0h1m18 0h1m1 0h1m9 0h1m8 0h2m3 0h1m-94 1h1m3 0h1m15 0h1m4 0h1m20 0h1m16 0h2m2 0h1m1 0h2m12 0h1m9 0h1m-118 1h1m7 0h1m20 0h1m16 0h1m4 0h1m11 0h1m7 0h1m13 0h2m3 0h1m1 0h1m9 0h1m4 0h1m10 0h1m-117 1h1m1 0h1m1 0h1m11 0h1m8 0h2m11 0h1m5 0h1m1 0h1m14 0h1m5 0h1m13 0h1m13 0h1m10 0h1m-103 1h1m37 0h1m6 0h1m12 0h1m3 0h1m17 0h1m8 0h1m16 0h1m-114 1h1m2 0h2m15 0h1m1 0h2m4 0h3m20 0h1m9 0h1m21 0h2m4 0h1m3 0h1m-90 1h3m2 0h1m33 0h1m3 0h1m19 0h1m7 0h1m1 0h1m3 0h1m26 0h1m6 0h1m2 0h1m-116 1h1m1 0h1m4 0h1m18 0h1m1 0h1m8 0h1m3 0h1m4 0h1m17 0h1m23 0h1m1 0h1m2 0h1m11 0h1m-106 1h3m1 0h1m1 0h1m7 0h1m2 0h1m2 0h2m1 0h1m1 0h2m15 0h1m11 0h1m13 0h3m3 0h1m6 0h1m10 0h2m-92 1h1m11 0h1m3 0h1m7 0h1m12 0h1m1 0h1m8 0h1m3 0h1m5 0h1m1 0h1m12 0h1m1 0h1m1 0h1m1 0h1m8 0h1m11 0h1m3 0h1m3 0h1m3 0h1m-114 1h1m2 0h1m8 0h2m5 0h1m10 0h1m1 0h1m4 0h1m2 0h1m5 0h1m8 0h1m5 0h1m9 0h1m13 0h1m4 0h1m2 0h1m2 0h1m3 0h1m-104 1h1m2 0h1m18 0h1m2 0h2m2 0h2m3 0h2m3 0h1m12 0h1m1 0h1m2 0h1m2 0h1m7 0h1m4 0h2m2 0h1m3 0h1m5 0h1m2 0h1m16 0h1m1 0h1m2 0h1m-111 1h1m2 0h1m10 0h1m12 0h1m9 0h3m4 0h1m13 0h2m3 0h1m7 0h1m9 0h1m7 0h1m14 0h1m-98 1h2m1 0h1m16 0h1m1 0h1m2 0h1m13 0h1m15 0h1m1 0h2m26 0h1m-67 1h2m10 0h1m4 0h2m1 0h1m2 0h1m4 0h1m4 0h1m11 0h1m7 0h1m13 0h1m8 0h1m9 0h1m-116 1h1m3 0h1m1 0h1m7 0h3m6 0h1m9 0h1m13 0h1m11 0h3m2 0h2m3 0h1m1 0h1m11 0h2m2 0h1m4 0h1m5 0h1m13 0h1m-111 1h1m6 0h1m11 0h1m7 0h1m5 0h1m25 0h1m2 0h1m6 0h2m5 0h1m10 0h1m4 0h1m2 0h2m-99 1h2m2 0h1m5 0h1m2 0h1m2 0h1m1 0h1m4 0h1m6 0h1m3 0h2m1 0h1m3 0h1m3 0h1m26 0h1m14 0h1m4 0h1m1 0h1m1 0h1m-96 1h1m4 0h1m13 0h1m9 0h3m17 0h3m6 0h1m1 0h1m6 0h1m22 0h1m2 0h2m8 0h1m4 0h1m9 0h1m-119 1h1m2 0h1m6 0h1m1 0h1m3 0h1m4 0h2m7 0h1m1 0h3m18 0h1m7 0h1m1 0h1m3 0h2m3 0h1m21 0h1m3 0h1m11 0h1m1 0h1m1 0h2m1 0h1m-116 1h1m6 0h1m17 0h1m11 0h1m2 0h2m4 0h1m12 0h1m25 0h1m3 0h2m7 0h1m3 0h1m2 0h1m-107 1h1m2 0h1m6 0h1m5 0h2m4 0h1m16 0h1m3 0h1m39 0h1m6 0h1m5 0h1m1 0h1m7 0h2m4 0h1m5 0h1m-117 1h1m2 0h1m14 0h3m2 0h1m14 0h1m2 0h1m5 0h1m15 0h2m19 0h1m8 0h1m10 0h1m2 0h1m6 0h1m-119 1h2m4 0h1m12 0h1m1 0h1m1 0h1m28 0h1m11 0h2m42 0h1m-109 1h2m3 0h1m2 0h1m16 0h1m1 0h2m15 0h1m43 0h2m3 0h1m-92 1h4m15 0h1m2 0h1m17 0h2m1 0h2m26 0h1m25 0h1m12 0h1m-109 1h1m16 0h1m8 0h1m18 0h1m17 0h1m26 0h1m-95 1h1m3 0h1m15 0h2m43 0h1m21 0h1m2 0h1m2 0h1m3 0h1m16 0h1m-108 1h1m17 0h1m19 0h1m3 0h1m15 0h1m3 0h1m25 0h1m21 0h1m1 0h1m-70 1h1m20 0h1m4 0h1m16 0h1m3 0h1m13 0h1m6 0h1m-76 1h1m2 0h2m17 0h1m2 0h1m33 0h1m-96 1h1m13 0h1m23 0h1m1 0h1m19 0h1m5 0h1m12 0h1m23 0h1m4 0h1m-92 1h1m2 0h1m17 0h1m21 0h1m5 0h1m22 0h1m5 0h1m7 0h1m-104 1h1m19 0h1m43 0h1m17 0h1m14 0h1m13 0h1m-117 1h1m19 0h1m1 0h1m20 0h2m22 0h1m3 0h1m16 0h1m3 0h1m17 0h1m1 0h1m-115 1h1m44 0h1m24 0h1m15 0h1m8 0h1m8 0h1m1 0h3m-106 1h1m19 0h1m1 0h1m21 0h1m23 0h1m14 0h2m7 0h1m-96 1h1m3 0h2m1 0h1m13 0h1m21 0h1m2 0h1m4 0h1m14 0h1m20 0h1m7 0h1m18 0h1m-94 1h1m21 0h1m5 0h1m1 0h1m19 0h1m2 0h1m29 0h1m-105 1h1m3 0h2m14 0h1m53 0h1m11 0h2m16 0h1m8 0h1m-110 1h2m16 0h1m7 0h1m13 0h1m3 0h1m14 0h1m2 0h1m2 0h1m5 0h1m12 0h1m23 0h1m-110 1h2m2 0h2m17 0h1m15 0h1m3 0h1m5 0h1m2 0h1m14 0h1m4 0h1m3 0h3m1 0h1m4 0h1m1 0h1m12 0h1m1 0h1m7 0h1m6 0h1m-119 1h1m2 0h1m21 0h1m3 0h1m18 0h1m12 0h2m1 0h1m17 0h1m8 0h1m1 0h1m4 0h1m14 0h1m-111 1h1m16 0h1m10 0h1m21 0h1m6 0h1m1 0h1m7 0h1m39 0h1m2 0h1m-92 1h1m2 0h1m12 0h2m1 0h1m8 0h1m33 0h1m2 0h1m1 0h1m5 0h1m-89 1h1m12 0h1m19 0h1m6 0h1m19 0h1m11 0h1m3 0h1m3 0h2m14 0h1m2 0h1m-107 1h1m5 0h1m13 0h2m6 0h2m2 0h1m9 0h1m3 0h1m16 0h1m8 0h1m2 0h1m12 0h1m6 0h1m10 0h1m-102 1h1m14 0h1m5 0h1m2 0h2m1 0h1m1 0h1m35 0h1m10 0h1m15 0h1m10 0h1m-105 1h2m7 0h3m10 0h1m2 0h1m5 0h1m10 0h1m1 0h3m3 0h1m1 0h1m8 0h1m6 0h1m10 0h1m10 0h1m-92 1h1m9 0h1m1 0h1m5 0h1m1 0h1m1 0h1m31 0h1m5 0h2m2 0h1m11 0h1m5 0h1m3 0h1m14 0h1m6 0h1m-98 1h1m28 0h1m3 0h1m3 0h1m5 0h1m7 0h1m3 0h1m5 0h1m15 0h1m5 0h1m3 0h1m1 0h2m8 0h1m-100 1h1m38 0h2m11 0h1m6 0h1m8 0h2m3 0h2m26 0h1m-117 1h1m10 0h1m7 0h1m7 0h1m1 0h2m5 0h1m19 0h1m11 0h1m4 0h1m18 0h1m26 0h1m-115 1h1m14 0h1m3 0h1m6 0h1m11 0h1m9 0h1m1 0h2m5 0h1m2 0h2m22 0h1m4 0h1m6 0h1m13 0h1m2 0h1m-112 1h1m4 0h1m2 0h1m9 0h1m17 0h1m2 0h1m6 0h1m16 0h1m2 0h1m22 0h1m18 0h1m3 0h1m-107 1h1m31 0h1m1 0h1m5 0h1m17 0h1m18 0h1m5 0h1m-97 1h1m8 0h1m34 0h1m48 0h1m-94 1h1m18 0h1m5 0h1m4 0h1m34 0h1m2 0h1m2 0h1m24 0h2m15 0h1m-115 1h3m2 0h1m3 0h2m16 0h1m4 0h1m57 0h1m6 0h1m-92 1h1m1 0h1m20 0h1m16 0h1m4 0h1m16 0h1m21 0h1m13 0h4m-107 1h1m4 0h1m17 0h1m1 0h1m1 0h1m15 0h1m5 0h1m16 0h1m-68 1h1m5 0h1m16 0h2m3 0h1m19 0h1m22 0h1m-70 1h2m1 0h2m22 0h1m16 0h2m1 0h2m20 0h1m36 0h1m2 0h1m-89 1h1m21 0h1m23 0h1m2 0h1m18 0h1m12 0h1m1 0h1m-103 1h1m1 0h1m38 0h1m21 0h1m28 0h1m3 0h1m1 0h1m-103 1h1m4 0h1m20 0h1m18 0h1m4 0h1m40 0h1m8 0h1m15 0h1m-113 1h1m41 0h1m59 0h1m6 0h1m-114 1h1m70 0h1m4 0h1m12 0h1m5 0h1m13 0h1m-85 1h1m67 0h1m1 0h1m18 0h1m-113 1h1m1 0h2m43 0h1m18 0h1m24 0h1m24 0h2m-71 1h1m42 0h1m5 0h1m11 0h1m-111 1h1m45 0h1m1 0h1m1 0h1m39 0h1m10 0h1m5 0h1m5 0h1m-113 1h1m4 0h1m43 0h1m22 0h1m19 0h1m4 0h1m20 0h1m-116 1h1m88 0h1m22 0h1m-114 1h2m1 0h1m43 0h1m40 0h1m26 0h1m-71 1h1m18 0h1m21 0h1m5 0h1m12 0h1m1 0h1m7 0h1m-118 1h1m22 0h2m1 0h3m42 0h1m16 0h1m5 0h1m11 0h1m-108 1h1m24 0h1m2 0h1m37 0h1m1 0h1m26 0h1m5 0h1m16 0h1m-93 1h1m24 0h1m22 0h1m35 0h1m6 0h2m-116 1h1m24 0h2m20 0h1m18 0h1m23 0h1m2 0h1m4 0h1m5 0h1m-107 1h1m3 0h1m17 0h1m2 0h1m46 0h1m11 0h1m9 0h1m3 0h1m16 0h1m-117 1h1m28 0h1m14 0h1m4 0h1m29 0h1m10 0h2m11 0h1m11 0h1m4 0h1m-121 1h1m42 0h1m20 0h1m5 0h1m14 0h1m22 0h1m1 0h1m-106 1h1m1 0h1m16 0h1m30 0h1m7 0h1m2 0h1m4 0h1m4 0h1m1 0h1m36 0h1m2 0h1m-118 1h1m47 0h1m15 0h1m17 0h1m9 0h1m-93 1h2m2 0h1m44 0h1m6 0h1m9 0h1m16 0h1m8 0h1m12 0h1m4 0h2m-108 1h1m4 0h1m8 0h1m8 0h1m20 0h1m5 0h1m5 0h1m5 0h1m2 0h1m19 0h1m4 0h2m11 0h1m-106 1h1m1 0h1m3 0h1m7 0h1m6 0h1m2 0h1m14 0h1m1 0h1m9 0h1m7 0h1m1 0h2m22 0h1m-87 1h1m1 0h2m14 0h1m1 0h1m25 0h1m12 0h4m10 0h1m2 0h1m1 0h1m2 0h1m10 0h1m3 0h1m-97 1h1m8 0h1m3 0h1m2 0h1m6 0h1m16 0h1m6 0h2m1 0h1m11 0h2m2 0h3m1 0h1m2 0h1m12 0h1m9 0h1m16 0h1m-107 1h1m4 0h1m3 0h1m30 0h1m18 0h1m5 0h1m3 0h1m1 0h1m4 0h1m4 0h1m4 0h1m2 0h1m19 0h3m-109 1h1m15 0h1m3 0h1m2 0h1m5 0h1m13 0h1m3 0h2m4 0h2m3 0h1m5 0h1m1 0h1m2 0h1m9 0h1m6 0h2m3 0h1m3 0h1m-78 1h1m2 0h1m8 0h1m36 0h1m19 0h1m2 0h1m11 0h1m-111 1h1m3 0h1m5 0h1m14 0h1m4 0h1m20 0h2m1 0h1m4 0h1m7 0h2m7 0h1m22 0h1m4 0h1"/>
</g></g></g>
<defs><linearGradient id="cb" x1="0" y1="1" x2="0" y2="0"><stop offset="0.0000" stop-color="#fdfdcc"/><stop offset="0.0909" stop-color="#ceecb3"/><stop offset="0.1818" stop-color="#9cdba5"/><stop offset="0.2727" stop-color="#6fc9a3"/><stop offset="0.3636" stop-color="#56b1a3"/><stop offset="0.4545" stop-color="#4c99a0"/><stop offset="0.5455" stop-color="#44829b"/><stop offset="0.6364" stop-color="#3e6c96"/><stop offset="0.7273" stop-color="#3e528f"/><stop offset="0.8182" stop-color="#403c73"/><stop offset="0.9091" stop-color="#362b4d"/><stop offset="1.0000" stop-color="#271a2c"/></linearGradient></defs>
<rect x="1110.8" y="52.2" width="6.7" height="317.6" fill="url(#cb)"/>
<text class="s" transform="translate(1122.30,377.80) scale(1,1.08)" font-size="19">0</text>
<text class="s" transform="translate(1122.30,289.58) scale(1,1.08)" font-size="19">37</text>
<text class="s" transform="translate(1122.30,201.36) scale(1,1.08)" font-size="19">74</text>
<text class="s" transform="translate(1122.30,113.13) scale(1,1.08)" font-size="19">111</text>
<path d="M1117.5 369.80h-3.3M1117.5 281.58h-3.3M1117.5 193.36h-3.3M1117.5 105.13h-3.3" stroke="#333" stroke-width="0.8" fill="none"/>
<text class="s" transform="translate(1177.10,212.00) rotate(-90) scale(1,1.06)" text-anchor="middle" font-size="19.6">Relative depth (mm)</text>
<rect x="1108.8" y="437.3" width="7.2" height="316.99999999999994" fill="url(#cb)"/>
<text class="s" transform="translate(1120.80,762.30) scale(1,1.08)" font-size="19">0</text>
<text class="s" transform="translate(1120.80,674.24) scale(1,1.08)" font-size="19">37</text>
<text class="s" transform="translate(1120.80,586.19) scale(1,1.08)" font-size="19">74</text>
<text class="s" transform="translate(1120.80,498.13) scale(1,1.08)" font-size="19">111</text>
<path d="M1116.0 754.30h-3.3M1116.0 666.24h-3.3M1116.0 578.19h-3.3M1116.0 490.13h-3.3" stroke="#333" stroke-width="0.8" fill="none"/>
<text class="s" transform="translate(1175.60,596.80) rotate(-90) scale(1,1.06)" text-anchor="middle" font-size="19.6">Relative depth (mm)</text>
<rect x="1108" y="835" width="7.2" height="318.9000000000001" fill="url(#cb)"/>
<text class="s" transform="translate(1120.00,1161.90) scale(1,1.08)" font-size="19">0</text>
<text class="s" transform="translate(1120.00,1073.32) scale(1,1.08)" font-size="19">37</text>
<text class="s" transform="translate(1120.00,984.73) scale(1,1.08)" font-size="19">74</text>
<text class="s" transform="translate(1120.00,896.15) scale(1,1.08)" font-size="19">111</text>
<path d="M1115.2 1153.90h-3.3M1115.2 1065.32h-3.3M1115.2 976.73h-3.3M1115.2 888.15h-3.3" stroke="#333" stroke-width="0.8" fill="none"/>
<text class="s" transform="translate(1174.80,994.25) rotate(-90) scale(1,1.06)" text-anchor="middle" font-size="19.6">Relative depth (mm)</text>
</svg>
</body></html>
